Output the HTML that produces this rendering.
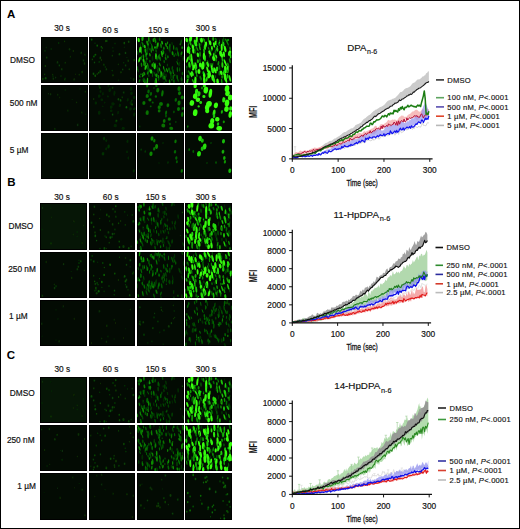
<!DOCTYPE html>
<html><head><meta charset="utf-8"><style>
html,body{margin:0;padding:0;background:#fff;}
body{width:520px;height:529px;overflow:hidden;}
svg{display:block;font-family:"Liberation Sans", sans-serif;}
</style></head><body>
<svg width="520" height="529" viewBox="0 0 520 529">
<defs><filter id="bl" x="-20%" y="-20%" width="140%" height="140%"><feGaussianBlur stdDeviation="0.45"/></filter></defs>
<rect x="0" y="0" width="520" height="529" fill="#fff"/>
<rect x="41" y="37" width="47" height="46" fill="#000"/>
<rect x="42" y="38" width="45" height="44" fill="#030b03"/>
<svg x="41" y="37" width="47" height="46" overflow="hidden"><g filter="url(#bl)">
<ellipse cx="42.5" cy="23.5" rx="0.9" ry="1.2" fill="rgb(10,45,8)" fill-opacity="0.9"/>
<ellipse cx="12.0" cy="39.3" rx="0.5" ry="0.7" fill="rgb(10,62,8)" fill-opacity="0.9"/>
<ellipse cx="5.7" cy="20.7" rx="0.8" ry="1.1" fill="rgb(10,60,8)" fill-opacity="0.9"/>
<ellipse cx="4.3" cy="28.9" rx="0.7" ry="1.0" fill="rgb(10,74,8)" fill-opacity="0.9"/>
<ellipse cx="20.8" cy="32.2" rx="0.9" ry="1.2" fill="rgb(10,48,8)" fill-opacity="0.9"/>
<ellipse cx="38.2" cy="37.8" rx="0.7" ry="1.0" fill="rgb(10,49,8)" fill-opacity="0.9"/>
<ellipse cx="18.3" cy="28.4" rx="0.8" ry="1.1" fill="rgb(10,59,8)" fill-opacity="0.9"/>
<ellipse cx="33.1" cy="42.6" rx="0.7" ry="0.9" fill="rgb(10,41,8)" fill-opacity="0.9"/>
<ellipse cx="3.7" cy="37.3" rx="0.7" ry="0.9" fill="rgb(10,62,8)" fill-opacity="0.9"/>
<ellipse cx="16.5" cy="25.4" rx="0.9" ry="1.3" fill="rgb(10,50,8)" fill-opacity="0.9"/>
<ellipse cx="33.2" cy="42.4" rx="1.0" ry="1.3" fill="rgb(10,40,8)" fill-opacity="0.9"/>
<ellipse cx="14.6" cy="40.6" rx="0.8" ry="1.1" fill="rgb(10,46,8)" fill-opacity="0.9"/>
<ellipse cx="23.8" cy="42.4" rx="0.8" ry="1.2" fill="rgb(10,55,8)" fill-opacity="0.9"/>
<ellipse cx="41.1" cy="35.1" rx="1.0" ry="1.4" fill="rgb(10,47,8)" fill-opacity="0.9"/>
<ellipse cx="43.9" cy="17.7" rx="0.9" ry="1.2" fill="rgb(10,40,8)" fill-opacity="0.9"/>
<ellipse cx="43.5" cy="26.5" rx="1.0" ry="1.4" fill="rgb(10,44,8)" fill-opacity="0.9"/>
<ellipse cx="24.2" cy="25.8" rx="0.7" ry="1.0" fill="rgb(10,53,8)" fill-opacity="0.9"/>
<ellipse cx="17.7" cy="6.0" rx="0.6" ry="0.9" fill="rgb(10,62,8)" fill-opacity="0.9"/>
<ellipse cx="23.6" cy="4.4" rx="0.6" ry="0.8" fill="rgb(10,57,8)" fill-opacity="0.9"/>
<ellipse cx="10.2" cy="11.9" rx="0.7" ry="1.0" fill="rgb(10,49,8)" fill-opacity="0.9"/>
<ellipse cx="24.2" cy="41.4" rx="0.6" ry="0.8" fill="rgb(10,57,8)" fill-opacity="0.9"/>
<ellipse cx="11.7" cy="37.7" rx="0.7" ry="1.0" fill="rgb(10,50,8)" fill-opacity="0.9"/>
<ellipse cx="4.0" cy="13.9" rx="0.5" ry="0.8" fill="rgb(10,75,8)" fill-opacity="0.9"/>
<ellipse cx="28.5" cy="12.2" rx="0.9" ry="1.3" fill="rgb(10,47,8)" fill-opacity="0.9"/>
<ellipse cx="34.5" cy="37.3" rx="0.6" ry="0.8" fill="rgb(10,42,8)" fill-opacity="0.9"/>
<ellipse cx="12.3" cy="41.6" rx="0.9" ry="1.3" fill="rgb(10,47,8)" fill-opacity="0.9"/>
<ellipse cx="5.2" cy="10.6" rx="0.5" ry="0.8" fill="rgb(10,58,8)" fill-opacity="0.9"/>
<ellipse cx="40.2" cy="15.9" rx="1.0" ry="1.4" fill="rgb(10,43,8)" fill-opacity="0.9"/>
<ellipse cx="4.7" cy="41.3" rx="1.0" ry="1.3" fill="rgb(10,75,8)" fill-opacity="0.9"/>
<ellipse cx="44.8" cy="43.8" rx="0.6" ry="0.9" fill="rgb(10,39,8)" fill-opacity="0.9"/>
<ellipse cx="1.8" cy="42.0" rx="1.0" ry="1.3" fill="rgb(10,56,8)" fill-opacity="0.9"/>
<ellipse cx="20.0" cy="39.1" rx="0.7" ry="1.0" fill="rgb(10,49,8)" fill-opacity="0.9"/>
<ellipse cx="32.3" cy="14.0" rx="0.8" ry="1.1" fill="rgb(10,50,8)" fill-opacity="0.9"/>
<ellipse cx="29.4" cy="19.7" rx="0.7" ry="1.0" fill="rgb(10,46,8)" fill-opacity="0.9"/>
</g></svg>
<rect x="89" y="37" width="47" height="46" fill="#000"/>
<rect x="90" y="38" width="45" height="44" fill="#030b03"/>
<svg x="89" y="37" width="47" height="46" overflow="hidden"><g filter="url(#bl)">
<ellipse cx="8.2" cy="8.7" rx="0.8" ry="1.1" fill="rgb(10,98,8)" fill-opacity="0.9"/>
<ellipse cx="35.3" cy="6.1" rx="0.9" ry="1.3" fill="rgb(10,78,8)" fill-opacity="0.9"/>
<ellipse cx="12.3" cy="9.9" rx="0.7" ry="0.9" fill="rgb(10,96,8)" fill-opacity="0.9"/>
<ellipse cx="4.9" cy="19.4" rx="0.7" ry="1.0" fill="rgb(10,112,8)" fill-opacity="0.9"/>
<ellipse cx="14.9" cy="27.7" rx="0.9" ry="1.2" fill="rgb(10,53,8)" fill-opacity="0.9"/>
<ellipse cx="39.2" cy="23.8" rx="0.9" ry="1.3" fill="rgb(10,58,8)" fill-opacity="0.9"/>
<ellipse cx="41.9" cy="41.1" rx="0.6" ry="0.9" fill="rgb(10,46,8)" fill-opacity="0.9"/>
<ellipse cx="11.3" cy="20.9" rx="0.9" ry="1.3" fill="rgb(10,64,8)" fill-opacity="0.9"/>
<ellipse cx="35.2" cy="10.2" rx="0.5" ry="0.8" fill="rgb(10,53,8)" fill-opacity="0.9"/>
<ellipse cx="6.6" cy="17.7" rx="0.7" ry="1.0" fill="rgb(10,102,8)" fill-opacity="0.9"/>
<ellipse cx="9.8" cy="35.7" rx="0.7" ry="1.0" fill="rgb(10,87,8)" fill-opacity="0.9"/>
<ellipse cx="5.5" cy="25.5" rx="0.8" ry="1.1" fill="rgb(10,70,8)" fill-opacity="0.9"/>
<ellipse cx="11.2" cy="34.4" rx="0.9" ry="1.3" fill="rgb(10,67,8)" fill-opacity="0.9"/>
<ellipse cx="37.9" cy="20.4" rx="0.5" ry="0.7" fill="rgb(10,53,8)" fill-opacity="0.9"/>
<ellipse cx="31.9" cy="35.3" rx="0.9" ry="1.3" fill="rgb(10,48,8)" fill-opacity="0.9"/>
<ellipse cx="26.0" cy="6.5" rx="0.7" ry="0.9" fill="rgb(10,53,8)" fill-opacity="0.9"/>
<ellipse cx="17.4" cy="32.3" rx="0.8" ry="1.2" fill="rgb(10,54,8)" fill-opacity="0.9"/>
<ellipse cx="34.7" cy="25.8" rx="0.6" ry="0.8" fill="rgb(10,62,8)" fill-opacity="0.9"/>
<ellipse cx="2.7" cy="2.6" rx="0.8" ry="1.2" fill="rgb(10,97,8)" fill-opacity="0.9"/>
<ellipse cx="36.6" cy="28.4" rx="0.8" ry="1.2" fill="rgb(10,60,8)" fill-opacity="0.9"/>
<ellipse cx="12.4" cy="22.9" rx="0.7" ry="1.0" fill="rgb(10,58,8)" fill-opacity="0.9"/>
<ellipse cx="13.2" cy="11.1" rx="0.8" ry="1.1" fill="rgb(10,60,8)" fill-opacity="0.9"/>
<ellipse cx="23.3" cy="18.8" rx="0.7" ry="1.0" fill="rgb(10,56,8)" fill-opacity="0.9"/>
<ellipse cx="5.8" cy="18.0" rx="0.7" ry="1.0" fill="rgb(10,61,8)" fill-opacity="0.9"/>
<ellipse cx="17.8" cy="3.9" rx="0.9" ry="1.2" fill="rgb(10,66,8)" fill-opacity="0.9"/>
<ellipse cx="39.7" cy="4.8" rx="0.9" ry="1.2" fill="rgb(10,69,8)" fill-opacity="0.9"/>
<ellipse cx="4.5" cy="36.8" rx="0.9" ry="1.3" fill="rgb(10,84,8)" fill-opacity="0.9"/>
<ellipse cx="36.5" cy="15.9" rx="0.8" ry="1.2" fill="rgb(10,66,8)" fill-opacity="0.9"/>
<ellipse cx="33.7" cy="32.5" rx="0.8" ry="1.1" fill="rgb(10,63,8)" fill-opacity="0.9"/>
<ellipse cx="40.3" cy="32.3" rx="0.7" ry="1.0" fill="rgb(10,69,8)" fill-opacity="0.9"/>
<ellipse cx="23.9" cy="38.3" rx="0.9" ry="1.2" fill="rgb(10,48,8)" fill-opacity="0.9"/>
<ellipse cx="40.3" cy="32.3" rx="0.5" ry="0.7" fill="rgb(10,55,8)" fill-opacity="0.9"/>
<ellipse cx="23.2" cy="33.6" rx="0.6" ry="0.8" fill="rgb(10,71,8)" fill-opacity="0.9"/>
<ellipse cx="10.2" cy="24.9" rx="0.7" ry="0.9" fill="rgb(10,66,8)" fill-opacity="0.9"/>
<ellipse cx="45.2" cy="23.1" rx="0.9" ry="1.3" fill="rgb(10,57,8)" fill-opacity="0.9"/>
<ellipse cx="16.3" cy="30.1" rx="0.6" ry="0.8" fill="rgb(10,66,8)" fill-opacity="0.9"/>
<ellipse cx="16.8" cy="4.1" rx="0.8" ry="1.2" fill="rgb(10,75,8)" fill-opacity="0.9"/>
<ellipse cx="29.3" cy="27.4" rx="0.6" ry="0.9" fill="rgb(10,54,8)" fill-opacity="0.9"/>
<ellipse cx="44.7" cy="42.5" rx="1.0" ry="1.4" fill="rgb(10,48,8)" fill-opacity="0.9"/>
<ellipse cx="30.4" cy="17.2" rx="0.9" ry="1.2" fill="rgb(10,68,8)" fill-opacity="0.9"/>
<ellipse cx="6.2" cy="38.7" rx="0.9" ry="1.3" fill="rgb(10,88,8)" fill-opacity="0.9"/>
<ellipse cx="8.2" cy="37.0" rx="0.8" ry="1.1" fill="rgb(10,58,8)" fill-opacity="0.9"/>
<ellipse cx="23.8" cy="10.7" rx="0.6" ry="0.8" fill="rgb(10,54,8)" fill-opacity="0.9"/>
<ellipse cx="3.3" cy="22.4" rx="0.6" ry="0.9" fill="rgb(10,76,8)" fill-opacity="0.9"/>
<ellipse cx="6.0" cy="6.3" rx="0.5" ry="0.7" fill="rgb(10,67,8)" fill-opacity="0.9"/>
<ellipse cx="29.3" cy="43.2" rx="0.5" ry="0.8" fill="rgb(10,59,8)" fill-opacity="0.9"/>
<ellipse cx="24.1" cy="14.1" rx="0.6" ry="0.8" fill="rgb(10,55,8)" fill-opacity="0.9"/>
<ellipse cx="12.5" cy="13.4" rx="0.7" ry="1.0" fill="rgb(10,61,8)" fill-opacity="0.9"/>
</g></svg>
<rect x="137" y="37" width="47" height="46" fill="#000"/>
<rect x="138" y="38" width="45" height="44" fill="#030b03"/>
<svg x="137" y="37" width="47" height="46" overflow="hidden"><g filter="url(#bl)">
<ellipse cx="5.5" cy="38.8" rx="0.6" ry="1.5" transform="rotate(14 5.5 38.8)" fill="rgb(16,158,6)"/>
<ellipse cx="38.9" cy="12.0" rx="0.8" ry="1.5" transform="rotate(-12 38.9 12.0)" fill="rgb(1,55,1)"/>
<ellipse cx="45.4" cy="36.5" rx="0.8" ry="1.7" transform="rotate(2 45.4 36.5)" fill="rgb(4,97,3)"/>
<ellipse cx="15.3" cy="10.4" rx="0.6" ry="1.4" transform="rotate(11 15.3 10.4)" fill="rgb(16,156,6)"/>
<ellipse cx="23.2" cy="21.8" rx="0.8" ry="2.2" transform="rotate(-5 23.2 21.8)" fill="rgb(5,103,3)"/>
<ellipse cx="1.0" cy="33.1" rx="0.6" ry="2.5" transform="rotate(-9 1.0 33.1)" fill="rgb(2,77,2)"/>
<ellipse cx="41.1" cy="16.8" rx="0.9" ry="2.8" transform="rotate(-12 41.1 16.8)" fill="rgb(6,110,4)"/>
<ellipse cx="12.2" cy="32.9" rx="0.8" ry="1.9" transform="rotate(-11 12.2 32.9)" fill="rgb(7,117,4)"/>
<ellipse cx="22.2" cy="18.6" rx="0.8" ry="1.9" transform="rotate(8 22.2 18.6)" fill="rgb(3,85,3)"/>
<ellipse cx="24.0" cy="8.7" rx="0.8" ry="2.5" transform="rotate(-6 24.0 8.7)" fill="rgb(10,131,5)"/>
<ellipse cx="10.7" cy="36.2" rx="0.9" ry="1.5" transform="rotate(7 10.7 36.2)" fill="rgb(9,128,5)"/>
<ellipse cx="22.7" cy="2.2" rx="0.8" ry="1.9" transform="rotate(1 22.7 2.2)" fill="rgb(3,86,3)"/>
<ellipse cx="26.4" cy="15.6" rx="0.9" ry="1.9" transform="rotate(5 26.4 15.6)" fill="rgb(13,147,6)"/>
<ellipse cx="8.8" cy="25.8" rx="0.7" ry="1.8" transform="rotate(3 8.8 25.8)" fill="rgb(8,122,4)"/>
<ellipse cx="0.2" cy="31.5" rx="0.7" ry="1.8" transform="rotate(-11 0.2 31.5)" fill="rgb(10,132,5)"/>
<ellipse cx="35.9" cy="33.5" rx="0.6" ry="1.5" transform="rotate(-4 35.9 33.5)" fill="rgb(5,105,3)"/>
<ellipse cx="24.9" cy="17.9" rx="0.9" ry="2.4" transform="rotate(-14 24.9 17.9)" fill="rgb(10,133,5)"/>
<ellipse cx="36.3" cy="40.0" rx="0.8" ry="2.5" transform="rotate(3 36.3 40.0)" fill="rgb(4,95,3)"/>
<ellipse cx="14.2" cy="13.4" rx="0.7" ry="2.5" transform="rotate(-6 14.2 13.4)" fill="rgb(10,131,5)"/>
<ellipse cx="40.7" cy="23.3" rx="0.6" ry="1.5" transform="rotate(1 40.7 23.3)" fill="rgb(0,48,1)"/>
<ellipse cx="21.4" cy="39.8" rx="0.9" ry="1.8" transform="rotate(6 21.4 39.8)" fill="rgb(11,134,5)"/>
<ellipse cx="29.0" cy="38.5" rx="0.9" ry="1.9" transform="rotate(-3 29.0 38.5)" fill="rgb(1,53,1)"/>
<ellipse cx="30.4" cy="27.9" rx="0.6" ry="1.5" transform="rotate(0 30.4 27.9)" fill="rgb(2,68,2)"/>
<ellipse cx="0.2" cy="31.1" rx="0.9" ry="1.8" transform="rotate(12 0.2 31.1)" fill="rgb(3,87,3)"/>
<ellipse cx="17.8" cy="37.0" rx="0.7" ry="2.1" transform="rotate(-7 17.8 37.0)" fill="rgb(2,74,2)"/>
<ellipse cx="18.9" cy="6.0" rx="0.9" ry="2.3" transform="rotate(2 18.9 6.0)" fill="rgb(0,46,1)"/>
<ellipse cx="11.0" cy="8.6" rx="0.7" ry="2.2" transform="rotate(-3 11.0 8.6)" fill="rgb(3,84,3)"/>
<ellipse cx="33.9" cy="36.7" rx="0.9" ry="2.4" transform="rotate(0 33.9 36.7)" fill="rgb(4,90,3)"/>
<ellipse cx="27.3" cy="45.7" rx="0.9" ry="1.5" transform="rotate(12 27.3 45.7)" fill="rgb(0,46,1)"/>
<ellipse cx="10.6" cy="12.6" rx="0.8" ry="2.1" transform="rotate(12 10.6 12.6)" fill="rgb(2,70,2)"/>
<ellipse cx="6.0" cy="8.3" rx="0.8" ry="2.3" transform="rotate(-8 6.0 8.3)" fill="rgb(5,104,3)"/>
<ellipse cx="46.3" cy="21.3" rx="0.7" ry="2.6" transform="rotate(4 46.3 21.3)" fill="rgb(1,59,1)"/>
<ellipse cx="15.0" cy="10.2" rx="0.6" ry="2.2" transform="rotate(5 15.0 10.2)" fill="rgb(5,101,3)"/>
<ellipse cx="7.7" cy="44.0" rx="0.7" ry="2.5" transform="rotate(-4 7.7 44.0)" fill="rgb(13,146,6)"/>
<ellipse cx="30.5" cy="19.9" rx="0.6" ry="1.5" transform="rotate(-5 30.5 19.9)" fill="rgb(5,99,3)"/>
<ellipse cx="8.3" cy="18.5" rx="0.6" ry="2.0" transform="rotate(9 8.3 18.5)" fill="rgb(3,84,3)"/>
<ellipse cx="26.7" cy="37.5" rx="0.8" ry="2.5" transform="rotate(4 26.7 37.5)" fill="rgb(2,70,2)"/>
<ellipse cx="6.6" cy="43.5" rx="0.8" ry="2.0" transform="rotate(-13 6.6 43.5)" fill="rgb(11,135,5)"/>
<ellipse cx="35.3" cy="31.0" rx="0.8" ry="1.9" transform="rotate(6 35.3 31.0)" fill="rgb(3,79,2)"/>
<ellipse cx="30.4" cy="10.6" rx="0.7" ry="1.6" transform="rotate(-4 30.4 10.6)" fill="rgb(11,136,5)"/>
<ellipse cx="15.8" cy="35.5" rx="0.7" ry="1.4" transform="rotate(-2 15.8 35.5)" fill="rgb(4,89,3)"/>
<ellipse cx="15.5" cy="38.1" rx="0.6" ry="2.1" transform="rotate(3 15.5 38.1)" fill="rgb(3,83,2)"/>
<ellipse cx="44.9" cy="45.9" rx="0.6" ry="1.8" transform="rotate(-10 44.9 45.9)" fill="rgb(1,55,1)"/>
<ellipse cx="7.7" cy="27.3" rx="0.9" ry="1.6" transform="rotate(-0 7.7 27.3)" fill="rgb(25,188,8)"/>
<ellipse cx="9.3" cy="18.4" rx="0.6" ry="1.6" transform="rotate(-2 9.3 18.4)" fill="rgb(24,184,8)"/>
<ellipse cx="32.9" cy="13.2" rx="0.8" ry="2.5" transform="rotate(-1 32.9 13.2)" fill="rgb(2,69,2)"/>
<ellipse cx="34.1" cy="39.5" rx="0.9" ry="2.7" transform="rotate(9 34.1 39.5)" fill="rgb(0,50,1)"/>
<ellipse cx="9.3" cy="19.3" rx="0.6" ry="2.7" transform="rotate(-10 9.3 19.3)" fill="rgb(4,91,3)"/>
<ellipse cx="0.6" cy="15.7" rx="0.8" ry="2.2" transform="rotate(-7 0.6 15.7)" fill="rgb(2,68,2)"/>
<ellipse cx="33.3" cy="35.5" rx="0.8" ry="1.5" transform="rotate(-13 33.3 35.5)" fill="rgb(7,112,4)"/>
<ellipse cx="15.9" cy="12.6" rx="0.6" ry="1.6" transform="rotate(-10 15.9 12.6)" fill="rgb(22,177,7)"/>
<ellipse cx="37.0" cy="44.5" rx="0.7" ry="2.3" transform="rotate(-3 37.0 44.5)" fill="rgb(1,61,2)"/>
<ellipse cx="32.7" cy="44.4" rx="0.6" ry="2.2" transform="rotate(-9 32.7 44.4)" fill="rgb(0,38,1)"/>
<ellipse cx="27.2" cy="24.6" rx="0.8" ry="1.5" transform="rotate(-7 27.2 24.6)" fill="rgb(4,95,3)"/>
<ellipse cx="18.2" cy="45.1" rx="0.9" ry="2.4" transform="rotate(-1 18.2 45.1)" fill="rgb(5,104,3)"/>
<ellipse cx="9.3" cy="22.7" rx="0.6" ry="2.6" transform="rotate(-5 9.3 22.7)" fill="rgb(1,59,1)"/>
<ellipse cx="44.1" cy="4.8" rx="0.7" ry="2.3" transform="rotate(9 44.1 4.8)" fill="rgb(4,95,3)"/>
<ellipse cx="26.3" cy="40.7" rx="0.9" ry="2.1" transform="rotate(-5 26.3 40.7)" fill="rgb(5,103,3)"/>
<ellipse cx="22.0" cy="20.3" rx="0.8" ry="2.3" transform="rotate(-7 22.0 20.3)" fill="rgb(10,130,5)"/>
<ellipse cx="21.0" cy="34.1" rx="0.8" ry="2.6" transform="rotate(-8 21.0 34.1)" fill="rgb(3,79,2)"/>
<ellipse cx="43.9" cy="17.8" rx="0.8" ry="2.3" transform="rotate(-7 43.9 17.8)" fill="rgb(0,50,1)"/>
<ellipse cx="19.9" cy="37.7" rx="0.7" ry="1.5" transform="rotate(-5 19.9 37.7)" fill="rgb(13,147,6)"/>
<ellipse cx="44.5" cy="42.4" rx="0.9" ry="1.7" transform="rotate(-11 44.5 42.4)" fill="rgb(4,92,3)"/>
<ellipse cx="17.0" cy="27.1" rx="0.7" ry="2.3" transform="rotate(-20 17.0 27.1)" fill="rgb(10,132,5)"/>
<ellipse cx="10.1" cy="16.3" rx="0.9" ry="1.5" transform="rotate(-3 10.1 16.3)" fill="rgb(5,104,3)"/>
<ellipse cx="19.2" cy="44.1" rx="0.7" ry="2.6" transform="rotate(-14 19.2 44.1)" fill="rgb(8,120,4)"/>
<ellipse cx="32.7" cy="9.3" rx="0.9" ry="2.8" transform="rotate(6 32.7 9.3)" fill="rgb(5,103,3)"/>
<ellipse cx="7.1" cy="43.3" rx="0.6" ry="1.7" transform="rotate(-17 7.1 43.3)" fill="rgb(3,80,2)"/>
<ellipse cx="32.0" cy="32.2" rx="0.6" ry="1.8" transform="rotate(-2 32.0 32.2)" fill="rgb(8,120,4)"/>
<ellipse cx="18.4" cy="4.0" rx="0.9" ry="2.0" transform="rotate(-4 18.4 4.0)" fill="rgb(12,139,5)"/>
<ellipse cx="7.3" cy="26.8" rx="0.9" ry="2.5" transform="rotate(1 7.3 26.8)" fill="rgb(19,169,7)"/>
<ellipse cx="20.1" cy="30.1" rx="0.6" ry="2.1" transform="rotate(7 20.1 30.1)" fill="rgb(2,78,2)"/>
<ellipse cx="10.2" cy="13.4" rx="0.9" ry="2.8" transform="rotate(-5 10.2 13.4)" fill="rgb(1,62,2)"/>
<ellipse cx="15.5" cy="21.6" rx="0.8" ry="2.5" transform="rotate(-4 15.5 21.6)" fill="rgb(0,43,1)"/>
<ellipse cx="35.1" cy="6.6" rx="0.9" ry="1.8" transform="rotate(-16 35.1 6.6)" fill="rgb(0,38,1)"/>
<ellipse cx="4.8" cy="1.3" rx="0.7" ry="2.6" transform="rotate(-20 4.8 1.3)" fill="rgb(3,80,2)"/>
<ellipse cx="13.1" cy="5.1" rx="0.8" ry="2.3" transform="rotate(-10 13.1 5.1)" fill="rgb(2,74,2)"/>
<ellipse cx="36.8" cy="44.0" rx="0.9" ry="1.6" transform="rotate(10 36.8 44.0)" fill="rgb(3,84,3)"/>
<ellipse cx="6.9" cy="41.9" rx="0.7" ry="1.5" transform="rotate(-2 6.9 41.9)" fill="rgb(2,74,2)"/>
<ellipse cx="42.2" cy="27.2" rx="0.9" ry="2.5" transform="rotate(8 42.2 27.2)" fill="rgb(0,48,1)"/>
<ellipse cx="32.6" cy="34.2" rx="0.9" ry="2.0" transform="rotate(-1 32.6 34.2)" fill="rgb(2,73,2)"/>
<ellipse cx="1.7" cy="3.0" rx="1.2" ry="2.2" transform="rotate(-9 1.7 3.0)" fill="rgb(49,243,11)"/>
<ellipse cx="5.6" cy="1.7" rx="1.1" ry="2.5" transform="rotate(8 5.6 1.7)" fill="rgb(19,168,7)"/>
<ellipse cx="11.8" cy="2.2" rx="0.7" ry="2.7" transform="rotate(1 11.8 2.2)" fill="rgb(17,162,6)"/>
<ellipse cx="16.5" cy="3.2" rx="1.0" ry="1.9" transform="rotate(-2 16.5 3.2)" fill="rgb(15,151,6)"/>
<ellipse cx="3.4" cy="8.4" rx="0.4" ry="2.1" transform="rotate(4 3.4 8.4)" fill="rgb(4,89,3)"/>
<ellipse cx="5.4" cy="6.3" rx="0.8" ry="2.0" transform="rotate(-20 5.4 6.3)" fill="rgb(7,113,4)"/>
<ellipse cx="10.5" cy="6.1" rx="1.0" ry="2.8" transform="rotate(-17 10.5 6.1)" fill="rgb(14,149,6)"/>
<ellipse cx="14.6" cy="7.9" rx="0.5" ry="1.5" transform="rotate(-4 14.6 7.9)" fill="rgb(6,110,4)"/>
<ellipse cx="20.7" cy="7.9" rx="1.0" ry="2.7" transform="rotate(8 20.7 7.9)" fill="rgb(23,181,7)"/>
<ellipse cx="25.1" cy="5.7" rx="0.9" ry="1.9" transform="rotate(-13 25.1 5.7)" fill="rgb(19,169,7)"/>
<ellipse cx="29.0" cy="7.9" rx="0.7" ry="2.2" transform="rotate(-10 29.0 7.9)" fill="rgb(22,176,7)"/>
<ellipse cx="30.4" cy="6.1" rx="0.7" ry="1.6" transform="rotate(13 30.4 6.1)" fill="rgb(10,132,5)"/>
<ellipse cx="3.3" cy="12.7" rx="1.3" ry="3.1" transform="rotate(6 3.3 12.7)" fill="rgb(38,220,9)"/>
<ellipse cx="7.8" cy="9.7" rx="1.0" ry="1.9" transform="rotate(-10 7.8 9.7)" fill="rgb(29,198,8)"/>
<ellipse cx="12.3" cy="11.9" rx="0.5" ry="2.1" transform="rotate(-23 12.3 11.9)" fill="rgb(4,91,3)"/>
<ellipse cx="14.9" cy="11.0" rx="0.6" ry="2.1" transform="rotate(-13 14.9 11.0)" fill="rgb(6,108,4)"/>
<ellipse cx="19.9" cy="10.5" rx="0.8" ry="1.8" transform="rotate(-3 19.9 10.5)" fill="rgb(9,127,5)"/>
<ellipse cx="26.9" cy="11.2" rx="0.6" ry="1.8" transform="rotate(-0 26.9 11.2)" fill="rgb(15,155,6)"/>
<ellipse cx="32.2" cy="12.4" rx="0.7" ry="1.6" transform="rotate(-7 32.2 12.4)" fill="rgb(3,86,3)"/>
<ellipse cx="36.7" cy="10.6" rx="0.6" ry="2.5" transform="rotate(-1 36.7 10.6)" fill="rgb(9,127,5)"/>
<ellipse cx="40.1" cy="12.0" rx="0.6" ry="2.0" transform="rotate(-11 40.1 12.0)" fill="rgb(5,101,3)"/>
<ellipse cx="4.4" cy="14.5" rx="0.6" ry="2.4" transform="rotate(-2 4.4 14.5)" fill="rgb(15,152,6)"/>
<ellipse cx="8.4" cy="13.7" rx="0.9" ry="2.2" transform="rotate(-4 8.4 13.7)" fill="rgb(17,159,6)"/>
<ellipse cx="19.1" cy="13.9" rx="0.7" ry="1.9" transform="rotate(-7 19.1 13.9)" fill="rgb(5,102,3)"/>
<ellipse cx="24.9" cy="16.0" rx="0.9" ry="2.3" transform="rotate(-19 24.9 16.0)" fill="rgb(23,179,7)"/>
<ellipse cx="35.6" cy="16.3" rx="1.0" ry="2.0" transform="rotate(-8 35.6 16.3)" fill="rgb(12,140,5)"/>
<ellipse cx="44.6" cy="16.1" rx="0.9" ry="2.0" transform="rotate(12 44.6 16.1)" fill="rgb(9,125,4)"/>
<ellipse cx="4.4" cy="20.7" rx="0.7" ry="2.1" transform="rotate(5 4.4 20.7)" fill="rgb(5,104,3)"/>
<ellipse cx="6.4" cy="19.8" rx="0.7" ry="2.5" transform="rotate(-6 6.4 19.8)" fill="rgb(14,150,6)"/>
<ellipse cx="12.9" cy="17.8" rx="0.8" ry="1.8" transform="rotate(-10 12.9 17.8)" fill="rgb(14,149,6)"/>
<ellipse cx="19.0" cy="19.3" rx="1.0" ry="3.2" transform="rotate(-1 19.0 19.3)" fill="rgb(29,199,8)"/>
<ellipse cx="28.7" cy="18.1" rx="0.5" ry="1.9" transform="rotate(6 28.7 18.1)" fill="rgb(5,102,3)"/>
<ellipse cx="31.2" cy="19.6" rx="0.5" ry="1.4" transform="rotate(-16 31.2 19.6)" fill="rgb(6,105,3)"/>
<ellipse cx="37.1" cy="18.7" rx="0.8" ry="1.4" transform="rotate(-4 37.1 18.7)" fill="rgb(5,104,3)"/>
<ellipse cx="38.9" cy="17.4" rx="0.5" ry="1.7" transform="rotate(-12 38.9 17.4)" fill="rgb(5,100,3)"/>
<ellipse cx="2.4" cy="22.6" rx="0.9" ry="3.0" transform="rotate(18 2.4 22.6)" fill="rgb(46,237,11)"/>
<ellipse cx="6.6" cy="23.6" rx="1.0" ry="2.2" transform="rotate(-8 6.6 23.6)" fill="rgb(28,196,8)"/>
<ellipse cx="12.9" cy="24.2" rx="0.8" ry="1.5" transform="rotate(-3 12.9 24.2)" fill="rgb(5,98,3)"/>
<ellipse cx="20.1" cy="21.4" rx="0.6" ry="2.3" transform="rotate(3 20.1 21.4)" fill="rgb(8,120,4)"/>
<ellipse cx="28.7" cy="21.6" rx="0.9" ry="1.7" transform="rotate(-16 28.7 21.6)" fill="rgb(8,118,4)"/>
<ellipse cx="4.5" cy="27.7" rx="0.8" ry="2.3" transform="rotate(-7 4.5 27.7)" fill="rgb(10,129,5)"/>
<ellipse cx="7.4" cy="26.9" rx="0.8" ry="2.7" transform="rotate(-10 7.4 26.9)" fill="rgb(11,134,5)"/>
<ellipse cx="10.8" cy="28.5" rx="0.7" ry="2.6" transform="rotate(-13 10.8 28.5)" fill="rgb(12,141,5)"/>
<ellipse cx="15.4" cy="28.1" rx="1.0" ry="1.9" transform="rotate(1 15.4 28.1)" fill="rgb(18,164,6)"/>
<ellipse cx="18.1" cy="28.2" rx="0.8" ry="2.8" transform="rotate(-1 18.1 28.2)" fill="rgb(12,141,5)"/>
<ellipse cx="22.8" cy="27.5" rx="0.8" ry="2.1" transform="rotate(-19 22.8 27.5)" fill="rgb(9,125,4)"/>
<ellipse cx="40.4" cy="26.0" rx="0.5" ry="2.2" transform="rotate(-21 40.4 26.0)" fill="rgb(8,119,4)"/>
<ellipse cx="8.7" cy="30.5" rx="1.1" ry="2.5" transform="rotate(16 8.7 30.5)" fill="rgb(28,197,8)"/>
<ellipse cx="10.8" cy="31.1" rx="0.5" ry="1.7" transform="rotate(9 10.8 31.1)" fill="rgb(7,116,4)"/>
<ellipse cx="17.6" cy="29.4" rx="1.2" ry="2.9" transform="rotate(3 17.6 29.4)" fill="rgb(31,204,9)"/>
<ellipse cx="22.5" cy="32.5" rx="0.7" ry="2.4" transform="rotate(-15 22.5 32.5)" fill="rgb(17,162,6)"/>
<ellipse cx="26.7" cy="30.9" rx="0.6" ry="2.0" transform="rotate(-11 26.7 30.9)" fill="rgb(17,159,6)"/>
<ellipse cx="32.0" cy="32.0" rx="0.8" ry="1.6" transform="rotate(4 32.0 32.0)" fill="rgb(4,92,3)"/>
<ellipse cx="40.4" cy="32.5" rx="0.7" ry="2.5" transform="rotate(-4 40.4 32.5)" fill="rgb(6,108,4)"/>
<ellipse cx="42.6" cy="32.4" rx="0.6" ry="2.2" transform="rotate(1 42.6 32.4)" fill="rgb(3,88,3)"/>
<ellipse cx="7.3" cy="36.6" rx="0.9" ry="1.9" transform="rotate(-20 7.3 36.6)" fill="rgb(12,139,5)"/>
<ellipse cx="11.2" cy="34.9" rx="0.7" ry="1.7" transform="rotate(-6 11.2 34.9)" fill="rgb(6,111,4)"/>
<ellipse cx="13.9" cy="34.5" rx="1.3" ry="2.2" transform="rotate(-3 13.9 34.5)" fill="rgb(32,205,9)"/>
<ellipse cx="24.4" cy="36.8" rx="1.1" ry="2.8" transform="rotate(-8 24.4 36.8)" fill="rgb(21,174,7)"/>
<ellipse cx="27.8" cy="33.7" rx="0.8" ry="1.8" transform="rotate(-11 27.8 33.7)" fill="rgb(6,108,4)"/>
<ellipse cx="30.0" cy="33.3" rx="0.7" ry="2.3" transform="rotate(-20 30.0 33.3)" fill="rgb(14,147,6)"/>
<ellipse cx="36.3" cy="35.8" rx="0.7" ry="1.5" transform="rotate(-14 36.3 35.8)" fill="rgb(7,114,4)"/>
<ellipse cx="2.8" cy="39.4" rx="0.8" ry="1.5" transform="rotate(-13 2.8 39.4)" fill="rgb(5,98,3)"/>
<ellipse cx="6.1" cy="37.8" rx="0.6" ry="1.8" transform="rotate(-22 6.1 37.8)" fill="rgb(13,145,5)"/>
<ellipse cx="11.8" cy="38.5" rx="0.5" ry="1.4" transform="rotate(-5 11.8 38.5)" fill="rgb(4,90,3)"/>
<ellipse cx="19.2" cy="38.5" rx="0.9" ry="1.7" transform="rotate(-5 19.2 38.5)" fill="rgb(16,156,6)"/>
<ellipse cx="23.8" cy="39.1" rx="0.9" ry="1.6" transform="rotate(6 23.8 39.1)" fill="rgb(9,125,4)"/>
<ellipse cx="27.8" cy="40.7" rx="0.9" ry="2.2" transform="rotate(-5 27.8 40.7)" fill="rgb(9,126,4)"/>
<ellipse cx="40.2" cy="40.2" rx="0.8" ry="2.4" transform="rotate(-7 40.2 40.2)" fill="rgb(6,105,3)"/>
<ellipse cx="2.5" cy="43.8" rx="0.7" ry="1.9" transform="rotate(16 2.5 43.8)" fill="rgb(7,112,4)"/>
<ellipse cx="8.4" cy="44.7" rx="0.6" ry="2.3" transform="rotate(-27 8.4 44.7)" fill="rgb(5,97,3)"/>
<ellipse cx="10.4" cy="43.7" rx="0.8" ry="3.1" transform="rotate(4 10.4 43.7)" fill="rgb(21,175,7)"/>
<ellipse cx="19.2" cy="43.5" rx="0.8" ry="2.9" transform="rotate(-4 19.2 43.5)" fill="rgb(21,173,7)"/>
<ellipse cx="21.8" cy="42.1" rx="0.5" ry="1.9" transform="rotate(9 21.8 42.1)" fill="rgb(6,107,4)"/>
<ellipse cx="28.9" cy="43.3" rx="0.7" ry="1.8" transform="rotate(-14 28.9 43.3)" fill="rgb(5,100,3)"/>
<ellipse cx="32.6" cy="44.5" rx="0.8" ry="2.0" transform="rotate(-5 32.6 44.5)" fill="rgb(10,131,5)"/>
<ellipse cx="41.0" cy="43.1" rx="0.6" ry="1.8" transform="rotate(-16 41.0 43.1)" fill="rgb(5,104,3)"/>
<ellipse cx="44.8" cy="41.3" rx="0.5" ry="2.1" transform="rotate(-13 44.8 41.3)" fill="rgb(3,87,3)"/>
<ellipse cx="9.9" cy="21.7" rx="0.9" ry="1.3" fill="rgb(10,130,8)" fill-opacity="0.9"/>
<ellipse cx="34.9" cy="42.7" rx="0.7" ry="1.0" fill="rgb(10,114,8)" fill-opacity="0.9"/>
<ellipse cx="45.2" cy="10.7" rx="1.0" ry="1.4" fill="rgb(10,130,8)" fill-opacity="0.9"/>
<ellipse cx="37.7" cy="38.1" rx="0.8" ry="1.2" fill="rgb(10,85,8)" fill-opacity="0.9"/>
<ellipse cx="4.0" cy="37.2" rx="0.5" ry="0.7" fill="rgb(10,230,8)" fill-opacity="0.9"/>
<ellipse cx="18.0" cy="10.5" rx="1.0" ry="1.3" fill="rgb(10,184,8)" fill-opacity="0.9"/>
<ellipse cx="26.0" cy="13.6" rx="0.8" ry="1.1" fill="rgb(10,131,8)" fill-opacity="0.9"/>
<ellipse cx="43.3" cy="7.3" rx="0.8" ry="1.1" fill="rgb(10,117,8)" fill-opacity="0.9"/>
<ellipse cx="17.8" cy="1.6" rx="0.7" ry="1.0" fill="rgb(10,161,8)" fill-opacity="0.9"/>
<ellipse cx="9.3" cy="16.9" rx="1.0" ry="1.4" fill="rgb(10,159,8)" fill-opacity="0.9"/>
</g></svg>
<rect x="185" y="37" width="47" height="46" fill="#000"/>
<rect x="186" y="38" width="45" height="44" fill="#030b03"/>
<svg x="185" y="37" width="47" height="46" overflow="hidden"><g filter="url(#bl)">
<ellipse cx="3.3" cy="6.9" rx="0.8" ry="2.0" transform="rotate(16 3.3 6.9)" fill="rgb(1,56,1)"/>
<ellipse cx="23.3" cy="7.8" rx="0.8" ry="2.1" transform="rotate(-8 23.3 7.8)" fill="rgb(0,44,1)"/>
<ellipse cx="13.5" cy="6.8" rx="0.8" ry="2.6" transform="rotate(-2 13.5 6.8)" fill="rgb(2,69,2)"/>
<ellipse cx="9.8" cy="41.8" rx="0.6" ry="2.8" transform="rotate(-4 9.8 41.8)" fill="rgb(8,122,4)"/>
<ellipse cx="9.7" cy="4.2" rx="0.8" ry="2.1" transform="rotate(-11 9.7 4.2)" fill="rgb(4,89,3)"/>
<ellipse cx="34.0" cy="7.4" rx="0.8" ry="1.9" transform="rotate(-30 34.0 7.4)" fill="rgb(7,113,4)"/>
<ellipse cx="45.8" cy="15.4" rx="0.7" ry="1.6" transform="rotate(-6 45.8 15.4)" fill="rgb(1,55,1)"/>
<ellipse cx="37.2" cy="25.6" rx="0.6" ry="1.8" transform="rotate(-17 37.2 25.6)" fill="rgb(4,89,3)"/>
<ellipse cx="1.7" cy="40.4" rx="0.8" ry="1.9" transform="rotate(1 1.7 40.4)" fill="rgb(0,51,1)"/>
<ellipse cx="19.9" cy="27.4" rx="0.7" ry="2.3" transform="rotate(0 19.9 27.4)" fill="rgb(4,94,3)"/>
<ellipse cx="6.5" cy="3.3" rx="0.7" ry="2.1" transform="rotate(2 6.5 3.3)" fill="rgb(1,53,1)"/>
<ellipse cx="19.5" cy="3.8" rx="0.7" ry="2.0" transform="rotate(-4 19.5 3.8)" fill="rgb(10,133,5)"/>
<ellipse cx="26.5" cy="30.1" rx="0.6" ry="2.0" transform="rotate(9 26.5 30.1)" fill="rgb(1,56,1)"/>
<ellipse cx="28.6" cy="18.6" rx="0.8" ry="1.9" transform="rotate(2 28.6 18.6)" fill="rgb(3,85,3)"/>
<ellipse cx="10.9" cy="31.8" rx="0.7" ry="2.1" transform="rotate(-29 10.9 31.8)" fill="rgb(3,81,2)"/>
<ellipse cx="10.7" cy="12.2" rx="0.9" ry="2.0" transform="rotate(-8 10.7 12.2)" fill="rgb(1,57,1)"/>
<ellipse cx="34.3" cy="29.2" rx="0.9" ry="1.7" transform="rotate(-9 34.3 29.2)" fill="rgb(3,86,3)"/>
<ellipse cx="25.6" cy="8.4" rx="0.7" ry="2.5" transform="rotate(-6 25.6 8.4)" fill="rgb(1,51,1)"/>
<ellipse cx="28.3" cy="26.9" rx="0.7" ry="1.8" transform="rotate(9 28.3 26.9)" fill="rgb(0,47,1)"/>
<ellipse cx="29.9" cy="16.5" rx="0.6" ry="2.8" transform="rotate(-2 29.9 16.5)" fill="rgb(1,66,2)"/>
<ellipse cx="37.5" cy="45.4" rx="0.7" ry="2.0" transform="rotate(-7 37.5 45.4)" fill="rgb(0,37,1)"/>
<ellipse cx="27.1" cy="33.8" rx="0.9" ry="2.1" transform="rotate(-23 27.1 33.8)" fill="rgb(8,120,4)"/>
<ellipse cx="35.0" cy="36.5" rx="0.9" ry="2.1" transform="rotate(3 35.0 36.5)" fill="rgb(7,114,4)"/>
<ellipse cx="29.1" cy="18.9" rx="0.8" ry="2.0" transform="rotate(-2 29.1 18.9)" fill="rgb(6,105,3)"/>
<ellipse cx="30.2" cy="11.0" rx="0.8" ry="2.7" transform="rotate(0 30.2 11.0)" fill="rgb(0,43,1)"/>
<ellipse cx="37.6" cy="5.8" rx="0.8" ry="2.3" transform="rotate(1 37.6 5.8)" fill="rgb(8,118,4)"/>
<ellipse cx="37.8" cy="3.6" rx="0.7" ry="1.8" transform="rotate(5 37.8 3.6)" fill="rgb(9,127,5)"/>
<ellipse cx="38.7" cy="2.7" rx="0.8" ry="2.7" transform="rotate(-3 38.7 2.7)" fill="rgb(3,80,2)"/>
<ellipse cx="1.8" cy="33.8" rx="0.6" ry="2.8" transform="rotate(-12 1.8 33.8)" fill="rgb(1,57,1)"/>
<ellipse cx="5.3" cy="30.1" rx="0.9" ry="1.9" transform="rotate(4 5.3 30.1)" fill="rgb(1,66,2)"/>
<ellipse cx="31.5" cy="11.4" rx="0.9" ry="1.9" transform="rotate(2 31.5 11.4)" fill="rgb(1,61,2)"/>
<ellipse cx="18.6" cy="36.8" rx="0.7" ry="2.4" transform="rotate(9 18.6 36.8)" fill="rgb(1,56,1)"/>
<ellipse cx="3.9" cy="28.4" rx="0.9" ry="2.2" transform="rotate(-2 3.9 28.4)" fill="rgb(10,131,5)"/>
<ellipse cx="14.8" cy="17.5" rx="0.9" ry="2.3" transform="rotate(-7 14.8 17.5)" fill="rgb(8,120,4)"/>
<ellipse cx="31.2" cy="7.6" rx="0.8" ry="1.5" transform="rotate(-5 31.2 7.6)" fill="rgb(7,113,4)"/>
<ellipse cx="34.3" cy="35.9" rx="0.8" ry="2.5" transform="rotate(3 34.3 35.9)" fill="rgb(8,120,4)"/>
<ellipse cx="19.6" cy="21.2" rx="0.9" ry="2.4" transform="rotate(3 19.6 21.2)" fill="rgb(3,82,2)"/>
<ellipse cx="16.1" cy="7.1" rx="0.7" ry="1.8" transform="rotate(11 16.1 7.1)" fill="rgb(2,70,2)"/>
<ellipse cx="20.5" cy="43.2" rx="0.6" ry="2.5" transform="rotate(12 20.5 43.2)" fill="rgb(9,128,5)"/>
<ellipse cx="4.1" cy="39.7" rx="0.9" ry="2.5" transform="rotate(9 4.1 39.7)" fill="rgb(3,81,2)"/>
<ellipse cx="14.5" cy="20.2" rx="0.9" ry="1.8" transform="rotate(-1 14.5 20.2)" fill="rgb(1,59,1)"/>
<ellipse cx="43.1" cy="8.7" rx="0.7" ry="2.2" transform="rotate(9 43.1 8.7)" fill="rgb(0,44,1)"/>
<ellipse cx="36.0" cy="18.2" rx="0.8" ry="2.2" transform="rotate(-7 36.0 18.2)" fill="rgb(9,125,4)"/>
<ellipse cx="40.2" cy="10.0" rx="0.6" ry="1.4" transform="rotate(-11 40.2 10.0)" fill="rgb(0,49,1)"/>
<ellipse cx="9.5" cy="8.4" rx="0.8" ry="2.6" transform="rotate(-14 9.5 8.4)" fill="rgb(3,81,2)"/>
<ellipse cx="46.8" cy="44.5" rx="0.6" ry="2.1" transform="rotate(-3 46.8 44.5)" fill="rgb(0,49,1)"/>
<ellipse cx="2.9" cy="3.7" rx="0.8" ry="2.2" transform="rotate(3 2.9 3.7)" fill="rgb(5,99,3)"/>
<ellipse cx="25.3" cy="27.7" rx="0.8" ry="1.6" transform="rotate(-9 25.3 27.7)" fill="rgb(7,116,4)"/>
<ellipse cx="11.7" cy="26.6" rx="0.6" ry="1.8" transform="rotate(-3 11.7 26.6)" fill="rgb(1,53,1)"/>
<ellipse cx="1.7" cy="3.0" rx="1.3" ry="2.3" transform="rotate(-9 1.7 3.0)" fill="rgb(55,255,12)"/>
<ellipse cx="5.6" cy="1.7" rx="1.5" ry="3.3" transform="rotate(8 5.6 1.7)" fill="rgb(53,252,11)"/>
<ellipse cx="11.8" cy="2.2" rx="1.0" ry="3.6" transform="rotate(1 11.8 2.2)" fill="rgb(54,253,11)"/>
<ellipse cx="16.5" cy="3.2" rx="1.5" ry="2.5" transform="rotate(-2 16.5 3.2)" fill="rgb(49,245,11)"/>
<ellipse cx="18.9" cy="3.3" rx="0.7" ry="2.6" transform="rotate(-19 18.9 3.3)" fill="rgb(13,144,5)"/>
<ellipse cx="23.4" cy="2.2" rx="0.6" ry="2.7" transform="rotate(0 23.4 2.2)" fill="rgb(14,149,6)"/>
<ellipse cx="28.2" cy="1.9" rx="1.1" ry="2.0" transform="rotate(-3 28.2 1.9)" fill="rgb(18,165,6)"/>
<ellipse cx="31.1" cy="2.9" rx="0.8" ry="2.2" transform="rotate(-22 31.1 2.9)" fill="rgb(6,108,4)"/>
<ellipse cx="34.5" cy="4.8" rx="0.7" ry="2.2" transform="rotate(-0 34.5 4.8)" fill="rgb(6,111,4)"/>
<ellipse cx="41.1" cy="3.3" rx="0.7" ry="2.0" transform="rotate(-22 41.1 3.3)" fill="rgb(14,150,6)"/>
<ellipse cx="42.2" cy="4.2" rx="0.7" ry="1.6" transform="rotate(-3 42.2 4.2)" fill="rgb(7,117,4)"/>
<ellipse cx="3.4" cy="8.4" rx="0.6" ry="2.5" transform="rotate(4 3.4 8.4)" fill="rgb(10,133,5)"/>
<ellipse cx="5.4" cy="6.3" rx="1.0" ry="2.4" transform="rotate(-20 5.4 6.3)" fill="rgb(20,171,7)"/>
<ellipse cx="10.5" cy="6.1" rx="1.4" ry="3.6" transform="rotate(-17 10.5 6.1)" fill="rgb(43,232,10)"/>
<ellipse cx="14.6" cy="7.9" rx="0.7" ry="1.9" transform="rotate(-4 14.6 7.9)" fill="rgb(22,179,7)"/>
<ellipse cx="20.7" cy="7.9" rx="1.3" ry="3.4" transform="rotate(8 20.7 7.9)" fill="rgb(55,255,12)"/>
<ellipse cx="25.1" cy="5.7" rx="1.3" ry="2.5" transform="rotate(-13 25.1 5.7)" fill="rgb(55,255,12)"/>
<ellipse cx="29.0" cy="7.9" rx="0.9" ry="2.8" transform="rotate(-10 29.0 7.9)" fill="rgb(55,255,12)"/>
<ellipse cx="30.4" cy="6.1" rx="1.1" ry="2.3" transform="rotate(13 30.4 6.1)" fill="rgb(55,255,12)"/>
<ellipse cx="34.5" cy="7.0" rx="0.5" ry="2.1" transform="rotate(-13 34.5 7.0)" fill="rgb(7,112,4)"/>
<ellipse cx="38.4" cy="7.2" rx="1.1" ry="2.4" transform="rotate(-4 38.4 7.2)" fill="rgb(30,201,8)"/>
<ellipse cx="42.6" cy="6.3" rx="0.7" ry="2.5" transform="rotate(-25 42.6 6.3)" fill="rgb(9,125,4)"/>
<ellipse cx="3.3" cy="12.7" rx="1.5" ry="3.5" transform="rotate(6 3.3 12.7)" fill="rgb(55,255,12)"/>
<ellipse cx="7.8" cy="9.7" rx="1.2" ry="2.3" transform="rotate(-10 7.8 9.7)" fill="rgb(55,255,12)"/>
<ellipse cx="12.3" cy="11.9" rx="0.7" ry="2.6" transform="rotate(-23 12.3 11.9)" fill="rgb(13,147,6)"/>
<ellipse cx="14.9" cy="11.0" rx="0.8" ry="2.6" transform="rotate(-13 14.9 11.0)" fill="rgb(22,177,7)"/>
<ellipse cx="19.9" cy="10.5" rx="1.2" ry="2.5" transform="rotate(-3 19.9 10.5)" fill="rgb(39,223,10)"/>
<ellipse cx="23.7" cy="11.6" rx="0.7" ry="1.8" transform="rotate(-20 23.7 11.6)" fill="rgb(10,130,5)"/>
<ellipse cx="26.9" cy="11.2" rx="0.9" ry="2.5" transform="rotate(-0 26.9 11.2)" fill="rgb(55,255,12)"/>
<ellipse cx="32.2" cy="12.4" rx="1.1" ry="2.3" transform="rotate(-7 32.2 12.4)" fill="rgb(27,194,8)"/>
<ellipse cx="36.7" cy="10.6" rx="1.0" ry="3.8" transform="rotate(-1 36.7 10.6)" fill="rgb(55,255,12)"/>
<ellipse cx="40.1" cy="12.0" rx="1.2" ry="3.2" transform="rotate(-11 40.1 12.0)" fill="rgb(54,254,11)"/>
<ellipse cx="45.1" cy="11.7" rx="0.9" ry="2.1" transform="rotate(-6 45.1 11.7)" fill="rgb(11,135,5)"/>
<ellipse cx="4.4" cy="14.5" rx="0.9" ry="3.1" transform="rotate(-2 4.4 14.5)" fill="rgb(42,230,10)"/>
<ellipse cx="8.4" cy="13.7" rx="1.3" ry="2.9" transform="rotate(-4 8.4 13.7)" fill="rgb(52,249,11)"/>
<ellipse cx="9.9" cy="15.0" rx="0.9" ry="1.7" transform="rotate(-7 9.9 15.0)" fill="rgb(9,125,4)"/>
<ellipse cx="15.2" cy="16.7" rx="0.6" ry="2.8" transform="rotate(-3 15.2 16.7)" fill="rgb(12,142,5)"/>
<ellipse cx="19.1" cy="13.9" rx="1.0" ry="2.5" transform="rotate(-7 19.1 13.9)" fill="rgb(22,179,7)"/>
<ellipse cx="24.9" cy="16.0" rx="1.2" ry="2.9" transform="rotate(-19 24.9 16.0)" fill="rgb(55,255,12)"/>
<ellipse cx="26.0" cy="13.8" rx="0.6" ry="2.0" transform="rotate(4 26.0 13.8)" fill="rgb(7,115,4)"/>
<ellipse cx="30.6" cy="14.6" rx="0.8" ry="2.1" transform="rotate(-3 30.6 14.6)" fill="rgb(6,109,4)"/>
<ellipse cx="35.6" cy="16.3" rx="1.5" ry="2.9" transform="rotate(-8 35.6 16.3)" fill="rgb(55,255,12)"/>
<ellipse cx="39.5" cy="15.9" rx="0.7" ry="1.7" transform="rotate(0 39.5 15.9)" fill="rgb(9,126,5)"/>
<ellipse cx="44.6" cy="16.1" rx="1.5" ry="3.0" transform="rotate(12 44.6 16.1)" fill="rgb(55,255,12)"/>
<ellipse cx="4.4" cy="20.7" rx="0.9" ry="2.6" transform="rotate(5 4.4 20.7)" fill="rgb(17,161,6)"/>
<ellipse cx="6.4" cy="19.8" rx="1.0" ry="3.3" transform="rotate(-6 6.4 19.8)" fill="rgb(45,236,10)"/>
<ellipse cx="12.9" cy="17.8" rx="1.2" ry="2.4" transform="rotate(-10 12.9 17.8)" fill="rgb(50,246,11)"/>
<ellipse cx="14.7" cy="17.8" rx="0.7" ry="1.9" transform="rotate(-6 14.7 17.8)" fill="rgb(7,114,4)"/>
<ellipse cx="19.0" cy="19.3" rx="1.2" ry="3.8" transform="rotate(-1 19.0 19.3)" fill="rgb(55,255,12)"/>
<ellipse cx="24.6" cy="18.9" rx="0.7" ry="1.8" transform="rotate(-3 24.6 18.9)" fill="rgb(7,111,4)"/>
<ellipse cx="28.7" cy="18.1" rx="0.8" ry="2.7" transform="rotate(6 28.7 18.1)" fill="rgb(36,216,9)"/>
<ellipse cx="31.2" cy="19.6" rx="0.9" ry="2.1" transform="rotate(-16 31.2 19.6)" fill="rgb(45,237,10)"/>
<ellipse cx="37.1" cy="18.7" rx="1.4" ry="2.2" transform="rotate(-4 37.1 18.7)" fill="rgb(55,255,12)"/>
<ellipse cx="38.9" cy="17.4" rx="1.0" ry="2.9" transform="rotate(-12 38.9 17.4)" fill="rgb(54,253,11)"/>
<ellipse cx="45.4" cy="18.5" rx="0.9" ry="2.9" transform="rotate(-6 45.4 18.5)" fill="rgb(34,211,9)"/>
<ellipse cx="2.4" cy="22.6" rx="0.9" ry="3.2" transform="rotate(18 2.4 22.6)" fill="rgb(55,255,12)"/>
<ellipse cx="6.6" cy="23.6" rx="1.2" ry="2.6" transform="rotate(-8 6.6 23.6)" fill="rgb(55,255,12)"/>
<ellipse cx="12.9" cy="24.2" rx="1.1" ry="1.9" transform="rotate(-3 12.9 24.2)" fill="rgb(18,165,6)"/>
<ellipse cx="15.0" cy="23.7" rx="0.7" ry="2.1" transform="rotate(-7 15.0 23.7)" fill="rgb(9,126,5)"/>
<ellipse cx="20.1" cy="21.4" rx="0.9" ry="3.2" transform="rotate(3 20.1 21.4)" fill="rgb(37,219,9)"/>
<ellipse cx="22.7" cy="24.2" rx="0.6" ry="1.4" transform="rotate(-28 22.7 24.2)" fill="rgb(6,106,4)"/>
<ellipse cx="28.7" cy="21.6" rx="1.5" ry="2.6" transform="rotate(-16 28.7 21.6)" fill="rgb(54,253,11)"/>
<ellipse cx="31.0" cy="22.6" rx="0.7" ry="2.2" transform="rotate(-4 31.0 22.6)" fill="rgb(16,159,6)"/>
<ellipse cx="37.3" cy="22.2" rx="0.8" ry="2.7" transform="rotate(-7 37.3 22.2)" fill="rgb(22,178,7)"/>
<ellipse cx="39.4" cy="23.8" rx="0.9" ry="2.4" transform="rotate(-11 39.4 23.8)" fill="rgb(13,146,6)"/>
<ellipse cx="44.9" cy="23.7" rx="0.9" ry="2.5" transform="rotate(-13 44.9 23.7)" fill="rgb(10,133,5)"/>
<ellipse cx="4.5" cy="27.7" rx="1.1" ry="3.0" transform="rotate(-7 4.5 27.7)" fill="rgb(32,207,9)"/>
<ellipse cx="7.4" cy="26.9" rx="1.2" ry="3.5" transform="rotate(-10 7.4 26.9)" fill="rgb(37,219,9)"/>
<ellipse cx="10.8" cy="28.5" rx="1.1" ry="3.4" transform="rotate(-13 10.8 28.5)" fill="rgb(45,236,10)"/>
<ellipse cx="15.4" cy="28.1" rx="1.5" ry="2.5" transform="rotate(1 15.4 28.1)" fill="rgb(55,255,12)"/>
<ellipse cx="18.1" cy="28.2" rx="1.3" ry="3.9" transform="rotate(-1 18.1 28.2)" fill="rgb(54,253,11)"/>
<ellipse cx="22.8" cy="27.5" rx="1.2" ry="3.0" transform="rotate(-19 22.8 27.5)" fill="rgb(48,241,11)"/>
<ellipse cx="27.1" cy="28.4" rx="0.9" ry="2.4" transform="rotate(-5 27.1 28.4)" fill="rgb(20,170,7)"/>
<ellipse cx="33.4" cy="26.3" rx="0.9" ry="2.3" transform="rotate(10 33.4 26.3)" fill="rgb(12,141,5)"/>
<ellipse cx="37.4" cy="28.0" rx="1.1" ry="3.1" transform="rotate(-2 37.4 28.0)" fill="rgb(34,211,9)"/>
<ellipse cx="40.4" cy="26.0" rx="0.9" ry="3.4" transform="rotate(-21 40.4 26.0)" fill="rgb(55,255,12)"/>
<ellipse cx="43.1" cy="28.1" rx="1.0" ry="2.6" transform="rotate(-13 43.1 28.1)" fill="rgb(11,134,5)"/>
<ellipse cx="1.8" cy="30.0" rx="0.6" ry="1.5" transform="rotate(-4 1.8 30.0)" fill="rgb(6,109,4)"/>
<ellipse cx="8.7" cy="30.5" rx="1.3" ry="3.0" transform="rotate(16 8.7 30.5)" fill="rgb(55,255,12)"/>
<ellipse cx="10.8" cy="31.1" rx="0.8" ry="2.3" transform="rotate(9 10.8 31.1)" fill="rgb(28,197,8)"/>
<ellipse cx="14.7" cy="31.3" rx="0.6" ry="1.7" transform="rotate(6 14.7 31.3)" fill="rgb(6,107,4)"/>
<ellipse cx="17.6" cy="29.4" rx="1.5" ry="3.3" transform="rotate(3 17.6 29.4)" fill="rgb(55,255,12)"/>
<ellipse cx="22.5" cy="32.5" rx="1.0" ry="3.1" transform="rotate(-15 22.5 32.5)" fill="rgb(55,255,12)"/>
<ellipse cx="26.7" cy="30.9" rx="0.9" ry="2.7" transform="rotate(-11 26.7 30.9)" fill="rgb(55,255,12)"/>
<ellipse cx="32.0" cy="32.0" rx="1.3" ry="2.5" transform="rotate(4 32.0 32.0)" fill="rgb(36,215,9)"/>
<ellipse cx="34.5" cy="31.1" rx="0.7" ry="2.1" transform="rotate(-13 34.5 31.1)" fill="rgb(6,105,3)"/>
<ellipse cx="40.4" cy="32.5" rx="1.3" ry="3.9" transform="rotate(-4 40.4 32.5)" fill="rgb(55,255,12)"/>
<ellipse cx="42.6" cy="32.4" rx="1.1" ry="3.7" transform="rotate(1 42.6 32.4)" fill="rgb(49,244,11)"/>
<ellipse cx="4.3" cy="35.8" rx="0.8" ry="2.7" transform="rotate(-21 4.3 35.8)" fill="rgb(11,136,5)"/>
<ellipse cx="7.3" cy="36.6" rx="1.3" ry="2.6" transform="rotate(-20 7.3 36.6)" fill="rgb(45,236,10)"/>
<ellipse cx="11.2" cy="34.9" rx="1.0" ry="2.2" transform="rotate(-6 11.2 34.9)" fill="rgb(26,191,8)"/>
<ellipse cx="13.9" cy="34.5" rx="1.5" ry="2.5" transform="rotate(-3 13.9 34.5)" fill="rgb(55,255,12)"/>
<ellipse cx="18.8" cy="36.2" rx="0.6" ry="2.8" transform="rotate(-18 18.8 36.2)" fill="rgb(16,157,6)"/>
<ellipse cx="24.4" cy="36.8" rx="1.5" ry="3.5" transform="rotate(-8 24.4 36.8)" fill="rgb(55,255,12)"/>
<ellipse cx="27.8" cy="33.7" rx="1.4" ry="2.7" transform="rotate(-11 27.8 33.7)" fill="rgb(44,234,10)"/>
<ellipse cx="30.0" cy="33.3" rx="1.1" ry="3.3" transform="rotate(-20 30.0 33.3)" fill="rgb(55,255,12)"/>
<ellipse cx="36.3" cy="35.8" rx="1.3" ry="2.4" transform="rotate(-14 36.3 35.8)" fill="rgb(55,255,12)"/>
<ellipse cx="38.8" cy="36.0" rx="1.0" ry="1.9" transform="rotate(5 38.8 36.0)" fill="rgb(33,209,9)"/>
<ellipse cx="42.4" cy="34.1" rx="0.7" ry="1.9" transform="rotate(-16 42.4 34.1)" fill="rgb(11,136,5)"/>
<ellipse cx="2.8" cy="39.4" rx="1.1" ry="1.8" transform="rotate(-13 2.8 39.4)" fill="rgb(18,163,6)"/>
<ellipse cx="6.1" cy="37.8" rx="0.9" ry="2.5" transform="rotate(-22 6.1 37.8)" fill="rgb(49,244,11)"/>
<ellipse cx="11.8" cy="38.5" rx="0.7" ry="1.8" transform="rotate(-5 11.8 38.5)" fill="rgb(16,157,6)"/>
<ellipse cx="15.2" cy="40.3" rx="0.8" ry="1.7" transform="rotate(-3 15.2 40.3)" fill="rgb(9,125,4)"/>
<ellipse cx="19.2" cy="38.5" rx="1.3" ry="2.4" transform="rotate(-5 19.2 38.5)" fill="rgb(55,255,12)"/>
<ellipse cx="23.8" cy="39.1" rx="1.5" ry="2.4" transform="rotate(6 23.8 39.1)" fill="rgb(55,255,12)"/>
<ellipse cx="27.8" cy="40.7" rx="1.5" ry="3.3" transform="rotate(-5 27.8 40.7)" fill="rgb(55,255,12)"/>
<ellipse cx="30.3" cy="39.4" rx="0.6" ry="1.7" transform="rotate(-7 30.3 39.4)" fill="rgb(5,98,3)"/>
<ellipse cx="37.1" cy="39.8" rx="0.9" ry="1.9" transform="rotate(-1 37.1 39.8)" fill="rgb(13,144,5)"/>
<ellipse cx="40.2" cy="40.2" rx="1.4" ry="3.9" transform="rotate(-7 40.2 40.2)" fill="rgb(55,255,12)"/>
<ellipse cx="42.6" cy="39.1" rx="0.7" ry="2.6" transform="rotate(-3 42.6 39.1)" fill="rgb(25,186,8)"/>
<ellipse cx="2.5" cy="43.8" rx="1.0" ry="2.4" transform="rotate(16 2.5 43.8)" fill="rgb(26,189,8)"/>
<ellipse cx="8.4" cy="44.7" rx="0.8" ry="2.9" transform="rotate(-27 8.4 44.7)" fill="rgb(20,171,7)"/>
<ellipse cx="10.4" cy="43.7" rx="1.1" ry="3.9" transform="rotate(4 10.4 43.7)" fill="rgb(55,255,12)"/>
<ellipse cx="16.1" cy="42.0" rx="0.8" ry="1.8" transform="rotate(2 16.1 42.0)" fill="rgb(8,120,4)"/>
<ellipse cx="19.2" cy="43.5" rx="1.1" ry="3.7" transform="rotate(-4 19.2 43.5)" fill="rgb(55,255,12)"/>
<ellipse cx="21.8" cy="42.1" rx="0.9" ry="2.7" transform="rotate(9 21.8 42.1)" fill="rgb(35,214,9)"/>
<ellipse cx="28.9" cy="43.3" rx="1.2" ry="2.7" transform="rotate(-14 28.9 43.3)" fill="rgb(43,233,10)"/>
<ellipse cx="32.6" cy="44.5" rx="1.3" ry="3.0" transform="rotate(-5 32.6 44.5)" fill="rgb(55,255,12)"/>
<ellipse cx="36.7" cy="44.1" rx="0.7" ry="2.3" transform="rotate(-5 36.7 44.1)" fill="rgb(18,164,6)"/>
<ellipse cx="41.0" cy="43.1" rx="1.0" ry="2.9" transform="rotate(-16 41.0 43.1)" fill="rgb(55,255,12)"/>
<ellipse cx="44.8" cy="41.3" rx="1.0" ry="3.4" transform="rotate(-13 44.8 41.3)" fill="rgb(44,233,10)"/>
<ellipse cx="39.4" cy="34.0" rx="1.0" ry="1.4" fill="rgb(10,224,8)" fill-opacity="0.9"/>
<ellipse cx="43.1" cy="3.0" rx="0.8" ry="1.1" fill="rgb(10,230,8)" fill-opacity="0.9"/>
<ellipse cx="39.4" cy="12.9" rx="0.5" ry="0.7" fill="rgb(10,230,8)" fill-opacity="0.9"/>
<ellipse cx="4.0" cy="11.3" rx="0.7" ry="1.0" fill="rgb(10,230,8)" fill-opacity="0.9"/>
<ellipse cx="34.4" cy="5.7" rx="0.6" ry="0.9" fill="rgb(10,230,8)" fill-opacity="0.9"/>
<ellipse cx="5.6" cy="11.7" rx="0.5" ry="0.7" fill="rgb(10,230,8)" fill-opacity="0.9"/>
<ellipse cx="18.5" cy="35.9" rx="1.0" ry="1.4" fill="rgb(10,230,8)" fill-opacity="0.9"/>
<ellipse cx="32.5" cy="9.4" rx="0.6" ry="0.9" fill="rgb(10,230,8)" fill-opacity="0.9"/>
<ellipse cx="22.4" cy="37.0" rx="0.8" ry="1.1" fill="rgb(10,230,8)" fill-opacity="0.9"/>
<ellipse cx="15.1" cy="2.1" rx="0.6" ry="0.9" fill="rgb(10,230,8)" fill-opacity="0.9"/>
</g></svg>
<rect x="41" y="85" width="47" height="46" fill="#000"/>
<rect x="42" y="86" width="45" height="44" fill="#030b03"/>
<svg x="41" y="85" width="47" height="46" overflow="hidden"><g filter="url(#bl)">
</g></svg>
<svg x="41" y="85" width="47" height="46" overflow="hidden"><g filter="url(#bl)">
<ellipse cx="39.1" cy="3.8" rx="0.6" ry="0.9" fill="rgb(10,47,8)" fill-opacity="0.9"/>
<ellipse cx="26.9" cy="25.7" rx="0.8" ry="1.1" fill="rgb(10,43,8)" fill-opacity="0.9"/>
<ellipse cx="44.7" cy="29.3" rx="0.5" ry="0.7" fill="rgb(10,44,8)" fill-opacity="0.9"/>
<ellipse cx="16.7" cy="9.8" rx="0.8" ry="1.1" fill="rgb(10,43,8)" fill-opacity="0.9"/>
<ellipse cx="24.3" cy="5.0" rx="0.6" ry="0.8" fill="rgb(10,50,8)" fill-opacity="0.9"/>
<ellipse cx="7.5" cy="8.7" rx="0.7" ry="1.0" fill="rgb(10,41,8)" fill-opacity="0.9"/>
<ellipse cx="40.9" cy="27.6" rx="0.8" ry="1.1" fill="rgb(10,43,8)" fill-opacity="0.9"/>
<ellipse cx="35.6" cy="17.4" rx="0.6" ry="0.8" fill="rgb(10,50,8)" fill-opacity="0.9"/>
<ellipse cx="31.2" cy="14.4" rx="0.5" ry="0.7" fill="rgb(10,39,8)" fill-opacity="0.9"/>
<ellipse cx="18.7" cy="12.3" rx="0.6" ry="0.9" fill="rgb(10,41,8)" fill-opacity="0.9"/>
<ellipse cx="9.6" cy="9.3" rx="0.8" ry="1.2" fill="rgb(10,45,8)" fill-opacity="0.9"/>
<ellipse cx="36.7" cy="39.9" rx="0.9" ry="1.3" fill="rgb(10,47,8)" fill-opacity="0.9"/>
<ellipse cx="44.3" cy="6.8" rx="0.8" ry="1.1" fill="rgb(10,44,8)" fill-opacity="0.9"/>
<ellipse cx="13.9" cy="43.9" rx="0.8" ry="1.1" fill="rgb(10,49,8)" fill-opacity="0.9"/>
</g></svg>
<rect x="89" y="85" width="47" height="46" fill="#000"/>
<rect x="90" y="86" width="45" height="44" fill="#030b03"/>
<svg x="89" y="85" width="47" height="46" overflow="hidden"><g filter="url(#bl)">
<ellipse cx="10.2" cy="0.9" rx="1.0" ry="1.3" transform="rotate(8 10.2 0.9)" fill="rgb(0,40,1)"/>
<ellipse cx="11.5" cy="6.5" rx="1.0" ry="1.6" transform="rotate(8 11.5 6.5)" fill="rgb(0,37,1)"/>
<ellipse cx="10.2" cy="11.1" rx="1.3" ry="1.6" transform="rotate(8 10.2 11.1)" fill="rgb(0,40,1)"/>
<ellipse cx="13.9" cy="8.8" rx="1.0" ry="1.6" transform="rotate(8 13.9 8.8)" fill="rgb(0,35,1)"/>
<ellipse cx="12.9" cy="14.8" rx="1.3" ry="1.3" transform="rotate(8 12.9 14.8)" fill="rgb(0,40,1)"/>
<ellipse cx="6.9" cy="18.0" rx="1.3" ry="1.6" transform="rotate(8 6.9 18.0)" fill="rgb(0,40,1)"/>
<ellipse cx="15.7" cy="17.5" rx="0.8" ry="1.0" transform="rotate(8 15.7 17.5)" fill="rgb(0,33,0)"/>
<ellipse cx="13.7" cy="21.4" rx="0.8" ry="0.8" transform="rotate(8 13.7 21.4)" fill="rgb(0,33,0)"/>
<ellipse cx="10.2" cy="27.7" rx="1.3" ry="2.0" transform="rotate(8 10.2 27.7)" fill="rgb(0,40,1)"/>
<ellipse cx="19.4" cy="0.9" rx="1.0" ry="1.0" transform="rotate(8 19.4 0.9)" fill="rgb(0,37,1)"/>
<ellipse cx="20.8" cy="5.1" rx="1.3" ry="2.0" transform="rotate(8 20.8 5.1)" fill="rgb(0,40,1)"/>
<ellipse cx="18.9" cy="11.5" rx="1.0" ry="1.0" transform="rotate(8 18.9 11.5)" fill="rgb(0,37,1)"/>
<ellipse cx="25.4" cy="8.3" rx="1.0" ry="2.6" transform="rotate(8 25.4 8.3)" fill="rgb(0,40,1)"/>
<ellipse cx="24.0" cy="18.9" rx="1.6" ry="1.6" transform="rotate(8 24.0 18.9)" fill="rgb(0,40,1)"/>
<ellipse cx="22.2" cy="22.2" rx="1.3" ry="1.6" transform="rotate(8 22.2 22.2)" fill="rgb(0,40,1)"/>
<ellipse cx="22.2" cy="25.9" rx="1.2" ry="1.3" transform="rotate(8 22.2 25.9)" fill="rgb(0,40,1)"/>
<ellipse cx="30.9" cy="20.3" rx="1.2" ry="1.6" transform="rotate(8 30.9 20.3)" fill="rgb(0,40,1)"/>
<ellipse cx="29.1" cy="27.7" rx="0.8" ry="1.9" transform="rotate(8 29.1 27.7)" fill="rgb(0,37,1)"/>
<ellipse cx="32.3" cy="34.2" rx="1.3" ry="1.3" transform="rotate(8 32.3 34.2)" fill="rgb(0,40,1)"/>
<ellipse cx="27.2" cy="36.0" rx="1.2" ry="1.6" transform="rotate(8 27.2 36.0)" fill="rgb(0,40,1)"/>
<ellipse cx="26.3" cy="40.6" rx="1.6" ry="1.6" transform="rotate(8 26.3 40.6)" fill="rgb(0,40,1)"/>
<ellipse cx="34.2" cy="43.4" rx="1.6" ry="1.3" transform="rotate(8 34.2 43.4)" fill="rgb(0,40,1)"/>
<ellipse cx="42.0" cy="3.7" rx="1.3" ry="2.0" transform="rotate(8 42.0 3.7)" fill="rgb(0,40,1)"/>
<ellipse cx="42.5" cy="8.3" rx="1.3" ry="1.6" transform="rotate(8 42.5 8.3)" fill="rgb(0,40,1)"/>
<ellipse cx="45.2" cy="12.5" rx="1.3" ry="1.6" transform="rotate(8 45.2 12.5)" fill="rgb(0,40,1)"/>
<ellipse cx="38.8" cy="14.8" rx="1.0" ry="1.6" transform="rotate(8 38.8 14.8)" fill="rgb(0,37,1)"/>
<ellipse cx="42.0" cy="18.0" rx="1.3" ry="2.0" transform="rotate(8 42.0 18.0)" fill="rgb(0,40,1)"/>
<ellipse cx="41.5" cy="24.0" rx="1.3" ry="1.6" transform="rotate(8 41.5 24.0)" fill="rgb(0,40,1)"/>
<ellipse cx="45.2" cy="29.5" rx="1.0" ry="2.0" transform="rotate(8 45.2 29.5)" fill="rgb(0,40,1)"/>
<ellipse cx="45.7" cy="23.5" rx="1.0" ry="1.3" transform="rotate(8 45.7 23.5)" fill="rgb(0,37,1)"/>
</g></svg>
<svg x="89" y="85" width="47" height="46" overflow="hidden"><g filter="url(#bl)">
<ellipse cx="29.4" cy="14.3" rx="0.9" ry="1.3" fill="rgb(10,75,8)" fill-opacity="0.9"/>
<ellipse cx="27.6" cy="35.7" rx="0.7" ry="1.0" fill="rgb(10,70,8)" fill-opacity="0.9"/>
<ellipse cx="10.9" cy="2.7" rx="0.9" ry="1.2" fill="rgb(10,62,8)" fill-opacity="0.9"/>
<ellipse cx="43.1" cy="19.5" rx="0.9" ry="1.3" fill="rgb(10,74,8)" fill-opacity="0.9"/>
<ellipse cx="33.2" cy="12.3" rx="0.8" ry="1.1" fill="rgb(10,53,8)" fill-opacity="0.9"/>
<ellipse cx="31.6" cy="15.4" rx="0.9" ry="1.3" fill="rgb(10,77,8)" fill-opacity="0.9"/>
<ellipse cx="23.6" cy="29.6" rx="0.8" ry="1.2" fill="rgb(10,77,8)" fill-opacity="0.9"/>
<ellipse cx="4.7" cy="14.0" rx="0.8" ry="1.1" fill="rgb(10,51,8)" fill-opacity="0.9"/>
<ellipse cx="23.6" cy="2.8" rx="0.9" ry="1.3" fill="rgb(10,54,8)" fill-opacity="0.9"/>
<ellipse cx="42.9" cy="15.5" rx="0.6" ry="0.9" fill="rgb(10,69,8)" fill-opacity="0.9"/>
<ellipse cx="37.4" cy="22.3" rx="0.9" ry="1.3" fill="rgb(10,96,8)" fill-opacity="0.9"/>
<ellipse cx="34.7" cy="7.5" rx="0.9" ry="1.2" fill="rgb(10,53,8)" fill-opacity="0.9"/>
<ellipse cx="44.9" cy="24.2" rx="0.7" ry="0.9" fill="rgb(10,62,8)" fill-opacity="0.9"/>
<ellipse cx="15.1" cy="34.8" rx="0.5" ry="0.8" fill="rgb(10,49,8)" fill-opacity="0.9"/>
</g></svg>
<rect x="137" y="85" width="47" height="46" fill="#000"/>
<rect x="138" y="86" width="45" height="44" fill="#030b03"/>
<svg x="137" y="85" width="47" height="46" overflow="hidden"><g filter="url(#bl)">
<ellipse cx="10.2" cy="0.9" rx="1.2" ry="1.6" transform="rotate(8 10.2 0.9)" fill="rgb(7,112,4)"/>
<ellipse cx="11.5" cy="6.5" rx="1.2" ry="1.9" transform="rotate(8 11.5 6.5)" fill="rgb(5,103,3)"/>
<ellipse cx="10.2" cy="11.1" rx="1.6" ry="2.0" transform="rotate(8 10.2 11.1)" fill="rgb(7,112,4)"/>
<ellipse cx="13.9" cy="8.8" rx="1.2" ry="1.9" transform="rotate(8 13.9 8.8)" fill="rgb(5,98,3)"/>
<ellipse cx="12.9" cy="14.8" rx="1.6" ry="1.6" transform="rotate(8 12.9 14.8)" fill="rgb(7,112,4)"/>
<ellipse cx="6.9" cy="18.0" rx="1.6" ry="2.0" transform="rotate(8 6.9 18.0)" fill="rgb(7,112,4)"/>
<ellipse cx="15.7" cy="17.5" rx="1.0" ry="1.1" transform="rotate(8 15.7 17.5)" fill="rgb(4,94,3)"/>
<ellipse cx="13.7" cy="21.4" rx="0.9" ry="0.9" transform="rotate(8 13.7 21.4)" fill="rgb(4,94,3)"/>
<ellipse cx="10.2" cy="27.7" rx="1.6" ry="2.4" transform="rotate(8 10.2 27.7)" fill="rgb(7,112,4)"/>
<ellipse cx="19.4" cy="0.9" rx="1.2" ry="1.2" transform="rotate(8 19.4 0.9)" fill="rgb(5,103,3)"/>
<ellipse cx="20.8" cy="5.1" rx="1.6" ry="2.4" transform="rotate(8 20.8 5.1)" fill="rgb(7,112,4)"/>
<ellipse cx="18.9" cy="11.5" rx="1.2" ry="1.2" transform="rotate(8 18.9 11.5)" fill="rgb(5,103,3)"/>
<ellipse cx="25.4" cy="8.3" rx="1.2" ry="3.2" transform="rotate(8 25.4 8.3)" fill="rgb(7,112,4)"/>
<ellipse cx="24.0" cy="18.9" rx="2.0" ry="2.0" transform="rotate(8 24.0 18.9)" fill="rgb(7,112,4)"/>
<ellipse cx="22.2" cy="22.2" rx="1.6" ry="2.0" transform="rotate(8 22.2 22.2)" fill="rgb(7,112,4)"/>
<ellipse cx="22.2" cy="25.9" rx="1.4" ry="1.6" transform="rotate(8 22.2 25.9)" fill="rgb(7,112,4)"/>
<ellipse cx="30.9" cy="20.3" rx="1.4" ry="2.0" transform="rotate(8 30.9 20.3)" fill="rgb(7,112,4)"/>
<ellipse cx="29.1" cy="27.7" rx="1.0" ry="2.3" transform="rotate(8 29.1 27.7)" fill="rgb(5,103,3)"/>
<ellipse cx="32.3" cy="34.2" rx="1.6" ry="1.6" transform="rotate(8 32.3 34.2)" fill="rgb(7,112,4)"/>
<ellipse cx="27.2" cy="36.0" rx="1.4" ry="2.0" transform="rotate(8 27.2 36.0)" fill="rgb(7,112,4)"/>
<ellipse cx="26.3" cy="40.6" rx="2.0" ry="2.0" transform="rotate(8 26.3 40.6)" fill="rgb(7,112,4)"/>
<ellipse cx="34.2" cy="43.4" rx="2.0" ry="1.6" transform="rotate(8 34.2 43.4)" fill="rgb(7,112,4)"/>
<ellipse cx="42.0" cy="3.7" rx="1.6" ry="2.4" transform="rotate(8 42.0 3.7)" fill="rgb(7,112,4)"/>
<ellipse cx="42.5" cy="8.3" rx="1.6" ry="2.0" transform="rotate(8 42.5 8.3)" fill="rgb(7,112,4)"/>
<ellipse cx="45.2" cy="12.5" rx="1.6" ry="2.0" transform="rotate(8 45.2 12.5)" fill="rgb(7,112,4)"/>
<ellipse cx="38.8" cy="14.8" rx="1.2" ry="1.9" transform="rotate(8 38.8 14.8)" fill="rgb(5,103,3)"/>
<ellipse cx="42.0" cy="18.0" rx="1.6" ry="2.4" transform="rotate(8 42.0 18.0)" fill="rgb(7,112,4)"/>
<ellipse cx="41.5" cy="24.0" rx="1.6" ry="2.0" transform="rotate(8 41.5 24.0)" fill="rgb(7,112,4)"/>
<ellipse cx="45.2" cy="29.5" rx="1.2" ry="2.4" transform="rotate(8 45.2 29.5)" fill="rgb(7,112,4)"/>
<ellipse cx="36.9" cy="26.8" rx="0.9" ry="1.4" transform="rotate(8 36.9 26.8)" fill="rgb(2,74,2)"/>
<ellipse cx="38.8" cy="36.9" rx="0.8" ry="1.0" transform="rotate(8 38.8 36.9)" fill="rgb(1,64,2)"/>
<ellipse cx="45.7" cy="23.5" rx="1.2" ry="1.6" transform="rotate(8 45.7 23.5)" fill="rgb(5,103,3)"/>
<ellipse cx="2.8" cy="41.5" rx="0.7" ry="1.0" transform="rotate(8 2.8 41.5)" fill="rgb(1,54,1)"/>
<ellipse cx="29.0" cy="31.0" rx="0.9" ry="1.6" transform="rotate(8 29.0 31.0)" fill="rgb(3,84,3)"/>
<ellipse cx="33.0" cy="39.0" rx="0.9" ry="1.3" transform="rotate(8 33.0 39.0)" fill="rgb(3,84,3)"/>
<ellipse cx="17.0" cy="3.0" rx="0.7" ry="1.1" transform="rotate(8 17.0 3.0)" fill="rgb(1,64,2)"/>
</g></svg>
<rect x="185" y="85" width="47" height="46" fill="#000"/>
<rect x="186" y="86" width="45" height="44" fill="#030b03"/>
<svg x="185" y="85" width="47" height="46" overflow="hidden"><g filter="url(#bl)">
<ellipse cx="10.2" cy="0.9" rx="1.7" ry="2.3" transform="rotate(8 10.2 0.9)" fill="rgb(55,255,12)"/>
<ellipse cx="11.5" cy="6.5" rx="1.6" ry="2.7" transform="rotate(8 11.5 6.5)" fill="rgb(44,234,10)"/>
<ellipse cx="10.2" cy="11.1" rx="2.3" ry="2.9" transform="rotate(8 10.2 11.1)" fill="rgb(55,255,12)"/>
<ellipse cx="13.9" cy="8.8" rx="1.6" ry="2.7" transform="rotate(8 13.9 8.8)" fill="rgb(39,223,10)"/>
<ellipse cx="12.9" cy="14.8" rx="2.3" ry="2.3" transform="rotate(8 12.9 14.8)" fill="rgb(55,255,12)"/>
<ellipse cx="6.9" cy="18.0" rx="2.3" ry="2.9" transform="rotate(8 6.9 18.0)" fill="rgb(55,255,12)"/>
<ellipse cx="15.7" cy="17.5" rx="1.4" ry="1.6" transform="rotate(8 15.7 17.5)" fill="rgb(35,213,9)"/>
<ellipse cx="13.7" cy="21.4" rx="1.2" ry="1.2" transform="rotate(8 13.7 21.4)" fill="rgb(35,213,9)"/>
<ellipse cx="10.2" cy="27.7" rx="2.3" ry="3.4" transform="rotate(8 10.2 27.7)" fill="rgb(55,255,12)"/>
<ellipse cx="19.4" cy="0.9" rx="1.6" ry="1.6" transform="rotate(8 19.4 0.9)" fill="rgb(44,234,10)"/>
<ellipse cx="20.8" cy="5.1" rx="2.3" ry="3.4" transform="rotate(8 20.8 5.1)" fill="rgb(55,255,12)"/>
<ellipse cx="18.9" cy="11.5" rx="1.6" ry="1.6" transform="rotate(8 18.9 11.5)" fill="rgb(44,234,10)"/>
<ellipse cx="25.4" cy="8.3" rx="1.7" ry="4.6" transform="rotate(8 25.4 8.3)" fill="rgb(55,255,12)"/>
<ellipse cx="24.0" cy="18.9" rx="2.9" ry="2.9" transform="rotate(8 24.0 18.9)" fill="rgb(55,255,12)"/>
<ellipse cx="22.2" cy="22.2" rx="2.3" ry="2.9" transform="rotate(8 22.2 22.2)" fill="rgb(55,255,12)"/>
<ellipse cx="22.2" cy="25.9" rx="2.1" ry="2.3" transform="rotate(8 22.2 25.9)" fill="rgb(55,255,12)"/>
<ellipse cx="30.9" cy="20.3" rx="2.1" ry="2.9" transform="rotate(8 30.9 20.3)" fill="rgb(55,255,12)"/>
<ellipse cx="29.1" cy="27.7" rx="1.4" ry="3.3" transform="rotate(8 29.1 27.7)" fill="rgb(44,234,10)"/>
<ellipse cx="32.3" cy="34.2" rx="2.3" ry="2.3" transform="rotate(8 32.3 34.2)" fill="rgb(55,255,12)"/>
<ellipse cx="27.2" cy="36.0" rx="2.1" ry="2.9" transform="rotate(8 27.2 36.0)" fill="rgb(55,255,12)"/>
<ellipse cx="26.3" cy="40.6" rx="2.9" ry="2.9" transform="rotate(8 26.3 40.6)" fill="rgb(55,255,12)"/>
<ellipse cx="34.2" cy="43.4" rx="2.9" ry="2.3" transform="rotate(8 34.2 43.4)" fill="rgb(55,255,12)"/>
<ellipse cx="42.0" cy="3.7" rx="2.3" ry="3.4" transform="rotate(8 42.0 3.7)" fill="rgb(55,255,12)"/>
<ellipse cx="42.5" cy="8.3" rx="2.3" ry="2.9" transform="rotate(8 42.5 8.3)" fill="rgb(55,255,12)"/>
<ellipse cx="45.2" cy="12.5" rx="2.3" ry="2.9" transform="rotate(8 45.2 12.5)" fill="rgb(55,255,12)"/>
<ellipse cx="38.8" cy="14.8" rx="1.6" ry="2.7" transform="rotate(8 38.8 14.8)" fill="rgb(44,234,10)"/>
<ellipse cx="42.0" cy="18.0" rx="2.3" ry="3.4" transform="rotate(8 42.0 18.0)" fill="rgb(55,255,12)"/>
<ellipse cx="41.5" cy="24.0" rx="2.3" ry="2.9" transform="rotate(8 41.5 24.0)" fill="rgb(55,255,12)"/>
<ellipse cx="45.2" cy="29.5" rx="1.7" ry="3.4" transform="rotate(8 45.2 29.5)" fill="rgb(55,255,12)"/>
<ellipse cx="36.9" cy="26.8" rx="1.1" ry="1.9" transform="rotate(8 36.9 26.8)" fill="rgb(19,169,7)"/>
<ellipse cx="38.8" cy="36.9" rx="1.1" ry="1.3" transform="rotate(8 38.8 36.9)" fill="rgb(13,146,6)"/>
<ellipse cx="45.7" cy="23.5" rx="1.6" ry="2.2" transform="rotate(8 45.7 23.5)" fill="rgb(44,234,10)"/>
<ellipse cx="2.8" cy="41.5" rx="0.8" ry="1.2" transform="rotate(8 2.8 41.5)" fill="rgb(8,122,4)"/>
<ellipse cx="29.0" cy="31.0" rx="1.2" ry="2.2" transform="rotate(8 29.0 31.0)" fill="rgb(26,191,8)"/>
<ellipse cx="33.0" cy="39.0" rx="1.2" ry="1.8" transform="rotate(8 33.0 39.0)" fill="rgb(26,191,8)"/>
<ellipse cx="17.0" cy="3.0" rx="0.9" ry="1.4" transform="rotate(8 17.0 3.0)" fill="rgb(13,146,6)"/>
</g></svg>
<rect x="41" y="133" width="47" height="46" fill="#000"/>
<rect x="42" y="134" width="45" height="44" fill="#030b03"/>
<svg x="41" y="133" width="47" height="46" overflow="hidden"><g filter="url(#bl)">
</g></svg>
<rect x="89" y="133" width="47" height="46" fill="#000"/>
<rect x="90" y="134" width="45" height="44" fill="#030b03"/>
<svg x="89" y="133" width="47" height="46" overflow="hidden"><g filter="url(#bl)">
<ellipse cx="15.0" cy="5.5" rx="1.2" ry="1.7" transform="rotate(8 15.0 5.5)" fill="rgb(0,49,1)"/>
<ellipse cx="17.3" cy="7.6" rx="1.0" ry="1.4" transform="rotate(8 17.3 7.6)" fill="rgb(0,41,1)"/>
<ellipse cx="19.6" cy="13.5" rx="1.2" ry="1.9" transform="rotate(8 19.6 13.5)" fill="rgb(0,49,1)"/>
<ellipse cx="17.2" cy="15.8" rx="1.0" ry="1.5" transform="rotate(8 17.2 15.8)" fill="rgb(0,41,1)"/>
<ellipse cx="14.0" cy="20.8" rx="1.3" ry="1.7" transform="rotate(8 14.0 20.8)" fill="rgb(0,49,1)"/>
<ellipse cx="38.5" cy="8.3" rx="1.0" ry="1.6" transform="rotate(8 38.5 8.3)" fill="rgb(0,41,1)"/>
<ellipse cx="38.0" cy="18.8" rx="1.0" ry="1.4" transform="rotate(8 38.0 18.8)" fill="rgb(0,37,1)"/>
<ellipse cx="39.3" cy="25.0" rx="0.9" ry="1.4" transform="rotate(8 39.3 25.0)" fill="rgb(0,37,1)"/>
<ellipse cx="44.8" cy="37.8" rx="1.0" ry="1.6" transform="rotate(8 44.8 37.8)" fill="rgb(0,41,1)"/>
</g></svg>
<rect x="137" y="133" width="47" height="46" fill="#000"/>
<rect x="138" y="134" width="45" height="44" fill="#030b03"/>
<svg x="137" y="133" width="47" height="46" overflow="hidden"><g filter="url(#bl)">
<ellipse cx="15.0" cy="5.5" rx="1.5" ry="2.2" transform="rotate(8 15.0 5.5)" fill="rgb(11,134,5)"/>
<ellipse cx="17.3" cy="7.6" rx="1.2" ry="1.8" transform="rotate(8 17.3 7.6)" fill="rgb(7,112,4)"/>
<ellipse cx="19.6" cy="13.5" rx="1.5" ry="2.4" transform="rotate(8 19.6 13.5)" fill="rgb(11,134,5)"/>
<ellipse cx="17.2" cy="15.8" rx="1.2" ry="1.8" transform="rotate(8 17.2 15.8)" fill="rgb(7,112,4)"/>
<ellipse cx="14.0" cy="20.8" rx="1.6" ry="2.2" transform="rotate(8 14.0 20.8)" fill="rgb(11,134,5)"/>
<ellipse cx="38.5" cy="8.3" rx="1.2" ry="1.9" transform="rotate(8 38.5 8.3)" fill="rgb(7,112,4)"/>
<ellipse cx="38.0" cy="18.8" rx="1.2" ry="1.7" transform="rotate(8 38.0 18.8)" fill="rgb(5,101,3)"/>
<ellipse cx="39.3" cy="25.0" rx="1.1" ry="1.7" transform="rotate(8 39.3 25.0)" fill="rgb(5,101,3)"/>
<ellipse cx="39.9" cy="28.8" rx="1.0" ry="1.5" transform="rotate(8 39.9 28.8)" fill="rgb(4,89,3)"/>
<ellipse cx="44.8" cy="37.8" rx="1.2" ry="1.9" transform="rotate(8 44.8 37.8)" fill="rgb(7,112,4)"/>
<ellipse cx="4.2" cy="16.6" rx="0.8" ry="1.2" transform="rotate(8 4.2 16.6)" fill="rgb(1,58,1)"/>
<ellipse cx="8.3" cy="18.5" rx="0.8" ry="1.2" transform="rotate(8 8.3 18.5)" fill="rgb(1,58,1)"/>
<ellipse cx="31.0" cy="29.5" rx="0.8" ry="1.2" transform="rotate(8 31.0 29.5)" fill="rgb(1,51,1)"/>
<ellipse cx="26.0" cy="10.0" rx="0.7" ry="1.1" transform="rotate(8 26.0 10.0)" fill="rgb(0,44,1)"/>
<ellipse cx="22.0" cy="30.0" rx="0.6" ry="1.0" transform="rotate(8 22.0 30.0)" fill="rgb(0,37,1)"/>
</g></svg>
<rect x="185" y="133" width="47" height="46" fill="#000"/>
<rect x="186" y="134" width="45" height="44" fill="#030b03"/>
<svg x="185" y="133" width="47" height="46" overflow="hidden"><g filter="url(#bl)">
<ellipse cx="15.0" cy="5.5" rx="1.9" ry="2.8" transform="rotate(8 15.0 5.5)" fill="rgb(39,223,10)"/>
<ellipse cx="17.3" cy="7.6" rx="1.5" ry="2.1" transform="rotate(8 17.3 7.6)" fill="rgb(25,187,8)"/>
<ellipse cx="19.6" cy="13.5" rx="1.9" ry="3.0" transform="rotate(8 19.6 13.5)" fill="rgb(39,223,10)"/>
<ellipse cx="17.2" cy="15.8" rx="1.5" ry="2.2" transform="rotate(8 17.2 15.8)" fill="rgb(25,187,8)"/>
<ellipse cx="14.0" cy="20.8" rx="2.0" ry="2.8" transform="rotate(8 14.0 20.8)" fill="rgb(39,223,10)"/>
<ellipse cx="38.5" cy="8.3" rx="1.5" ry="2.3" transform="rotate(8 38.5 8.3)" fill="rgb(25,187,8)"/>
<ellipse cx="38.0" cy="18.8" rx="1.4" ry="2.0" transform="rotate(8 38.0 18.8)" fill="rgb(19,168,7)"/>
<ellipse cx="39.3" cy="25.0" rx="1.3" ry="2.0" transform="rotate(8 39.3 25.0)" fill="rgb(19,168,7)"/>
<ellipse cx="39.9" cy="28.8" rx="1.1" ry="1.8" transform="rotate(8 39.9 28.8)" fill="rgb(14,148,6)"/>
<ellipse cx="44.8" cy="37.8" rx="1.5" ry="2.3" transform="rotate(8 44.8 37.8)" fill="rgb(25,187,8)"/>
<ellipse cx="4.2" cy="16.6" rx="0.9" ry="1.4" transform="rotate(8 4.2 16.6)" fill="rgb(4,96,3)"/>
<ellipse cx="8.3" cy="18.5" rx="0.9" ry="1.4" transform="rotate(8 8.3 18.5)" fill="rgb(4,96,3)"/>
<ellipse cx="31.0" cy="29.5" rx="0.9" ry="1.3" transform="rotate(8 31.0 29.5)" fill="rgb(3,85,3)"/>
<ellipse cx="26.0" cy="10.0" rx="0.7" ry="1.1" transform="rotate(8 26.0 10.0)" fill="rgb(2,73,2)"/>
<ellipse cx="22.0" cy="30.0" rx="0.7" ry="1.1" transform="rotate(8 22.0 30.0)" fill="rgb(1,61,2)"/>
</g></svg>
<rect x="40" y="203" width="47" height="47" fill="#000"/>
<rect x="41" y="204" width="45" height="45" fill="#061606"/>
<svg x="40" y="203" width="47" height="47" overflow="hidden"><g filter="url(#bl)">
<ellipse cx="33.3" cy="31.6" rx="0.7" ry="1.0" fill="rgb(10,43,8)" fill-opacity="0.9"/>
<ellipse cx="2.1" cy="26.4" rx="0.7" ry="1.0" fill="rgb(10,41,8)" fill-opacity="0.9"/>
<ellipse cx="37.2" cy="29.0" rx="0.7" ry="0.9" fill="rgb(10,46,8)" fill-opacity="0.9"/>
<ellipse cx="42.1" cy="39.9" rx="0.9" ry="1.2" fill="rgb(10,36,8)" fill-opacity="0.9"/>
<ellipse cx="33.9" cy="18.4" rx="1.0" ry="1.4" fill="rgb(10,37,8)" fill-opacity="0.9"/>
<ellipse cx="43.6" cy="22.6" rx="0.6" ry="0.8" fill="rgb(10,45,8)" fill-opacity="0.9"/>
<ellipse cx="11.0" cy="40.4" rx="0.9" ry="1.3" fill="rgb(10,47,8)" fill-opacity="0.9"/>
<ellipse cx="41.1" cy="4.3" rx="0.6" ry="0.8" fill="rgb(10,39,8)" fill-opacity="0.9"/>
<ellipse cx="11.5" cy="14.4" rx="0.6" ry="0.8" fill="rgb(10,41,8)" fill-opacity="0.9"/>
<ellipse cx="37.2" cy="33.2" rx="0.6" ry="0.8" fill="rgb(10,47,8)" fill-opacity="0.9"/>
<ellipse cx="2.5" cy="4.9" rx="0.8" ry="1.2" fill="rgb(10,45,8)" fill-opacity="0.9"/>
<ellipse cx="10.7" cy="4.9" rx="0.6" ry="0.9" fill="rgb(10,38,8)" fill-opacity="0.9"/>
</g></svg>
<rect x="89" y="203" width="46" height="47" fill="#000"/>
<rect x="90" y="204" width="44" height="45" fill="#030b03"/>
<svg x="89" y="203" width="46" height="47" overflow="hidden"><g filter="url(#bl)">
<ellipse cx="20.7" cy="18.1" rx="0.6" ry="0.8" fill="rgb(10,71,8)" fill-opacity="0.9"/>
<ellipse cx="15.4" cy="45.4" rx="1.0" ry="1.4" fill="rgb(10,76,8)" fill-opacity="0.9"/>
<ellipse cx="6.0" cy="29.4" rx="0.8" ry="1.2" fill="rgb(10,58,8)" fill-opacity="0.9"/>
<ellipse cx="24.1" cy="31.0" rx="0.7" ry="1.0" fill="rgb(10,56,8)" fill-opacity="0.9"/>
<ellipse cx="34.5" cy="43.7" rx="1.0" ry="1.4" fill="rgb(10,76,8)" fill-opacity="0.9"/>
<ellipse cx="4.8" cy="11.5" rx="0.8" ry="1.1" fill="rgb(10,63,8)" fill-opacity="0.9"/>
<ellipse cx="26.1" cy="8.8" rx="0.9" ry="1.2" fill="rgb(10,56,8)" fill-opacity="0.9"/>
<ellipse cx="42.1" cy="43.4" rx="0.6" ry="0.8" fill="rgb(10,68,8)" fill-opacity="0.9"/>
<ellipse cx="39.8" cy="45.2" rx="0.9" ry="1.2" fill="rgb(10,74,8)" fill-opacity="0.9"/>
<ellipse cx="19.4" cy="29.4" rx="1.0" ry="1.4" fill="rgb(10,58,8)" fill-opacity="0.9"/>
<ellipse cx="11.3" cy="26.9" rx="0.7" ry="1.0" fill="rgb(10,83,8)" fill-opacity="0.9"/>
<ellipse cx="20.2" cy="39.8" rx="0.7" ry="1.0" fill="rgb(10,63,8)" fill-opacity="0.9"/>
<ellipse cx="2.5" cy="19.8" rx="1.0" ry="1.3" fill="rgb(10,76,8)" fill-opacity="0.9"/>
<ellipse cx="17.5" cy="45.5" rx="0.6" ry="0.8" fill="rgb(10,54,8)" fill-opacity="0.9"/>
<ellipse cx="31.6" cy="18.1" rx="0.7" ry="1.0" fill="rgb(10,52,8)" fill-opacity="0.9"/>
<ellipse cx="23.5" cy="31.1" rx="0.9" ry="1.3" fill="rgb(10,67,8)" fill-opacity="0.9"/>
<ellipse cx="23.0" cy="34.0" rx="0.7" ry="1.0" fill="rgb(10,69,8)" fill-opacity="0.9"/>
<ellipse cx="17.8" cy="11.9" rx="0.9" ry="1.3" fill="rgb(10,72,8)" fill-opacity="0.9"/>
<ellipse cx="29.6" cy="20.3" rx="0.7" ry="1.0" fill="rgb(10,72,8)" fill-opacity="0.9"/>
<ellipse cx="34.4" cy="43.3" rx="0.9" ry="1.3" fill="rgb(10,52,8)" fill-opacity="0.9"/>
<ellipse cx="24.0" cy="6.2" rx="0.8" ry="1.1" fill="rgb(10,64,8)" fill-opacity="0.9"/>
<ellipse cx="11.0" cy="45.5" rx="0.6" ry="0.8" fill="rgb(10,83,8)" fill-opacity="0.9"/>
<ellipse cx="4.7" cy="23.9" rx="0.8" ry="1.1" fill="rgb(10,69,8)" fill-opacity="0.9"/>
<ellipse cx="11.4" cy="6.7" rx="0.5" ry="0.7" fill="rgb(10,53,8)" fill-opacity="0.9"/>
<ellipse cx="44.3" cy="18.4" rx="1.0" ry="1.3" fill="rgb(10,68,8)" fill-opacity="0.9"/>
<ellipse cx="25.4" cy="30.8" rx="0.7" ry="1.0" fill="rgb(10,53,8)" fill-opacity="0.9"/>
<ellipse cx="20.0" cy="13.4" rx="0.8" ry="1.2" fill="rgb(10,65,8)" fill-opacity="0.9"/>
<ellipse cx="38.5" cy="12.1" rx="0.5" ry="0.7" fill="rgb(10,61,8)" fill-opacity="0.9"/>
<ellipse cx="26.9" cy="13.8" rx="0.9" ry="1.2" fill="rgb(10,53,8)" fill-opacity="0.9"/>
<ellipse cx="25.9" cy="26.5" rx="0.7" ry="1.0" fill="rgb(10,65,8)" fill-opacity="0.9"/>
<ellipse cx="21.4" cy="34.6" rx="1.0" ry="1.4" fill="rgb(10,83,8)" fill-opacity="0.9"/>
<ellipse cx="16.0" cy="33.1" rx="0.6" ry="0.8" fill="rgb(10,71,8)" fill-opacity="0.9"/>
<ellipse cx="36.3" cy="21.9" rx="0.7" ry="0.9" fill="rgb(10,60,8)" fill-opacity="0.9"/>
<ellipse cx="30.2" cy="38.6" rx="0.8" ry="1.1" fill="rgb(10,75,8)" fill-opacity="0.9"/>
<ellipse cx="10.7" cy="15.5" rx="0.6" ry="0.8" fill="rgb(10,65,8)" fill-opacity="0.9"/>
<ellipse cx="5.4" cy="3.7" rx="0.9" ry="1.2" fill="rgb(10,62,8)" fill-opacity="0.9"/>
<ellipse cx="30.5" cy="44.1" rx="0.8" ry="1.2" fill="rgb(10,76,8)" fill-opacity="0.9"/>
<ellipse cx="7.6" cy="37.6" rx="0.7" ry="0.9" fill="rgb(10,76,8)" fill-opacity="0.9"/>
<ellipse cx="26.8" cy="3.2" rx="0.8" ry="1.1" fill="rgb(10,91,8)" fill-opacity="0.9"/>
<ellipse cx="17.2" cy="34.3" rx="0.7" ry="1.0" fill="rgb(10,82,8)" fill-opacity="0.9"/>
<ellipse cx="43.2" cy="11.9" rx="0.6" ry="0.9" fill="rgb(10,67,8)" fill-opacity="0.9"/>
<ellipse cx="23.6" cy="21.4" rx="0.9" ry="1.3" fill="rgb(10,63,8)" fill-opacity="0.9"/>
<ellipse cx="6.3" cy="32.9" rx="0.9" ry="1.3" fill="rgb(10,84,8)" fill-opacity="0.9"/>
<ellipse cx="35.8" cy="8.9" rx="0.6" ry="0.8" fill="rgb(10,70,8)" fill-opacity="0.9"/>
</g></svg>
<rect x="137" y="203" width="47" height="47" fill="#000"/>
<rect x="138" y="204" width="45" height="45" fill="#030b03"/>
<svg x="137" y="203" width="47" height="47" overflow="hidden"><g filter="url(#bl)">
<ellipse cx="26.9" cy="13.9" rx="0.9" ry="1.6" transform="rotate(-6 26.9 13.9)" fill="rgb(1,54,1)"/>
<ellipse cx="35.1" cy="38.5" rx="0.8" ry="2.2" transform="rotate(4 35.1 38.5)" fill="rgb(1,65,2)"/>
<ellipse cx="37.8" cy="24.1" rx="0.7" ry="2.8" transform="rotate(-15 37.8 24.1)" fill="rgb(1,55,1)"/>
<ellipse cx="14.5" cy="20.4" rx="0.6" ry="1.6" transform="rotate(-14 14.5 20.4)" fill="rgb(0,43,1)"/>
<ellipse cx="6.4" cy="15.2" rx="0.6" ry="2.0" transform="rotate(-15 6.4 15.2)" fill="rgb(5,101,3)"/>
<ellipse cx="26.2" cy="9.5" rx="0.7" ry="1.4" transform="rotate(3 26.2 9.5)" fill="rgb(0,49,1)"/>
<ellipse cx="3.9" cy="16.3" rx="0.8" ry="2.4" transform="rotate(-5 3.9 16.3)" fill="rgb(1,65,2)"/>
<ellipse cx="20.3" cy="40.3" rx="0.8" ry="2.4" transform="rotate(-5 20.3 40.3)" fill="rgb(3,87,3)"/>
<ellipse cx="18.2" cy="3.8" rx="0.8" ry="1.9" transform="rotate(5 18.2 3.8)" fill="rgb(3,82,2)"/>
<ellipse cx="3.0" cy="3.6" rx="0.9" ry="2.4" transform="rotate(-9 3.0 3.6)" fill="rgb(6,108,4)"/>
<ellipse cx="27.8" cy="21.3" rx="0.7" ry="1.5" transform="rotate(-0 27.8 21.3)" fill="rgb(2,74,2)"/>
<ellipse cx="28.3" cy="27.7" rx="0.8" ry="1.7" transform="rotate(9 28.3 27.7)" fill="rgb(0,48,1)"/>
<ellipse cx="3.7" cy="35.0" rx="0.7" ry="2.6" transform="rotate(-4 3.7 35.0)" fill="rgb(0,46,1)"/>
<ellipse cx="26.8" cy="38.9" rx="0.7" ry="2.0" transform="rotate(-21 26.8 38.9)" fill="rgb(0,43,1)"/>
<ellipse cx="35.1" cy="1.0" rx="0.8" ry="2.6" transform="rotate(11 35.1 1.0)" fill="rgb(2,75,2)"/>
<ellipse cx="16.8" cy="38.3" rx="0.7" ry="1.7" transform="rotate(-2 16.8 38.3)" fill="rgb(1,65,2)"/>
<ellipse cx="16.8" cy="27.8" rx="0.8" ry="2.2" transform="rotate(-10 16.8 27.8)" fill="rgb(0,42,1)"/>
<ellipse cx="7.4" cy="18.2" rx="0.9" ry="2.2" transform="rotate(-13 7.4 18.2)" fill="rgb(1,52,1)"/>
<ellipse cx="29.7" cy="45.7" rx="0.9" ry="2.5" transform="rotate(-8 29.7 45.7)" fill="rgb(1,51,1)"/>
<ellipse cx="35.3" cy="19.6" rx="0.6" ry="1.8" transform="rotate(-8 35.3 19.6)" fill="rgb(1,61,2)"/>
<ellipse cx="13.2" cy="28.1" rx="0.7" ry="2.3" transform="rotate(-7 13.2 28.1)" fill="rgb(5,102,3)"/>
<ellipse cx="19.2" cy="19.2" rx="0.7" ry="2.6" transform="rotate(-3 19.2 19.2)" fill="rgb(1,57,1)"/>
<ellipse cx="29.4" cy="11.3" rx="0.7" ry="1.5" transform="rotate(-1 29.4 11.3)" fill="rgb(1,62,2)"/>
<ellipse cx="32.8" cy="25.8" rx="0.8" ry="1.6" transform="rotate(-4 32.8 25.8)" fill="rgb(1,66,2)"/>
<ellipse cx="1.3" cy="4.2" rx="0.8" ry="1.5" transform="rotate(-16 1.3 4.2)" fill="rgb(3,85,3)"/>
<ellipse cx="25.5" cy="38.9" rx="0.8" ry="1.7" transform="rotate(-1 25.5 38.9)" fill="rgb(1,58,1)"/>
<ellipse cx="25.9" cy="36.4" rx="0.7" ry="1.8" transform="rotate(2 25.9 36.4)" fill="rgb(1,60,1)"/>
<ellipse cx="22.1" cy="8.1" rx="0.7" ry="1.9" transform="rotate(1 22.1 8.1)" fill="rgb(1,66,2)"/>
<ellipse cx="9.2" cy="32.9" rx="0.8" ry="2.1" transform="rotate(-6 9.2 32.9)" fill="rgb(2,73,2)"/>
<ellipse cx="15.5" cy="4.3" rx="0.9" ry="1.9" transform="rotate(-21 15.5 4.3)" fill="rgb(7,115,4)"/>
<ellipse cx="27.8" cy="9.8" rx="0.9" ry="2.4" transform="rotate(2 27.8 9.8)" fill="rgb(1,62,2)"/>
<ellipse cx="15.1" cy="38.6" rx="0.6" ry="1.9" transform="rotate(-1 15.1 38.6)" fill="rgb(4,89,3)"/>
<ellipse cx="10.5" cy="24.0" rx="0.9" ry="2.7" transform="rotate(-2 10.5 24.0)" fill="rgb(7,114,4)"/>
<ellipse cx="23.8" cy="29.0" rx="0.9" ry="1.9" transform="rotate(-6 23.8 29.0)" fill="rgb(0,45,1)"/>
<ellipse cx="12.2" cy="10.8" rx="0.9" ry="1.8" transform="rotate(-6 12.2 10.8)" fill="rgb(7,114,4)"/>
<ellipse cx="2.1" cy="7.1" rx="0.9" ry="1.6" transform="rotate(-9 2.1 7.1)" fill="rgb(6,110,4)"/>
<ellipse cx="29.8" cy="34.7" rx="0.8" ry="1.6" transform="rotate(6 29.8 34.7)" fill="rgb(2,71,2)"/>
<ellipse cx="21.7" cy="31.5" rx="0.8" ry="1.7" transform="rotate(-10 21.7 31.5)" fill="rgb(2,70,2)"/>
<ellipse cx="13.2" cy="11.2" rx="0.8" ry="2.4" transform="rotate(2 13.2 11.2)" fill="rgb(5,100,3)"/>
<ellipse cx="16.8" cy="16.5" rx="0.8" ry="2.7" transform="rotate(-7 16.8 16.5)" fill="rgb(7,113,4)"/>
<ellipse cx="4.7" cy="30.9" rx="0.9" ry="2.1" transform="rotate(-10 4.7 30.9)" fill="rgb(3,84,3)"/>
<ellipse cx="26.5" cy="28.7" rx="0.6" ry="2.1" transform="rotate(-20 26.5 28.7)" fill="rgb(3,82,2)"/>
<ellipse cx="33.0" cy="42.6" rx="0.9" ry="1.4" transform="rotate(8 33.0 42.6)" fill="rgb(1,58,1)"/>
<ellipse cx="41.2" cy="13.6" rx="0.9" ry="2.3" transform="rotate(-6 41.2 13.6)" fill="rgb(0,41,1)"/>
<ellipse cx="21.2" cy="22.2" rx="0.6" ry="2.6" transform="rotate(-4 21.2 22.2)" fill="rgb(2,78,2)"/>
<ellipse cx="38.3" cy="19.2" rx="0.7" ry="1.6" transform="rotate(-1 38.3 19.2)" fill="rgb(1,60,1)"/>
<ellipse cx="30.5" cy="16.9" rx="0.7" ry="1.7" transform="rotate(-5 30.5 16.9)" fill="rgb(1,51,1)"/>
<ellipse cx="15.3" cy="39.1" rx="0.7" ry="2.7" transform="rotate(-4 15.3 39.1)" fill="rgb(1,58,1)"/>
<ellipse cx="0.3" cy="39.2" rx="0.8" ry="1.9" transform="rotate(-8 0.3 39.2)" fill="rgb(8,120,4)"/>
<ellipse cx="6.2" cy="25.3" rx="0.9" ry="2.3" transform="rotate(-12 6.2 25.3)" fill="rgb(0,40,1)"/>
<ellipse cx="5.6" cy="41.5" rx="0.7" ry="2.3" transform="rotate(-10 5.6 41.5)" fill="rgb(2,75,2)"/>
<ellipse cx="25.5" cy="0.8" rx="0.8" ry="2.3" transform="rotate(-11 25.5 0.8)" fill="rgb(2,77,2)"/>
<ellipse cx="2.7" cy="27.7" rx="0.9" ry="2.0" transform="rotate(-9 2.7 27.7)" fill="rgb(0,41,1)"/>
<ellipse cx="35.4" cy="25.4" rx="0.6" ry="1.9" transform="rotate(-12 35.4 25.4)" fill="rgb(0,39,1)"/>
<ellipse cx="4.1" cy="46.5" rx="0.7" ry="2.0" transform="rotate(-8 4.1 46.5)" fill="rgb(3,81,2)"/>
<ellipse cx="31.7" cy="39.6" rx="0.9" ry="2.5" transform="rotate(-24 31.7 39.6)" fill="rgb(1,63,2)"/>
<ellipse cx="31.4" cy="29.7" rx="0.7" ry="1.7" transform="rotate(-11 31.4 29.7)" fill="rgb(2,67,2)"/>
<ellipse cx="18.1" cy="44.6" rx="0.7" ry="2.0" transform="rotate(-10 18.1 44.6)" fill="rgb(4,93,3)"/>
<ellipse cx="17.8" cy="40.7" rx="0.6" ry="1.5" transform="rotate(-11 17.8 40.7)" fill="rgb(0,48,1)"/>
<ellipse cx="26.7" cy="23.7" rx="0.7" ry="2.2" transform="rotate(1 26.7 23.7)" fill="rgb(0,38,1)"/>
<ellipse cx="46.3" cy="41.5" rx="0.9" ry="2.7" transform="rotate(-22 46.3 41.5)" fill="rgb(0,45,1)"/>
<ellipse cx="6.7" cy="15.3" rx="0.9" ry="2.6" transform="rotate(9 6.7 15.3)" fill="rgb(5,105,3)"/>
<ellipse cx="37.0" cy="1.2" rx="0.6" ry="2.0" transform="rotate(-10 37.0 1.2)" fill="rgb(1,51,1)"/>
<ellipse cx="32.2" cy="45.4" rx="0.8" ry="1.6" transform="rotate(2 32.2 45.4)" fill="rgb(1,67,2)"/>
<ellipse cx="3.9" cy="45.3" rx="0.8" ry="2.6" transform="rotate(-9 3.9 45.3)" fill="rgb(7,113,4)"/>
<ellipse cx="10.0" cy="6.8" rx="0.6" ry="2.2" transform="rotate(4 10.0 6.8)" fill="rgb(0,37,1)"/>
<ellipse cx="7.1" cy="30.8" rx="0.7" ry="2.4" transform="rotate(2 7.1 30.8)" fill="rgb(7,114,4)"/>
<ellipse cx="16.0" cy="2.2" rx="0.6" ry="2.6" transform="rotate(2 16.0 2.2)" fill="rgb(7,112,4)"/>
<ellipse cx="8.5" cy="37.0" rx="0.9" ry="1.7" transform="rotate(4 8.5 37.0)" fill="rgb(4,89,3)"/>
<ellipse cx="29.0" cy="5.7" rx="0.6" ry="2.1" transform="rotate(-9 29.0 5.7)" fill="rgb(1,60,1)"/>
<ellipse cx="4.1" cy="3.4" rx="0.9" ry="1.7" transform="rotate(-6 4.1 3.4)" fill="rgb(15,153,6)"/>
<ellipse cx="6.9" cy="1.6" rx="0.9" ry="2.2" transform="rotate(-1 6.9 1.6)" fill="rgb(8,119,4)"/>
<ellipse cx="12.3" cy="5.4" rx="0.6" ry="2.3" transform="rotate(5 12.3 5.4)" fill="rgb(10,130,5)"/>
<ellipse cx="21.2" cy="6.9" rx="0.6" ry="2.4" transform="rotate(2 21.2 6.9)" fill="rgb(6,110,4)"/>
<ellipse cx="7.4" cy="9.5" rx="0.9" ry="2.1" transform="rotate(-10 7.4 9.5)" fill="rgb(10,129,5)"/>
<ellipse cx="21.1" cy="12.4" rx="0.5" ry="2.4" transform="rotate(-1 21.1 12.4)" fill="rgb(5,101,3)"/>
<ellipse cx="3.3" cy="16.4" rx="0.6" ry="1.7" transform="rotate(-12 3.3 16.4)" fill="rgb(7,113,4)"/>
<ellipse cx="11.1" cy="16.3" rx="0.5" ry="1.9" transform="rotate(-30 11.1 16.3)" fill="rgb(4,97,3)"/>
<ellipse cx="14.5" cy="16.6" rx="0.8" ry="2.1" transform="rotate(-1 14.5 16.6)" fill="rgb(4,94,3)"/>
<ellipse cx="24.8" cy="16.4" rx="0.5" ry="1.6" transform="rotate(7 24.8 16.4)" fill="rgb(4,95,3)"/>
<ellipse cx="2.5" cy="20.3" rx="0.8" ry="1.5" transform="rotate(-13 2.5 20.3)" fill="rgb(10,129,5)"/>
<ellipse cx="20.5" cy="21.2" rx="0.6" ry="2.3" transform="rotate(6 20.5 21.2)" fill="rgb(6,106,4)"/>
<ellipse cx="23.8" cy="19.4" rx="0.7" ry="2.3" transform="rotate(-1 23.8 19.4)" fill="rgb(6,107,4)"/>
<ellipse cx="9.9" cy="23.6" rx="0.6" ry="2.3" transform="rotate(7 9.9 23.6)" fill="rgb(4,95,3)"/>
<ellipse cx="18.7" cy="24.5" rx="0.6" ry="1.8" transform="rotate(10 18.7 24.5)" fill="rgb(7,113,4)"/>
<ellipse cx="28.6" cy="22.5" rx="0.7" ry="1.6" transform="rotate(-2 28.6 22.5)" fill="rgb(3,87,3)"/>
<ellipse cx="30.2" cy="23.1" rx="0.7" ry="1.6" transform="rotate(-16 30.2 23.1)" fill="rgb(3,88,3)"/>
<ellipse cx="2.4" cy="28.1" rx="0.6" ry="1.7" transform="rotate(-17 2.4 28.1)" fill="rgb(8,119,4)"/>
<ellipse cx="11.6" cy="27.1" rx="0.7" ry="2.5" transform="rotate(-1 11.6 27.1)" fill="rgb(11,137,5)"/>
<ellipse cx="19.6" cy="28.8" rx="0.6" ry="1.9" transform="rotate(-4 19.6 28.8)" fill="rgb(4,94,3)"/>
<ellipse cx="30.3" cy="25.9" rx="0.7" ry="1.4" transform="rotate(-26 30.3 25.9)" fill="rgb(3,87,3)"/>
<ellipse cx="7.3" cy="31.1" rx="0.6" ry="1.6" transform="rotate(-1 7.3 31.1)" fill="rgb(4,95,3)"/>
<ellipse cx="11.2" cy="31.6" rx="0.6" ry="1.9" transform="rotate(-3 11.2 31.6)" fill="rgb(6,106,4)"/>
<ellipse cx="14.0" cy="32.3" rx="0.5" ry="2.1" transform="rotate(6 14.0 32.3)" fill="rgb(5,103,3)"/>
<ellipse cx="3.4" cy="37.4" rx="0.7" ry="2.3" transform="rotate(-11 3.4 37.4)" fill="rgb(10,133,5)"/>
<ellipse cx="6.1" cy="34.1" rx="0.9" ry="2.6" transform="rotate(-15 6.1 34.1)" fill="rgb(11,137,5)"/>
<ellipse cx="11.1" cy="34.2" rx="0.7" ry="1.8" transform="rotate(-9 11.1 34.2)" fill="rgb(12,139,5)"/>
<ellipse cx="14.9" cy="36.5" rx="0.6" ry="1.6" transform="rotate(-22 14.9 36.5)" fill="rgb(8,122,4)"/>
<ellipse cx="4.6" cy="39.2" rx="0.5" ry="1.8" transform="rotate(11 4.6 39.2)" fill="rgb(4,91,3)"/>
<ellipse cx="10.2" cy="38.4" rx="0.7" ry="1.8" transform="rotate(5 10.2 38.4)" fill="rgb(11,137,5)"/>
<ellipse cx="13.9" cy="40.4" rx="0.8" ry="2.3" transform="rotate(-12 13.9 40.4)" fill="rgb(4,97,3)"/>
<ellipse cx="20.1" cy="38.1" rx="0.5" ry="2.1" transform="rotate(-8 20.1 38.1)" fill="rgb(4,93,3)"/>
<ellipse cx="22.1" cy="38.7" rx="0.7" ry="1.7" transform="rotate(-15 22.1 38.7)" fill="rgb(4,95,3)"/>
<ellipse cx="3.3" cy="45.0" rx="0.5" ry="1.3" transform="rotate(-11 3.3 45.0)" fill="rgb(4,89,3)"/>
<ellipse cx="23.6" cy="43.8" rx="0.7" ry="1.5" transform="rotate(2 23.6 43.8)" fill="rgb(6,105,3)"/>
<ellipse cx="26.5" cy="42.4" rx="0.6" ry="1.8" transform="rotate(-5 26.5 42.4)" fill="rgb(4,96,3)"/>
<ellipse cx="29.1" cy="35.6" rx="0.5" ry="0.7" fill="rgb(10,104,8)" fill-opacity="0.9"/>
<ellipse cx="1.6" cy="21.4" rx="0.8" ry="1.2" fill="rgb(10,139,8)" fill-opacity="0.9"/>
<ellipse cx="23.8" cy="38.0" rx="0.9" ry="1.3" fill="rgb(10,87,8)" fill-opacity="0.9"/>
<ellipse cx="13.2" cy="10.7" rx="1.0" ry="1.4" fill="rgb(10,136,8)" fill-opacity="0.9"/>
<ellipse cx="6.3" cy="24.4" rx="0.5" ry="0.7" fill="rgb(10,96,8)" fill-opacity="0.9"/>
<ellipse cx="37.9" cy="20.8" rx="0.9" ry="1.3" fill="rgb(10,58,8)" fill-opacity="0.9"/>
<ellipse cx="43.4" cy="32.6" rx="0.5" ry="0.7" fill="rgb(10,72,8)" fill-opacity="0.9"/>
<ellipse cx="12.7" cy="6.2" rx="0.9" ry="1.3" fill="rgb(10,150,8)" fill-opacity="0.9"/>
<ellipse cx="45.4" cy="9.4" rx="0.6" ry="0.9" fill="rgb(10,80,8)" fill-opacity="0.9"/>
<ellipse cx="2.5" cy="19.7" rx="0.7" ry="0.9" fill="rgb(10,115,8)" fill-opacity="0.9"/>
</g></svg>
<rect x="185" y="203" width="47" height="47" fill="#000"/>
<rect x="186" y="204" width="45" height="45" fill="#030b03"/>
<svg x="185" y="203" width="47" height="47" overflow="hidden"><g filter="url(#bl)">
<ellipse cx="30.6" cy="33.2" rx="0.7" ry="2.0" transform="rotate(-18 30.6 33.2)" fill="rgb(0,49,1)"/>
<ellipse cx="39.8" cy="4.0" rx="0.6" ry="2.8" transform="rotate(-12 39.8 4.0)" fill="rgb(0,40,1)"/>
<ellipse cx="14.6" cy="17.8" rx="0.9" ry="1.9" transform="rotate(-1 14.6 17.8)" fill="rgb(1,60,2)"/>
<ellipse cx="41.5" cy="43.1" rx="0.9" ry="1.7" transform="rotate(-1 41.5 43.1)" fill="rgb(0,45,1)"/>
<ellipse cx="44.9" cy="10.5" rx="0.8" ry="2.0" transform="rotate(11 44.9 10.5)" fill="rgb(1,59,1)"/>
<ellipse cx="14.4" cy="45.9" rx="0.8" ry="2.2" transform="rotate(-0 14.4 45.9)" fill="rgb(2,76,2)"/>
<ellipse cx="16.2" cy="32.1" rx="0.6" ry="1.5" transform="rotate(-2 16.2 32.1)" fill="rgb(5,98,3)"/>
<ellipse cx="21.1" cy="1.5" rx="0.8" ry="1.7" transform="rotate(-20 21.1 1.5)" fill="rgb(4,93,3)"/>
<ellipse cx="31.5" cy="12.4" rx="0.9" ry="2.1" transform="rotate(-6 31.5 12.4)" fill="rgb(2,76,2)"/>
<ellipse cx="31.7" cy="31.3" rx="0.7" ry="2.1" transform="rotate(11 31.7 31.3)" fill="rgb(1,54,1)"/>
<ellipse cx="40.1" cy="17.1" rx="0.8" ry="2.0" transform="rotate(-7 40.1 17.1)" fill="rgb(1,66,2)"/>
<ellipse cx="22.1" cy="10.6" rx="0.6" ry="2.0" transform="rotate(10 22.1 10.6)" fill="rgb(2,69,2)"/>
<ellipse cx="26.4" cy="34.5" rx="0.6" ry="1.9" transform="rotate(-7 26.4 34.5)" fill="rgb(3,82,2)"/>
<ellipse cx="43.1" cy="16.5" rx="0.6" ry="1.5" transform="rotate(-7 43.1 16.5)" fill="rgb(1,65,2)"/>
<ellipse cx="31.8" cy="35.0" rx="0.6" ry="2.6" transform="rotate(-2 31.8 35.0)" fill="rgb(1,53,1)"/>
<ellipse cx="23.8" cy="4.4" rx="0.8" ry="2.7" transform="rotate(-1 23.8 4.4)" fill="rgb(2,77,2)"/>
<ellipse cx="33.1" cy="42.4" rx="0.9" ry="2.1" transform="rotate(-13 33.1 42.4)" fill="rgb(0,47,1)"/>
<ellipse cx="41.5" cy="29.1" rx="0.7" ry="1.6" transform="rotate(-0 41.5 29.1)" fill="rgb(1,55,1)"/>
<ellipse cx="43.3" cy="29.4" rx="0.8" ry="1.5" transform="rotate(-17 43.3 29.4)" fill="rgb(1,56,1)"/>
<ellipse cx="32.1" cy="39.1" rx="0.6" ry="2.3" transform="rotate(-7 32.1 39.1)" fill="rgb(0,49,1)"/>
<ellipse cx="13.7" cy="14.1" rx="0.8" ry="2.4" transform="rotate(4 13.7 14.1)" fill="rgb(1,65,2)"/>
<ellipse cx="7.2" cy="22.7" rx="0.7" ry="2.6" transform="rotate(4 7.2 22.7)" fill="rgb(8,118,4)"/>
<ellipse cx="8.9" cy="35.3" rx="0.9" ry="1.7" transform="rotate(-6 8.9 35.3)" fill="rgb(4,93,3)"/>
<ellipse cx="21.4" cy="34.0" rx="0.9" ry="2.1" transform="rotate(-3 21.4 34.0)" fill="rgb(1,54,1)"/>
<ellipse cx="22.9" cy="14.9" rx="0.7" ry="1.9" transform="rotate(6 22.9 14.9)" fill="rgb(2,78,2)"/>
<ellipse cx="46.7" cy="9.7" rx="0.9" ry="2.2" transform="rotate(-16 46.7 9.7)" fill="rgb(1,53,1)"/>
<ellipse cx="45.2" cy="4.7" rx="0.8" ry="2.0" transform="rotate(-4 45.2 4.7)" fill="rgb(0,45,1)"/>
<ellipse cx="9.9" cy="12.4" rx="0.6" ry="2.5" transform="rotate(-2 9.9 12.4)" fill="rgb(5,99,3)"/>
<ellipse cx="30.0" cy="30.0" rx="0.8" ry="2.6" transform="rotate(-4 30.0 30.0)" fill="rgb(1,65,2)"/>
<ellipse cx="16.4" cy="37.9" rx="0.9" ry="2.7" transform="rotate(-10 16.4 37.9)" fill="rgb(2,72,2)"/>
<ellipse cx="18.7" cy="30.4" rx="0.6" ry="2.4" transform="rotate(-3 18.7 30.4)" fill="rgb(4,93,3)"/>
<ellipse cx="11.8" cy="13.7" rx="0.7" ry="2.0" transform="rotate(-12 11.8 13.7)" fill="rgb(2,72,2)"/>
<ellipse cx="33.6" cy="20.6" rx="0.6" ry="2.4" transform="rotate(8 33.6 20.6)" fill="rgb(0,49,1)"/>
<ellipse cx="24.5" cy="23.6" rx="0.9" ry="2.8" transform="rotate(4 24.5 23.6)" fill="rgb(0,44,1)"/>
<ellipse cx="21.0" cy="21.8" rx="0.6" ry="2.1" transform="rotate(-20 21.0 21.8)" fill="rgb(1,54,1)"/>
<ellipse cx="14.1" cy="43.5" rx="0.9" ry="2.1" transform="rotate(-6 14.1 43.5)" fill="rgb(0,43,1)"/>
<ellipse cx="36.9" cy="36.6" rx="0.9" ry="1.8" transform="rotate(-1 36.9 36.6)" fill="rgb(0,46,1)"/>
<ellipse cx="20.6" cy="34.8" rx="0.8" ry="2.3" transform="rotate(-6 20.6 34.8)" fill="rgb(2,69,2)"/>
<ellipse cx="33.1" cy="29.8" rx="0.9" ry="2.6" transform="rotate(-6 33.1 29.8)" fill="rgb(2,77,2)"/>
<ellipse cx="20.9" cy="9.1" rx="0.7" ry="2.1" transform="rotate(-2 20.9 9.1)" fill="rgb(1,52,1)"/>
<ellipse cx="4.7" cy="33.4" rx="0.9" ry="1.7" transform="rotate(-27 4.7 33.4)" fill="rgb(3,88,3)"/>
<ellipse cx="23.2" cy="26.6" rx="0.7" ry="2.1" transform="rotate(-9 23.2 26.6)" fill="rgb(4,90,3)"/>
<ellipse cx="44.8" cy="30.7" rx="0.8" ry="2.1" transform="rotate(-1 44.8 30.7)" fill="rgb(1,57,1)"/>
<ellipse cx="4.1" cy="3.4" rx="1.4" ry="2.4" transform="rotate(-6 4.1 3.4)" fill="rgb(55,255,12)"/>
<ellipse cx="6.9" cy="1.6" rx="1.5" ry="3.4" transform="rotate(-1 6.9 1.6)" fill="rgb(55,255,12)"/>
<ellipse cx="13.0" cy="2.0" rx="1.0" ry="2.5" transform="rotate(14 13.0 2.0)" fill="rgb(13,145,5)"/>
<ellipse cx="17.0" cy="2.5" rx="0.6" ry="2.0" transform="rotate(-13 17.0 2.5)" fill="rgb(4,91,3)"/>
<ellipse cx="18.5" cy="2.9" rx="0.9" ry="2.3" transform="rotate(-13 18.5 2.9)" fill="rgb(12,140,5)"/>
<ellipse cx="24.5" cy="1.9" rx="1.0" ry="2.4" transform="rotate(-1 24.5 1.9)" fill="rgb(19,169,7)"/>
<ellipse cx="26.5" cy="1.8" rx="0.8" ry="1.8" transform="rotate(-4 26.5 1.8)" fill="rgb(8,122,4)"/>
<ellipse cx="33.2" cy="3.8" rx="0.7" ry="1.9" transform="rotate(-18 33.2 3.8)" fill="rgb(8,119,4)"/>
<ellipse cx="2.6" cy="7.6" rx="0.9" ry="2.3" transform="rotate(-11 2.6 7.6)" fill="rgb(13,146,5)"/>
<ellipse cx="6.8" cy="6.2" rx="0.8" ry="2.6" transform="rotate(-1 6.8 6.2)" fill="rgb(9,128,5)"/>
<ellipse cx="12.3" cy="5.4" rx="1.0" ry="3.5" transform="rotate(5 12.3 5.4)" fill="rgb(55,255,12)"/>
<ellipse cx="16.0" cy="7.7" rx="0.7" ry="2.3" transform="rotate(-2 16.0 7.7)" fill="rgb(5,99,3)"/>
<ellipse cx="21.2" cy="6.9" rx="1.1" ry="3.8" transform="rotate(2 21.2 6.9)" fill="rgb(55,255,12)"/>
<ellipse cx="24.3" cy="5.3" rx="0.7" ry="2.6" transform="rotate(-23 24.3 5.3)" fill="rgb(13,145,5)"/>
<ellipse cx="28.6" cy="5.7" rx="0.8" ry="1.8" transform="rotate(-18 28.6 5.7)" fill="rgb(6,111,4)"/>
<ellipse cx="31.9" cy="7.0" rx="0.9" ry="2.0" transform="rotate(2 31.9 7.0)" fill="rgb(12,140,5)"/>
<ellipse cx="36.8" cy="5.3" rx="1.0" ry="2.7" transform="rotate(-15 36.8 5.3)" fill="rgb(27,193,8)"/>
<ellipse cx="40.4" cy="8.8" rx="0.8" ry="2.5" transform="rotate(6 40.4 8.8)" fill="rgb(31,202,9)"/>
<ellipse cx="44.6" cy="6.6" rx="0.9" ry="2.2" transform="rotate(-12 44.6 6.6)" fill="rgb(15,155,6)"/>
<ellipse cx="4.6" cy="9.4" rx="0.9" ry="2.9" transform="rotate(-24 4.6 9.4)" fill="rgb(17,160,6)"/>
<ellipse cx="7.4" cy="9.5" rx="1.4" ry="3.1" transform="rotate(-10 7.4 9.5)" fill="rgb(55,255,12)"/>
<ellipse cx="9.5" cy="10.1" rx="0.8" ry="2.5" transform="rotate(-15 9.5 10.1)" fill="rgb(19,168,7)"/>
<ellipse cx="13.6" cy="11.0" rx="1.0" ry="1.6" transform="rotate(4 13.6 11.0)" fill="rgb(13,146,6)"/>
<ellipse cx="21.1" cy="12.4" rx="1.0" ry="3.7" transform="rotate(-1 21.1 12.4)" fill="rgb(45,236,10)"/>
<ellipse cx="22.6" cy="10.5" rx="0.5" ry="1.6" transform="rotate(-12 22.6 10.5)" fill="rgb(3,87,3)"/>
<ellipse cx="25.8" cy="9.4" rx="1.1" ry="2.3" transform="rotate(-2 25.8 9.4)" fill="rgb(22,178,7)"/>
<ellipse cx="31.9" cy="10.8" rx="0.9" ry="2.0" transform="rotate(-10 31.9 10.8)" fill="rgb(12,139,5)"/>
<ellipse cx="34.4" cy="10.9" rx="0.7" ry="2.4" transform="rotate(-7 34.4 10.9)" fill="rgb(24,185,8)"/>
<ellipse cx="41.7" cy="10.0" rx="0.7" ry="2.2" transform="rotate(-10 41.7 10.0)" fill="rgb(4,95,3)"/>
<ellipse cx="43.7" cy="12.8" rx="0.9" ry="2.6" transform="rotate(-0 43.7 12.8)" fill="rgb(19,166,7)"/>
<ellipse cx="3.3" cy="16.4" rx="1.1" ry="2.6" transform="rotate(-12 3.3 16.4)" fill="rgb(52,249,11)"/>
<ellipse cx="5.6" cy="14.7" rx="0.9" ry="2.0" transform="rotate(-5 5.6 14.7)" fill="rgb(16,158,6)"/>
<ellipse cx="11.1" cy="16.3" rx="0.9" ry="2.8" transform="rotate(-30 11.1 16.3)" fill="rgb(37,218,9)"/>
<ellipse cx="14.5" cy="16.6" rx="1.3" ry="3.1" transform="rotate(-1 14.5 16.6)" fill="rgb(35,214,9)"/>
<ellipse cx="18.8" cy="16.9" rx="0.5" ry="2.5" transform="rotate(-7 18.8 16.9)" fill="rgb(8,121,4)"/>
<ellipse cx="24.8" cy="16.4" rx="0.8" ry="2.5" transform="rotate(7 24.8 16.4)" fill="rgb(40,225,10)"/>
<ellipse cx="32.5" cy="14.2" rx="0.8" ry="2.0" transform="rotate(-4 32.5 14.2)" fill="rgb(17,162,6)"/>
<ellipse cx="35.2" cy="14.4" rx="0.9" ry="2.6" transform="rotate(-14 35.2 14.4)" fill="rgb(10,130,5)"/>
<ellipse cx="39.9" cy="15.5" rx="1.2" ry="2.5" transform="rotate(-16 39.9 15.5)" fill="rgb(28,196,8)"/>
<ellipse cx="44.5" cy="14.0" rx="0.6" ry="2.2" transform="rotate(-10 44.5 14.0)" fill="rgb(4,92,3)"/>
<ellipse cx="2.5" cy="20.3" rx="1.3" ry="2.2" transform="rotate(-13 2.5 20.3)" fill="rgb(55,255,12)"/>
<ellipse cx="5.5" cy="19.0" rx="0.7" ry="1.7" transform="rotate(3 5.5 19.0)" fill="rgb(7,112,4)"/>
<ellipse cx="12.8" cy="20.4" rx="1.1" ry="2.4" transform="rotate(-15 12.8 20.4)" fill="rgb(19,169,7)"/>
<ellipse cx="13.8" cy="19.5" rx="0.6" ry="2.3" transform="rotate(-12 13.8 19.5)" fill="rgb(5,100,3)"/>
<ellipse cx="20.5" cy="21.2" rx="1.2" ry="3.7" transform="rotate(6 20.5 21.2)" fill="rgb(52,250,11)"/>
<ellipse cx="23.8" cy="19.4" rx="1.3" ry="3.6" transform="rotate(-1 23.8 19.4)" fill="rgb(54,253,11)"/>
<ellipse cx="37.4" cy="18.9" rx="0.8" ry="2.3" transform="rotate(-15 37.4 18.9)" fill="rgb(26,191,8)"/>
<ellipse cx="40.5" cy="18.1" rx="0.9" ry="2.5" transform="rotate(-9 40.5 18.1)" fill="rgb(26,191,8)"/>
<ellipse cx="44.7" cy="20.2" rx="0.5" ry="1.9" transform="rotate(9 44.7 20.2)" fill="rgb(5,99,3)"/>
<ellipse cx="4.1" cy="22.6" rx="0.9" ry="1.8" transform="rotate(0 4.1 22.6)" fill="rgb(12,139,5)"/>
<ellipse cx="8.5" cy="21.9" rx="0.6" ry="2.3" transform="rotate(-1 8.5 21.9)" fill="rgb(11,136,5)"/>
<ellipse cx="9.9" cy="23.6" rx="0.9" ry="3.4" transform="rotate(7 9.9 23.6)" fill="rgb(35,215,9)"/>
<ellipse cx="15.9" cy="22.5" rx="0.7" ry="2.4" transform="rotate(-10 15.9 22.5)" fill="rgb(9,126,4)"/>
<ellipse cx="18.7" cy="24.5" rx="1.1" ry="2.8" transform="rotate(10 18.7 24.5)" fill="rgb(55,255,12)"/>
<ellipse cx="22.1" cy="24.1" rx="0.5" ry="1.7" transform="rotate(-2 22.1 24.1)" fill="rgb(6,105,3)"/>
<ellipse cx="28.6" cy="22.5" rx="1.2" ry="2.5" transform="rotate(-2 28.6 22.5)" fill="rgb(35,213,9)"/>
<ellipse cx="30.2" cy="23.1" rx="1.3" ry="2.4" transform="rotate(-16 30.2 23.1)" fill="rgb(37,219,9)"/>
<ellipse cx="36.5" cy="25.0" rx="1.0" ry="2.9" transform="rotate(1 36.5 25.0)" fill="rgb(30,202,8)"/>
<ellipse cx="39.6" cy="23.6" rx="0.8" ry="2.0" transform="rotate(-9 39.6 23.6)" fill="rgb(16,155,6)"/>
<ellipse cx="44.1" cy="22.2" rx="0.8" ry="2.3" transform="rotate(1 44.1 22.2)" fill="rgb(10,133,5)"/>
<ellipse cx="2.4" cy="28.1" rx="1.0" ry="2.6" transform="rotate(-17 2.4 28.1)" fill="rgb(55,255,12)"/>
<ellipse cx="8.9" cy="25.9" rx="1.2" ry="2.4" transform="rotate(-3 8.9 25.9)" fill="rgb(27,193,8)"/>
<ellipse cx="11.6" cy="27.1" rx="1.1" ry="3.7" transform="rotate(-1 11.6 27.1)" fill="rgb(55,255,12)"/>
<ellipse cx="14.4" cy="26.1" rx="0.8" ry="2.5" transform="rotate(10 14.4 26.1)" fill="rgb(14,150,6)"/>
<ellipse cx="19.6" cy="28.8" rx="1.1" ry="3.0" transform="rotate(-4 19.6 28.8)" fill="rgb(39,223,10)"/>
<ellipse cx="24.5" cy="26.0" rx="1.1" ry="2.3" transform="rotate(-17 24.5 26.0)" fill="rgb(21,174,7)"/>
<ellipse cx="28.4" cy="27.5" rx="0.9" ry="2.1" transform="rotate(-7 28.4 27.5)" fill="rgb(17,162,6)"/>
<ellipse cx="30.3" cy="25.9" rx="1.2" ry="2.2" transform="rotate(-26 30.3 25.9)" fill="rgb(37,218,9)"/>
<ellipse cx="37.0" cy="26.1" rx="0.7" ry="2.1" transform="rotate(-15 37.0 26.1)" fill="rgb(8,118,4)"/>
<ellipse cx="41.5" cy="26.3" rx="0.8" ry="2.3" transform="rotate(7 41.5 26.3)" fill="rgb(6,110,4)"/>
<ellipse cx="44.0" cy="29.1" rx="0.5" ry="2.3" transform="rotate(2 44.0 29.1)" fill="rgb(4,96,3)"/>
<ellipse cx="1.2" cy="33.4" rx="0.8" ry="1.9" transform="rotate(-2 1.2 33.4)" fill="rgb(6,110,4)"/>
<ellipse cx="7.3" cy="31.1" rx="1.1" ry="2.4" transform="rotate(-1 7.3 31.1)" fill="rgb(35,214,9)"/>
<ellipse cx="11.2" cy="31.6" rx="1.1" ry="3.0" transform="rotate(-3 11.2 31.6)" fill="rgb(48,242,11)"/>
<ellipse cx="14.0" cy="32.3" rx="1.0" ry="3.2" transform="rotate(6 14.0 32.3)" fill="rgb(46,239,11)"/>
<ellipse cx="20.5" cy="31.3" rx="1.0" ry="2.7" transform="rotate(-8 20.5 31.3)" fill="rgb(14,147,6)"/>
<ellipse cx="25.1" cy="32.0" rx="0.7" ry="2.3" transform="rotate(3 25.1 32.0)" fill="rgb(19,169,7)"/>
<ellipse cx="26.7" cy="30.4" rx="1.1" ry="2.3" transform="rotate(-1 26.7 30.4)" fill="rgb(29,197,8)"/>
<ellipse cx="36.0" cy="30.6" rx="0.7" ry="1.8" transform="rotate(-3 36.0 30.6)" fill="rgb(15,154,6)"/>
<ellipse cx="39.0" cy="32.3" rx="1.0" ry="2.4" transform="rotate(-1 39.0 32.3)" fill="rgb(27,193,8)"/>
<ellipse cx="42.9" cy="31.6" rx="1.0" ry="2.3" transform="rotate(-28 42.9 31.6)" fill="rgb(24,185,8)"/>
<ellipse cx="3.4" cy="37.4" rx="1.1" ry="3.4" transform="rotate(-11 3.4 37.4)" fill="rgb(55,255,12)"/>
<ellipse cx="6.1" cy="34.1" rx="1.4" ry="3.8" transform="rotate(-15 6.1 34.1)" fill="rgb(55,255,12)"/>
<ellipse cx="11.1" cy="34.2" rx="1.1" ry="2.5" transform="rotate(-9 11.1 34.2)" fill="rgb(55,255,12)"/>
<ellipse cx="14.9" cy="36.5" rx="1.1" ry="2.4" transform="rotate(-22 14.9 36.5)" fill="rgb(55,255,12)"/>
<ellipse cx="17.9" cy="34.9" rx="0.6" ry="2.1" transform="rotate(-0 17.9 34.9)" fill="rgb(4,95,3)"/>
<ellipse cx="22.7" cy="36.0" rx="1.2" ry="1.9" transform="rotate(-15 22.7 36.0)" fill="rgb(30,201,8)"/>
<ellipse cx="27.0" cy="35.6" rx="0.6" ry="2.1" transform="rotate(-11 27.0 35.6)" fill="rgb(10,131,5)"/>
<ellipse cx="31.9" cy="36.4" rx="0.5" ry="1.8" transform="rotate(-8 31.9 36.4)" fill="rgb(5,104,3)"/>
<ellipse cx="41.2" cy="37.1" rx="0.5" ry="2.2" transform="rotate(-10 41.2 37.1)" fill="rgb(3,88,3)"/>
<ellipse cx="4.6" cy="39.2" rx="0.9" ry="2.7" transform="rotate(11 4.6 39.2)" fill="rgb(31,203,9)"/>
<ellipse cx="7.2" cy="40.9" rx="1.0" ry="2.4" transform="rotate(-4 7.2 40.9)" fill="rgb(15,154,6)"/>
<ellipse cx="10.2" cy="38.4" rx="1.1" ry="2.6" transform="rotate(5 10.2 38.4)" fill="rgb(55,255,12)"/>
<ellipse cx="13.9" cy="40.4" rx="1.4" ry="3.6" transform="rotate(-12 13.9 40.4)" fill="rgb(41,228,10)"/>
<ellipse cx="20.1" cy="38.1" rx="0.8" ry="3.2" transform="rotate(-8 20.1 38.1)" fill="rgb(40,226,10)"/>
<ellipse cx="22.1" cy="38.7" rx="1.3" ry="2.7" transform="rotate(-15 22.1 38.7)" fill="rgb(44,234,10)"/>
<ellipse cx="26.1" cy="38.5" rx="0.9" ry="2.6" transform="rotate(-13 26.1 38.5)" fill="rgb(20,172,7)"/>
<ellipse cx="32.6" cy="41.2" rx="0.7" ry="2.5" transform="rotate(13 32.6 41.2)" fill="rgb(13,146,5)"/>
<ellipse cx="39.5" cy="40.9" rx="0.8" ry="3.0" transform="rotate(-16 39.5 40.9)" fill="rgb(29,198,8)"/>
<ellipse cx="44.0" cy="39.9" rx="0.8" ry="2.2" transform="rotate(-14 44.0 39.9)" fill="rgb(11,138,5)"/>
<ellipse cx="3.3" cy="45.0" rx="0.9" ry="1.9" transform="rotate(-11 3.3 45.0)" fill="rgb(29,197,8)"/>
<ellipse cx="7.1" cy="43.9" rx="0.9" ry="1.9" transform="rotate(-7 7.1 43.9)" fill="rgb(15,155,6)"/>
<ellipse cx="12.0" cy="43.7" rx="1.0" ry="2.7" transform="rotate(-14 12.0 43.7)" fill="rgb(12,142,5)"/>
<ellipse cx="14.2" cy="44.9" rx="0.7" ry="1.6" transform="rotate(-2 14.2 44.9)" fill="rgb(4,90,3)"/>
<ellipse cx="21.2" cy="42.5" rx="0.7" ry="1.8" transform="rotate(-13 21.2 42.5)" fill="rgb(4,96,3)"/>
<ellipse cx="23.6" cy="43.8" rx="1.4" ry="2.5" transform="rotate(2 23.6 43.8)" fill="rgb(55,255,12)"/>
<ellipse cx="26.5" cy="42.4" rx="1.2" ry="3.0" transform="rotate(-5 26.5 42.4)" fill="rgb(53,251,11)"/>
<ellipse cx="32.5" cy="44.8" rx="0.7" ry="1.9" transform="rotate(-15 32.5 44.8)" fill="rgb(4,90,3)"/>
<ellipse cx="34.9" cy="44.3" rx="0.8" ry="2.2" transform="rotate(1 34.9 44.3)" fill="rgb(27,194,8)"/>
<ellipse cx="45.0" cy="45.5" rx="0.8" ry="1.5" transform="rotate(-4 45.0 45.5)" fill="rgb(6,111,4)"/>
<ellipse cx="27.3" cy="30.5" rx="0.6" ry="0.9" fill="rgb(10,166,8)" fill-opacity="0.9"/>
<ellipse cx="13.8" cy="16.4" rx="0.6" ry="0.8" fill="rgb(10,230,8)" fill-opacity="0.9"/>
<ellipse cx="24.5" cy="35.9" rx="0.8" ry="1.2" fill="rgb(10,223,8)" fill-opacity="0.9"/>
<ellipse cx="8.5" cy="13.5" rx="0.9" ry="1.3" fill="rgb(10,169,8)" fill-opacity="0.9"/>
<ellipse cx="10.2" cy="9.0" rx="0.6" ry="0.8" fill="rgb(10,230,8)" fill-opacity="0.9"/>
<ellipse cx="15.7" cy="15.1" rx="0.8" ry="1.1" fill="rgb(10,230,8)" fill-opacity="0.9"/>
<ellipse cx="18.3" cy="16.6" rx="0.5" ry="0.8" fill="rgb(10,230,8)" fill-opacity="0.9"/>
<ellipse cx="43.1" cy="21.1" rx="0.8" ry="1.1" fill="rgb(10,168,8)" fill-opacity="0.9"/>
<ellipse cx="24.4" cy="6.9" rx="1.0" ry="1.4" fill="rgb(10,230,8)" fill-opacity="0.9"/>
<ellipse cx="30.9" cy="1.7" rx="0.8" ry="1.1" fill="rgb(10,230,8)" fill-opacity="0.9"/>
</g></svg>
<rect x="40" y="252" width="47" height="46" fill="#000"/>
<rect x="41" y="253" width="45" height="44" fill="#030b03"/>
<svg x="40" y="252" width="47" height="46" overflow="hidden"><g filter="url(#bl)">
<ellipse cx="40.8" cy="9.2" rx="0.9" ry="1.3" fill="rgb(10,55,8)" fill-opacity="0.9"/>
<ellipse cx="16.0" cy="34.2" rx="0.8" ry="1.1" fill="rgb(10,56,8)" fill-opacity="0.9"/>
<ellipse cx="38.9" cy="8.3" rx="0.7" ry="0.9" fill="rgb(10,44,8)" fill-opacity="0.9"/>
<ellipse cx="38.3" cy="14.8" rx="0.9" ry="1.2" fill="rgb(10,54,8)" fill-opacity="0.9"/>
<ellipse cx="39.0" cy="11.2" rx="0.8" ry="1.1" fill="rgb(10,53,8)" fill-opacity="0.9"/>
<ellipse cx="23.6" cy="12.2" rx="0.8" ry="1.1" fill="rgb(10,51,8)" fill-opacity="0.9"/>
<ellipse cx="14.3" cy="32.5" rx="0.7" ry="1.0" fill="rgb(10,46,8)" fill-opacity="0.9"/>
<ellipse cx="31.2" cy="19.4" rx="0.5" ry="0.7" fill="rgb(10,44,8)" fill-opacity="0.9"/>
<ellipse cx="31.7" cy="25.2" rx="0.5" ry="0.8" fill="rgb(10,43,8)" fill-opacity="0.9"/>
<ellipse cx="31.7" cy="26.0" rx="0.8" ry="1.1" fill="rgb(10,44,8)" fill-opacity="0.9"/>
<ellipse cx="6.1" cy="10.0" rx="0.9" ry="1.3" fill="rgb(10,41,8)" fill-opacity="0.9"/>
<ellipse cx="2.4" cy="43.7" rx="0.9" ry="1.2" fill="rgb(10,50,8)" fill-opacity="0.9"/>
<ellipse cx="14.6" cy="36.1" rx="0.9" ry="1.3" fill="rgb(10,56,8)" fill-opacity="0.9"/>
<ellipse cx="44.3" cy="18.4" rx="0.6" ry="0.8" fill="rgb(10,50,8)" fill-opacity="0.9"/>
<ellipse cx="37.3" cy="17.3" rx="0.9" ry="1.3" fill="rgb(10,51,8)" fill-opacity="0.9"/>
</g></svg>
<rect x="89" y="252" width="46" height="46" fill="#000"/>
<rect x="90" y="253" width="44" height="44" fill="#030b03"/>
<svg x="89" y="252" width="46" height="46" overflow="hidden"><g filter="url(#bl)">
<ellipse cx="21.1" cy="12.7" rx="1.0" ry="1.3" fill="rgb(10,87,8)" fill-opacity="0.9"/>
<ellipse cx="15.1" cy="39.3" rx="0.6" ry="0.9" fill="rgb(10,66,8)" fill-opacity="0.9"/>
<ellipse cx="5.7" cy="29.4" rx="0.6" ry="0.9" fill="rgb(10,99,8)" fill-opacity="0.9"/>
<ellipse cx="13.8" cy="10.9" rx="0.7" ry="1.0" fill="rgb(10,82,8)" fill-opacity="0.9"/>
<ellipse cx="3.2" cy="3.9" rx="0.7" ry="0.9" fill="rgb(10,73,8)" fill-opacity="0.9"/>
<ellipse cx="39.0" cy="37.8" rx="0.7" ry="0.9" fill="rgb(10,58,8)" fill-opacity="0.9"/>
<ellipse cx="44.4" cy="20.2" rx="0.7" ry="0.9" fill="rgb(10,51,8)" fill-opacity="0.9"/>
<ellipse cx="12.9" cy="30.0" rx="0.9" ry="1.3" fill="rgb(10,93,8)" fill-opacity="0.9"/>
<ellipse cx="35.1" cy="25.4" rx="0.5" ry="0.7" fill="rgb(10,62,8)" fill-opacity="0.9"/>
<ellipse cx="12.9" cy="35.4" rx="0.5" ry="0.7" fill="rgb(10,83,8)" fill-opacity="0.9"/>
<ellipse cx="41.3" cy="8.3" rx="0.9" ry="1.2" fill="rgb(10,65,8)" fill-opacity="0.9"/>
<ellipse cx="41.2" cy="14.8" rx="0.6" ry="0.9" fill="rgb(10,50,8)" fill-opacity="0.9"/>
<ellipse cx="4.8" cy="9.4" rx="0.9" ry="1.2" fill="rgb(10,72,8)" fill-opacity="0.9"/>
<ellipse cx="15.1" cy="22.9" rx="0.9" ry="1.2" fill="rgb(10,104,8)" fill-opacity="0.9"/>
<ellipse cx="8.7" cy="10.3" rx="0.5" ry="0.7" fill="rgb(10,53,8)" fill-opacity="0.9"/>
<ellipse cx="36.5" cy="32.7" rx="0.5" ry="0.7" fill="rgb(10,80,8)" fill-opacity="0.9"/>
<ellipse cx="25.5" cy="38.7" rx="0.8" ry="1.1" fill="rgb(10,72,8)" fill-opacity="0.9"/>
<ellipse cx="10.6" cy="26.6" rx="0.5" ry="0.7" fill="rgb(10,94,8)" fill-opacity="0.9"/>
<ellipse cx="12.5" cy="29.8" rx="0.5" ry="0.7" fill="rgb(10,94,8)" fill-opacity="0.9"/>
<ellipse cx="25.2" cy="42.7" rx="0.6" ry="0.8" fill="rgb(10,84,8)" fill-opacity="0.9"/>
<ellipse cx="35.7" cy="24.2" rx="0.9" ry="1.3" fill="rgb(10,84,8)" fill-opacity="0.9"/>
<ellipse cx="6.9" cy="35.9" rx="0.8" ry="1.2" fill="rgb(10,85,8)" fill-opacity="0.9"/>
<ellipse cx="9.0" cy="32.6" rx="0.6" ry="0.9" fill="rgb(10,87,8)" fill-opacity="0.9"/>
<ellipse cx="7.9" cy="41.1" rx="0.8" ry="1.1" fill="rgb(10,62,8)" fill-opacity="0.9"/>
<ellipse cx="36.5" cy="6.0" rx="0.8" ry="1.1" fill="rgb(10,50,8)" fill-opacity="0.9"/>
<ellipse cx="37.4" cy="27.8" rx="0.9" ry="1.2" fill="rgb(10,67,8)" fill-opacity="0.9"/>
<ellipse cx="7.0" cy="37.9" rx="0.6" ry="0.8" fill="rgb(10,82,8)" fill-opacity="0.9"/>
<ellipse cx="37.6" cy="34.9" rx="0.9" ry="1.3" fill="rgb(10,68,8)" fill-opacity="0.9"/>
<ellipse cx="40.7" cy="43.3" rx="0.9" ry="1.3" fill="rgb(10,61,8)" fill-opacity="0.9"/>
<ellipse cx="37.5" cy="12.8" rx="0.8" ry="1.1" fill="rgb(10,70,8)" fill-opacity="0.9"/>
<ellipse cx="25.8" cy="21.6" rx="0.8" ry="1.1" fill="rgb(10,89,8)" fill-opacity="0.9"/>
<ellipse cx="15.3" cy="15.5" rx="0.6" ry="0.8" fill="rgb(10,87,8)" fill-opacity="0.9"/>
<ellipse cx="20.0" cy="34.1" rx="0.6" ry="0.8" fill="rgb(10,86,8)" fill-opacity="0.9"/>
<ellipse cx="5.9" cy="38.7" rx="0.7" ry="1.0" fill="rgb(10,56,8)" fill-opacity="0.9"/>
<ellipse cx="36.5" cy="29.2" rx="0.9" ry="1.2" fill="rgb(10,82,8)" fill-opacity="0.9"/>
<ellipse cx="30.4" cy="5.2" rx="0.5" ry="0.7" fill="rgb(10,84,8)" fill-opacity="0.9"/>
<ellipse cx="9.7" cy="39.3" rx="1.0" ry="1.3" fill="rgb(10,95,8)" fill-opacity="0.9"/>
<ellipse cx="29.4" cy="28.0" rx="0.6" ry="0.9" fill="rgb(10,57,8)" fill-opacity="0.9"/>
<ellipse cx="8.1" cy="30.9" rx="0.7" ry="1.0" fill="rgb(10,82,8)" fill-opacity="0.9"/>
<ellipse cx="43.9" cy="21.6" rx="0.8" ry="1.2" fill="rgb(10,62,8)" fill-opacity="0.9"/>
<ellipse cx="7.6" cy="41.3" rx="1.0" ry="1.4" fill="rgb(10,58,8)" fill-opacity="0.9"/>
<ellipse cx="2.0" cy="7.8" rx="0.7" ry="0.9" fill="rgb(10,73,8)" fill-opacity="0.9"/>
<ellipse cx="4.7" cy="23.8" rx="0.7" ry="1.0" fill="rgb(10,69,8)" fill-opacity="0.9"/>
<ellipse cx="6.3" cy="32.0" rx="0.9" ry="1.3" fill="rgb(10,59,8)" fill-opacity="0.9"/>
</g></svg>
<rect x="137" y="252" width="47" height="46" fill="#000"/>
<rect x="138" y="253" width="45" height="44" fill="#030b03"/>
<svg x="137" y="252" width="47" height="46" overflow="hidden"><g filter="url(#bl)">
<ellipse cx="17.7" cy="32.4" rx="0.9" ry="2.7" transform="rotate(-7 17.7 32.4)" fill="rgb(3,88,3)"/>
<ellipse cx="26.1" cy="24.5" rx="0.7" ry="1.9" transform="rotate(-12 26.1 24.5)" fill="rgb(1,63,2)"/>
<ellipse cx="17.3" cy="4.3" rx="0.8" ry="2.4" transform="rotate(6 17.3 4.3)" fill="rgb(2,71,2)"/>
<ellipse cx="32.4" cy="30.0" rx="0.7" ry="2.4" transform="rotate(-7 32.4 30.0)" fill="rgb(1,65,2)"/>
<ellipse cx="11.7" cy="34.7" rx="0.6" ry="2.2" transform="rotate(-13 11.7 34.7)" fill="rgb(7,115,4)"/>
<ellipse cx="16.0" cy="21.0" rx="0.9" ry="2.7" transform="rotate(-10 16.0 21.0)" fill="rgb(2,74,2)"/>
<ellipse cx="1.9" cy="26.8" rx="0.6" ry="1.5" transform="rotate(-16 1.9 26.8)" fill="rgb(5,100,3)"/>
<ellipse cx="24.7" cy="33.8" rx="0.8" ry="2.7" transform="rotate(-9 24.7 33.8)" fill="rgb(4,89,3)"/>
<ellipse cx="2.7" cy="12.7" rx="0.9" ry="1.9" transform="rotate(1 2.7 12.7)" fill="rgb(7,113,4)"/>
<ellipse cx="0.0" cy="27.1" rx="0.6" ry="2.6" transform="rotate(-5 0.0 27.1)" fill="rgb(4,96,3)"/>
<ellipse cx="36.9" cy="45.8" rx="0.9" ry="1.5" transform="rotate(4 36.9 45.8)" fill="rgb(0,44,1)"/>
<ellipse cx="29.5" cy="28.1" rx="0.6" ry="2.3" transform="rotate(8 29.5 28.1)" fill="rgb(1,67,2)"/>
<ellipse cx="0.3" cy="33.8" rx="0.6" ry="2.6" transform="rotate(0 0.3 33.8)" fill="rgb(1,59,1)"/>
<ellipse cx="12.1" cy="32.7" rx="0.6" ry="2.0" transform="rotate(-12 12.1 32.7)" fill="rgb(4,94,3)"/>
<ellipse cx="35.6" cy="30.0" rx="0.8" ry="2.5" transform="rotate(1 35.6 30.0)" fill="rgb(2,68,2)"/>
<ellipse cx="6.7" cy="26.0" rx="0.7" ry="2.3" transform="rotate(-11 6.7 26.0)" fill="rgb(2,71,2)"/>
<ellipse cx="13.7" cy="35.3" rx="0.9" ry="2.3" transform="rotate(4 13.7 35.3)" fill="rgb(3,85,3)"/>
<ellipse cx="3.9" cy="23.8" rx="0.8" ry="2.3" transform="rotate(0 3.9 23.8)" fill="rgb(8,121,4)"/>
<ellipse cx="28.9" cy="22.5" rx="0.6" ry="2.4" transform="rotate(-8 28.9 22.5)" fill="rgb(3,86,3)"/>
<ellipse cx="43.9" cy="20.7" rx="0.7" ry="1.7" transform="rotate(-11 43.9 20.7)" fill="rgb(0,43,1)"/>
<ellipse cx="18.4" cy="30.7" rx="0.6" ry="2.5" transform="rotate(0 18.4 30.7)" fill="rgb(1,60,1)"/>
<ellipse cx="21.6" cy="0.3" rx="0.6" ry="2.5" transform="rotate(4 21.6 0.3)" fill="rgb(3,86,3)"/>
<ellipse cx="26.7" cy="14.5" rx="0.8" ry="2.5" transform="rotate(-5 26.7 14.5)" fill="rgb(3,88,3)"/>
<ellipse cx="45.0" cy="25.4" rx="0.6" ry="2.2" transform="rotate(-19 45.0 25.4)" fill="rgb(0,49,1)"/>
<ellipse cx="37.5" cy="8.9" rx="0.9" ry="1.7" transform="rotate(-2 37.5 8.9)" fill="rgb(2,78,2)"/>
<ellipse cx="33.0" cy="29.9" rx="0.7" ry="2.5" transform="rotate(-6 33.0 29.9)" fill="rgb(0,39,1)"/>
<ellipse cx="21.7" cy="7.5" rx="0.9" ry="2.4" transform="rotate(-14 21.7 7.5)" fill="rgb(0,48,1)"/>
<ellipse cx="19.6" cy="10.0" rx="0.7" ry="2.8" transform="rotate(-12 19.6 10.0)" fill="rgb(7,113,4)"/>
<ellipse cx="36.7" cy="40.0" rx="0.6" ry="2.1" transform="rotate(3 36.7 40.0)" fill="rgb(1,59,1)"/>
<ellipse cx="21.3" cy="34.7" rx="0.7" ry="2.7" transform="rotate(7 21.3 34.7)" fill="rgb(4,95,3)"/>
<ellipse cx="45.2" cy="0.8" rx="0.8" ry="2.3" transform="rotate(-20 45.2 0.8)" fill="rgb(1,63,2)"/>
<ellipse cx="15.2" cy="15.2" rx="0.9" ry="1.4" transform="rotate(-7 15.2 15.2)" fill="rgb(2,71,2)"/>
<ellipse cx="16.5" cy="33.7" rx="0.9" ry="2.4" transform="rotate(-17 16.5 33.7)" fill="rgb(3,82,2)"/>
<ellipse cx="37.6" cy="4.3" rx="0.6" ry="2.5" transform="rotate(-1 37.6 4.3)" fill="rgb(1,52,1)"/>
<ellipse cx="9.6" cy="40.7" rx="0.6" ry="2.6" transform="rotate(-18 9.6 40.7)" fill="rgb(4,90,3)"/>
<ellipse cx="10.4" cy="17.0" rx="0.9" ry="1.9" transform="rotate(2 10.4 17.0)" fill="rgb(8,123,4)"/>
<ellipse cx="21.9" cy="22.2" rx="0.9" ry="1.8" transform="rotate(-7 21.9 22.2)" fill="rgb(0,43,1)"/>
<ellipse cx="24.0" cy="45.1" rx="0.6" ry="2.6" transform="rotate(-12 24.0 45.1)" fill="rgb(0,51,1)"/>
<ellipse cx="25.5" cy="4.2" rx="0.6" ry="1.6" transform="rotate(-12 25.5 4.2)" fill="rgb(2,77,2)"/>
<ellipse cx="34.6" cy="15.3" rx="0.6" ry="2.4" transform="rotate(-3 34.6 15.3)" fill="rgb(3,79,2)"/>
<ellipse cx="19.4" cy="20.8" rx="0.6" ry="1.6" transform="rotate(-3 19.4 20.8)" fill="rgb(0,44,1)"/>
<ellipse cx="21.0" cy="2.4" rx="0.8" ry="1.8" transform="rotate(3 21.0 2.4)" fill="rgb(6,108,4)"/>
<ellipse cx="32.7" cy="18.4" rx="0.9" ry="2.8" transform="rotate(4 32.7 18.4)" fill="rgb(1,65,2)"/>
<ellipse cx="26.9" cy="5.5" rx="0.8" ry="1.6" transform="rotate(-9 26.9 5.5)" fill="rgb(0,50,1)"/>
<ellipse cx="36.3" cy="6.9" rx="0.7" ry="2.8" transform="rotate(11 36.3 6.9)" fill="rgb(0,49,1)"/>
<ellipse cx="12.2" cy="30.0" rx="0.9" ry="1.8" transform="rotate(7 12.2 30.0)" fill="rgb(4,96,3)"/>
<ellipse cx="11.9" cy="10.0" rx="0.9" ry="2.4" transform="rotate(3 11.9 10.0)" fill="rgb(2,73,2)"/>
<ellipse cx="5.9" cy="15.5" rx="0.6" ry="2.5" transform="rotate(-3 5.9 15.5)" fill="rgb(5,104,3)"/>
<ellipse cx="12.1" cy="38.7" rx="0.6" ry="2.1" transform="rotate(-10 12.1 38.7)" fill="rgb(3,79,2)"/>
<ellipse cx="18.3" cy="2.0" rx="0.7" ry="2.2" transform="rotate(-2 18.3 2.0)" fill="rgb(1,63,2)"/>
<ellipse cx="30.0" cy="18.4" rx="0.7" ry="2.3" transform="rotate(-6 30.0 18.4)" fill="rgb(2,73,2)"/>
<ellipse cx="6.0" cy="28.7" rx="0.8" ry="1.6" transform="rotate(6 6.0 28.7)" fill="rgb(0,37,1)"/>
<ellipse cx="19.3" cy="29.8" rx="0.8" ry="2.7" transform="rotate(2 19.3 29.8)" fill="rgb(0,49,1)"/>
<ellipse cx="32.4" cy="29.8" rx="0.9" ry="1.9" transform="rotate(-2 32.4 29.8)" fill="rgb(2,71,2)"/>
<ellipse cx="44.9" cy="44.4" rx="0.9" ry="2.4" transform="rotate(-4 44.9 44.4)" fill="rgb(0,48,1)"/>
<ellipse cx="9.6" cy="36.3" rx="0.8" ry="2.3" transform="rotate(0 9.6 36.3)" fill="rgb(1,63,2)"/>
<ellipse cx="46.8" cy="11.2" rx="0.8" ry="2.7" transform="rotate(3 46.8 11.2)" fill="rgb(0,46,1)"/>
<ellipse cx="27.4" cy="2.1" rx="0.8" ry="1.7" transform="rotate(-9 27.4 2.1)" fill="rgb(3,82,2)"/>
<ellipse cx="14.7" cy="32.6" rx="0.9" ry="2.3" transform="rotate(-10 14.7 32.6)" fill="rgb(5,101,3)"/>
<ellipse cx="42.4" cy="18.3" rx="0.8" ry="2.6" transform="rotate(-15 42.4 18.3)" fill="rgb(1,62,2)"/>
<ellipse cx="27.4" cy="27.2" rx="0.6" ry="2.4" transform="rotate(-10 27.4 27.2)" fill="rgb(4,90,3)"/>
<ellipse cx="13.6" cy="3.6" rx="0.9" ry="1.7" transform="rotate(0 13.6 3.6)" fill="rgb(4,97,3)"/>
<ellipse cx="14.1" cy="16.8" rx="0.6" ry="2.1" transform="rotate(6 14.1 16.8)" fill="rgb(7,115,4)"/>
<ellipse cx="6.6" cy="8.2" rx="0.9" ry="2.2" transform="rotate(-4 6.6 8.2)" fill="rgb(1,52,1)"/>
<ellipse cx="22.4" cy="3.8" rx="0.9" ry="2.3" transform="rotate(-2 22.4 3.8)" fill="rgb(4,94,3)"/>
<ellipse cx="35.8" cy="26.0" rx="0.7" ry="2.7" transform="rotate(-11 35.8 26.0)" fill="rgb(0,43,1)"/>
<ellipse cx="5.5" cy="31.8" rx="0.7" ry="1.7" transform="rotate(-11 5.5 31.8)" fill="rgb(5,101,3)"/>
<ellipse cx="26.2" cy="29.8" rx="0.9" ry="1.8" transform="rotate(-15 26.2 29.8)" fill="rgb(2,69,2)"/>
<ellipse cx="2.6" cy="1.9" rx="0.7" ry="2.5" transform="rotate(7 2.6 1.9)" fill="rgb(17,162,6)"/>
<ellipse cx="14.8" cy="4.5" rx="0.6" ry="1.5" transform="rotate(1 14.8 4.5)" fill="rgb(5,101,3)"/>
<ellipse cx="20.0" cy="2.7" rx="0.8" ry="1.9" transform="rotate(-14 20.0 2.7)" fill="rgb(5,100,3)"/>
<ellipse cx="23.8" cy="2.7" rx="0.5" ry="2.2" transform="rotate(-27 23.8 2.7)" fill="rgb(6,109,4)"/>
<ellipse cx="4.2" cy="6.2" rx="0.8" ry="2.2" transform="rotate(-3 4.2 6.2)" fill="rgb(16,158,6)"/>
<ellipse cx="6.5" cy="7.7" rx="0.9" ry="2.6" transform="rotate(-2 6.5 7.7)" fill="rgb(15,151,6)"/>
<ellipse cx="10.6" cy="7.6" rx="0.7" ry="1.8" transform="rotate(-11 10.6 7.6)" fill="rgb(9,128,5)"/>
<ellipse cx="16.2" cy="5.6" rx="1.0" ry="2.3" transform="rotate(-26 16.2 5.6)" fill="rgb(12,140,5)"/>
<ellipse cx="27.6" cy="6.6" rx="0.6" ry="2.4" transform="rotate(-12 27.6 6.6)" fill="rgb(4,95,3)"/>
<ellipse cx="31.5" cy="5.9" rx="0.5" ry="2.3" transform="rotate(0 31.5 5.9)" fill="rgb(7,114,4)"/>
<ellipse cx="34.9" cy="6.6" rx="0.6" ry="1.9" transform="rotate(-12 34.9 6.6)" fill="rgb(4,95,3)"/>
<ellipse cx="12.5" cy="12.8" rx="0.5" ry="1.9" transform="rotate(-9 12.5 12.8)" fill="rgb(3,87,3)"/>
<ellipse cx="35.8" cy="9.4" rx="0.5" ry="1.7" transform="rotate(-20 35.8 9.4)" fill="rgb(4,94,3)"/>
<ellipse cx="38.7" cy="11.0" rx="0.7" ry="1.8" transform="rotate(-1 38.7 11.0)" fill="rgb(4,90,3)"/>
<ellipse cx="1.3" cy="16.6" rx="0.5" ry="1.7" transform="rotate(-9 1.3 16.6)" fill="rgb(4,91,3)"/>
<ellipse cx="7.4" cy="15.0" rx="0.6" ry="2.0" transform="rotate(-9 7.4 15.0)" fill="rgb(7,117,4)"/>
<ellipse cx="9.9" cy="15.2" rx="0.5" ry="2.1" transform="rotate(-10 9.9 15.2)" fill="rgb(6,105,3)"/>
<ellipse cx="14.3" cy="13.4" rx="0.7" ry="1.8" transform="rotate(-13 14.3 13.4)" fill="rgb(9,125,4)"/>
<ellipse cx="30.4" cy="13.4" rx="0.6" ry="2.0" transform="rotate(-4 30.4 13.4)" fill="rgb(4,96,3)"/>
<ellipse cx="35.2" cy="14.2" rx="0.7" ry="1.4" transform="rotate(-12 35.2 14.2)" fill="rgb(4,96,3)"/>
<ellipse cx="4.3" cy="18.8" rx="0.7" ry="2.4" transform="rotate(-14 4.3 18.8)" fill="rgb(5,102,3)"/>
<ellipse cx="12.6" cy="19.9" rx="0.5" ry="1.9" transform="rotate(-2 12.6 19.9)" fill="rgb(7,117,4)"/>
<ellipse cx="20.2" cy="18.3" rx="0.8" ry="2.5" transform="rotate(4 20.2 18.3)" fill="rgb(8,121,4)"/>
<ellipse cx="24.0" cy="19.2" rx="0.7" ry="1.4" transform="rotate(-17 24.0 19.2)" fill="rgb(4,92,3)"/>
<ellipse cx="29.1" cy="17.5" rx="0.7" ry="2.3" transform="rotate(-10 29.1 17.5)" fill="rgb(4,95,3)"/>
<ellipse cx="3.5" cy="23.5" rx="0.5" ry="2.0" transform="rotate(7 3.5 23.5)" fill="rgb(5,104,3)"/>
<ellipse cx="15.7" cy="22.6" rx="0.7" ry="2.2" transform="rotate(10 15.7 22.6)" fill="rgb(8,118,4)"/>
<ellipse cx="18.6" cy="21.4" rx="0.6" ry="1.5" transform="rotate(7 18.6 21.4)" fill="rgb(6,111,4)"/>
<ellipse cx="22.1" cy="23.4" rx="0.8" ry="1.4" transform="rotate(2 22.1 23.4)" fill="rgb(7,112,4)"/>
<ellipse cx="27.1" cy="23.0" rx="0.6" ry="2.2" transform="rotate(-6 27.1 23.0)" fill="rgb(5,104,3)"/>
<ellipse cx="25.1" cy="26.1" rx="0.7" ry="1.9" transform="rotate(3 25.1 26.1)" fill="rgb(6,107,4)"/>
<ellipse cx="5.3" cy="31.2" rx="0.7" ry="1.4" transform="rotate(3 5.3 31.2)" fill="rgb(6,105,4)"/>
<ellipse cx="15.1" cy="30.7" rx="0.6" ry="2.0" transform="rotate(-9 15.1 30.7)" fill="rgb(3,87,3)"/>
<ellipse cx="22.0" cy="32.5" rx="0.7" ry="2.3" transform="rotate(2 22.0 32.5)" fill="rgb(8,122,4)"/>
<ellipse cx="7.3" cy="34.5" rx="0.8" ry="2.3" transform="rotate(-12 7.3 34.5)" fill="rgb(6,106,4)"/>
<ellipse cx="16.0" cy="35.0" rx="0.8" ry="1.6" transform="rotate(-8 16.0 35.0)" fill="rgb(11,136,5)"/>
<ellipse cx="11.3" cy="37.6" rx="0.6" ry="2.2" transform="rotate(-5 11.3 37.6)" fill="rgb(3,87,3)"/>
<ellipse cx="19.5" cy="39.7" rx="0.9" ry="2.3" transform="rotate(-17 19.5 39.7)" fill="rgb(8,120,4)"/>
<ellipse cx="1.3" cy="43.6" rx="0.6" ry="1.7" transform="rotate(-10 1.3 43.6)" fill="rgb(9,125,4)"/>
<ellipse cx="5.8" cy="41.6" rx="0.8" ry="2.6" transform="rotate(-12 5.8 41.6)" fill="rgb(7,115,4)"/>
<ellipse cx="17.0" cy="43.7" rx="0.7" ry="2.3" transform="rotate(-13 17.0 43.7)" fill="rgb(4,95,3)"/>
<ellipse cx="24.0" cy="41.4" rx="0.6" ry="1.9" transform="rotate(12 24.0 41.4)" fill="rgb(7,113,4)"/>
<ellipse cx="16.0" cy="18.8" rx="0.6" ry="0.8" fill="rgb(10,88,8)" fill-opacity="0.9"/>
<ellipse cx="27.1" cy="2.6" rx="0.7" ry="0.9" fill="rgb(10,106,8)" fill-opacity="0.9"/>
<ellipse cx="5.1" cy="9.2" rx="0.8" ry="1.2" fill="rgb(10,134,8)" fill-opacity="0.9"/>
<ellipse cx="29.3" cy="32.2" rx="0.5" ry="0.7" fill="rgb(10,110,8)" fill-opacity="0.9"/>
<ellipse cx="26.3" cy="25.4" rx="0.6" ry="0.8" fill="rgb(10,77,8)" fill-opacity="0.9"/>
<ellipse cx="2.4" cy="28.3" rx="0.8" ry="1.2" fill="rgb(10,168,8)" fill-opacity="0.9"/>
<ellipse cx="30.4" cy="19.2" rx="0.8" ry="1.2" fill="rgb(10,95,8)" fill-opacity="0.9"/>
<ellipse cx="10.6" cy="33.0" rx="1.0" ry="1.4" fill="rgb(10,105,8)" fill-opacity="0.9"/>
<ellipse cx="14.3" cy="2.5" rx="0.6" ry="0.8" fill="rgb(10,153,8)" fill-opacity="0.9"/>
<ellipse cx="40.9" cy="43.7" rx="0.9" ry="1.2" fill="rgb(10,69,8)" fill-opacity="0.9"/>
</g></svg>
<rect x="185" y="252" width="47" height="46" fill="#000"/>
<rect x="186" y="253" width="45" height="44" fill="#030b03"/>
<svg x="185" y="252" width="47" height="46" overflow="hidden"><g filter="url(#bl)">
<ellipse cx="41.7" cy="18.9" rx="0.7" ry="2.4" transform="rotate(0 41.7 18.9)" fill="rgb(2,69,2)"/>
<ellipse cx="18.7" cy="29.8" rx="0.9" ry="1.4" transform="rotate(-12 18.7 29.8)" fill="rgb(1,60,1)"/>
<ellipse cx="45.5" cy="24.2" rx="0.6" ry="2.6" transform="rotate(-12 45.5 24.2)" fill="rgb(1,52,1)"/>
<ellipse cx="20.8" cy="3.0" rx="0.6" ry="1.7" transform="rotate(-1 20.8 3.0)" fill="rgb(4,90,3)"/>
<ellipse cx="11.1" cy="42.9" rx="0.9" ry="2.4" transform="rotate(10 11.1 42.9)" fill="rgb(2,71,2)"/>
<ellipse cx="5.7" cy="19.8" rx="0.9" ry="1.5" transform="rotate(-17 5.7 19.8)" fill="rgb(1,54,1)"/>
<ellipse cx="36.6" cy="4.7" rx="0.7" ry="1.5" transform="rotate(-6 36.6 4.7)" fill="rgb(5,101,3)"/>
<ellipse cx="4.8" cy="35.5" rx="0.9" ry="2.0" transform="rotate(3 4.8 35.5)" fill="rgb(3,83,2)"/>
<ellipse cx="3.0" cy="12.0" rx="0.7" ry="2.6" transform="rotate(0 3.0 12.0)" fill="rgb(1,53,1)"/>
<ellipse cx="42.8" cy="26.0" rx="0.7" ry="1.7" transform="rotate(-11 42.8 26.0)" fill="rgb(1,51,1)"/>
<ellipse cx="17.0" cy="32.3" rx="0.8" ry="2.0" transform="rotate(-11 17.0 32.3)" fill="rgb(1,58,1)"/>
<ellipse cx="29.6" cy="31.2" rx="0.9" ry="2.0" transform="rotate(-24 29.6 31.2)" fill="rgb(0,48,1)"/>
<ellipse cx="4.4" cy="45.9" rx="0.9" ry="2.0" transform="rotate(-11 4.4 45.9)" fill="rgb(7,114,4)"/>
<ellipse cx="33.5" cy="11.6" rx="0.7" ry="2.8" transform="rotate(-7 33.5 11.6)" fill="rgb(1,53,1)"/>
<ellipse cx="26.9" cy="41.3" rx="0.9" ry="2.3" transform="rotate(-8 26.9 41.3)" fill="rgb(3,88,3)"/>
<ellipse cx="22.2" cy="33.3" rx="0.9" ry="1.4" transform="rotate(-11 22.2 33.3)" fill="rgb(1,60,1)"/>
<ellipse cx="18.8" cy="0.3" rx="0.6" ry="2.1" transform="rotate(-18 18.8 0.3)" fill="rgb(2,73,2)"/>
<ellipse cx="1.1" cy="17.6" rx="0.7" ry="2.6" transform="rotate(-18 1.1 17.6)" fill="rgb(3,81,2)"/>
<ellipse cx="42.8" cy="1.3" rx="0.9" ry="2.3" transform="rotate(-12 42.8 1.3)" fill="rgb(0,38,1)"/>
<ellipse cx="10.9" cy="10.3" rx="0.8" ry="1.9" transform="rotate(-10 10.9 10.3)" fill="rgb(1,63,2)"/>
<ellipse cx="4.6" cy="27.8" rx="0.9" ry="1.8" transform="rotate(-2 4.6 27.8)" fill="rgb(2,73,2)"/>
<ellipse cx="36.6" cy="0.9" rx="0.6" ry="2.3" transform="rotate(-18 36.6 0.9)" fill="rgb(0,39,1)"/>
<ellipse cx="1.7" cy="11.0" rx="0.8" ry="1.5" transform="rotate(-14 1.7 11.0)" fill="rgb(1,62,2)"/>
<ellipse cx="18.3" cy="9.2" rx="0.6" ry="2.0" transform="rotate(-12 18.3 9.2)" fill="rgb(2,75,2)"/>
<ellipse cx="21.7" cy="5.7" rx="0.8" ry="1.4" transform="rotate(-12 21.7 5.7)" fill="rgb(5,98,3)"/>
<ellipse cx="31.6" cy="42.4" rx="0.9" ry="1.6" transform="rotate(0 31.6 42.4)" fill="rgb(2,70,2)"/>
<ellipse cx="35.9" cy="13.4" rx="0.8" ry="1.8" transform="rotate(-11 35.9 13.4)" fill="rgb(0,45,1)"/>
<ellipse cx="0.3" cy="38.9" rx="0.7" ry="2.4" transform="rotate(7 0.3 38.9)" fill="rgb(6,109,4)"/>
<ellipse cx="40.4" cy="20.4" rx="0.8" ry="2.0" transform="rotate(7 40.4 20.4)" fill="rgb(2,69,2)"/>
<ellipse cx="30.6" cy="38.2" rx="0.8" ry="1.9" transform="rotate(-1 30.6 38.2)" fill="rgb(1,65,2)"/>
<ellipse cx="39.4" cy="17.1" rx="0.8" ry="2.0" transform="rotate(-16 39.4 17.1)" fill="rgb(3,83,2)"/>
<ellipse cx="23.0" cy="34.8" rx="0.8" ry="2.4" transform="rotate(1 23.0 34.8)" fill="rgb(2,71,2)"/>
<ellipse cx="40.5" cy="12.9" rx="0.9" ry="2.0" transform="rotate(-7 40.5 12.9)" fill="rgb(0,43,1)"/>
<ellipse cx="31.9" cy="42.8" rx="0.9" ry="2.4" transform="rotate(-5 31.9 42.8)" fill="rgb(2,70,2)"/>
<ellipse cx="17.3" cy="38.9" rx="0.8" ry="2.3" transform="rotate(-10 17.3 38.9)" fill="rgb(2,74,2)"/>
<ellipse cx="26.7" cy="19.1" rx="0.9" ry="1.5" transform="rotate(-15 26.7 19.1)" fill="rgb(4,95,3)"/>
<ellipse cx="0.7" cy="0.2" rx="0.6" ry="1.7" transform="rotate(5 0.7 0.2)" fill="rgb(0,38,1)"/>
<ellipse cx="9.4" cy="10.0" rx="0.8" ry="2.4" transform="rotate(1 9.4 10.0)" fill="rgb(0,48,1)"/>
<ellipse cx="44.5" cy="38.1" rx="0.6" ry="2.5" transform="rotate(-10 44.5 38.1)" fill="rgb(2,70,2)"/>
<ellipse cx="2.6" cy="37.1" rx="0.6" ry="2.5" transform="rotate(-1 2.6 37.1)" fill="rgb(6,107,4)"/>
<ellipse cx="20.5" cy="5.6" rx="0.6" ry="2.0" transform="rotate(-8 20.5 5.6)" fill="rgb(6,106,4)"/>
<ellipse cx="18.0" cy="9.2" rx="0.8" ry="1.9" transform="rotate(7 18.0 9.2)" fill="rgb(2,70,2)"/>
<ellipse cx="44.4" cy="20.4" rx="0.7" ry="2.0" transform="rotate(-6 44.4 20.4)" fill="rgb(3,80,2)"/>
<ellipse cx="0.6" cy="42.2" rx="0.6" ry="2.7" transform="rotate(-7 0.6 42.2)" fill="rgb(4,94,3)"/>
<ellipse cx="3.1" cy="23.0" rx="0.9" ry="2.7" transform="rotate(3 3.1 23.0)" fill="rgb(5,100,3)"/>
<ellipse cx="2.6" cy="1.9" rx="0.9" ry="3.4" transform="rotate(7 2.6 1.9)" fill="rgb(55,255,12)"/>
<ellipse cx="8.4" cy="4.2" rx="0.5" ry="2.0" transform="rotate(-2 8.4 4.2)" fill="rgb(6,108,4)"/>
<ellipse cx="11.1" cy="2.4" rx="0.6" ry="2.4" transform="rotate(-14 11.1 2.4)" fill="rgb(8,122,4)"/>
<ellipse cx="14.8" cy="4.5" rx="1.0" ry="2.3" transform="rotate(1 14.8 4.5)" fill="rgb(40,225,10)"/>
<ellipse cx="20.0" cy="2.7" rx="1.3" ry="2.9" transform="rotate(-14 20.0 2.7)" fill="rgb(42,230,10)"/>
<ellipse cx="23.8" cy="2.7" rx="1.0" ry="3.5" transform="rotate(-27 23.8 2.7)" fill="rgb(55,255,12)"/>
<ellipse cx="27.3" cy="1.5" rx="0.5" ry="1.9" transform="rotate(-3 27.3 1.5)" fill="rgb(4,92,3)"/>
<ellipse cx="33.3" cy="3.8" rx="1.1" ry="3.3" transform="rotate(3 33.3 3.8)" fill="rgb(27,194,8)"/>
<ellipse cx="34.8" cy="3.7" rx="1.1" ry="3.2" transform="rotate(-1 34.8 3.7)" fill="rgb(27,192,8)"/>
<ellipse cx="41.2" cy="4.6" rx="0.9" ry="2.6" transform="rotate(-19 41.2 4.6)" fill="rgb(22,179,7)"/>
<ellipse cx="43.8" cy="2.0" rx="0.9" ry="2.5" transform="rotate(-14 43.8 2.0)" fill="rgb(35,215,9)"/>
<ellipse cx="4.2" cy="6.2" rx="1.2" ry="3.0" transform="rotate(-3 4.2 6.2)" fill="rgb(55,255,12)"/>
<ellipse cx="6.5" cy="7.7" rx="1.4" ry="3.6" transform="rotate(-2 6.5 7.7)" fill="rgb(55,255,12)"/>
<ellipse cx="10.6" cy="7.6" rx="1.1" ry="2.7" transform="rotate(-11 10.6 7.6)" fill="rgb(55,255,12)"/>
<ellipse cx="16.2" cy="5.6" rx="1.5" ry="3.3" transform="rotate(-26 16.2 5.6)" fill="rgb(55,255,12)"/>
<ellipse cx="18.0" cy="6.3" rx="0.6" ry="1.9" transform="rotate(-4 18.0 6.3)" fill="rgb(10,132,5)"/>
<ellipse cx="24.5" cy="7.4" rx="0.7" ry="2.7" transform="rotate(0 24.5 7.4)" fill="rgb(14,148,6)"/>
<ellipse cx="27.6" cy="6.6" rx="1.1" ry="3.8" transform="rotate(-12 27.6 6.6)" fill="rgb(45,237,10)"/>
<ellipse cx="31.5" cy="5.9" rx="1.0" ry="3.6" transform="rotate(0 31.5 5.9)" fill="rgb(55,255,12)"/>
<ellipse cx="34.9" cy="6.6" rx="1.1" ry="3.2" transform="rotate(-12 34.9 6.6)" fill="rgb(52,249,11)"/>
<ellipse cx="40.7" cy="5.5" rx="0.8" ry="1.8" transform="rotate(-10 40.7 5.5)" fill="rgb(8,121,4)"/>
<ellipse cx="44.6" cy="7.3" rx="0.5" ry="1.5" transform="rotate(-19 44.6 7.3)" fill="rgb(5,101,3)"/>
<ellipse cx="2.9" cy="11.6" rx="0.6" ry="2.1" transform="rotate(-13 2.9 11.6)" fill="rgb(11,135,5)"/>
<ellipse cx="8.2" cy="9.5" rx="1.0" ry="2.1" transform="rotate(5 8.2 9.5)" fill="rgb(16,156,6)"/>
<ellipse cx="12.5" cy="12.8" rx="0.8" ry="2.8" transform="rotate(-9 12.5 12.8)" fill="rgb(29,198,8)"/>
<ellipse cx="14.3" cy="11.5" rx="0.7" ry="2.5" transform="rotate(-15 14.3 11.5)" fill="rgb(17,160,6)"/>
<ellipse cx="18.0" cy="12.3" rx="0.6" ry="2.4" transform="rotate(-7 18.0 12.3)" fill="rgb(9,127,5)"/>
<ellipse cx="23.6" cy="12.7" rx="0.5" ry="2.3" transform="rotate(-15 23.6 12.7)" fill="rgb(6,105,3)"/>
<ellipse cx="26.4" cy="12.5" rx="0.6" ry="2.0" transform="rotate(-4 26.4 12.5)" fill="rgb(14,148,6)"/>
<ellipse cx="30.6" cy="12.0" rx="0.6" ry="1.6" transform="rotate(0 30.6 12.0)" fill="rgb(10,129,5)"/>
<ellipse cx="35.8" cy="9.4" rx="1.0" ry="2.8" transform="rotate(-20 35.8 9.4)" fill="rgb(52,249,11)"/>
<ellipse cx="38.7" cy="11.0" rx="1.4" ry="3.1" transform="rotate(-1 38.7 11.0)" fill="rgb(49,243,11)"/>
<ellipse cx="43.3" cy="11.4" rx="1.2" ry="2.4" transform="rotate(-20 43.3 11.4)" fill="rgb(44,233,10)"/>
<ellipse cx="1.3" cy="16.6" rx="0.8" ry="2.5" transform="rotate(-9 1.3 16.6)" fill="rgb(29,199,8)"/>
<ellipse cx="7.4" cy="15.0" rx="1.1" ry="3.1" transform="rotate(-9 7.4 15.0)" fill="rgb(55,255,12)"/>
<ellipse cx="9.9" cy="15.2" rx="0.9" ry="3.2" transform="rotate(-10 9.9 15.2)" fill="rgb(46,238,11)"/>
<ellipse cx="14.3" cy="13.4" rx="1.2" ry="2.8" transform="rotate(-13 14.3 13.4)" fill="rgb(55,255,12)"/>
<ellipse cx="18.4" cy="15.6" rx="0.7" ry="2.4" transform="rotate(-8 18.4 15.6)" fill="rgb(9,125,4)"/>
<ellipse cx="22.9" cy="15.6" rx="0.7" ry="2.5" transform="rotate(-14 22.9 15.6)" fill="rgb(11,135,5)"/>
<ellipse cx="27.9" cy="15.3" rx="1.1" ry="2.0" transform="rotate(-1 27.9 15.3)" fill="rgb(37,218,9)"/>
<ellipse cx="30.4" cy="13.4" rx="1.2" ry="3.3" transform="rotate(-4 30.4 13.4)" fill="rgb(53,252,11)"/>
<ellipse cx="35.2" cy="14.2" rx="1.3" ry="2.4" transform="rotate(-12 35.2 14.2)" fill="rgb(55,255,12)"/>
<ellipse cx="38.1" cy="14.4" rx="0.8" ry="2.1" transform="rotate(-10 38.1 14.4)" fill="rgb(34,211,9)"/>
<ellipse cx="42.9" cy="13.2" rx="1.1" ry="2.7" transform="rotate(-1 42.9 13.2)" fill="rgb(35,213,9)"/>
<ellipse cx="4.3" cy="18.8" rx="1.2" ry="3.6" transform="rotate(-14 4.3 18.8)" fill="rgb(41,226,10)"/>
<ellipse cx="6.6" cy="19.6" rx="0.8" ry="2.4" transform="rotate(-10 6.6 19.6)" fill="rgb(9,128,5)"/>
<ellipse cx="12.6" cy="19.9" rx="1.0" ry="2.9" transform="rotate(-2 12.6 19.9)" fill="rgb(55,255,12)"/>
<ellipse cx="17.2" cy="18.7" rx="0.7" ry="2.1" transform="rotate(-27 17.2 18.7)" fill="rgb(12,139,5)"/>
<ellipse cx="20.2" cy="18.3" rx="1.4" ry="3.8" transform="rotate(4 20.2 18.3)" fill="rgb(55,255,12)"/>
<ellipse cx="24.0" cy="19.2" rx="1.2" ry="2.3" transform="rotate(-17 24.0 19.2)" fill="rgb(42,229,10)"/>
<ellipse cx="29.1" cy="17.5" rx="1.3" ry="3.8" transform="rotate(-10 29.1 17.5)" fill="rgb(52,250,11)"/>
<ellipse cx="33.0" cy="19.0" rx="1.1" ry="3.4" transform="rotate(-3 33.0 19.0)" fill="rgb(38,220,9)"/>
<ellipse cx="38.1" cy="17.7" rx="1.1" ry="2.1" transform="rotate(-3 38.1 17.7)" fill="rgb(28,196,8)"/>
<ellipse cx="42.9" cy="18.0" rx="0.8" ry="2.2" transform="rotate(1 42.9 18.0)" fill="rgb(10,133,5)"/>
<ellipse cx="3.5" cy="23.5" rx="0.8" ry="3.0" transform="rotate(7 3.5 23.5)" fill="rgb(42,229,10)"/>
<ellipse cx="6.9" cy="24.8" rx="0.7" ry="1.6" transform="rotate(-13 6.9 24.8)" fill="rgb(5,104,3)"/>
<ellipse cx="10.5" cy="24.0" rx="1.0" ry="2.0" transform="rotate(8 10.5 24.0)" fill="rgb(20,172,7)"/>
<ellipse cx="15.7" cy="22.6" rx="1.2" ry="3.3" transform="rotate(10 15.7 22.6)" fill="rgb(55,255,12)"/>
<ellipse cx="18.6" cy="21.4" rx="1.0" ry="2.4" transform="rotate(7 18.6 21.4)" fill="rgb(55,255,12)"/>
<ellipse cx="22.1" cy="23.4" rx="1.5" ry="2.3" transform="rotate(2 22.1 23.4)" fill="rgb(55,255,12)"/>
<ellipse cx="27.1" cy="23.0" rx="1.1" ry="3.5" transform="rotate(-6 27.1 23.0)" fill="rgb(55,255,12)"/>
<ellipse cx="30.6" cy="23.7" rx="0.8" ry="1.8" transform="rotate(-24 30.6 23.7)" fill="rgb(7,114,4)"/>
<ellipse cx="34.6" cy="24.5" rx="1.0" ry="2.0" transform="rotate(-8 34.6 24.5)" fill="rgb(19,168,7)"/>
<ellipse cx="38.2" cy="24.7" rx="0.7" ry="1.8" transform="rotate(0 38.2 24.7)" fill="rgb(22,176,7)"/>
<ellipse cx="45.8" cy="21.3" rx="1.0" ry="3.1" transform="rotate(5 45.8 21.3)" fill="rgb(36,216,9)"/>
<ellipse cx="1.6" cy="27.9" rx="0.9" ry="1.9" transform="rotate(-18 1.6 27.9)" fill="rgb(19,168,7)"/>
<ellipse cx="8.3" cy="26.4" rx="1.0" ry="2.9" transform="rotate(-15 8.3 26.4)" fill="rgb(22,179,7)"/>
<ellipse cx="10.8" cy="28.5" rx="0.7" ry="2.0" transform="rotate(-7 10.8 28.5)" fill="rgb(17,159,6)"/>
<ellipse cx="14.9" cy="25.4" rx="0.8" ry="1.7" transform="rotate(-3 14.9 25.4)" fill="rgb(6,109,4)"/>
<ellipse cx="17.7" cy="25.8" rx="0.7" ry="1.9" transform="rotate(0 17.7 25.8)" fill="rgb(14,149,6)"/>
<ellipse cx="25.1" cy="26.1" rx="1.3" ry="3.1" transform="rotate(3 25.1 26.1)" fill="rgb(55,255,12)"/>
<ellipse cx="28.6" cy="26.3" rx="0.7" ry="1.9" transform="rotate(-5 28.6 26.3)" fill="rgb(10,132,5)"/>
<ellipse cx="31.6" cy="27.9" rx="0.7" ry="2.4" transform="rotate(3 31.6 27.9)" fill="rgb(10,133,5)"/>
<ellipse cx="35.3" cy="27.3" rx="0.6" ry="2.1" transform="rotate(2 35.3 27.3)" fill="rgb(5,98,3)"/>
<ellipse cx="38.6" cy="25.5" rx="0.7" ry="1.5" transform="rotate(-6 38.6 25.5)" fill="rgb(10,131,5)"/>
<ellipse cx="42.5" cy="28.2" rx="0.7" ry="2.7" transform="rotate(-17 42.5 28.2)" fill="rgb(21,176,7)"/>
<ellipse cx="4.4" cy="30.2" rx="0.8" ry="2.0" transform="rotate(-16 4.4 30.2)" fill="rgb(9,126,5)"/>
<ellipse cx="5.3" cy="31.2" rx="1.2" ry="2.2" transform="rotate(3 5.3 31.2)" fill="rgb(44,233,10)"/>
<ellipse cx="9.8" cy="31.4" rx="0.8" ry="3.2" transform="rotate(-2 9.8 31.4)" fill="rgb(25,188,8)"/>
<ellipse cx="15.1" cy="30.7" rx="1.0" ry="2.9" transform="rotate(-9 15.1 30.7)" fill="rgb(28,197,8)"/>
<ellipse cx="20.7" cy="32.2" rx="0.8" ry="2.0" transform="rotate(-12 20.7 32.2)" fill="rgb(6,105,4)"/>
<ellipse cx="22.0" cy="32.5" rx="1.2" ry="3.6" transform="rotate(2 22.0 32.5)" fill="rgb(55,255,12)"/>
<ellipse cx="27.0" cy="31.7" rx="0.8" ry="1.4" transform="rotate(-9 27.0 31.7)" fill="rgb(6,111,4)"/>
<ellipse cx="31.2" cy="29.8" rx="0.8" ry="2.4" transform="rotate(-7 31.2 29.8)" fill="rgb(37,219,9)"/>
<ellipse cx="35.8" cy="32.2" rx="0.6" ry="1.6" transform="rotate(-5 35.8 32.2)" fill="rgb(9,124,4)"/>
<ellipse cx="38.7" cy="29.7" rx="0.8" ry="3.0" transform="rotate(-3 38.7 29.7)" fill="rgb(30,201,8)"/>
<ellipse cx="44.1" cy="29.3" rx="1.0" ry="2.3" transform="rotate(-2 44.1 29.3)" fill="rgb(29,198,8)"/>
<ellipse cx="3.4" cy="36.6" rx="1.0" ry="2.9" transform="rotate(-18 3.4 36.6)" fill="rgb(25,187,8)"/>
<ellipse cx="7.3" cy="34.5" rx="1.4" ry="3.5" transform="rotate(-12 7.3 34.5)" fill="rgb(45,236,10)"/>
<ellipse cx="10.4" cy="34.6" rx="0.7" ry="2.4" transform="rotate(-24 10.4 34.6)" fill="rgb(12,142,5)"/>
<ellipse cx="16.0" cy="35.0" rx="1.3" ry="2.3" transform="rotate(-8 16.0 35.0)" fill="rgb(55,255,12)"/>
<ellipse cx="19.3" cy="36.0" rx="0.7" ry="2.6" transform="rotate(6 19.3 36.0)" fill="rgb(12,139,5)"/>
<ellipse cx="21.8" cy="33.4" rx="0.8" ry="3.0" transform="rotate(-15 21.8 33.4)" fill="rgb(21,175,7)"/>
<ellipse cx="29.0" cy="36.6" rx="0.8" ry="1.8" transform="rotate(-5 29.0 36.6)" fill="rgb(7,115,4)"/>
<ellipse cx="32.1" cy="35.2" rx="0.9" ry="2.0" transform="rotate(-10 32.1 35.2)" fill="rgb(12,139,5)"/>
<ellipse cx="37.2" cy="36.5" rx="0.8" ry="3.0" transform="rotate(-18 37.2 36.5)" fill="rgb(23,182,7)"/>
<ellipse cx="39.9" cy="36.6" rx="0.6" ry="1.5" transform="rotate(1 39.9 36.6)" fill="rgb(7,112,4)"/>
<ellipse cx="43.1" cy="34.6" rx="0.9" ry="2.9" transform="rotate(-14 43.1 34.6)" fill="rgb(29,197,8)"/>
<ellipse cx="4.1" cy="40.5" rx="0.7" ry="1.5" transform="rotate(-1 4.1 40.5)" fill="rgb(6,105,3)"/>
<ellipse cx="6.3" cy="38.6" rx="0.6" ry="1.5" transform="rotate(-4 6.3 38.6)" fill="rgb(9,125,4)"/>
<ellipse cx="11.3" cy="37.6" rx="1.0" ry="3.2" transform="rotate(-5 11.3 37.6)" fill="rgb(29,197,8)"/>
<ellipse cx="16.3" cy="37.6" rx="0.7" ry="2.1" transform="rotate(-3 16.3 37.6)" fill="rgb(3,87,3)"/>
<ellipse cx="19.5" cy="39.7" rx="1.5" ry="3.6" transform="rotate(-17 19.5 39.7)" fill="rgb(55,255,12)"/>
<ellipse cx="24.7" cy="38.8" rx="0.8" ry="1.9" transform="rotate(-6 24.7 38.8)" fill="rgb(11,135,5)"/>
<ellipse cx="32.6" cy="39.9" rx="0.7" ry="1.7" transform="rotate(-3 32.6 39.9)" fill="rgb(6,107,4)"/>
<ellipse cx="35.1" cy="39.9" rx="0.9" ry="2.7" transform="rotate(-21 35.1 39.9)" fill="rgb(33,210,9)"/>
<ellipse cx="39.3" cy="39.1" rx="0.8" ry="2.2" transform="rotate(-19 39.3 39.1)" fill="rgb(15,153,6)"/>
<ellipse cx="1.3" cy="43.6" rx="1.0" ry="2.5" transform="rotate(-10 1.3 43.6)" fill="rgb(55,255,12)"/>
<ellipse cx="5.8" cy="41.6" rx="1.4" ry="4.0" transform="rotate(-12 5.8 41.6)" fill="rgb(55,255,12)"/>
<ellipse cx="12.1" cy="44.6" rx="0.7" ry="2.3" transform="rotate(-13 12.1 44.6)" fill="rgb(8,120,4)"/>
<ellipse cx="17.0" cy="43.7" rx="1.3" ry="3.5" transform="rotate(-13 17.0 43.7)" fill="rgb(37,219,9)"/>
<ellipse cx="19.5" cy="41.4" rx="1.1" ry="2.9" transform="rotate(2 19.5 41.4)" fill="rgb(19,167,7)"/>
<ellipse cx="24.0" cy="41.4" rx="1.1" ry="3.0" transform="rotate(12 24.0 41.4)" fill="rgb(55,255,12)"/>
<ellipse cx="28.6" cy="43.3" rx="0.9" ry="2.9" transform="rotate(-6 28.6 43.3)" fill="rgb(24,185,8)"/>
<ellipse cx="31.2" cy="41.3" rx="0.9" ry="1.7" transform="rotate(-12 31.2 41.3)" fill="rgb(13,143,5)"/>
<ellipse cx="35.7" cy="42.6" rx="0.6" ry="2.4" transform="rotate(-4 35.7 42.6)" fill="rgb(10,129,5)"/>
<ellipse cx="40.3" cy="44.3" rx="1.1" ry="2.2" transform="rotate(-11 40.3 44.3)" fill="rgb(26,190,8)"/>
<ellipse cx="5.3" cy="35.5" rx="1.0" ry="1.4" fill="rgb(10,230,8)" fill-opacity="0.9"/>
<ellipse cx="31.6" cy="20.9" rx="0.9" ry="1.3" fill="rgb(10,169,8)" fill-opacity="0.9"/>
<ellipse cx="36.3" cy="6.7" rx="0.9" ry="1.3" fill="rgb(10,155,8)" fill-opacity="0.9"/>
<ellipse cx="5.8" cy="39.5" rx="0.9" ry="1.2" fill="rgb(10,169,8)" fill-opacity="0.9"/>
<ellipse cx="16.7" cy="9.2" rx="0.6" ry="0.8" fill="rgb(10,230,8)" fill-opacity="0.9"/>
<ellipse cx="14.6" cy="25.9" rx="0.8" ry="1.1" fill="rgb(10,230,8)" fill-opacity="0.9"/>
<ellipse cx="13.5" cy="44.5" rx="0.5" ry="0.7" fill="rgb(10,230,8)" fill-opacity="0.9"/>
<ellipse cx="39.5" cy="31.3" rx="0.6" ry="0.9" fill="rgb(10,202,8)" fill-opacity="0.9"/>
<ellipse cx="8.6" cy="39.2" rx="0.8" ry="1.2" fill="rgb(10,230,8)" fill-opacity="0.9"/>
<ellipse cx="37.2" cy="31.9" rx="0.9" ry="1.2" fill="rgb(10,128,8)" fill-opacity="0.9"/>
</g></svg>
<rect x="40" y="300" width="47" height="46" fill="#000"/>
<rect x="41" y="301" width="45" height="44" fill="#030b03"/>
<svg x="40" y="300" width="47" height="46" overflow="hidden"><g filter="url(#bl)">
<ellipse cx="1.8" cy="23.7" rx="1.0" ry="1.3" fill="rgb(10,38,8)" fill-opacity="0.9"/>
<ellipse cx="19.1" cy="41.4" rx="1.0" ry="1.4" fill="rgb(10,38,8)" fill-opacity="0.9"/>
<ellipse cx="16.0" cy="40.3" rx="0.7" ry="0.9" fill="rgb(10,33,8)" fill-opacity="0.9"/>
<ellipse cx="34.3" cy="18.7" rx="0.8" ry="1.2" fill="rgb(10,37,8)" fill-opacity="0.9"/>
<ellipse cx="16.0" cy="9.8" rx="0.6" ry="0.9" fill="rgb(10,38,8)" fill-opacity="0.9"/>
<ellipse cx="23.2" cy="6.4" rx="0.9" ry="1.3" fill="rgb(10,33,8)" fill-opacity="0.9"/>
<ellipse cx="17.9" cy="19.0" rx="0.6" ry="0.9" fill="rgb(10,38,8)" fill-opacity="0.9"/>
<ellipse cx="2.2" cy="36.3" rx="0.6" ry="0.8" fill="rgb(10,34,8)" fill-opacity="0.9"/>
</g></svg>
<rect x="89" y="300" width="46" height="46" fill="#000"/>
<rect x="90" y="301" width="44" height="44" fill="#030b03"/>
<svg x="89" y="300" width="46" height="46" overflow="hidden"><g filter="url(#bl)">
<ellipse cx="25.1" cy="39.0" rx="0.6" ry="0.8" fill="rgb(10,40,8)" fill-opacity="0.9"/>
<ellipse cx="25.2" cy="19.8" rx="0.8" ry="1.1" fill="rgb(10,37,8)" fill-opacity="0.9"/>
<ellipse cx="41.3" cy="9.5" rx="0.7" ry="1.0" fill="rgb(10,45,8)" fill-opacity="0.9"/>
<ellipse cx="10.4" cy="11.4" rx="1.0" ry="1.3" fill="rgb(10,42,8)" fill-opacity="0.9"/>
<ellipse cx="12.7" cy="38.5" rx="0.7" ry="1.0" fill="rgb(10,46,8)" fill-opacity="0.9"/>
<ellipse cx="36.5" cy="28.8" rx="0.5" ry="0.8" fill="rgb(10,37,8)" fill-opacity="0.9"/>
<ellipse cx="17.8" cy="25.8" rx="0.9" ry="1.3" fill="rgb(10,46,8)" fill-opacity="0.9"/>
<ellipse cx="26.5" cy="23.0" rx="0.7" ry="1.0" fill="rgb(10,41,8)" fill-opacity="0.9"/>
<ellipse cx="34.5" cy="38.1" rx="0.7" ry="1.0" fill="rgb(10,40,8)" fill-opacity="0.9"/>
<ellipse cx="2.5" cy="43.0" rx="0.7" ry="1.0" fill="rgb(10,45,8)" fill-opacity="0.9"/>
<ellipse cx="17.4" cy="41.7" rx="0.9" ry="1.3" fill="rgb(10,44,8)" fill-opacity="0.9"/>
<ellipse cx="18.9" cy="36.4" rx="0.7" ry="1.0" fill="rgb(10,41,8)" fill-opacity="0.9"/>
</g></svg>
<rect x="137" y="300" width="47" height="46" fill="#000"/>
<rect x="138" y="301" width="45" height="44" fill="#030b03"/>
<svg x="137" y="300" width="47" height="46" overflow="hidden"><g filter="url(#bl)">
<ellipse cx="27.0" cy="30.3" rx="0.8" ry="1.1" fill="rgb(10,53,8)" fill-opacity="0.9"/>
<ellipse cx="17.6" cy="13.4" rx="0.7" ry="0.9" fill="rgb(10,56,8)" fill-opacity="0.9"/>
<ellipse cx="24.4" cy="10.0" rx="0.6" ry="0.9" fill="rgb(10,68,8)" fill-opacity="0.9"/>
<ellipse cx="15.9" cy="28.1" rx="0.8" ry="1.2" fill="rgb(10,70,8)" fill-opacity="0.9"/>
<ellipse cx="7.0" cy="34.7" rx="0.8" ry="1.2" fill="rgb(10,67,8)" fill-opacity="0.9"/>
<ellipse cx="20.9" cy="21.5" rx="0.7" ry="0.9" fill="rgb(10,71,8)" fill-opacity="0.9"/>
<ellipse cx="36.5" cy="18.7" rx="0.6" ry="0.8" fill="rgb(10,60,8)" fill-opacity="0.9"/>
<ellipse cx="14.9" cy="41.4" rx="0.6" ry="0.9" fill="rgb(10,55,8)" fill-opacity="0.9"/>
<ellipse cx="17.0" cy="17.4" rx="0.8" ry="1.1" fill="rgb(10,56,8)" fill-opacity="0.9"/>
<ellipse cx="37.7" cy="17.6" rx="0.6" ry="0.9" fill="rgb(10,59,8)" fill-opacity="0.9"/>
<ellipse cx="31.8" cy="26.4" rx="1.0" ry="1.4" fill="rgb(10,59,8)" fill-opacity="0.9"/>
<ellipse cx="24.1" cy="7.3" rx="0.7" ry="0.9" fill="rgb(10,59,8)" fill-opacity="0.9"/>
<ellipse cx="25.7" cy="11.3" rx="0.6" ry="0.8" fill="rgb(10,52,8)" fill-opacity="0.9"/>
<ellipse cx="26.2" cy="44.2" rx="0.6" ry="0.8" fill="rgb(10,54,8)" fill-opacity="0.9"/>
<ellipse cx="2.9" cy="7.3" rx="0.7" ry="1.0" fill="rgb(10,71,8)" fill-opacity="0.9"/>
<ellipse cx="36.3" cy="5.3" rx="0.6" ry="0.9" fill="rgb(10,55,8)" fill-opacity="0.9"/>
<ellipse cx="10.8" cy="42.9" rx="0.6" ry="0.8" fill="rgb(10,49,8)" fill-opacity="0.9"/>
<ellipse cx="3.4" cy="24.5" rx="0.8" ry="1.2" fill="rgb(10,56,8)" fill-opacity="0.9"/>
<ellipse cx="2.9" cy="21.8" rx="0.9" ry="1.2" fill="rgb(10,58,8)" fill-opacity="0.9"/>
<ellipse cx="37.2" cy="11.0" rx="0.6" ry="0.8" fill="rgb(10,70,8)" fill-opacity="0.9"/>
<ellipse cx="6.2" cy="22.3" rx="0.9" ry="1.2" fill="rgb(10,58,8)" fill-opacity="0.9"/>
<ellipse cx="22.8" cy="32.4" rx="0.6" ry="0.9" fill="rgb(10,50,8)" fill-opacity="0.9"/>
<ellipse cx="2.5" cy="24.0" rx="0.8" ry="1.1" fill="rgb(10,68,8)" fill-opacity="0.9"/>
<ellipse cx="34.4" cy="23.2" rx="0.8" ry="1.1" fill="rgb(10,66,8)" fill-opacity="0.9"/>
</g></svg>
<rect x="185" y="300" width="47" height="46" fill="#000"/>
<rect x="186" y="301" width="45" height="44" fill="#030b03"/>
<svg x="185" y="300" width="47" height="46" overflow="hidden"><g filter="url(#bl)">
<ellipse cx="20.7" cy="6.8" rx="0.6" ry="1.9" transform="rotate(-20 20.7 6.8)" fill="rgb(3,82,2)"/>
<ellipse cx="23.2" cy="40.5" rx="0.9" ry="2.1" transform="rotate(0 23.2 40.5)" fill="rgb(3,85,3)"/>
<ellipse cx="38.2" cy="16.5" rx="0.7" ry="1.4" transform="rotate(6 38.2 16.5)" fill="rgb(4,94,3)"/>
<ellipse cx="29.8" cy="5.2" rx="0.7" ry="2.7" transform="rotate(9 29.8 5.2)" fill="rgb(3,79,2)"/>
<ellipse cx="45.7" cy="30.3" rx="0.7" ry="2.1" transform="rotate(-7 45.7 30.3)" fill="rgb(2,75,2)"/>
<ellipse cx="39.1" cy="7.9" rx="0.6" ry="2.6" transform="rotate(-6 39.1 7.9)" fill="rgb(4,95,3)"/>
<ellipse cx="33.9" cy="10.9" rx="0.6" ry="2.4" transform="rotate(-14 33.9 10.9)" fill="rgb(2,67,2)"/>
<ellipse cx="33.7" cy="40.5" rx="0.7" ry="2.3" transform="rotate(4 33.7 40.5)" fill="rgb(2,76,2)"/>
<ellipse cx="31.0" cy="9.9" rx="0.7" ry="2.2" transform="rotate(12 31.0 9.9)" fill="rgb(4,95,3)"/>
<ellipse cx="25.3" cy="33.6" rx="0.7" ry="2.5" transform="rotate(9 25.3 33.6)" fill="rgb(1,65,2)"/>
<ellipse cx="15.4" cy="37.4" rx="0.9" ry="1.6" transform="rotate(-10 15.4 37.4)" fill="rgb(1,56,1)"/>
<ellipse cx="43.8" cy="25.3" rx="0.8" ry="2.2" transform="rotate(-19 43.8 25.3)" fill="rgb(2,67,2)"/>
<ellipse cx="24.7" cy="41.5" rx="0.6" ry="1.6" transform="rotate(-4 24.7 41.5)" fill="rgb(4,92,3)"/>
<ellipse cx="25.0" cy="15.6" rx="0.7" ry="1.7" transform="rotate(4 25.0 15.6)" fill="rgb(3,84,2)"/>
<ellipse cx="4.1" cy="26.6" rx="0.9" ry="1.8" transform="rotate(1 4.1 26.6)" fill="rgb(1,58,1)"/>
<ellipse cx="2.4" cy="33.7" rx="0.8" ry="1.6" transform="rotate(-2 2.4 33.7)" fill="rgb(0,44,1)"/>
<ellipse cx="2.8" cy="6.1" rx="0.8" ry="1.9" transform="rotate(13 2.8 6.1)" fill="rgb(6,106,4)"/>
<ellipse cx="40.1" cy="45.4" rx="0.9" ry="2.6" transform="rotate(-22 40.1 45.4)" fill="rgb(0,45,1)"/>
<ellipse cx="14.4" cy="41.1" rx="0.9" ry="1.6" transform="rotate(1 14.4 41.1)" fill="rgb(1,54,1)"/>
<ellipse cx="23.7" cy="18.7" rx="0.8" ry="1.7" transform="rotate(-25 23.7 18.7)" fill="rgb(0,48,1)"/>
<ellipse cx="24.3" cy="35.4" rx="0.9" ry="2.6" transform="rotate(-12 24.3 35.4)" fill="rgb(0,46,1)"/>
<ellipse cx="46.5" cy="22.1" rx="0.9" ry="1.5" transform="rotate(3 46.5 22.1)" fill="rgb(1,52,1)"/>
<ellipse cx="42.3" cy="12.3" rx="0.7" ry="1.7" transform="rotate(1 42.3 12.3)" fill="rgb(2,76,2)"/>
<ellipse cx="29.3" cy="11.8" rx="0.8" ry="2.6" transform="rotate(3 29.3 11.8)" fill="rgb(0,47,1)"/>
<ellipse cx="8.3" cy="30.8" rx="0.6" ry="1.9" transform="rotate(-8 8.3 30.8)" fill="rgb(0,45,1)"/>
<ellipse cx="28.6" cy="8.6" rx="0.8" ry="2.4" transform="rotate(-11 28.6 8.6)" fill="rgb(2,76,2)"/>
<ellipse cx="37.3" cy="21.4" rx="0.8" ry="1.5" transform="rotate(-13 37.3 21.4)" fill="rgb(1,60,1)"/>
<ellipse cx="29.1" cy="35.2" rx="0.6" ry="1.8" transform="rotate(-2 29.1 35.2)" fill="rgb(0,46,1)"/>
<ellipse cx="13.5" cy="40.4" rx="0.6" ry="2.2" transform="rotate(-14 13.5 40.4)" fill="rgb(1,60,2)"/>
<ellipse cx="46.8" cy="8.0" rx="0.9" ry="2.5" transform="rotate(-6 46.8 8.0)" fill="rgb(1,56,1)"/>
<ellipse cx="11.4" cy="0.4" rx="0.9" ry="2.7" transform="rotate(-4 11.4 0.4)" fill="rgb(2,79,2)"/>
<ellipse cx="9.5" cy="24.5" rx="0.7" ry="2.6" transform="rotate(-17 9.5 24.5)" fill="rgb(3,81,2)"/>
<ellipse cx="27.4" cy="20.9" rx="0.8" ry="2.1" transform="rotate(-10 27.4 20.9)" fill="rgb(1,67,2)"/>
<ellipse cx="27.3" cy="22.6" rx="0.8" ry="1.7" transform="rotate(11 27.3 22.6)" fill="rgb(0,39,1)"/>
<ellipse cx="41.5" cy="17.3" rx="0.6" ry="1.6" transform="rotate(7 41.5 17.3)" fill="rgb(3,82,2)"/>
<ellipse cx="14.1" cy="39.3" rx="0.6" ry="2.4" transform="rotate(-10 14.1 39.3)" fill="rgb(3,88,3)"/>
<ellipse cx="22.3" cy="3.6" rx="0.7" ry="2.6" transform="rotate(-9 22.3 3.6)" fill="rgb(1,66,2)"/>
<ellipse cx="40.2" cy="34.6" rx="0.9" ry="1.7" transform="rotate(-7 40.2 34.6)" fill="rgb(4,96,3)"/>
<ellipse cx="0.1" cy="33.1" rx="0.8" ry="2.3" transform="rotate(-6 0.1 33.1)" fill="rgb(2,75,2)"/>
<ellipse cx="0.0" cy="34.2" rx="0.6" ry="2.8" transform="rotate(-5 0.0 34.2)" fill="rgb(2,76,2)"/>
<ellipse cx="36.7" cy="40.5" rx="0.9" ry="2.2" transform="rotate(-2 36.7 40.5)" fill="rgb(1,54,1)"/>
<ellipse cx="17.5" cy="22.1" rx="0.9" ry="1.8" transform="rotate(-14 17.5 22.1)" fill="rgb(0,50,1)"/>
<ellipse cx="34.1" cy="14.6" rx="0.7" ry="2.6" transform="rotate(-8 34.1 14.6)" fill="rgb(2,74,2)"/>
<ellipse cx="13.1" cy="38.0" rx="0.8" ry="1.5" transform="rotate(-14 13.1 38.0)" fill="rgb(1,65,2)"/>
<ellipse cx="43.0" cy="30.8" rx="0.9" ry="2.5" transform="rotate(0 43.0 30.8)" fill="rgb(1,55,1)"/>
<ellipse cx="11.0" cy="29.6" rx="0.7" ry="2.1" transform="rotate(-2 11.0 29.6)" fill="rgb(1,65,2)"/>
<ellipse cx="40.8" cy="11.8" rx="0.8" ry="2.3" transform="rotate(-19 40.8 11.8)" fill="rgb(3,87,3)"/>
<ellipse cx="1.0" cy="44.3" rx="0.7" ry="2.0" transform="rotate(3 1.0 44.3)" fill="rgb(5,99,3)"/>
<ellipse cx="30.8" cy="18.3" rx="0.6" ry="1.5" transform="rotate(-2 30.8 18.3)" fill="rgb(3,85,3)"/>
<ellipse cx="35.7" cy="23.6" rx="0.9" ry="1.7" transform="rotate(-4 35.7 23.6)" fill="rgb(3,81,2)"/>
<ellipse cx="5.5" cy="39.9" rx="0.6" ry="2.8" transform="rotate(-3 5.5 39.9)" fill="rgb(2,71,2)"/>
<ellipse cx="34.4" cy="24.4" rx="0.8" ry="2.7" transform="rotate(11 34.4 24.4)" fill="rgb(4,92,3)"/>
<ellipse cx="31.1" cy="36.7" rx="0.7" ry="2.6" transform="rotate(-17 31.1 36.7)" fill="rgb(3,81,2)"/>
<ellipse cx="44.7" cy="26.6" rx="0.9" ry="1.4" transform="rotate(9 44.7 26.6)" fill="rgb(0,38,1)"/>
<ellipse cx="10.2" cy="12.1" rx="0.6" ry="1.7" transform="rotate(-7 10.2 12.1)" fill="rgb(0,49,1)"/>
<ellipse cx="23.7" cy="42.9" rx="0.6" ry="1.5" transform="rotate(2 23.7 42.9)" fill="rgb(1,63,2)"/>
<ellipse cx="21.6" cy="19.0" rx="0.9" ry="2.5" transform="rotate(2 21.6 19.0)" fill="rgb(3,86,3)"/>
<ellipse cx="42.4" cy="0.4" rx="0.9" ry="2.3" transform="rotate(3 42.4 0.4)" fill="rgb(1,59,1)"/>
<ellipse cx="39.5" cy="3.4" rx="0.7" ry="2.8" transform="rotate(2 39.5 3.4)" fill="rgb(4,97,3)"/>
<ellipse cx="41.8" cy="20.9" rx="0.6" ry="1.4" transform="rotate(16 41.8 20.9)" fill="rgb(0,37,1)"/>
<ellipse cx="28.8" cy="26.1" rx="0.9" ry="2.6" transform="rotate(5 28.8 26.1)" fill="rgb(2,77,2)"/>
<ellipse cx="1.3" cy="31.8" rx="0.6" ry="2.2" transform="rotate(-3 1.3 31.8)" fill="rgb(2,75,2)"/>
<ellipse cx="34.5" cy="7.1" rx="0.8" ry="1.7" transform="rotate(-7 34.5 7.1)" fill="rgb(1,57,1)"/>
<ellipse cx="7.7" cy="30.2" rx="0.9" ry="2.7" transform="rotate(10 7.7 30.2)" fill="rgb(1,66,2)"/>
<ellipse cx="21.6" cy="20.4" rx="0.6" ry="1.5" transform="rotate(-9 21.6 20.4)" fill="rgb(2,69,2)"/>
<ellipse cx="35.4" cy="8.3" rx="0.8" ry="2.5" transform="rotate(-15 35.4 8.3)" fill="rgb(0,44,1)"/>
<ellipse cx="3.8" cy="3.5" rx="0.6" ry="1.6" transform="rotate(-2 3.8 3.5)" fill="rgb(8,118,4)"/>
<ellipse cx="9.6" cy="2.8" rx="0.6" ry="1.8" transform="rotate(-13 9.6 2.8)" fill="rgb(5,100,3)"/>
<ellipse cx="15.8" cy="3.9" rx="0.5" ry="2.1" transform="rotate(-9 15.8 3.9)" fill="rgb(7,112,4)"/>
<ellipse cx="21.0" cy="1.2" rx="0.8" ry="1.7" transform="rotate(6 21.0 1.2)" fill="rgb(8,119,4)"/>
<ellipse cx="40.2" cy="2.4" rx="0.5" ry="1.7" transform="rotate(-11 40.2 2.4)" fill="rgb(3,89,3)"/>
<ellipse cx="44.0" cy="4.1" rx="0.6" ry="1.5" transform="rotate(-7 44.0 4.1)" fill="rgb(5,101,3)"/>
<ellipse cx="12.0" cy="8.8" rx="0.6" ry="2.1" transform="rotate(-10 12.0 8.8)" fill="rgb(5,98,3)"/>
<ellipse cx="20.8" cy="7.9" rx="0.5" ry="1.8" transform="rotate(9 20.8 7.9)" fill="rgb(8,118,4)"/>
<ellipse cx="9.7" cy="11.9" rx="0.5" ry="2.2" transform="rotate(-18 9.7 11.9)" fill="rgb(8,121,4)"/>
<ellipse cx="17.6" cy="11.1" rx="0.5" ry="2.0" transform="rotate(-23 17.6 11.1)" fill="rgb(8,120,4)"/>
<ellipse cx="27.1" cy="11.2" rx="0.8" ry="1.7" transform="rotate(-20 27.1 11.2)" fill="rgb(6,106,4)"/>
<ellipse cx="36.9" cy="12.3" rx="0.7" ry="2.3" transform="rotate(-11 36.9 12.3)" fill="rgb(3,87,3)"/>
<ellipse cx="12.4" cy="14.0" rx="0.6" ry="1.8" transform="rotate(-0 12.4 14.0)" fill="rgb(8,118,4)"/>
<ellipse cx="19.4" cy="15.9" rx="0.8" ry="1.9" transform="rotate(-6 19.4 15.9)" fill="rgb(5,102,3)"/>
<ellipse cx="26.8" cy="14.3" rx="0.8" ry="2.2" transform="rotate(0 26.8 14.3)" fill="rgb(3,89,3)"/>
<ellipse cx="33.3" cy="16.1" rx="0.5" ry="2.3" transform="rotate(-10 33.3 16.1)" fill="rgb(7,115,4)"/>
<ellipse cx="44.9" cy="16.3" rx="0.7" ry="2.2" transform="rotate(-8 44.9 16.3)" fill="rgb(4,89,3)"/>
<ellipse cx="4.0" cy="17.7" rx="0.8" ry="2.6" transform="rotate(-24 4.0 17.7)" fill="rgb(9,126,5)"/>
<ellipse cx="6.4" cy="17.7" rx="0.5" ry="1.4" transform="rotate(-24 6.4 17.7)" fill="rgb(5,103,3)"/>
<ellipse cx="15.2" cy="19.6" rx="0.6" ry="1.5" transform="rotate(-11 15.2 19.6)" fill="rgb(3,87,3)"/>
<ellipse cx="19.7" cy="18.6" rx="0.8" ry="1.4" transform="rotate(-7 19.7 18.6)" fill="rgb(5,100,3)"/>
<ellipse cx="22.8" cy="19.9" rx="0.7" ry="1.8" transform="rotate(-18 22.8 19.9)" fill="rgb(5,98,3)"/>
<ellipse cx="37.5" cy="19.9" rx="0.6" ry="1.8" transform="rotate(3 37.5 19.9)" fill="rgb(8,120,4)"/>
<ellipse cx="44.3" cy="19.0" rx="0.5" ry="1.9" transform="rotate(-10 44.3 19.0)" fill="rgb(4,96,3)"/>
<ellipse cx="1.7" cy="23.7" rx="0.6" ry="2.6" transform="rotate(-4 1.7 23.7)" fill="rgb(8,118,4)"/>
<ellipse cx="8.1" cy="24.7" rx="0.6" ry="1.9" transform="rotate(-10 8.1 24.7)" fill="rgb(5,98,3)"/>
<ellipse cx="13.5" cy="21.3" rx="0.6" ry="2.0" transform="rotate(-3 13.5 21.3)" fill="rgb(4,93,3)"/>
<ellipse cx="20.6" cy="23.1" rx="0.8" ry="1.8" transform="rotate(-16 20.6 23.1)" fill="rgb(4,94,3)"/>
<ellipse cx="24.0" cy="23.0" rx="0.8" ry="2.1" transform="rotate(-12 24.0 23.0)" fill="rgb(6,109,4)"/>
<ellipse cx="28.2" cy="22.5" rx="0.8" ry="2.1" transform="rotate(-4 28.2 22.5)" fill="rgb(6,107,4)"/>
<ellipse cx="34.3" cy="23.0" rx="0.6" ry="1.4" transform="rotate(-18 34.3 23.0)" fill="rgb(4,94,3)"/>
<ellipse cx="41.4" cy="23.4" rx="0.8" ry="1.9" transform="rotate(-9 41.4 23.4)" fill="rgb(4,90,3)"/>
<ellipse cx="10.1" cy="30.1" rx="0.7" ry="1.7" transform="rotate(-3 10.1 30.1)" fill="rgb(7,116,4)"/>
<ellipse cx="15.0" cy="32.3" rx="0.6" ry="1.6" transform="rotate(-21 15.0 32.3)" fill="rgb(7,111,4)"/>
<ellipse cx="19.8" cy="30.5" rx="0.6" ry="2.1" transform="rotate(-4 19.8 30.5)" fill="rgb(6,107,4)"/>
<ellipse cx="22.3" cy="32.5" rx="0.7" ry="2.1" transform="rotate(-9 22.3 32.5)" fill="rgb(4,95,3)"/>
<ellipse cx="26.5" cy="31.1" rx="0.7" ry="1.8" transform="rotate(-2 26.5 31.1)" fill="rgb(7,111,4)"/>
<ellipse cx="11.5" cy="36.4" rx="0.5" ry="2.3" transform="rotate(3 11.5 36.4)" fill="rgb(5,99,3)"/>
<ellipse cx="30.1" cy="36.6" rx="0.8" ry="1.8" transform="rotate(-12 30.1 36.6)" fill="rgb(4,90,3)"/>
<ellipse cx="4.3" cy="39.2" rx="0.8" ry="2.1" transform="rotate(3 4.3 39.2)" fill="rgb(5,99,3)"/>
<ellipse cx="16.6" cy="40.5" rx="0.6" ry="1.7" transform="rotate(-6 16.6 40.5)" fill="rgb(4,92,3)"/>
<ellipse cx="32.6" cy="39.4" rx="0.6" ry="2.2" transform="rotate(-15 32.6 39.4)" fill="rgb(4,90,3)"/>
<ellipse cx="38.7" cy="39.1" rx="0.7" ry="2.4" transform="rotate(-2 38.7 39.1)" fill="rgb(6,108,4)"/>
<ellipse cx="45.7" cy="40.6" rx="0.5" ry="1.9" transform="rotate(1 45.7 40.6)" fill="rgb(4,92,3)"/>
<ellipse cx="10.5" cy="43.7" rx="0.5" ry="2.4" transform="rotate(-7 10.5 43.7)" fill="rgb(5,101,3)"/>
<ellipse cx="17.1" cy="42.3" rx="0.6" ry="2.0" transform="rotate(0 17.1 42.3)" fill="rgb(7,112,4)"/>
<ellipse cx="24.5" cy="20.2" rx="0.6" ry="0.9" fill="rgb(10,104,8)" fill-opacity="0.9"/>
<ellipse cx="1.6" cy="20.2" rx="0.8" ry="1.1" fill="rgb(10,121,8)" fill-opacity="0.9"/>
<ellipse cx="11.6" cy="39.7" rx="0.6" ry="0.9" fill="rgb(10,93,8)" fill-opacity="0.9"/>
<ellipse cx="26.0" cy="36.5" rx="0.7" ry="1.0" fill="rgb(10,84,8)" fill-opacity="0.9"/>
<ellipse cx="1.7" cy="14.4" rx="1.0" ry="1.4" fill="rgb(10,87,8)" fill-opacity="0.9"/>
<ellipse cx="42.8" cy="35.9" rx="0.8" ry="1.1" fill="rgb(10,128,8)" fill-opacity="0.9"/>
<ellipse cx="21.2" cy="30.5" rx="0.7" ry="0.9" fill="rgb(10,93,8)" fill-opacity="0.9"/>
<ellipse cx="33.4" cy="24.4" rx="0.7" ry="1.0" fill="rgb(10,124,8)" fill-opacity="0.9"/>
<ellipse cx="42.0" cy="3.1" rx="1.0" ry="1.3" fill="rgb(10,71,8)" fill-opacity="0.9"/>
<ellipse cx="13.6" cy="37.6" rx="0.6" ry="0.8" fill="rgb(10,135,8)" fill-opacity="0.9"/>
</g></svg>
<rect x="40" y="377" width="47" height="46" fill="#000"/>
<rect x="41" y="378" width="45" height="44" fill="#061606"/>
<svg x="40" y="377" width="47" height="46" overflow="hidden"><g filter="url(#bl)">
<ellipse cx="33.3" cy="30.9" rx="0.7" ry="1.0" fill="rgb(10,43,8)" fill-opacity="0.9"/>
<ellipse cx="2.1" cy="25.9" rx="0.7" ry="1.0" fill="rgb(10,41,8)" fill-opacity="0.9"/>
<ellipse cx="37.2" cy="28.4" rx="0.7" ry="0.9" fill="rgb(10,46,8)" fill-opacity="0.9"/>
<ellipse cx="42.1" cy="39.0" rx="0.9" ry="1.2" fill="rgb(10,36,8)" fill-opacity="0.9"/>
<ellipse cx="33.9" cy="18.0" rx="1.0" ry="1.4" fill="rgb(10,37,8)" fill-opacity="0.9"/>
<ellipse cx="43.6" cy="22.1" rx="0.6" ry="0.8" fill="rgb(10,45,8)" fill-opacity="0.9"/>
<ellipse cx="11.0" cy="39.5" rx="0.9" ry="1.3" fill="rgb(10,47,8)" fill-opacity="0.9"/>
<ellipse cx="41.1" cy="4.2" rx="0.6" ry="0.8" fill="rgb(10,39,8)" fill-opacity="0.9"/>
<ellipse cx="11.5" cy="14.1" rx="0.6" ry="0.8" fill="rgb(10,41,8)" fill-opacity="0.9"/>
<ellipse cx="37.2" cy="32.5" rx="0.6" ry="0.8" fill="rgb(10,47,8)" fill-opacity="0.9"/>
<ellipse cx="2.5" cy="4.8" rx="0.8" ry="1.2" fill="rgb(10,45,8)" fill-opacity="0.9"/>
<ellipse cx="10.7" cy="4.8" rx="0.6" ry="0.9" fill="rgb(10,38,8)" fill-opacity="0.9"/>
</g></svg>
<rect x="89" y="377" width="46" height="46" fill="#000"/>
<rect x="90" y="378" width="44" height="44" fill="#030b03"/>
<svg x="89" y="377" width="46" height="46" overflow="hidden"><g filter="url(#bl)">
<ellipse cx="20.7" cy="17.7" rx="0.6" ry="0.8" fill="rgb(10,71,8)" fill-opacity="0.9"/>
<ellipse cx="15.4" cy="44.4" rx="1.0" ry="1.4" fill="rgb(10,76,8)" fill-opacity="0.9"/>
<ellipse cx="6.0" cy="28.8" rx="0.8" ry="1.2" fill="rgb(10,58,8)" fill-opacity="0.9"/>
<ellipse cx="24.1" cy="30.3" rx="0.7" ry="1.0" fill="rgb(10,56,8)" fill-opacity="0.9"/>
<ellipse cx="34.5" cy="42.7" rx="1.0" ry="1.4" fill="rgb(10,76,8)" fill-opacity="0.9"/>
<ellipse cx="4.8" cy="11.3" rx="0.8" ry="1.1" fill="rgb(10,63,8)" fill-opacity="0.9"/>
<ellipse cx="26.1" cy="8.6" rx="0.9" ry="1.2" fill="rgb(10,56,8)" fill-opacity="0.9"/>
<ellipse cx="42.1" cy="42.5" rx="0.6" ry="0.8" fill="rgb(10,68,8)" fill-opacity="0.9"/>
<ellipse cx="39.8" cy="44.2" rx="0.9" ry="1.2" fill="rgb(10,74,8)" fill-opacity="0.9"/>
<ellipse cx="19.4" cy="28.7" rx="1.0" ry="1.4" fill="rgb(10,58,8)" fill-opacity="0.9"/>
<ellipse cx="11.3" cy="26.3" rx="0.7" ry="1.0" fill="rgb(10,83,8)" fill-opacity="0.9"/>
<ellipse cx="20.2" cy="39.0" rx="0.7" ry="1.0" fill="rgb(10,63,8)" fill-opacity="0.9"/>
<ellipse cx="2.5" cy="19.4" rx="1.0" ry="1.3" fill="rgb(10,76,8)" fill-opacity="0.9"/>
<ellipse cx="17.5" cy="44.5" rx="0.6" ry="0.8" fill="rgb(10,54,8)" fill-opacity="0.9"/>
<ellipse cx="31.6" cy="17.7" rx="0.7" ry="1.0" fill="rgb(10,52,8)" fill-opacity="0.9"/>
<ellipse cx="23.5" cy="30.4" rx="0.9" ry="1.3" fill="rgb(10,67,8)" fill-opacity="0.9"/>
<ellipse cx="23.0" cy="33.2" rx="0.7" ry="1.0" fill="rgb(10,69,8)" fill-opacity="0.9"/>
<ellipse cx="17.8" cy="11.7" rx="0.9" ry="1.3" fill="rgb(10,72,8)" fill-opacity="0.9"/>
<ellipse cx="29.6" cy="19.9" rx="0.7" ry="1.0" fill="rgb(10,72,8)" fill-opacity="0.9"/>
<ellipse cx="34.4" cy="42.4" rx="0.9" ry="1.3" fill="rgb(10,52,8)" fill-opacity="0.9"/>
<ellipse cx="24.0" cy="6.0" rx="0.8" ry="1.1" fill="rgb(10,64,8)" fill-opacity="0.9"/>
<ellipse cx="11.0" cy="44.6" rx="0.6" ry="0.8" fill="rgb(10,83,8)" fill-opacity="0.9"/>
<ellipse cx="4.7" cy="23.4" rx="0.8" ry="1.1" fill="rgb(10,69,8)" fill-opacity="0.9"/>
<ellipse cx="11.4" cy="6.5" rx="0.5" ry="0.7" fill="rgb(10,53,8)" fill-opacity="0.9"/>
<ellipse cx="44.3" cy="18.0" rx="1.0" ry="1.3" fill="rgb(10,68,8)" fill-opacity="0.9"/>
<ellipse cx="25.4" cy="30.2" rx="0.7" ry="1.0" fill="rgb(10,53,8)" fill-opacity="0.9"/>
<ellipse cx="20.0" cy="13.1" rx="0.8" ry="1.2" fill="rgb(10,65,8)" fill-opacity="0.9"/>
<ellipse cx="38.5" cy="11.9" rx="0.5" ry="0.7" fill="rgb(10,61,8)" fill-opacity="0.9"/>
<ellipse cx="26.9" cy="13.5" rx="0.9" ry="1.2" fill="rgb(10,53,8)" fill-opacity="0.9"/>
<ellipse cx="25.9" cy="25.9" rx="0.7" ry="1.0" fill="rgb(10,65,8)" fill-opacity="0.9"/>
<ellipse cx="21.4" cy="33.9" rx="1.0" ry="1.4" fill="rgb(10,83,8)" fill-opacity="0.9"/>
<ellipse cx="16.0" cy="32.4" rx="0.6" ry="0.8" fill="rgb(10,71,8)" fill-opacity="0.9"/>
<ellipse cx="36.3" cy="21.5" rx="0.7" ry="0.9" fill="rgb(10,60,8)" fill-opacity="0.9"/>
<ellipse cx="30.2" cy="37.8" rx="0.8" ry="1.1" fill="rgb(10,75,8)" fill-opacity="0.9"/>
<ellipse cx="10.7" cy="15.2" rx="0.6" ry="0.8" fill="rgb(10,65,8)" fill-opacity="0.9"/>
<ellipse cx="5.4" cy="3.6" rx="0.9" ry="1.2" fill="rgb(10,62,8)" fill-opacity="0.9"/>
<ellipse cx="30.5" cy="43.2" rx="0.8" ry="1.2" fill="rgb(10,76,8)" fill-opacity="0.9"/>
<ellipse cx="7.6" cy="36.8" rx="0.7" ry="0.9" fill="rgb(10,76,8)" fill-opacity="0.9"/>
<ellipse cx="26.8" cy="3.1" rx="0.8" ry="1.1" fill="rgb(10,91,8)" fill-opacity="0.9"/>
<ellipse cx="17.2" cy="33.6" rx="0.7" ry="1.0" fill="rgb(10,82,8)" fill-opacity="0.9"/>
<ellipse cx="43.2" cy="11.6" rx="0.6" ry="0.9" fill="rgb(10,67,8)" fill-opacity="0.9"/>
<ellipse cx="23.6" cy="21.0" rx="0.9" ry="1.3" fill="rgb(10,63,8)" fill-opacity="0.9"/>
<ellipse cx="6.3" cy="32.2" rx="0.9" ry="1.3" fill="rgb(10,84,8)" fill-opacity="0.9"/>
<ellipse cx="35.8" cy="8.7" rx="0.6" ry="0.8" fill="rgb(10,70,8)" fill-opacity="0.9"/>
</g></svg>
<rect x="137" y="377" width="47" height="46" fill="#000"/>
<rect x="138" y="378" width="45" height="44" fill="#030b03"/>
<svg x="137" y="377" width="47" height="46" overflow="hidden"><g filter="url(#bl)">
<ellipse cx="26.9" cy="13.6" rx="0.9" ry="1.6" transform="rotate(-6 26.9 13.6)" fill="rgb(1,54,1)"/>
<ellipse cx="35.1" cy="37.6" rx="0.8" ry="2.2" transform="rotate(4 35.1 37.6)" fill="rgb(1,65,2)"/>
<ellipse cx="37.8" cy="23.6" rx="0.7" ry="2.8" transform="rotate(-15 37.8 23.6)" fill="rgb(1,55,1)"/>
<ellipse cx="14.5" cy="19.9" rx="0.6" ry="1.6" transform="rotate(-14 14.5 19.9)" fill="rgb(0,43,1)"/>
<ellipse cx="6.4" cy="14.9" rx="0.6" ry="2.0" transform="rotate(-15 6.4 14.9)" fill="rgb(5,101,3)"/>
<ellipse cx="26.2" cy="9.3" rx="0.7" ry="1.4" transform="rotate(3 26.2 9.3)" fill="rgb(0,49,1)"/>
<ellipse cx="3.9" cy="15.9" rx="0.8" ry="2.4" transform="rotate(-5 3.9 15.9)" fill="rgb(1,65,2)"/>
<ellipse cx="20.3" cy="39.5" rx="0.8" ry="2.4" transform="rotate(-5 20.3 39.5)" fill="rgb(3,87,3)"/>
<ellipse cx="18.2" cy="3.7" rx="0.8" ry="1.9" transform="rotate(5 18.2 3.7)" fill="rgb(3,82,2)"/>
<ellipse cx="3.0" cy="3.5" rx="0.9" ry="2.4" transform="rotate(-9 3.0 3.5)" fill="rgb(6,108,4)"/>
<ellipse cx="27.8" cy="20.8" rx="0.7" ry="1.5" transform="rotate(-0 27.8 20.8)" fill="rgb(2,74,2)"/>
<ellipse cx="28.3" cy="27.1" rx="0.8" ry="1.7" transform="rotate(9 28.3 27.1)" fill="rgb(0,48,1)"/>
<ellipse cx="3.7" cy="34.2" rx="0.7" ry="2.6" transform="rotate(-4 3.7 34.2)" fill="rgb(0,46,1)"/>
<ellipse cx="26.8" cy="38.1" rx="0.7" ry="2.0" transform="rotate(-21 26.8 38.1)" fill="rgb(0,43,1)"/>
<ellipse cx="35.1" cy="1.0" rx="0.8" ry="2.6" transform="rotate(11 35.1 1.0)" fill="rgb(2,75,2)"/>
<ellipse cx="16.8" cy="37.5" rx="0.7" ry="1.7" transform="rotate(-2 16.8 37.5)" fill="rgb(1,65,2)"/>
<ellipse cx="16.8" cy="27.3" rx="0.8" ry="2.2" transform="rotate(-10 16.8 27.3)" fill="rgb(0,42,1)"/>
<ellipse cx="7.4" cy="17.8" rx="0.9" ry="2.2" transform="rotate(-13 7.4 17.8)" fill="rgb(1,52,1)"/>
<ellipse cx="29.7" cy="44.7" rx="0.9" ry="2.5" transform="rotate(-8 29.7 44.7)" fill="rgb(1,51,1)"/>
<ellipse cx="35.3" cy="19.2" rx="0.6" ry="1.8" transform="rotate(-8 35.3 19.2)" fill="rgb(1,61,2)"/>
<ellipse cx="13.2" cy="27.5" rx="0.7" ry="2.3" transform="rotate(-7 13.2 27.5)" fill="rgb(5,102,3)"/>
<ellipse cx="19.2" cy="18.8" rx="0.7" ry="2.6" transform="rotate(-3 19.2 18.8)" fill="rgb(1,57,1)"/>
<ellipse cx="29.4" cy="11.1" rx="0.7" ry="1.5" transform="rotate(-1 29.4 11.1)" fill="rgb(1,62,2)"/>
<ellipse cx="32.8" cy="25.3" rx="0.8" ry="1.6" transform="rotate(-4 32.8 25.3)" fill="rgb(1,66,2)"/>
<ellipse cx="1.3" cy="4.1" rx="0.8" ry="1.5" transform="rotate(-16 1.3 4.1)" fill="rgb(3,85,3)"/>
<ellipse cx="25.5" cy="38.0" rx="0.8" ry="1.7" transform="rotate(-1 25.5 38.0)" fill="rgb(1,58,1)"/>
<ellipse cx="25.9" cy="35.6" rx="0.7" ry="1.8" transform="rotate(2 25.9 35.6)" fill="rgb(1,60,1)"/>
<ellipse cx="22.1" cy="7.9" rx="0.7" ry="1.9" transform="rotate(1 22.1 7.9)" fill="rgb(1,66,2)"/>
<ellipse cx="9.2" cy="32.2" rx="0.8" ry="2.1" transform="rotate(-6 9.2 32.2)" fill="rgb(2,73,2)"/>
<ellipse cx="15.5" cy="4.2" rx="0.9" ry="1.9" transform="rotate(-21 15.5 4.2)" fill="rgb(7,115,4)"/>
<ellipse cx="27.8" cy="9.6" rx="0.9" ry="2.4" transform="rotate(2 27.8 9.6)" fill="rgb(1,62,2)"/>
<ellipse cx="15.1" cy="37.8" rx="0.6" ry="1.9" transform="rotate(-1 15.1 37.8)" fill="rgb(4,89,3)"/>
<ellipse cx="10.5" cy="23.5" rx="0.9" ry="2.7" transform="rotate(-2 10.5 23.5)" fill="rgb(7,114,4)"/>
<ellipse cx="23.8" cy="28.3" rx="0.9" ry="1.9" transform="rotate(-6 23.8 28.3)" fill="rgb(0,45,1)"/>
<ellipse cx="12.2" cy="10.6" rx="0.9" ry="1.8" transform="rotate(-6 12.2 10.6)" fill="rgb(7,114,4)"/>
<ellipse cx="2.1" cy="7.0" rx="0.9" ry="1.6" transform="rotate(-9 2.1 7.0)" fill="rgb(6,110,4)"/>
<ellipse cx="29.8" cy="34.0" rx="0.8" ry="1.6" transform="rotate(6 29.8 34.0)" fill="rgb(2,71,2)"/>
<ellipse cx="21.7" cy="30.8" rx="0.8" ry="1.7" transform="rotate(-10 21.7 30.8)" fill="rgb(2,70,2)"/>
<ellipse cx="13.2" cy="10.9" rx="0.8" ry="2.4" transform="rotate(2 13.2 10.9)" fill="rgb(5,100,3)"/>
<ellipse cx="16.8" cy="16.2" rx="0.8" ry="2.7" transform="rotate(-7 16.8 16.2)" fill="rgb(7,113,4)"/>
<ellipse cx="4.7" cy="30.2" rx="0.9" ry="2.1" transform="rotate(-10 4.7 30.2)" fill="rgb(3,84,3)"/>
<ellipse cx="26.5" cy="28.1" rx="0.6" ry="2.1" transform="rotate(-20 26.5 28.1)" fill="rgb(3,82,2)"/>
<ellipse cx="33.0" cy="41.7" rx="0.9" ry="1.4" transform="rotate(8 33.0 41.7)" fill="rgb(1,58,1)"/>
<ellipse cx="41.2" cy="13.3" rx="0.9" ry="2.3" transform="rotate(-6 41.2 13.3)" fill="rgb(0,41,1)"/>
<ellipse cx="21.2" cy="21.7" rx="0.6" ry="2.6" transform="rotate(-4 21.2 21.7)" fill="rgb(2,78,2)"/>
<ellipse cx="38.3" cy="18.8" rx="0.7" ry="1.6" transform="rotate(-1 38.3 18.8)" fill="rgb(1,60,1)"/>
<ellipse cx="30.5" cy="16.5" rx="0.7" ry="1.7" transform="rotate(-5 30.5 16.5)" fill="rgb(1,51,1)"/>
<ellipse cx="15.3" cy="38.2" rx="0.7" ry="2.7" transform="rotate(-4 15.3 38.2)" fill="rgb(1,58,1)"/>
<ellipse cx="0.3" cy="38.3" rx="0.8" ry="1.9" transform="rotate(-8 0.3 38.3)" fill="rgb(8,120,4)"/>
<ellipse cx="6.2" cy="24.8" rx="0.9" ry="2.3" transform="rotate(-12 6.2 24.8)" fill="rgb(0,40,1)"/>
<ellipse cx="5.6" cy="40.6" rx="0.7" ry="2.3" transform="rotate(-10 5.6 40.6)" fill="rgb(2,75,2)"/>
<ellipse cx="25.5" cy="0.8" rx="0.8" ry="2.3" transform="rotate(-11 25.5 0.8)" fill="rgb(2,77,2)"/>
<ellipse cx="2.7" cy="27.1" rx="0.9" ry="2.0" transform="rotate(-9 2.7 27.1)" fill="rgb(0,41,1)"/>
<ellipse cx="35.4" cy="24.8" rx="0.6" ry="1.9" transform="rotate(-12 35.4 24.8)" fill="rgb(0,39,1)"/>
<ellipse cx="4.1" cy="45.5" rx="0.7" ry="2.0" transform="rotate(-8 4.1 45.5)" fill="rgb(3,81,2)"/>
<ellipse cx="31.7" cy="38.8" rx="0.9" ry="2.5" transform="rotate(-24 31.7 38.8)" fill="rgb(1,63,2)"/>
<ellipse cx="31.4" cy="29.0" rx="0.7" ry="1.7" transform="rotate(-11 31.4 29.0)" fill="rgb(2,67,2)"/>
<ellipse cx="18.1" cy="43.7" rx="0.7" ry="2.0" transform="rotate(-10 18.1 43.7)" fill="rgb(4,93,3)"/>
<ellipse cx="17.8" cy="39.8" rx="0.6" ry="1.5" transform="rotate(-11 17.8 39.8)" fill="rgb(0,48,1)"/>
<ellipse cx="26.7" cy="23.2" rx="0.7" ry="2.2" transform="rotate(1 26.7 23.2)" fill="rgb(0,38,1)"/>
<ellipse cx="46.3" cy="40.6" rx="0.9" ry="2.7" transform="rotate(-22 46.3 40.6)" fill="rgb(0,45,1)"/>
<ellipse cx="6.7" cy="15.0" rx="0.9" ry="2.6" transform="rotate(9 6.7 15.0)" fill="rgb(5,105,3)"/>
<ellipse cx="37.0" cy="1.2" rx="0.6" ry="2.0" transform="rotate(-10 37.0 1.2)" fill="rgb(1,51,1)"/>
<ellipse cx="32.2" cy="44.4" rx="0.8" ry="1.6" transform="rotate(2 32.2 44.4)" fill="rgb(1,67,2)"/>
<ellipse cx="3.9" cy="44.4" rx="0.8" ry="2.6" transform="rotate(-9 3.9 44.4)" fill="rgb(7,113,4)"/>
<ellipse cx="10.0" cy="6.6" rx="0.6" ry="2.2" transform="rotate(4 10.0 6.6)" fill="rgb(0,37,1)"/>
<ellipse cx="7.1" cy="30.1" rx="0.7" ry="2.4" transform="rotate(2 7.1 30.1)" fill="rgb(7,114,4)"/>
<ellipse cx="16.0" cy="2.1" rx="0.6" ry="2.6" transform="rotate(2 16.0 2.1)" fill="rgb(7,112,4)"/>
<ellipse cx="8.5" cy="36.2" rx="0.9" ry="1.7" transform="rotate(4 8.5 36.2)" fill="rgb(4,89,3)"/>
<ellipse cx="29.0" cy="5.6" rx="0.6" ry="2.1" transform="rotate(-9 29.0 5.6)" fill="rgb(1,60,1)"/>
<ellipse cx="4.1" cy="3.4" rx="0.9" ry="1.7" transform="rotate(-6 4.1 3.4)" fill="rgb(15,153,6)"/>
<ellipse cx="6.9" cy="1.6" rx="0.9" ry="2.2" transform="rotate(-1 6.9 1.6)" fill="rgb(8,119,4)"/>
<ellipse cx="12.3" cy="5.3" rx="0.6" ry="2.3" transform="rotate(5 12.3 5.3)" fill="rgb(10,130,5)"/>
<ellipse cx="21.2" cy="6.8" rx="0.6" ry="2.4" transform="rotate(2 21.2 6.8)" fill="rgb(6,110,4)"/>
<ellipse cx="7.4" cy="9.3" rx="0.9" ry="2.1" transform="rotate(-10 7.4 9.3)" fill="rgb(10,129,5)"/>
<ellipse cx="21.1" cy="12.1" rx="0.5" ry="2.4" transform="rotate(-1 21.1 12.1)" fill="rgb(5,101,3)"/>
<ellipse cx="3.3" cy="16.0" rx="0.6" ry="1.7" transform="rotate(-12 3.3 16.0)" fill="rgb(7,113,4)"/>
<ellipse cx="11.1" cy="15.9" rx="0.5" ry="1.9" transform="rotate(-30 11.1 15.9)" fill="rgb(4,97,3)"/>
<ellipse cx="14.5" cy="16.2" rx="0.8" ry="2.1" transform="rotate(-1 14.5 16.2)" fill="rgb(4,94,3)"/>
<ellipse cx="24.8" cy="16.1" rx="0.5" ry="1.6" transform="rotate(7 24.8 16.1)" fill="rgb(4,95,3)"/>
<ellipse cx="2.5" cy="19.8" rx="0.8" ry="1.5" transform="rotate(-13 2.5 19.8)" fill="rgb(10,129,5)"/>
<ellipse cx="20.5" cy="20.7" rx="0.6" ry="2.3" transform="rotate(6 20.5 20.7)" fill="rgb(6,106,4)"/>
<ellipse cx="23.8" cy="19.0" rx="0.7" ry="2.3" transform="rotate(-1 23.8 19.0)" fill="rgb(6,107,4)"/>
<ellipse cx="9.9" cy="23.1" rx="0.6" ry="2.3" transform="rotate(7 9.9 23.1)" fill="rgb(4,95,3)"/>
<ellipse cx="18.7" cy="24.0" rx="0.6" ry="1.8" transform="rotate(10 18.7 24.0)" fill="rgb(7,113,4)"/>
<ellipse cx="28.6" cy="22.0" rx="0.7" ry="1.6" transform="rotate(-2 28.6 22.0)" fill="rgb(3,87,3)"/>
<ellipse cx="30.2" cy="22.6" rx="0.7" ry="1.6" transform="rotate(-16 30.2 22.6)" fill="rgb(3,88,3)"/>
<ellipse cx="2.4" cy="27.5" rx="0.6" ry="1.7" transform="rotate(-17 2.4 27.5)" fill="rgb(8,119,4)"/>
<ellipse cx="11.6" cy="26.5" rx="0.7" ry="2.5" transform="rotate(-1 11.6 26.5)" fill="rgb(11,137,5)"/>
<ellipse cx="19.6" cy="28.2" rx="0.6" ry="1.9" transform="rotate(-4 19.6 28.2)" fill="rgb(4,94,3)"/>
<ellipse cx="30.3" cy="25.4" rx="0.7" ry="1.4" transform="rotate(-26 30.3 25.4)" fill="rgb(3,87,3)"/>
<ellipse cx="7.3" cy="30.5" rx="0.6" ry="1.6" transform="rotate(-1 7.3 30.5)" fill="rgb(4,95,3)"/>
<ellipse cx="11.2" cy="31.0" rx="0.6" ry="1.9" transform="rotate(-3 11.2 31.0)" fill="rgb(6,106,4)"/>
<ellipse cx="14.0" cy="31.6" rx="0.5" ry="2.1" transform="rotate(6 14.0 31.6)" fill="rgb(5,103,3)"/>
<ellipse cx="3.4" cy="36.6" rx="0.7" ry="2.3" transform="rotate(-11 3.4 36.6)" fill="rgb(10,133,5)"/>
<ellipse cx="6.1" cy="33.3" rx="0.9" ry="2.6" transform="rotate(-15 6.1 33.3)" fill="rgb(11,137,5)"/>
<ellipse cx="11.1" cy="33.5" rx="0.7" ry="1.8" transform="rotate(-9 11.1 33.5)" fill="rgb(12,139,5)"/>
<ellipse cx="14.9" cy="35.7" rx="0.6" ry="1.6" transform="rotate(-22 14.9 35.7)" fill="rgb(8,122,4)"/>
<ellipse cx="4.6" cy="38.4" rx="0.5" ry="1.8" transform="rotate(11 4.6 38.4)" fill="rgb(4,91,3)"/>
<ellipse cx="10.2" cy="37.6" rx="0.7" ry="1.8" transform="rotate(5 10.2 37.6)" fill="rgb(11,137,5)"/>
<ellipse cx="13.9" cy="39.6" rx="0.8" ry="2.3" transform="rotate(-12 13.9 39.6)" fill="rgb(4,97,3)"/>
<ellipse cx="20.1" cy="37.3" rx="0.5" ry="2.1" transform="rotate(-8 20.1 37.3)" fill="rgb(4,93,3)"/>
<ellipse cx="22.1" cy="37.9" rx="0.7" ry="1.7" transform="rotate(-15 22.1 37.9)" fill="rgb(4,95,3)"/>
<ellipse cx="3.3" cy="44.0" rx="0.5" ry="1.3" transform="rotate(-11 3.3 44.0)" fill="rgb(4,89,3)"/>
<ellipse cx="23.6" cy="42.9" rx="0.7" ry="1.5" transform="rotate(2 23.6 42.9)" fill="rgb(6,105,3)"/>
<ellipse cx="26.5" cy="41.5" rx="0.6" ry="1.8" transform="rotate(-5 26.5 41.5)" fill="rgb(4,96,3)"/>
<ellipse cx="29.1" cy="34.8" rx="0.5" ry="0.7" fill="rgb(10,104,8)" fill-opacity="0.9"/>
<ellipse cx="1.6" cy="21.0" rx="0.8" ry="1.2" fill="rgb(10,139,8)" fill-opacity="0.9"/>
<ellipse cx="23.8" cy="37.2" rx="0.9" ry="1.3" fill="rgb(10,87,8)" fill-opacity="0.9"/>
<ellipse cx="13.2" cy="10.5" rx="1.0" ry="1.4" fill="rgb(10,136,8)" fill-opacity="0.9"/>
<ellipse cx="6.3" cy="23.9" rx="0.5" ry="0.7" fill="rgb(10,96,8)" fill-opacity="0.9"/>
<ellipse cx="37.9" cy="20.3" rx="0.9" ry="1.3" fill="rgb(10,58,8)" fill-opacity="0.9"/>
<ellipse cx="43.4" cy="31.9" rx="0.5" ry="0.7" fill="rgb(10,72,8)" fill-opacity="0.9"/>
<ellipse cx="12.7" cy="6.0" rx="0.9" ry="1.3" fill="rgb(10,150,8)" fill-opacity="0.9"/>
<ellipse cx="45.4" cy="9.2" rx="0.6" ry="0.9" fill="rgb(10,80,8)" fill-opacity="0.9"/>
<ellipse cx="2.5" cy="19.3" rx="0.7" ry="0.9" fill="rgb(10,115,8)" fill-opacity="0.9"/>
</g></svg>
<rect x="185" y="377" width="47" height="46" fill="#000"/>
<rect x="186" y="378" width="45" height="44" fill="#030b03"/>
<svg x="185" y="377" width="47" height="46" overflow="hidden"><g filter="url(#bl)">
<ellipse cx="30.6" cy="32.5" rx="0.7" ry="2.0" transform="rotate(-18 30.6 32.5)" fill="rgb(0,49,1)"/>
<ellipse cx="39.8" cy="4.0" rx="0.6" ry="2.8" transform="rotate(-12 39.8 4.0)" fill="rgb(0,40,1)"/>
<ellipse cx="14.6" cy="17.4" rx="0.9" ry="1.9" transform="rotate(-1 14.6 17.4)" fill="rgb(1,60,2)"/>
<ellipse cx="41.5" cy="42.2" rx="0.9" ry="1.7" transform="rotate(-1 41.5 42.2)" fill="rgb(0,45,1)"/>
<ellipse cx="44.9" cy="10.3" rx="0.8" ry="2.0" transform="rotate(11 44.9 10.3)" fill="rgb(1,59,1)"/>
<ellipse cx="14.4" cy="45.0" rx="0.8" ry="2.2" transform="rotate(-0 14.4 45.0)" fill="rgb(2,76,2)"/>
<ellipse cx="16.2" cy="31.5" rx="0.6" ry="1.5" transform="rotate(-2 16.2 31.5)" fill="rgb(5,98,3)"/>
<ellipse cx="21.1" cy="1.5" rx="0.8" ry="1.7" transform="rotate(-20 21.1 1.5)" fill="rgb(4,93,3)"/>
<ellipse cx="31.5" cy="12.1" rx="0.9" ry="2.1" transform="rotate(-6 31.5 12.1)" fill="rgb(2,76,2)"/>
<ellipse cx="31.7" cy="30.7" rx="0.7" ry="2.1" transform="rotate(11 31.7 30.7)" fill="rgb(1,54,1)"/>
<ellipse cx="40.1" cy="16.8" rx="0.8" ry="2.0" transform="rotate(-7 40.1 16.8)" fill="rgb(1,66,2)"/>
<ellipse cx="22.1" cy="10.4" rx="0.6" ry="2.0" transform="rotate(10 22.1 10.4)" fill="rgb(2,69,2)"/>
<ellipse cx="26.4" cy="33.8" rx="0.6" ry="1.9" transform="rotate(-7 26.4 33.8)" fill="rgb(3,82,2)"/>
<ellipse cx="43.1" cy="16.1" rx="0.6" ry="1.5" transform="rotate(-7 43.1 16.1)" fill="rgb(1,65,2)"/>
<ellipse cx="31.8" cy="34.2" rx="0.6" ry="2.6" transform="rotate(-2 31.8 34.2)" fill="rgb(1,53,1)"/>
<ellipse cx="23.8" cy="4.3" rx="0.8" ry="2.7" transform="rotate(-1 23.8 4.3)" fill="rgb(2,77,2)"/>
<ellipse cx="33.1" cy="41.5" rx="0.9" ry="2.1" transform="rotate(-13 33.1 41.5)" fill="rgb(0,47,1)"/>
<ellipse cx="41.5" cy="28.5" rx="0.7" ry="1.6" transform="rotate(-0 41.5 28.5)" fill="rgb(1,55,1)"/>
<ellipse cx="43.3" cy="28.7" rx="0.8" ry="1.5" transform="rotate(-17 43.3 28.7)" fill="rgb(1,56,1)"/>
<ellipse cx="32.1" cy="38.3" rx="0.6" ry="2.3" transform="rotate(-7 32.1 38.3)" fill="rgb(0,49,1)"/>
<ellipse cx="13.7" cy="13.8" rx="0.8" ry="2.4" transform="rotate(4 13.7 13.8)" fill="rgb(1,65,2)"/>
<ellipse cx="7.2" cy="22.2" rx="0.7" ry="2.6" transform="rotate(4 7.2 22.2)" fill="rgb(8,118,4)"/>
<ellipse cx="8.9" cy="34.5" rx="0.9" ry="1.7" transform="rotate(-6 8.9 34.5)" fill="rgb(4,93,3)"/>
<ellipse cx="21.4" cy="33.3" rx="0.9" ry="2.1" transform="rotate(-3 21.4 33.3)" fill="rgb(1,54,1)"/>
<ellipse cx="22.9" cy="14.6" rx="0.7" ry="1.9" transform="rotate(6 22.9 14.6)" fill="rgb(2,78,2)"/>
<ellipse cx="46.7" cy="9.5" rx="0.9" ry="2.2" transform="rotate(-16 46.7 9.5)" fill="rgb(1,53,1)"/>
<ellipse cx="45.2" cy="4.6" rx="0.8" ry="2.0" transform="rotate(-4 45.2 4.6)" fill="rgb(0,45,1)"/>
<ellipse cx="9.9" cy="12.1" rx="0.6" ry="2.5" transform="rotate(-2 9.9 12.1)" fill="rgb(5,99,3)"/>
<ellipse cx="30.0" cy="29.4" rx="0.8" ry="2.6" transform="rotate(-4 30.0 29.4)" fill="rgb(1,65,2)"/>
<ellipse cx="16.4" cy="37.1" rx="0.9" ry="2.7" transform="rotate(-10 16.4 37.1)" fill="rgb(2,72,2)"/>
<ellipse cx="18.7" cy="29.7" rx="0.6" ry="2.4" transform="rotate(-3 18.7 29.7)" fill="rgb(4,93,3)"/>
<ellipse cx="11.8" cy="13.4" rx="0.7" ry="2.0" transform="rotate(-12 11.8 13.4)" fill="rgb(2,72,2)"/>
<ellipse cx="33.6" cy="20.2" rx="0.6" ry="2.4" transform="rotate(8 33.6 20.2)" fill="rgb(0,49,1)"/>
<ellipse cx="24.5" cy="23.1" rx="0.9" ry="2.8" transform="rotate(4 24.5 23.1)" fill="rgb(0,44,1)"/>
<ellipse cx="21.0" cy="21.4" rx="0.6" ry="2.1" transform="rotate(-20 21.0 21.4)" fill="rgb(1,54,1)"/>
<ellipse cx="14.1" cy="42.6" rx="0.9" ry="2.1" transform="rotate(-6 14.1 42.6)" fill="rgb(0,43,1)"/>
<ellipse cx="36.9" cy="35.8" rx="0.9" ry="1.8" transform="rotate(-1 36.9 35.8)" fill="rgb(0,46,1)"/>
<ellipse cx="20.6" cy="34.1" rx="0.8" ry="2.3" transform="rotate(-6 20.6 34.1)" fill="rgb(2,69,2)"/>
<ellipse cx="33.1" cy="29.1" rx="0.9" ry="2.6" transform="rotate(-6 33.1 29.1)" fill="rgb(2,77,2)"/>
<ellipse cx="20.9" cy="8.9" rx="0.7" ry="2.1" transform="rotate(-2 20.9 8.9)" fill="rgb(1,52,1)"/>
<ellipse cx="4.7" cy="32.7" rx="0.9" ry="1.7" transform="rotate(-27 4.7 32.7)" fill="rgb(3,88,3)"/>
<ellipse cx="23.2" cy="26.0" rx="0.7" ry="2.1" transform="rotate(-9 23.2 26.0)" fill="rgb(4,90,3)"/>
<ellipse cx="44.8" cy="30.1" rx="0.8" ry="2.1" transform="rotate(-1 44.8 30.1)" fill="rgb(1,57,1)"/>
<ellipse cx="4.1" cy="3.4" rx="1.4" ry="2.4" transform="rotate(-6 4.1 3.4)" fill="rgb(55,255,12)"/>
<ellipse cx="6.9" cy="1.6" rx="1.5" ry="3.4" transform="rotate(-1 6.9 1.6)" fill="rgb(55,255,12)"/>
<ellipse cx="13.0" cy="2.0" rx="1.0" ry="2.5" transform="rotate(14 13.0 2.0)" fill="rgb(13,145,5)"/>
<ellipse cx="17.0" cy="2.4" rx="0.6" ry="2.0" transform="rotate(-13 17.0 2.4)" fill="rgb(4,91,3)"/>
<ellipse cx="18.5" cy="2.9" rx="0.9" ry="2.3" transform="rotate(-13 18.5 2.9)" fill="rgb(12,140,5)"/>
<ellipse cx="24.5" cy="1.9" rx="1.0" ry="2.4" transform="rotate(-1 24.5 1.9)" fill="rgb(19,169,7)"/>
<ellipse cx="26.5" cy="1.8" rx="0.8" ry="1.8" transform="rotate(-4 26.5 1.8)" fill="rgb(8,122,4)"/>
<ellipse cx="33.2" cy="3.8" rx="0.7" ry="1.9" transform="rotate(-18 33.2 3.8)" fill="rgb(8,119,4)"/>
<ellipse cx="2.6" cy="7.5" rx="0.9" ry="2.3" transform="rotate(-11 2.6 7.5)" fill="rgb(13,146,5)"/>
<ellipse cx="6.8" cy="6.1" rx="0.8" ry="2.6" transform="rotate(-1 6.8 6.1)" fill="rgb(9,128,5)"/>
<ellipse cx="12.3" cy="5.3" rx="1.0" ry="3.5" transform="rotate(5 12.3 5.3)" fill="rgb(55,255,12)"/>
<ellipse cx="16.0" cy="7.5" rx="0.7" ry="2.3" transform="rotate(-2 16.0 7.5)" fill="rgb(5,99,3)"/>
<ellipse cx="21.2" cy="6.8" rx="1.1" ry="3.8" transform="rotate(2 21.2 6.8)" fill="rgb(55,255,12)"/>
<ellipse cx="24.3" cy="5.2" rx="0.7" ry="2.6" transform="rotate(-23 24.3 5.2)" fill="rgb(13,145,5)"/>
<ellipse cx="28.6" cy="5.6" rx="0.8" ry="1.8" transform="rotate(-18 28.6 5.6)" fill="rgb(6,111,4)"/>
<ellipse cx="31.9" cy="6.9" rx="0.9" ry="2.0" transform="rotate(2 31.9 6.9)" fill="rgb(12,140,5)"/>
<ellipse cx="36.8" cy="5.2" rx="1.0" ry="2.7" transform="rotate(-15 36.8 5.2)" fill="rgb(27,193,8)"/>
<ellipse cx="40.4" cy="8.6" rx="0.8" ry="2.5" transform="rotate(6 40.4 8.6)" fill="rgb(31,202,9)"/>
<ellipse cx="44.6" cy="6.5" rx="0.9" ry="2.2" transform="rotate(-12 44.6 6.5)" fill="rgb(15,155,6)"/>
<ellipse cx="4.6" cy="9.2" rx="0.9" ry="2.9" transform="rotate(-24 4.6 9.2)" fill="rgb(17,160,6)"/>
<ellipse cx="7.4" cy="9.3" rx="1.4" ry="3.1" transform="rotate(-10 7.4 9.3)" fill="rgb(55,255,12)"/>
<ellipse cx="9.5" cy="9.9" rx="0.8" ry="2.5" transform="rotate(-15 9.5 9.9)" fill="rgb(19,168,7)"/>
<ellipse cx="13.6" cy="10.7" rx="1.0" ry="1.6" transform="rotate(4 13.6 10.7)" fill="rgb(13,146,6)"/>
<ellipse cx="21.1" cy="12.1" rx="1.0" ry="3.7" transform="rotate(-1 21.1 12.1)" fill="rgb(45,236,10)"/>
<ellipse cx="22.6" cy="10.3" rx="0.5" ry="1.6" transform="rotate(-12 22.6 10.3)" fill="rgb(3,87,3)"/>
<ellipse cx="25.8" cy="9.2" rx="1.1" ry="2.3" transform="rotate(-2 25.8 9.2)" fill="rgb(22,178,7)"/>
<ellipse cx="31.9" cy="10.5" rx="0.9" ry="2.0" transform="rotate(-10 31.9 10.5)" fill="rgb(12,139,5)"/>
<ellipse cx="34.4" cy="10.7" rx="0.7" ry="2.4" transform="rotate(-7 34.4 10.7)" fill="rgb(24,185,8)"/>
<ellipse cx="41.7" cy="9.8" rx="0.7" ry="2.2" transform="rotate(-10 41.7 9.8)" fill="rgb(4,95,3)"/>
<ellipse cx="43.7" cy="12.6" rx="0.9" ry="2.6" transform="rotate(-0 43.7 12.6)" fill="rgb(19,166,7)"/>
<ellipse cx="3.3" cy="16.0" rx="1.1" ry="2.6" transform="rotate(-12 3.3 16.0)" fill="rgb(52,249,11)"/>
<ellipse cx="5.6" cy="14.4" rx="0.9" ry="2.0" transform="rotate(-5 5.6 14.4)" fill="rgb(16,158,6)"/>
<ellipse cx="11.1" cy="15.9" rx="0.9" ry="2.8" transform="rotate(-30 11.1 15.9)" fill="rgb(37,218,9)"/>
<ellipse cx="14.5" cy="16.2" rx="1.3" ry="3.1" transform="rotate(-1 14.5 16.2)" fill="rgb(35,214,9)"/>
<ellipse cx="18.8" cy="16.5" rx="0.5" ry="2.5" transform="rotate(-7 18.8 16.5)" fill="rgb(8,121,4)"/>
<ellipse cx="24.8" cy="16.1" rx="0.8" ry="2.5" transform="rotate(7 24.8 16.1)" fill="rgb(40,225,10)"/>
<ellipse cx="32.5" cy="13.9" rx="0.8" ry="2.0" transform="rotate(-4 32.5 13.9)" fill="rgb(17,162,6)"/>
<ellipse cx="35.2" cy="14.1" rx="0.9" ry="2.6" transform="rotate(-14 35.2 14.1)" fill="rgb(10,130,5)"/>
<ellipse cx="39.9" cy="15.2" rx="1.2" ry="2.5" transform="rotate(-16 39.9 15.2)" fill="rgb(28,196,8)"/>
<ellipse cx="44.5" cy="13.7" rx="0.6" ry="2.2" transform="rotate(-10 44.5 13.7)" fill="rgb(4,92,3)"/>
<ellipse cx="2.5" cy="19.8" rx="1.3" ry="2.2" transform="rotate(-13 2.5 19.8)" fill="rgb(55,255,12)"/>
<ellipse cx="5.5" cy="18.6" rx="0.7" ry="1.7" transform="rotate(3 5.5 18.6)" fill="rgb(7,112,4)"/>
<ellipse cx="12.8" cy="19.9" rx="1.1" ry="2.4" transform="rotate(-15 12.8 19.9)" fill="rgb(19,169,7)"/>
<ellipse cx="13.8" cy="19.1" rx="0.6" ry="2.3" transform="rotate(-12 13.8 19.1)" fill="rgb(5,100,3)"/>
<ellipse cx="20.5" cy="20.7" rx="1.2" ry="3.7" transform="rotate(6 20.5 20.7)" fill="rgb(52,250,11)"/>
<ellipse cx="23.8" cy="19.0" rx="1.3" ry="3.6" transform="rotate(-1 23.8 19.0)" fill="rgb(54,253,11)"/>
<ellipse cx="37.4" cy="18.5" rx="0.8" ry="2.3" transform="rotate(-15 37.4 18.5)" fill="rgb(26,191,8)"/>
<ellipse cx="40.5" cy="17.7" rx="0.9" ry="2.5" transform="rotate(-9 40.5 17.7)" fill="rgb(26,191,8)"/>
<ellipse cx="44.7" cy="19.7" rx="0.5" ry="1.9" transform="rotate(9 44.7 19.7)" fill="rgb(5,99,3)"/>
<ellipse cx="4.1" cy="22.1" rx="0.9" ry="1.8" transform="rotate(0 4.1 22.1)" fill="rgb(12,139,5)"/>
<ellipse cx="8.5" cy="21.4" rx="0.6" ry="2.3" transform="rotate(-1 8.5 21.4)" fill="rgb(11,136,5)"/>
<ellipse cx="9.9" cy="23.1" rx="0.9" ry="3.4" transform="rotate(7 9.9 23.1)" fill="rgb(35,215,9)"/>
<ellipse cx="15.9" cy="22.0" rx="0.7" ry="2.4" transform="rotate(-10 15.9 22.0)" fill="rgb(9,126,4)"/>
<ellipse cx="18.7" cy="24.0" rx="1.1" ry="2.8" transform="rotate(10 18.7 24.0)" fill="rgb(55,255,12)"/>
<ellipse cx="22.1" cy="23.6" rx="0.5" ry="1.7" transform="rotate(-2 22.1 23.6)" fill="rgb(6,105,3)"/>
<ellipse cx="28.6" cy="22.0" rx="1.2" ry="2.5" transform="rotate(-2 28.6 22.0)" fill="rgb(35,213,9)"/>
<ellipse cx="30.2" cy="22.6" rx="1.3" ry="2.4" transform="rotate(-16 30.2 22.6)" fill="rgb(37,219,9)"/>
<ellipse cx="36.5" cy="24.5" rx="1.0" ry="2.9" transform="rotate(1 36.5 24.5)" fill="rgb(30,202,8)"/>
<ellipse cx="39.6" cy="23.1" rx="0.8" ry="2.0" transform="rotate(-9 39.6 23.1)" fill="rgb(16,155,6)"/>
<ellipse cx="44.1" cy="21.7" rx="0.8" ry="2.3" transform="rotate(1 44.1 21.7)" fill="rgb(10,133,5)"/>
<ellipse cx="2.4" cy="27.5" rx="1.0" ry="2.6" transform="rotate(-17 2.4 27.5)" fill="rgb(55,255,12)"/>
<ellipse cx="8.9" cy="25.3" rx="1.2" ry="2.4" transform="rotate(-3 8.9 25.3)" fill="rgb(27,193,8)"/>
<ellipse cx="11.6" cy="26.5" rx="1.1" ry="3.7" transform="rotate(-1 11.6 26.5)" fill="rgb(55,255,12)"/>
<ellipse cx="14.4" cy="25.6" rx="0.8" ry="2.5" transform="rotate(10 14.4 25.6)" fill="rgb(14,150,6)"/>
<ellipse cx="19.6" cy="28.2" rx="1.1" ry="3.0" transform="rotate(-4 19.6 28.2)" fill="rgb(39,223,10)"/>
<ellipse cx="24.5" cy="25.5" rx="1.1" ry="2.3" transform="rotate(-17 24.5 25.5)" fill="rgb(21,174,7)"/>
<ellipse cx="28.4" cy="26.9" rx="0.9" ry="2.1" transform="rotate(-7 28.4 26.9)" fill="rgb(17,162,6)"/>
<ellipse cx="30.3" cy="25.4" rx="1.2" ry="2.2" transform="rotate(-26 30.3 25.4)" fill="rgb(37,218,9)"/>
<ellipse cx="37.0" cy="25.6" rx="0.7" ry="2.1" transform="rotate(-15 37.0 25.6)" fill="rgb(8,118,4)"/>
<ellipse cx="41.5" cy="25.8" rx="0.8" ry="2.3" transform="rotate(7 41.5 25.8)" fill="rgb(6,110,4)"/>
<ellipse cx="44.0" cy="28.5" rx="0.5" ry="2.3" transform="rotate(2 44.0 28.5)" fill="rgb(4,96,3)"/>
<ellipse cx="1.2" cy="32.7" rx="0.8" ry="1.9" transform="rotate(-2 1.2 32.7)" fill="rgb(6,110,4)"/>
<ellipse cx="7.3" cy="30.5" rx="1.1" ry="2.4" transform="rotate(-1 7.3 30.5)" fill="rgb(35,214,9)"/>
<ellipse cx="11.2" cy="31.0" rx="1.1" ry="3.0" transform="rotate(-3 11.2 31.0)" fill="rgb(48,242,11)"/>
<ellipse cx="14.0" cy="31.6" rx="1.0" ry="3.2" transform="rotate(6 14.0 31.6)" fill="rgb(46,239,11)"/>
<ellipse cx="20.5" cy="30.7" rx="1.0" ry="2.7" transform="rotate(-8 20.5 30.7)" fill="rgb(14,147,6)"/>
<ellipse cx="25.1" cy="31.3" rx="0.7" ry="2.3" transform="rotate(3 25.1 31.3)" fill="rgb(19,169,7)"/>
<ellipse cx="26.7" cy="29.8" rx="1.1" ry="2.3" transform="rotate(-1 26.7 29.8)" fill="rgb(29,197,8)"/>
<ellipse cx="36.0" cy="30.0" rx="0.7" ry="1.8" transform="rotate(-3 36.0 30.0)" fill="rgb(15,154,6)"/>
<ellipse cx="39.0" cy="31.6" rx="1.0" ry="2.4" transform="rotate(-1 39.0 31.6)" fill="rgb(27,193,8)"/>
<ellipse cx="42.9" cy="30.9" rx="1.0" ry="2.3" transform="rotate(-28 42.9 30.9)" fill="rgb(24,185,8)"/>
<ellipse cx="3.4" cy="36.6" rx="1.1" ry="3.4" transform="rotate(-11 3.4 36.6)" fill="rgb(55,255,12)"/>
<ellipse cx="6.1" cy="33.3" rx="1.4" ry="3.8" transform="rotate(-15 6.1 33.3)" fill="rgb(55,255,12)"/>
<ellipse cx="11.1" cy="33.5" rx="1.1" ry="2.5" transform="rotate(-9 11.1 33.5)" fill="rgb(55,255,12)"/>
<ellipse cx="14.9" cy="35.7" rx="1.1" ry="2.4" transform="rotate(-22 14.9 35.7)" fill="rgb(55,255,12)"/>
<ellipse cx="17.9" cy="34.1" rx="0.6" ry="2.1" transform="rotate(-0 17.9 34.1)" fill="rgb(4,95,3)"/>
<ellipse cx="22.7" cy="35.2" rx="1.2" ry="1.9" transform="rotate(-15 22.7 35.2)" fill="rgb(30,201,8)"/>
<ellipse cx="27.0" cy="34.9" rx="0.6" ry="2.1" transform="rotate(-11 27.0 34.9)" fill="rgb(10,131,5)"/>
<ellipse cx="31.9" cy="35.6" rx="0.5" ry="1.8" transform="rotate(-8 31.9 35.6)" fill="rgb(5,104,3)"/>
<ellipse cx="41.2" cy="36.3" rx="0.5" ry="2.2" transform="rotate(-10 41.2 36.3)" fill="rgb(3,88,3)"/>
<ellipse cx="4.6" cy="38.4" rx="0.9" ry="2.7" transform="rotate(11 4.6 38.4)" fill="rgb(31,203,9)"/>
<ellipse cx="7.2" cy="40.0" rx="1.0" ry="2.4" transform="rotate(-4 7.2 40.0)" fill="rgb(15,154,6)"/>
<ellipse cx="10.2" cy="37.6" rx="1.1" ry="2.6" transform="rotate(5 10.2 37.6)" fill="rgb(55,255,12)"/>
<ellipse cx="13.9" cy="39.6" rx="1.4" ry="3.6" transform="rotate(-12 13.9 39.6)" fill="rgb(41,228,10)"/>
<ellipse cx="20.1" cy="37.3" rx="0.8" ry="3.2" transform="rotate(-8 20.1 37.3)" fill="rgb(40,226,10)"/>
<ellipse cx="22.1" cy="37.9" rx="1.3" ry="2.7" transform="rotate(-15 22.1 37.9)" fill="rgb(44,234,10)"/>
<ellipse cx="26.1" cy="37.6" rx="0.9" ry="2.6" transform="rotate(-13 26.1 37.6)" fill="rgb(20,172,7)"/>
<ellipse cx="32.6" cy="40.3" rx="0.7" ry="2.5" transform="rotate(13 32.6 40.3)" fill="rgb(13,146,5)"/>
<ellipse cx="39.5" cy="40.0" rx="0.8" ry="3.0" transform="rotate(-16 39.5 40.0)" fill="rgb(29,198,8)"/>
<ellipse cx="44.0" cy="39.0" rx="0.8" ry="2.2" transform="rotate(-14 44.0 39.0)" fill="rgb(11,138,5)"/>
<ellipse cx="3.3" cy="44.0" rx="0.9" ry="1.9" transform="rotate(-11 3.3 44.0)" fill="rgb(29,197,8)"/>
<ellipse cx="7.1" cy="42.9" rx="0.9" ry="1.9" transform="rotate(-7 7.1 42.9)" fill="rgb(15,155,6)"/>
<ellipse cx="12.0" cy="42.8" rx="1.0" ry="2.7" transform="rotate(-14 12.0 42.8)" fill="rgb(12,142,5)"/>
<ellipse cx="14.2" cy="43.9" rx="0.7" ry="1.6" transform="rotate(-2 14.2 43.9)" fill="rgb(4,90,3)"/>
<ellipse cx="21.2" cy="41.6" rx="0.7" ry="1.8" transform="rotate(-13 21.2 41.6)" fill="rgb(4,96,3)"/>
<ellipse cx="23.6" cy="42.9" rx="1.4" ry="2.5" transform="rotate(2 23.6 42.9)" fill="rgb(55,255,12)"/>
<ellipse cx="26.5" cy="41.5" rx="1.2" ry="3.0" transform="rotate(-5 26.5 41.5)" fill="rgb(53,251,11)"/>
<ellipse cx="32.5" cy="43.8" rx="0.7" ry="1.9" transform="rotate(-15 32.5 43.8)" fill="rgb(4,90,3)"/>
<ellipse cx="34.9" cy="43.4" rx="0.8" ry="2.2" transform="rotate(1 34.9 43.4)" fill="rgb(27,194,8)"/>
<ellipse cx="45.0" cy="44.5" rx="0.8" ry="1.5" transform="rotate(-4 45.0 44.5)" fill="rgb(6,111,4)"/>
<ellipse cx="27.3" cy="29.8" rx="0.6" ry="0.9" fill="rgb(10,166,8)" fill-opacity="0.9"/>
<ellipse cx="13.8" cy="16.0" rx="0.6" ry="0.8" fill="rgb(10,230,8)" fill-opacity="0.9"/>
<ellipse cx="24.5" cy="35.1" rx="0.8" ry="1.2" fill="rgb(10,223,8)" fill-opacity="0.9"/>
<ellipse cx="8.5" cy="13.2" rx="0.9" ry="1.3" fill="rgb(10,169,8)" fill-opacity="0.9"/>
<ellipse cx="10.2" cy="8.8" rx="0.6" ry="0.8" fill="rgb(10,230,8)" fill-opacity="0.9"/>
<ellipse cx="15.7" cy="14.8" rx="0.8" ry="1.1" fill="rgb(10,230,8)" fill-opacity="0.9"/>
<ellipse cx="18.3" cy="16.2" rx="0.5" ry="0.8" fill="rgb(10,230,8)" fill-opacity="0.9"/>
<ellipse cx="43.1" cy="20.7" rx="0.8" ry="1.1" fill="rgb(10,168,8)" fill-opacity="0.9"/>
<ellipse cx="24.4" cy="6.8" rx="1.0" ry="1.4" fill="rgb(10,230,8)" fill-opacity="0.9"/>
<ellipse cx="30.9" cy="1.7" rx="0.8" ry="1.1" fill="rgb(10,230,8)" fill-opacity="0.9"/>
</g></svg>
<rect x="40" y="425" width="47" height="46" fill="#000"/>
<rect x="41" y="426" width="45" height="44" fill="#030b03"/>
<svg x="40" y="425" width="47" height="46" overflow="hidden"><g filter="url(#bl)">
<ellipse cx="37.4" cy="31.6" rx="0.6" ry="0.8" fill="rgb(10,46,8)" fill-opacity="0.9"/>
<ellipse cx="17.0" cy="9.8" rx="0.8" ry="1.1" fill="rgb(10,49,8)" fill-opacity="0.9"/>
<ellipse cx="22.1" cy="34.8" rx="0.7" ry="1.0" fill="rgb(10,51,8)" fill-opacity="0.9"/>
<ellipse cx="38.5" cy="9.5" rx="1.0" ry="1.4" fill="rgb(10,48,8)" fill-opacity="0.9"/>
<ellipse cx="9.4" cy="4.1" rx="0.9" ry="1.2" fill="rgb(10,50,8)" fill-opacity="0.9"/>
<ellipse cx="14.9" cy="14.3" rx="1.0" ry="1.4" fill="rgb(10,48,8)" fill-opacity="0.9"/>
<ellipse cx="1.6" cy="4.6" rx="0.7" ry="1.0" fill="rgb(10,49,8)" fill-opacity="0.9"/>
<ellipse cx="22.4" cy="25.9" rx="0.8" ry="1.2" fill="rgb(10,44,8)" fill-opacity="0.9"/>
<ellipse cx="44.6" cy="14.0" rx="0.8" ry="1.1" fill="rgb(10,51,8)" fill-opacity="0.9"/>
<ellipse cx="9.7" cy="39.4" rx="0.6" ry="0.8" fill="rgb(10,38,8)" fill-opacity="0.9"/>
<ellipse cx="4.6" cy="25.1" rx="0.8" ry="1.1" fill="rgb(10,48,8)" fill-opacity="0.9"/>
<ellipse cx="17.4" cy="9.7" rx="0.7" ry="1.0" fill="rgb(10,50,8)" fill-opacity="0.9"/>
<ellipse cx="20.3" cy="25.6" rx="0.5" ry="0.7" fill="rgb(10,43,8)" fill-opacity="0.9"/>
<ellipse cx="7.1" cy="41.1" rx="0.7" ry="1.0" fill="rgb(10,41,8)" fill-opacity="0.9"/>
</g></svg>
<rect x="89" y="425" width="46" height="46" fill="#000"/>
<rect x="90" y="426" width="44" height="44" fill="#030b03"/>
<svg x="89" y="425" width="46" height="46" overflow="hidden"><g filter="url(#bl)">
<ellipse cx="29.9" cy="40.7" rx="0.7" ry="1.0" fill="rgb(10,73,8)" fill-opacity="0.9"/>
<ellipse cx="25.4" cy="40.3" rx="0.8" ry="1.2" fill="rgb(10,56,8)" fill-opacity="0.9"/>
<ellipse cx="17.3" cy="43.0" rx="1.0" ry="1.4" fill="rgb(10,63,8)" fill-opacity="0.9"/>
<ellipse cx="34.9" cy="19.0" rx="0.9" ry="1.3" fill="rgb(10,72,8)" fill-opacity="0.9"/>
<ellipse cx="8.4" cy="41.3" rx="0.9" ry="1.2" fill="rgb(10,62,8)" fill-opacity="0.9"/>
<ellipse cx="16.1" cy="10.8" rx="0.9" ry="1.3" fill="rgb(10,72,8)" fill-opacity="0.9"/>
<ellipse cx="44.2" cy="12.2" rx="0.7" ry="1.0" fill="rgb(10,64,8)" fill-opacity="0.9"/>
<ellipse cx="4.4" cy="34.6" rx="0.8" ry="1.1" fill="rgb(10,63,8)" fill-opacity="0.9"/>
<ellipse cx="11.2" cy="10.3" rx="0.6" ry="0.8" fill="rgb(10,73,8)" fill-opacity="0.9"/>
<ellipse cx="41.6" cy="8.2" rx="0.7" ry="0.9" fill="rgb(10,54,8)" fill-opacity="0.9"/>
<ellipse cx="7.3" cy="20.7" rx="0.8" ry="1.1" fill="rgb(10,52,8)" fill-opacity="0.9"/>
<ellipse cx="40.6" cy="1.7" rx="0.7" ry="0.9" fill="rgb(10,51,8)" fill-opacity="0.9"/>
<ellipse cx="19.8" cy="2.7" rx="1.0" ry="1.4" fill="rgb(10,62,8)" fill-opacity="0.9"/>
<ellipse cx="21.7" cy="33.7" rx="0.9" ry="1.3" fill="rgb(10,76,8)" fill-opacity="0.9"/>
<ellipse cx="36.9" cy="26.6" rx="0.6" ry="0.8" fill="rgb(10,72,8)" fill-opacity="0.9"/>
<ellipse cx="36.2" cy="23.3" rx="0.6" ry="0.8" fill="rgb(10,72,8)" fill-opacity="0.9"/>
<ellipse cx="8.7" cy="8.2" rx="0.6" ry="0.8" fill="rgb(10,69,8)" fill-opacity="0.9"/>
<ellipse cx="11.4" cy="29.4" rx="0.8" ry="1.1" fill="rgb(10,61,8)" fill-opacity="0.9"/>
<ellipse cx="5.8" cy="30.3" rx="0.8" ry="1.1" fill="rgb(10,77,8)" fill-opacity="0.9"/>
<ellipse cx="1.8" cy="10.6" rx="0.8" ry="1.1" fill="rgb(10,47,8)" fill-opacity="0.9"/>
<ellipse cx="5.1" cy="42.3" rx="0.9" ry="1.2" fill="rgb(10,58,8)" fill-opacity="0.9"/>
<ellipse cx="29.6" cy="5.8" rx="0.6" ry="0.9" fill="rgb(10,69,8)" fill-opacity="0.9"/>
<ellipse cx="17.3" cy="43.5" rx="0.6" ry="0.8" fill="rgb(10,69,8)" fill-opacity="0.9"/>
<ellipse cx="4.4" cy="44.5" rx="0.7" ry="1.0" fill="rgb(10,67,8)" fill-opacity="0.9"/>
<ellipse cx="25.1" cy="30.8" rx="0.8" ry="1.1" fill="rgb(10,57,8)" fill-opacity="0.9"/>
<ellipse cx="24.8" cy="33.4" rx="0.7" ry="1.0" fill="rgb(10,60,8)" fill-opacity="0.9"/>
<ellipse cx="35.6" cy="38.8" rx="0.9" ry="1.3" fill="rgb(10,62,8)" fill-opacity="0.9"/>
<ellipse cx="25.6" cy="42.0" rx="0.7" ry="1.0" fill="rgb(10,69,8)" fill-opacity="0.9"/>
<ellipse cx="27.0" cy="36.2" rx="1.0" ry="1.4" fill="rgb(10,55,8)" fill-opacity="0.9"/>
<ellipse cx="40.4" cy="16.8" rx="0.6" ry="0.9" fill="rgb(10,51,8)" fill-opacity="0.9"/>
<ellipse cx="14.7" cy="3.6" rx="0.8" ry="1.1" fill="rgb(10,68,8)" fill-opacity="0.9"/>
<ellipse cx="1.9" cy="41.2" rx="0.5" ry="0.7" fill="rgb(10,62,8)" fill-opacity="0.9"/>
<ellipse cx="12.7" cy="15.6" rx="0.7" ry="1.0" fill="rgb(10,74,8)" fill-opacity="0.9"/>
<ellipse cx="6.0" cy="37.8" rx="0.8" ry="1.1" fill="rgb(10,53,8)" fill-opacity="0.9"/>
</g></svg>
<rect x="137" y="425" width="47" height="46" fill="#000"/>
<rect x="138" y="426" width="45" height="44" fill="#030b03"/>
<svg x="137" y="425" width="47" height="46" overflow="hidden"><g filter="url(#bl)">
<ellipse cx="14.5" cy="21.9" rx="0.7" ry="2.2" transform="rotate(-17 14.5 21.9)" fill="rgb(0,50,1)"/>
<ellipse cx="10.3" cy="22.4" rx="0.9" ry="2.3" transform="rotate(6 10.3 22.4)" fill="rgb(4,90,3)"/>
<ellipse cx="38.2" cy="30.6" rx="0.6" ry="2.1" transform="rotate(2 38.2 30.6)" fill="rgb(2,70,2)"/>
<ellipse cx="41.1" cy="26.2" rx="0.9" ry="1.6" transform="rotate(-1 41.1 26.2)" fill="rgb(1,52,1)"/>
<ellipse cx="0.3" cy="0.1" rx="0.7" ry="2.5" transform="rotate(-5 0.3 0.1)" fill="rgb(7,114,4)"/>
<ellipse cx="3.6" cy="5.3" rx="0.9" ry="2.8" transform="rotate(6 3.6 5.3)" fill="rgb(1,62,2)"/>
<ellipse cx="25.8" cy="21.2" rx="0.9" ry="2.5" transform="rotate(1 25.8 21.2)" fill="rgb(2,78,2)"/>
<ellipse cx="40.0" cy="38.9" rx="0.8" ry="2.7" transform="rotate(0 40.0 38.9)" fill="rgb(2,69,2)"/>
<ellipse cx="24.6" cy="23.2" rx="0.6" ry="1.8" transform="rotate(-1 24.6 23.2)" fill="rgb(3,87,3)"/>
<ellipse cx="34.6" cy="10.9" rx="0.7" ry="2.7" transform="rotate(6 34.6 10.9)" fill="rgb(7,114,4)"/>
<ellipse cx="16.2" cy="37.2" rx="0.8" ry="2.1" transform="rotate(-3 16.2 37.2)" fill="rgb(3,82,2)"/>
<ellipse cx="23.0" cy="9.9" rx="0.6" ry="1.5" transform="rotate(8 23.0 9.9)" fill="rgb(5,103,3)"/>
<ellipse cx="9.4" cy="38.0" rx="0.6" ry="1.9" transform="rotate(-11 9.4 38.0)" fill="rgb(2,69,2)"/>
<ellipse cx="34.6" cy="41.6" rx="0.9" ry="1.7" transform="rotate(-5 34.6 41.6)" fill="rgb(1,53,1)"/>
<ellipse cx="10.9" cy="10.7" rx="0.9" ry="1.8" transform="rotate(-20 10.9 10.7)" fill="rgb(2,76,2)"/>
<ellipse cx="41.7" cy="5.0" rx="0.9" ry="2.3" transform="rotate(-11 41.7 5.0)" fill="rgb(2,74,2)"/>
<ellipse cx="23.7" cy="20.2" rx="0.7" ry="2.6" transform="rotate(-11 23.7 20.2)" fill="rgb(2,68,2)"/>
<ellipse cx="24.6" cy="39.9" rx="0.8" ry="1.8" transform="rotate(-10 24.6 39.9)" fill="rgb(1,64,2)"/>
<ellipse cx="7.7" cy="20.7" rx="0.7" ry="2.1" transform="rotate(-10 7.7 20.7)" fill="rgb(6,108,4)"/>
<ellipse cx="43.7" cy="14.1" rx="0.9" ry="2.7" transform="rotate(-5 43.7 14.1)" fill="rgb(5,98,3)"/>
<ellipse cx="40.8" cy="30.3" rx="0.9" ry="2.3" transform="rotate(-6 40.8 30.3)" fill="rgb(2,76,2)"/>
<ellipse cx="43.0" cy="29.7" rx="0.9" ry="2.3" transform="rotate(-13 43.0 29.7)" fill="rgb(4,95,3)"/>
<ellipse cx="12.7" cy="29.1" rx="0.9" ry="1.5" transform="rotate(-19 12.7 29.1)" fill="rgb(2,77,2)"/>
<ellipse cx="42.1" cy="37.1" rx="0.8" ry="2.7" transform="rotate(-17 42.1 37.1)" fill="rgb(6,110,4)"/>
<ellipse cx="44.4" cy="42.1" rx="0.8" ry="2.5" transform="rotate(6 44.4 42.1)" fill="rgb(0,45,1)"/>
<ellipse cx="2.9" cy="4.4" rx="0.8" ry="2.0" transform="rotate(-8 2.9 4.4)" fill="rgb(7,114,4)"/>
<ellipse cx="33.4" cy="16.8" rx="0.6" ry="2.0" transform="rotate(9 33.4 16.8)" fill="rgb(2,77,2)"/>
<ellipse cx="35.0" cy="24.9" rx="0.9" ry="2.5" transform="rotate(-3 35.0 24.9)" fill="rgb(1,51,1)"/>
<ellipse cx="45.8" cy="3.2" rx="0.7" ry="2.4" transform="rotate(-13 45.8 3.2)" fill="rgb(5,98,3)"/>
<ellipse cx="12.3" cy="40.8" rx="0.8" ry="1.9" transform="rotate(-11 12.3 40.8)" fill="rgb(3,81,2)"/>
<ellipse cx="17.2" cy="16.2" rx="0.6" ry="2.5" transform="rotate(0 17.2 16.2)" fill="rgb(3,84,3)"/>
<ellipse cx="36.6" cy="33.9" rx="0.9" ry="2.3" transform="rotate(-3 36.6 33.9)" fill="rgb(0,47,1)"/>
<ellipse cx="45.7" cy="28.5" rx="0.6" ry="1.5" transform="rotate(-11 45.7 28.5)" fill="rgb(2,78,2)"/>
<ellipse cx="10.0" cy="43.6" rx="0.9" ry="1.8" transform="rotate(-8 10.0 43.6)" fill="rgb(3,84,3)"/>
<ellipse cx="14.6" cy="6.6" rx="0.7" ry="1.6" transform="rotate(-4 14.6 6.6)" fill="rgb(6,109,4)"/>
<ellipse cx="3.7" cy="6.6" rx="0.7" ry="1.8" transform="rotate(-4 3.7 6.6)" fill="rgb(5,98,3)"/>
<ellipse cx="20.1" cy="44.9" rx="0.7" ry="2.6" transform="rotate(-6 20.1 44.9)" fill="rgb(2,68,2)"/>
<ellipse cx="45.6" cy="21.3" rx="0.6" ry="2.2" transform="rotate(-5 45.6 21.3)" fill="rgb(5,103,3)"/>
<ellipse cx="18.4" cy="32.2" rx="0.6" ry="1.6" transform="rotate(-15 18.4 32.2)" fill="rgb(4,91,3)"/>
<ellipse cx="31.2" cy="8.1" rx="0.9" ry="1.9" transform="rotate(5 31.2 8.1)" fill="rgb(0,39,1)"/>
<ellipse cx="24.9" cy="8.6" rx="0.8" ry="1.9" transform="rotate(-4 24.9 8.6)" fill="rgb(5,99,3)"/>
<ellipse cx="6.4" cy="21.7" rx="0.6" ry="2.6" transform="rotate(-14 6.4 21.7)" fill="rgb(2,78,2)"/>
<ellipse cx="11.3" cy="10.6" rx="0.9" ry="2.8" transform="rotate(3 11.3 10.6)" fill="rgb(4,91,3)"/>
<ellipse cx="23.5" cy="7.7" rx="0.7" ry="2.5" transform="rotate(0 23.5 7.7)" fill="rgb(0,44,1)"/>
<ellipse cx="23.2" cy="16.4" rx="0.8" ry="1.9" transform="rotate(-5 23.2 16.4)" fill="rgb(5,98,3)"/>
<ellipse cx="25.6" cy="2.0" rx="0.6" ry="2.0" transform="rotate(6 25.6 2.0)" fill="rgb(2,78,2)"/>
<ellipse cx="4.4" cy="7.0" rx="0.7" ry="2.5" transform="rotate(2 4.4 7.0)" fill="rgb(7,117,4)"/>
<ellipse cx="43.5" cy="12.1" rx="0.9" ry="1.6" transform="rotate(-10 43.5 12.1)" fill="rgb(5,103,3)"/>
<ellipse cx="5.8" cy="16.4" rx="0.9" ry="2.0" transform="rotate(-6 5.8 16.4)" fill="rgb(2,77,2)"/>
<ellipse cx="5.9" cy="5.5" rx="0.6" ry="1.8" transform="rotate(12 5.9 5.5)" fill="rgb(1,57,1)"/>
<ellipse cx="40.4" cy="2.4" rx="0.9" ry="1.9" transform="rotate(4 40.4 2.4)" fill="rgb(2,70,2)"/>
<ellipse cx="13.0" cy="1.5" rx="0.9" ry="2.3" transform="rotate(-3 13.0 1.5)" fill="rgb(5,98,3)"/>
<ellipse cx="11.9" cy="19.3" rx="0.6" ry="1.6" transform="rotate(2 11.9 19.3)" fill="rgb(6,105,3)"/>
<ellipse cx="1.7" cy="16.0" rx="0.9" ry="2.4" transform="rotate(-4 1.7 16.0)" fill="rgb(2,73,2)"/>
<ellipse cx="1.0" cy="5.5" rx="0.7" ry="2.6" transform="rotate(-6 1.0 5.5)" fill="rgb(5,98,3)"/>
<ellipse cx="37.6" cy="9.7" rx="0.7" ry="1.6" transform="rotate(-4 37.6 9.7)" fill="rgb(5,101,3)"/>
<ellipse cx="43.2" cy="28.4" rx="0.7" ry="1.5" transform="rotate(-7 43.2 28.4)" fill="rgb(6,111,4)"/>
<ellipse cx="18.4" cy="45.5" rx="0.9" ry="2.3" transform="rotate(-11 18.4 45.5)" fill="rgb(2,68,2)"/>
<ellipse cx="10.5" cy="39.6" rx="0.7" ry="2.6" transform="rotate(1 10.5 39.6)" fill="rgb(4,92,3)"/>
<ellipse cx="46.5" cy="3.5" rx="0.6" ry="1.7" transform="rotate(-10 46.5 3.5)" fill="rgb(5,102,3)"/>
<ellipse cx="5.3" cy="32.2" rx="0.9" ry="2.6" transform="rotate(1 5.3 32.2)" fill="rgb(0,47,1)"/>
<ellipse cx="4.5" cy="7.9" rx="0.9" ry="1.4" transform="rotate(-6 4.5 7.9)" fill="rgb(6,107,4)"/>
<ellipse cx="6.5" cy="2.0" rx="0.6" ry="1.4" transform="rotate(-5 6.5 2.0)" fill="rgb(7,115,4)"/>
<ellipse cx="16.9" cy="0.6" rx="0.6" ry="2.1" transform="rotate(2 16.9 0.6)" fill="rgb(0,49,1)"/>
<ellipse cx="1.8" cy="36.9" rx="0.7" ry="2.0" transform="rotate(-3 1.8 36.9)" fill="rgb(1,63,2)"/>
<ellipse cx="25.9" cy="17.4" rx="0.8" ry="2.2" transform="rotate(7 25.9 17.4)" fill="rgb(0,40,1)"/>
<ellipse cx="22.4" cy="11.0" rx="0.9" ry="2.3" transform="rotate(1 22.4 11.0)" fill="rgb(7,114,4)"/>
<ellipse cx="21.9" cy="17.2" rx="0.7" ry="1.5" transform="rotate(-1 21.9 17.2)" fill="rgb(2,78,2)"/>
<ellipse cx="46.0" cy="1.7" rx="0.7" ry="1.7" transform="rotate(-10 46.0 1.7)" fill="rgb(5,103,3)"/>
<ellipse cx="5.8" cy="39.6" rx="0.9" ry="1.7" transform="rotate(1 5.8 39.6)" fill="rgb(3,83,2)"/>
<ellipse cx="21.7" cy="5.4" rx="0.8" ry="1.8" transform="rotate(-7 21.7 5.4)" fill="rgb(1,66,2)"/>
<ellipse cx="46.5" cy="44.5" rx="0.6" ry="1.9" transform="rotate(3 46.5 44.5)" fill="rgb(1,55,1)"/>
<ellipse cx="11.4" cy="8.0" rx="0.9" ry="2.3" transform="rotate(-11 11.4 8.0)" fill="rgb(3,88,3)"/>
<ellipse cx="13.5" cy="31.2" rx="0.8" ry="2.8" transform="rotate(-8 13.5 31.2)" fill="rgb(2,74,2)"/>
<ellipse cx="18.8" cy="19.7" rx="0.6" ry="2.4" transform="rotate(-9 18.8 19.7)" fill="rgb(4,94,3)"/>
<ellipse cx="1.8" cy="3.3" rx="0.7" ry="2.0" transform="rotate(-12 1.8 3.3)" fill="rgb(12,141,5)"/>
<ellipse cx="8.9" cy="3.6" rx="0.8" ry="1.8" transform="rotate(-12 8.9 3.6)" fill="rgb(5,100,3)"/>
<ellipse cx="13.6" cy="2.0" rx="0.6" ry="2.2" transform="rotate(-5 13.6 2.0)" fill="rgb(4,91,3)"/>
<ellipse cx="23.0" cy="3.3" rx="0.5" ry="2.3" transform="rotate(-8 23.0 3.3)" fill="rgb(5,99,3)"/>
<ellipse cx="29.4" cy="2.8" rx="0.6" ry="2.3" transform="rotate(-2 29.4 2.8)" fill="rgb(7,116,4)"/>
<ellipse cx="35.8" cy="4.6" rx="0.6" ry="2.4" transform="rotate(-12 35.8 4.6)" fill="rgb(4,93,3)"/>
<ellipse cx="4.3" cy="8.1" rx="0.8" ry="2.5" transform="rotate(-6 4.3 8.1)" fill="rgb(9,125,4)"/>
<ellipse cx="5.4" cy="5.8" rx="0.6" ry="1.7" transform="rotate(-9 5.4 5.8)" fill="rgb(11,134,5)"/>
<ellipse cx="10.3" cy="7.1" rx="0.7" ry="1.7" transform="rotate(-14 10.3 7.1)" fill="rgb(4,93,3)"/>
<ellipse cx="14.6" cy="8.3" rx="0.8" ry="2.2" transform="rotate(-11 14.6 8.3)" fill="rgb(10,133,5)"/>
<ellipse cx="19.7" cy="7.2" rx="0.9" ry="2.5" transform="rotate(-15 19.7 7.2)" fill="rgb(9,125,4)"/>
<ellipse cx="22.8" cy="6.3" rx="0.8" ry="2.3" transform="rotate(-1 22.8 6.3)" fill="rgb(7,114,4)"/>
<ellipse cx="26.5" cy="5.4" rx="0.5" ry="1.5" transform="rotate(-1 26.5 5.4)" fill="rgb(6,105,3)"/>
<ellipse cx="43.4" cy="6.9" rx="0.6" ry="2.0" transform="rotate(-9 43.4 6.9)" fill="rgb(11,137,5)"/>
<ellipse cx="5.6" cy="11.5" rx="0.6" ry="1.8" transform="rotate(-12 5.6 11.5)" fill="rgb(6,110,4)"/>
<ellipse cx="21.1" cy="9.4" rx="0.5" ry="1.9" transform="rotate(7 21.1 9.4)" fill="rgb(4,97,3)"/>
<ellipse cx="22.0" cy="12.1" rx="0.7" ry="1.8" transform="rotate(23 22.0 12.1)" fill="rgb(4,96,3)"/>
<ellipse cx="29.1" cy="9.5" rx="0.7" ry="2.0" transform="rotate(-3 29.1 9.5)" fill="rgb(6,111,4)"/>
<ellipse cx="32.9" cy="9.7" rx="0.5" ry="1.7" transform="rotate(-4 32.9 9.7)" fill="rgb(4,97,3)"/>
<ellipse cx="42.2" cy="10.6" rx="0.6" ry="2.4" transform="rotate(-12 42.2 10.6)" fill="rgb(10,130,5)"/>
<ellipse cx="1.3" cy="15.7" rx="0.7" ry="1.6" transform="rotate(-3 1.3 15.7)" fill="rgb(4,95,3)"/>
<ellipse cx="22.5" cy="14.2" rx="0.5" ry="2.4" transform="rotate(-19 22.5 14.2)" fill="rgb(6,107,4)"/>
<ellipse cx="32.6" cy="15.8" rx="0.6" ry="2.4" transform="rotate(-5 32.6 15.8)" fill="rgb(10,130,5)"/>
<ellipse cx="42.3" cy="14.4" rx="0.9" ry="1.5" transform="rotate(-22 42.3 14.4)" fill="rgb(10,133,5)"/>
<ellipse cx="4.0" cy="20.6" rx="0.8" ry="1.6" transform="rotate(-16 4.0 20.6)" fill="rgb(13,146,5)"/>
<ellipse cx="7.6" cy="18.9" rx="0.6" ry="1.6" transform="rotate(-20 7.6 18.9)" fill="rgb(8,120,4)"/>
<ellipse cx="14.1" cy="18.6" rx="0.7" ry="2.1" transform="rotate(-11 14.1 18.6)" fill="rgb(12,141,5)"/>
<ellipse cx="18.3" cy="20.8" rx="0.8" ry="2.4" transform="rotate(1 18.3 20.8)" fill="rgb(9,125,4)"/>
<ellipse cx="22.2" cy="18.6" rx="0.5" ry="2.0" transform="rotate(-3 22.2 18.6)" fill="rgb(4,97,3)"/>
<ellipse cx="26.6" cy="17.2" rx="0.8" ry="2.1" transform="rotate(-12 26.6 17.2)" fill="rgb(7,115,4)"/>
<ellipse cx="35.2" cy="19.2" rx="0.8" ry="2.3" transform="rotate(-0 35.2 19.2)" fill="rgb(11,137,5)"/>
<ellipse cx="45.8" cy="19.3" rx="0.8" ry="1.6" transform="rotate(5 45.8 19.3)" fill="rgb(9,125,4)"/>
<ellipse cx="2.5" cy="23.4" rx="0.8" ry="2.4" transform="rotate(-20 2.5 23.4)" fill="rgb(10,130,5)"/>
<ellipse cx="9.0" cy="24.1" rx="0.8" ry="2.2" transform="rotate(9 9.0 24.1)" fill="rgb(13,144,5)"/>
<ellipse cx="10.0" cy="23.8" rx="0.6" ry="2.1" transform="rotate(-7 10.0 23.8)" fill="rgb(5,103,3)"/>
<ellipse cx="15.2" cy="23.2" rx="0.6" ry="2.1" transform="rotate(1 15.2 23.2)" fill="rgb(9,128,5)"/>
<ellipse cx="22.5" cy="24.0" rx="0.6" ry="1.8" transform="rotate(-9 22.5 24.0)" fill="rgb(6,108,4)"/>
<ellipse cx="33.2" cy="23.5" rx="0.6" ry="2.0" transform="rotate(6 33.2 23.5)" fill="rgb(12,140,5)"/>
<ellipse cx="40.1" cy="24.4" rx="0.7" ry="1.5" transform="rotate(-1 40.1 24.4)" fill="rgb(4,90,3)"/>
<ellipse cx="44.8" cy="21.6" rx="0.8" ry="2.7" transform="rotate(-3 44.8 21.6)" fill="rgb(13,143,5)"/>
<ellipse cx="3.0" cy="27.6" rx="0.6" ry="1.7" transform="rotate(-18 3.0 27.6)" fill="rgb(4,91,3)"/>
<ellipse cx="8.1" cy="26.0" rx="0.5" ry="2.1" transform="rotate(-3 8.1 26.0)" fill="rgb(4,92,3)"/>
<ellipse cx="9.6" cy="28.7" rx="0.5" ry="1.6" transform="rotate(1 9.6 28.7)" fill="rgb(5,103,3)"/>
<ellipse cx="14.3" cy="28.0" rx="0.5" ry="1.6" transform="rotate(-21 14.3 28.0)" fill="rgb(5,98,3)"/>
<ellipse cx="19.7" cy="28.3" rx="0.8" ry="2.6" transform="rotate(0 19.7 28.3)" fill="rgb(13,146,6)"/>
<ellipse cx="30.7" cy="25.4" rx="0.7" ry="1.5" transform="rotate(4 30.7 25.4)" fill="rgb(10,131,5)"/>
<ellipse cx="36.4" cy="27.8" rx="0.6" ry="1.5" transform="rotate(-9 36.4 27.8)" fill="rgb(5,99,3)"/>
<ellipse cx="40.9" cy="28.4" rx="0.8" ry="2.3" transform="rotate(-3 40.9 28.4)" fill="rgb(10,131,5)"/>
<ellipse cx="11.1" cy="31.1" rx="0.7" ry="1.5" transform="rotate(-15 11.1 31.1)" fill="rgb(4,90,3)"/>
<ellipse cx="15.7" cy="29.7" rx="0.7" ry="2.1" transform="rotate(-8 15.7 29.7)" fill="rgb(9,124,4)"/>
<ellipse cx="20.0" cy="32.2" rx="0.7" ry="1.9" transform="rotate(1 20.0 32.2)" fill="rgb(6,111,4)"/>
<ellipse cx="22.8" cy="32.3" rx="0.8" ry="2.4" transform="rotate(-12 22.8 32.3)" fill="rgb(8,119,4)"/>
<ellipse cx="34.6" cy="32.0" rx="0.7" ry="1.7" transform="rotate(-16 34.6 32.0)" fill="rgb(6,105,3)"/>
<ellipse cx="40.4" cy="32.5" rx="0.7" ry="2.4" transform="rotate(-2 40.4 32.5)" fill="rgb(7,115,4)"/>
<ellipse cx="45.4" cy="32.4" rx="0.8" ry="2.6" transform="rotate(-8 45.4 32.4)" fill="rgb(10,130,5)"/>
<ellipse cx="12.3" cy="33.6" rx="0.7" ry="1.5" transform="rotate(-2 12.3 33.6)" fill="rgb(9,128,5)"/>
<ellipse cx="15.3" cy="36.4" rx="0.7" ry="2.7" transform="rotate(3 15.3 36.4)" fill="rgb(11,134,5)"/>
<ellipse cx="19.9" cy="34.3" rx="0.9" ry="2.5" transform="rotate(-5 19.9 34.3)" fill="rgb(11,137,5)"/>
<ellipse cx="23.0" cy="35.9" rx="0.7" ry="1.8" transform="rotate(-2 23.0 35.9)" fill="rgb(6,106,4)"/>
<ellipse cx="26.1" cy="36.1" rx="0.6" ry="1.8" transform="rotate(7 26.1 36.1)" fill="rgb(12,139,5)"/>
<ellipse cx="31.6" cy="36.3" rx="0.7" ry="2.1" transform="rotate(3 31.6 36.3)" fill="rgb(12,143,5)"/>
<ellipse cx="39.3" cy="34.2" rx="0.6" ry="1.5" transform="rotate(-1 39.3 34.2)" fill="rgb(7,114,4)"/>
<ellipse cx="44.1" cy="33.5" rx="0.7" ry="2.1" transform="rotate(-6 44.1 33.5)" fill="rgb(11,135,5)"/>
<ellipse cx="5.3" cy="38.4" rx="0.6" ry="2.5" transform="rotate(-3 5.3 38.4)" fill="rgb(8,121,4)"/>
<ellipse cx="11.0" cy="39.5" rx="0.5" ry="2.0" transform="rotate(-2 11.0 39.5)" fill="rgb(4,91,3)"/>
<ellipse cx="15.0" cy="38.1" rx="1.0" ry="2.0" transform="rotate(-4 15.0 38.1)" fill="rgb(13,143,5)"/>
<ellipse cx="23.8" cy="38.3" rx="0.6" ry="2.0" transform="rotate(4 23.8 38.3)" fill="rgb(8,119,4)"/>
<ellipse cx="30.7" cy="38.1" rx="0.5" ry="2.1" transform="rotate(-11 30.7 38.1)" fill="rgb(7,113,4)"/>
<ellipse cx="35.7" cy="38.1" rx="0.7" ry="2.0" transform="rotate(-0 35.7 38.1)" fill="rgb(10,133,5)"/>
<ellipse cx="8.4" cy="43.1" rx="0.5" ry="2.6" transform="rotate(1 8.4 43.1)" fill="rgb(8,121,4)"/>
<ellipse cx="14.8" cy="42.5" rx="0.8" ry="2.1" transform="rotate(10 14.8 42.5)" fill="rgb(9,124,4)"/>
<ellipse cx="18.2" cy="44.4" rx="0.7" ry="1.6" transform="rotate(-0 18.2 44.4)" fill="rgb(10,131,5)"/>
<ellipse cx="22.8" cy="42.3" rx="0.7" ry="1.6" transform="rotate(-11 22.8 42.3)" fill="rgb(6,110,4)"/>
<ellipse cx="25.9" cy="41.6" rx="0.8" ry="1.9" transform="rotate(7 25.9 41.6)" fill="rgb(12,139,5)"/>
<ellipse cx="31.4" cy="42.5" rx="0.8" ry="2.3" transform="rotate(-10 31.4 42.5)" fill="rgb(5,103,3)"/>
<ellipse cx="36.2" cy="42.5" rx="0.8" ry="1.9" transform="rotate(-9 36.2 42.5)" fill="rgb(12,140,5)"/>
<ellipse cx="40.4" cy="43.9" rx="0.9" ry="1.7" transform="rotate(-11 40.4 43.9)" fill="rgb(11,136,5)"/>
<ellipse cx="42.2" cy="44.3" rx="0.6" ry="1.8" transform="rotate(-1 42.2 44.3)" fill="rgb(7,117,4)"/>
<ellipse cx="35.7" cy="16.8" rx="0.7" ry="0.9" fill="rgb(10,102,8)" fill-opacity="0.9"/>
<ellipse cx="28.0" cy="33.6" rx="0.8" ry="1.1" fill="rgb(10,79,8)" fill-opacity="0.9"/>
<ellipse cx="44.3" cy="35.6" rx="0.7" ry="1.0" fill="rgb(10,121,8)" fill-opacity="0.9"/>
<ellipse cx="8.1" cy="20.0" rx="0.8" ry="1.1" fill="rgb(10,133,8)" fill-opacity="0.9"/>
<ellipse cx="25.2" cy="13.2" rx="0.6" ry="0.8" fill="rgb(10,100,8)" fill-opacity="0.9"/>
<ellipse cx="36.9" cy="33.5" rx="0.9" ry="1.3" fill="rgb(10,93,8)" fill-opacity="0.9"/>
<ellipse cx="36.7" cy="1.9" rx="0.9" ry="1.3" fill="rgb(10,128,8)" fill-opacity="0.9"/>
<ellipse cx="27.9" cy="39.0" rx="0.6" ry="0.8" fill="rgb(10,131,8)" fill-opacity="0.9"/>
<ellipse cx="3.1" cy="18.5" rx="0.8" ry="1.1" fill="rgb(10,147,8)" fill-opacity="0.9"/>
<ellipse cx="40.2" cy="30.0" rx="0.9" ry="1.2" fill="rgb(10,102,8)" fill-opacity="0.9"/>
</g></svg>
<rect x="185" y="425" width="47" height="46" fill="#000"/>
<rect x="186" y="426" width="45" height="44" fill="#030b03"/>
<svg x="185" y="425" width="47" height="46" overflow="hidden"><g filter="url(#bl)">
<ellipse cx="13.1" cy="38.4" rx="0.8" ry="1.6" transform="rotate(-13 13.1 38.4)" fill="rgb(6,105,4)"/>
<ellipse cx="28.5" cy="43.9" rx="0.7" ry="1.8" transform="rotate(-15 28.5 43.9)" fill="rgb(0,41,1)"/>
<ellipse cx="21.3" cy="24.5" rx="0.6" ry="1.5" transform="rotate(-1 21.3 24.5)" fill="rgb(0,50,1)"/>
<ellipse cx="23.2" cy="19.1" rx="0.9" ry="1.6" transform="rotate(-19 23.2 19.1)" fill="rgb(6,107,4)"/>
<ellipse cx="23.3" cy="43.7" rx="0.8" ry="2.5" transform="rotate(2 23.3 43.7)" fill="rgb(3,80,2)"/>
<ellipse cx="34.1" cy="4.8" rx="0.9" ry="2.2" transform="rotate(2 34.1 4.8)" fill="rgb(5,99,3)"/>
<ellipse cx="6.3" cy="19.7" rx="0.9" ry="1.4" transform="rotate(-6 6.3 19.7)" fill="rgb(1,55,1)"/>
<ellipse cx="38.2" cy="5.2" rx="0.6" ry="2.5" transform="rotate(-10 38.2 5.2)" fill="rgb(1,54,1)"/>
<ellipse cx="17.6" cy="14.7" rx="0.8" ry="1.7" transform="rotate(10 17.6 14.7)" fill="rgb(6,106,4)"/>
<ellipse cx="14.9" cy="43.6" rx="0.8" ry="2.1" transform="rotate(8 14.9 43.6)" fill="rgb(1,61,2)"/>
<ellipse cx="44.0" cy="11.2" rx="0.7" ry="1.7" transform="rotate(-5 44.0 11.2)" fill="rgb(0,47,1)"/>
<ellipse cx="16.4" cy="2.6" rx="0.8" ry="2.0" transform="rotate(5 16.4 2.6)" fill="rgb(1,51,1)"/>
<ellipse cx="43.5" cy="41.1" rx="0.7" ry="2.1" transform="rotate(13 43.5 41.1)" fill="rgb(3,80,2)"/>
<ellipse cx="15.1" cy="16.0" rx="0.9" ry="2.2" transform="rotate(-3 15.1 16.0)" fill="rgb(2,71,2)"/>
<ellipse cx="7.7" cy="20.3" rx="0.6" ry="2.7" transform="rotate(-20 7.7 20.3)" fill="rgb(5,102,3)"/>
<ellipse cx="11.4" cy="35.9" rx="0.6" ry="2.4" transform="rotate(2 11.4 35.9)" fill="rgb(1,63,2)"/>
<ellipse cx="26.1" cy="2.9" rx="0.6" ry="2.1" transform="rotate(-1 26.1 2.9)" fill="rgb(4,95,3)"/>
<ellipse cx="44.3" cy="17.7" rx="0.9" ry="2.4" transform="rotate(-15 44.3 17.7)" fill="rgb(2,77,2)"/>
<ellipse cx="19.3" cy="28.2" rx="0.7" ry="1.4" transform="rotate(-0 19.3 28.2)" fill="rgb(2,78,2)"/>
<ellipse cx="33.5" cy="11.1" rx="0.7" ry="1.7" transform="rotate(-24 33.5 11.1)" fill="rgb(4,90,3)"/>
<ellipse cx="26.9" cy="40.5" rx="0.9" ry="1.8" transform="rotate(-2 26.9 40.5)" fill="rgb(2,69,2)"/>
<ellipse cx="6.7" cy="33.8" rx="0.8" ry="2.7" transform="rotate(7 6.7 33.8)" fill="rgb(1,65,2)"/>
<ellipse cx="8.0" cy="44.9" rx="0.7" ry="2.0" transform="rotate(-5 8.0 44.9)" fill="rgb(4,89,3)"/>
<ellipse cx="32.4" cy="4.4" rx="0.7" ry="2.4" transform="rotate(-4 32.4 4.4)" fill="rgb(0,43,1)"/>
<ellipse cx="19.2" cy="6.5" rx="0.8" ry="2.4" transform="rotate(-12 19.2 6.5)" fill="rgb(1,57,1)"/>
<ellipse cx="12.1" cy="14.4" rx="0.9" ry="2.6" transform="rotate(-1 12.1 14.4)" fill="rgb(4,92,3)"/>
<ellipse cx="19.8" cy="21.5" rx="0.9" ry="1.8" transform="rotate(-14 19.8 21.5)" fill="rgb(3,85,3)"/>
<ellipse cx="35.5" cy="39.1" rx="0.6" ry="2.3" transform="rotate(-6 35.5 39.1)" fill="rgb(2,73,2)"/>
<ellipse cx="0.3" cy="33.7" rx="0.6" ry="2.1" transform="rotate(-5 0.3 33.7)" fill="rgb(1,58,1)"/>
<ellipse cx="7.7" cy="6.0" rx="0.7" ry="1.5" transform="rotate(-6 7.7 6.0)" fill="rgb(5,100,3)"/>
<ellipse cx="15.5" cy="40.7" rx="0.8" ry="2.4" transform="rotate(-2 15.5 40.7)" fill="rgb(2,70,2)"/>
<ellipse cx="18.3" cy="5.1" rx="0.8" ry="2.6" transform="rotate(-4 18.3 5.1)" fill="rgb(1,53,1)"/>
<ellipse cx="27.5" cy="25.1" rx="0.8" ry="1.5" transform="rotate(2 27.5 25.1)" fill="rgb(5,101,3)"/>
<ellipse cx="4.2" cy="20.2" rx="0.7" ry="1.7" transform="rotate(7 4.2 20.2)" fill="rgb(1,60,1)"/>
<ellipse cx="24.7" cy="25.6" rx="0.9" ry="1.5" transform="rotate(-8 24.7 25.6)" fill="rgb(5,101,3)"/>
<ellipse cx="28.6" cy="31.5" rx="0.7" ry="1.5" transform="rotate(-1 28.6 31.5)" fill="rgb(5,102,3)"/>
<ellipse cx="36.0" cy="20.8" rx="0.7" ry="2.1" transform="rotate(-6 36.0 20.8)" fill="rgb(1,54,1)"/>
<ellipse cx="25.2" cy="33.0" rx="0.7" ry="2.6" transform="rotate(3 25.2 33.0)" fill="rgb(0,48,1)"/>
<ellipse cx="22.8" cy="44.5" rx="0.8" ry="2.0" transform="rotate(-7 22.8 44.5)" fill="rgb(2,74,2)"/>
<ellipse cx="31.7" cy="41.1" rx="0.6" ry="1.7" transform="rotate(-21 31.7 41.1)" fill="rgb(1,67,2)"/>
<ellipse cx="15.6" cy="6.3" rx="0.7" ry="1.8" transform="rotate(-6 15.6 6.3)" fill="rgb(1,54,1)"/>
<ellipse cx="44.4" cy="0.6" rx="0.7" ry="2.6" transform="rotate(-13 44.4 0.6)" fill="rgb(4,93,3)"/>
<ellipse cx="27.5" cy="17.7" rx="0.8" ry="1.4" transform="rotate(-8 27.5 17.7)" fill="rgb(5,102,3)"/>
<ellipse cx="9.6" cy="33.9" rx="0.7" ry="2.3" transform="rotate(-1 9.6 33.9)" fill="rgb(1,65,2)"/>
<ellipse cx="3.0" cy="10.7" rx="0.9" ry="2.2" transform="rotate(6 3.0 10.7)" fill="rgb(0,41,1)"/>
<ellipse cx="23.8" cy="34.1" rx="0.9" ry="2.4" transform="rotate(-2 23.8 34.1)" fill="rgb(3,84,2)"/>
<ellipse cx="44.5" cy="30.9" rx="0.8" ry="2.4" transform="rotate(-19 44.5 30.9)" fill="rgb(1,58,1)"/>
<ellipse cx="1.8" cy="3.3" rx="1.1" ry="2.8" transform="rotate(-12 1.8 3.3)" fill="rgb(55,255,12)"/>
<ellipse cx="8.9" cy="3.6" rx="1.2" ry="2.7" transform="rotate(-12 8.9 3.6)" fill="rgb(34,210,9)"/>
<ellipse cx="11.6" cy="4.5" rx="0.7" ry="2.1" transform="rotate(-8 11.6 4.5)" fill="rgb(8,122,4)"/>
<ellipse cx="13.6" cy="2.0" rx="1.0" ry="3.2" transform="rotate(-5 13.6 2.0)" fill="rgb(27,192,8)"/>
<ellipse cx="20.6" cy="4.7" rx="0.7" ry="1.8" transform="rotate(-1 20.6 4.7)" fill="rgb(18,163,6)"/>
<ellipse cx="23.0" cy="3.3" rx="0.8" ry="3.4" transform="rotate(-8 23.0 3.3)" fill="rgb(33,208,9)"/>
<ellipse cx="29.4" cy="2.8" rx="1.1" ry="3.5" transform="rotate(-2 29.4 2.8)" fill="rgb(50,246,11)"/>
<ellipse cx="33.0" cy="1.6" rx="1.0" ry="1.9" transform="rotate(12 33.0 1.6)" fill="rgb(13,146,5)"/>
<ellipse cx="35.8" cy="4.6" rx="0.9" ry="3.4" transform="rotate(-12 35.8 4.6)" fill="rgb(29,199,8)"/>
<ellipse cx="39.4" cy="4.1" rx="0.8" ry="2.8" transform="rotate(-3 39.4 4.1)" fill="rgb(20,172,7)"/>
<ellipse cx="44.9" cy="2.6" rx="0.8" ry="1.6" transform="rotate(-12 44.9 2.6)" fill="rgb(7,112,4)"/>
<ellipse cx="4.3" cy="8.1" rx="1.4" ry="3.8" transform="rotate(-6 4.3 8.1)" fill="rgb(55,255,12)"/>
<ellipse cx="5.4" cy="5.8" rx="0.9" ry="2.4" transform="rotate(-9 5.4 5.8)" fill="rgb(55,255,12)"/>
<ellipse cx="10.3" cy="7.1" rx="1.1" ry="2.4" transform="rotate(-14 10.3 7.1)" fill="rgb(28,196,8)"/>
<ellipse cx="14.6" cy="8.3" rx="1.3" ry="3.2" transform="rotate(-11 14.6 8.3)" fill="rgb(55,255,12)"/>
<ellipse cx="19.7" cy="7.2" rx="1.5" ry="3.7" transform="rotate(-15 19.7 7.2)" fill="rgb(55,255,12)"/>
<ellipse cx="22.8" cy="6.3" rx="1.4" ry="3.5" transform="rotate(-1 22.8 6.3)" fill="rgb(48,241,11)"/>
<ellipse cx="26.5" cy="5.4" rx="0.9" ry="2.1" transform="rotate(-1 26.5 5.4)" fill="rgb(38,222,10)"/>
<ellipse cx="32.4" cy="6.1" rx="0.7" ry="2.3" transform="rotate(-9 32.4 6.1)" fill="rgb(8,119,4)"/>
<ellipse cx="34.3" cy="5.4" rx="0.5" ry="2.2" transform="rotate(8 34.3 5.4)" fill="rgb(5,100,3)"/>
<ellipse cx="39.3" cy="6.9" rx="0.8" ry="1.6" transform="rotate(-4 39.3 6.9)" fill="rgb(13,145,5)"/>
<ellipse cx="43.4" cy="6.9" rx="1.0" ry="2.9" transform="rotate(-9 43.4 6.9)" fill="rgb(55,255,12)"/>
<ellipse cx="1.8" cy="11.9" rx="0.7" ry="2.4" transform="rotate(-1 1.8 11.9)" fill="rgb(5,100,3)"/>
<ellipse cx="5.6" cy="11.5" rx="1.0" ry="2.6" transform="rotate(-12 5.6 11.5)" fill="rgb(42,230,10)"/>
<ellipse cx="11.0" cy="9.7" rx="0.8" ry="2.2" transform="rotate(-14 11.0 9.7)" fill="rgb(7,115,4)"/>
<ellipse cx="14.5" cy="9.4" rx="0.7" ry="2.7" transform="rotate(-1 14.5 9.4)" fill="rgb(10,133,5)"/>
<ellipse cx="21.1" cy="9.4" rx="0.8" ry="2.7" transform="rotate(7 21.1 9.4)" fill="rgb(32,205,9)"/>
<ellipse cx="22.0" cy="12.1" rx="1.2" ry="2.6" transform="rotate(23 22.0 12.1)" fill="rgb(31,203,9)"/>
<ellipse cx="29.1" cy="9.5" rx="1.1" ry="3.0" transform="rotate(-3 29.1 9.5)" fill="rgb(44,234,10)"/>
<ellipse cx="32.9" cy="9.7" rx="0.8" ry="2.5" transform="rotate(-4 32.9 9.7)" fill="rgb(31,204,9)"/>
<ellipse cx="37.5" cy="10.3" rx="0.6" ry="2.6" transform="rotate(-13 37.5 10.3)" fill="rgb(10,130,5)"/>
<ellipse cx="38.2" cy="9.5" rx="1.1" ry="2.5" transform="rotate(-7 38.2 9.5)" fill="rgb(20,172,7)"/>
<ellipse cx="42.2" cy="10.6" rx="1.0" ry="3.5" transform="rotate(-12 42.2 10.6)" fill="rgb(55,255,12)"/>
<ellipse cx="1.3" cy="15.7" rx="1.1" ry="2.2" transform="rotate(-3 1.3 15.7)" fill="rgb(28,196,8)"/>
<ellipse cx="6.4" cy="15.5" rx="0.6" ry="1.7" transform="rotate(0 6.4 15.5)" fill="rgb(10,132,5)"/>
<ellipse cx="11.9" cy="14.1" rx="0.8" ry="1.7" transform="rotate(6 11.9 14.1)" fill="rgb(7,117,4)"/>
<ellipse cx="15.9" cy="13.4" rx="0.8" ry="2.0" transform="rotate(4 15.9 13.4)" fill="rgb(4,91,3)"/>
<ellipse cx="18.2" cy="14.2" rx="0.7" ry="2.2" transform="rotate(-10 18.2 14.2)" fill="rgb(18,163,6)"/>
<ellipse cx="22.5" cy="14.2" rx="0.9" ry="3.6" transform="rotate(-19 22.5 14.2)" fill="rgb(41,227,10)"/>
<ellipse cx="25.8" cy="14.3" rx="0.8" ry="1.6" transform="rotate(-4 25.8 14.3)" fill="rgb(12,140,5)"/>
<ellipse cx="32.6" cy="15.8" rx="1.1" ry="3.5" transform="rotate(-5 32.6 15.8)" fill="rgb(55,255,12)"/>
<ellipse cx="37.0" cy="15.2" rx="1.0" ry="1.7" transform="rotate(-6 37.0 15.2)" fill="rgb(13,146,6)"/>
<ellipse cx="39.4" cy="14.2" rx="0.6" ry="1.8" transform="rotate(6 39.4 14.2)" fill="rgb(10,131,5)"/>
<ellipse cx="42.3" cy="14.4" rx="1.5" ry="2.3" transform="rotate(-22 42.3 14.4)" fill="rgb(55,255,12)"/>
<ellipse cx="4.0" cy="20.6" rx="1.2" ry="2.2" transform="rotate(-16 4.0 20.6)" fill="rgb(55,255,12)"/>
<ellipse cx="7.6" cy="18.9" rx="1.0" ry="2.4" transform="rotate(-20 7.6 18.9)" fill="rgb(52,249,11)"/>
<ellipse cx="10.9" cy="18.0" rx="1.0" ry="2.8" transform="rotate(7 10.9 18.0)" fill="rgb(16,158,6)"/>
<ellipse cx="14.1" cy="18.6" rx="1.0" ry="3.0" transform="rotate(-11 14.1 18.6)" fill="rgb(55,255,12)"/>
<ellipse cx="18.3" cy="20.8" rx="1.4" ry="3.7" transform="rotate(1 18.3 20.8)" fill="rgb(55,255,12)"/>
<ellipse cx="22.2" cy="18.6" rx="0.9" ry="2.9" transform="rotate(-3 22.2 18.6)" fill="rgb(31,205,9)"/>
<ellipse cx="26.6" cy="17.2" rx="1.3" ry="3.1" transform="rotate(-12 26.6 17.2)" fill="rgb(48,243,11)"/>
<ellipse cx="32.2" cy="19.7" rx="0.8" ry="2.7" transform="rotate(-17 32.2 19.7)" fill="rgb(22,177,7)"/>
<ellipse cx="35.2" cy="19.2" rx="1.3" ry="3.3" transform="rotate(-0 35.2 19.2)" fill="rgb(55,255,12)"/>
<ellipse cx="39.0" cy="19.9" rx="0.7" ry="1.6" transform="rotate(-4 39.0 19.9)" fill="rgb(5,99,3)"/>
<ellipse cx="45.8" cy="19.3" rx="1.3" ry="2.5" transform="rotate(5 45.8 19.3)" fill="rgb(55,255,12)"/>
<ellipse cx="2.5" cy="23.4" rx="1.4" ry="3.5" transform="rotate(-20 2.5 23.4)" fill="rgb(55,255,12)"/>
<ellipse cx="9.0" cy="24.1" rx="1.3" ry="3.1" transform="rotate(9 9.0 24.1)" fill="rgb(55,255,12)"/>
<ellipse cx="10.0" cy="23.8" rx="1.0" ry="3.0" transform="rotate(-7 10.0 23.8)" fill="rgb(35,213,9)"/>
<ellipse cx="15.2" cy="23.2" rx="1.0" ry="3.1" transform="rotate(1 15.2 23.2)" fill="rgb(55,255,12)"/>
<ellipse cx="19.4" cy="23.8" rx="0.6" ry="2.5" transform="rotate(-12 19.4 23.8)" fill="rgb(6,106,4)"/>
<ellipse cx="22.5" cy="24.0" rx="1.0" ry="2.7" transform="rotate(-9 22.5 24.0)" fill="rgb(40,224,10)"/>
<ellipse cx="28.5" cy="24.1" rx="0.6" ry="2.1" transform="rotate(-5 28.5 24.1)" fill="rgb(10,132,5)"/>
<ellipse cx="33.2" cy="23.5" rx="1.0" ry="2.9" transform="rotate(6 33.2 23.5)" fill="rgb(55,255,12)"/>
<ellipse cx="34.7" cy="22.2" rx="0.8" ry="2.5" transform="rotate(5 34.7 22.2)" fill="rgb(22,178,7)"/>
<ellipse cx="40.1" cy="24.4" rx="1.1" ry="2.1" transform="rotate(-1 40.1 24.4)" fill="rgb(25,186,8)"/>
<ellipse cx="44.8" cy="21.6" rx="1.2" ry="3.8" transform="rotate(-3 44.8 21.6)" fill="rgb(55,255,12)"/>
<ellipse cx="3.0" cy="27.6" rx="1.0" ry="2.4" transform="rotate(-18 3.0 27.6)" fill="rgb(25,188,8)"/>
<ellipse cx="8.1" cy="26.0" rx="0.7" ry="2.9" transform="rotate(-3 8.1 26.0)" fill="rgb(26,190,8)"/>
<ellipse cx="9.6" cy="28.7" rx="0.8" ry="2.3" transform="rotate(1 9.6 28.7)" fill="rgb(35,213,9)"/>
<ellipse cx="14.3" cy="28.0" rx="0.8" ry="2.3" transform="rotate(-21 14.3 28.0)" fill="rgb(31,202,9)"/>
<ellipse cx="19.7" cy="28.3" rx="1.3" ry="3.7" transform="rotate(0 19.7 28.3)" fill="rgb(55,255,12)"/>
<ellipse cx="24.7" cy="26.0" rx="1.0" ry="2.8" transform="rotate(2 24.7 26.0)" fill="rgb(15,155,6)"/>
<ellipse cx="27.0" cy="27.3" rx="0.6" ry="1.5" transform="rotate(-8 27.0 27.3)" fill="rgb(4,93,3)"/>
<ellipse cx="30.7" cy="25.4" rx="1.1" ry="2.2" transform="rotate(4 30.7 25.4)" fill="rgb(55,255,12)"/>
<ellipse cx="36.4" cy="27.8" rx="1.0" ry="2.2" transform="rotate(-9 36.4 27.8)" fill="rgb(31,204,9)"/>
<ellipse cx="40.9" cy="28.4" rx="1.3" ry="3.3" transform="rotate(-3 40.9 28.4)" fill="rgb(55,255,12)"/>
<ellipse cx="44.6" cy="26.2" rx="0.7" ry="3.0" transform="rotate(-14 44.6 26.2)" fill="rgb(21,175,7)"/>
<ellipse cx="3.0" cy="30.8" rx="0.7" ry="2.2" transform="rotate(7 3.0 30.8)" fill="rgb(18,165,6)"/>
<ellipse cx="8.9" cy="31.2" rx="0.9" ry="2.8" transform="rotate(2 8.9 31.2)" fill="rgb(14,151,6)"/>
<ellipse cx="11.1" cy="31.1" rx="1.1" ry="2.1" transform="rotate(-15 11.1 31.1)" fill="rgb(25,186,8)"/>
<ellipse cx="15.7" cy="29.7" rx="1.2" ry="3.2" transform="rotate(-8 15.7 29.7)" fill="rgb(55,255,12)"/>
<ellipse cx="20.0" cy="32.2" rx="1.2" ry="2.8" transform="rotate(1 20.0 32.2)" fill="rgb(42,229,10)"/>
<ellipse cx="22.8" cy="32.3" rx="1.4" ry="3.6" transform="rotate(-12 22.8 32.3)" fill="rgb(50,246,11)"/>
<ellipse cx="27.9" cy="29.3" rx="0.9" ry="1.6" transform="rotate(-2 27.9 29.3)" fill="rgb(11,138,5)"/>
<ellipse cx="31.9" cy="31.9" rx="0.7" ry="2.1" transform="rotate(1 31.9 31.9)" fill="rgb(5,100,3)"/>
<ellipse cx="34.6" cy="32.0" rx="1.1" ry="2.4" transform="rotate(-16 34.6 32.0)" fill="rgb(36,216,9)"/>
<ellipse cx="40.4" cy="32.5" rx="1.1" ry="3.6" transform="rotate(-2 40.4 32.5)" fill="rgb(45,235,10)"/>
<ellipse cx="45.4" cy="32.4" rx="1.3" ry="3.9" transform="rotate(-8 45.4 32.4)" fill="rgb(55,255,12)"/>
<ellipse cx="3.1" cy="33.9" rx="0.7" ry="2.4" transform="rotate(-2 3.1 33.9)" fill="rgb(10,131,5)"/>
<ellipse cx="8.5" cy="34.0" rx="0.9" ry="2.6" transform="rotate(-11 8.5 34.0)" fill="rgb(13,144,5)"/>
<ellipse cx="12.3" cy="33.6" rx="1.1" ry="2.3" transform="rotate(-2 12.3 33.6)" fill="rgb(55,255,12)"/>
<ellipse cx="15.3" cy="36.4" rx="1.1" ry="4.0" transform="rotate(3 15.3 36.4)" fill="rgb(55,255,12)"/>
<ellipse cx="19.9" cy="34.3" rx="1.5" ry="3.5" transform="rotate(-5 19.9 34.3)" fill="rgb(55,255,12)"/>
<ellipse cx="23.0" cy="35.9" rx="1.1" ry="2.6" transform="rotate(-2 23.0 35.9)" fill="rgb(38,220,10)"/>
<ellipse cx="26.1" cy="36.1" rx="1.0" ry="2.6" transform="rotate(7 26.1 36.1)" fill="rgb(55,255,12)"/>
<ellipse cx="31.6" cy="36.3" rx="1.0" ry="2.9" transform="rotate(3 31.6 36.3)" fill="rgb(55,255,12)"/>
<ellipse cx="35.4" cy="34.4" rx="0.8" ry="1.7" transform="rotate(-14 35.4 34.4)" fill="rgb(13,145,5)"/>
<ellipse cx="39.3" cy="34.2" rx="1.0" ry="2.2" transform="rotate(-1 39.3 34.2)" fill="rgb(44,234,10)"/>
<ellipse cx="44.1" cy="33.5" rx="1.1" ry="3.0" transform="rotate(-6 44.1 33.5)" fill="rgb(55,255,12)"/>
<ellipse cx="1.8" cy="37.8" rx="0.6" ry="2.2" transform="rotate(-7 1.8 37.8)" fill="rgb(16,158,6)"/>
<ellipse cx="5.3" cy="38.4" rx="1.0" ry="3.8" transform="rotate(-3 5.3 38.4)" fill="rgb(51,248,11)"/>
<ellipse cx="11.0" cy="39.5" rx="0.9" ry="2.7" transform="rotate(-2 11.0 39.5)" fill="rgb(25,187,8)"/>
<ellipse cx="15.0" cy="38.1" rx="1.5" ry="2.9" transform="rotate(-4 15.0 38.1)" fill="rgb(55,255,12)"/>
<ellipse cx="17.7" cy="40.1" rx="0.7" ry="2.1" transform="rotate(6 17.7 40.1)" fill="rgb(14,147,6)"/>
<ellipse cx="23.8" cy="38.3" rx="1.0" ry="3.0" transform="rotate(4 23.8 38.3)" fill="rgb(51,247,11)"/>
<ellipse cx="26.9" cy="38.4" rx="0.8" ry="1.7" transform="rotate(-6 26.9 38.4)" fill="rgb(15,154,6)"/>
<ellipse cx="30.7" cy="38.1" rx="0.8" ry="3.1" transform="rotate(-11 30.7 38.1)" fill="rgb(45,235,10)"/>
<ellipse cx="35.7" cy="38.1" rx="1.2" ry="2.9" transform="rotate(-0 35.7 38.1)" fill="rgb(55,255,12)"/>
<ellipse cx="39.2" cy="38.2" rx="0.8" ry="2.0" transform="rotate(-6 39.2 38.2)" fill="rgb(17,162,6)"/>
<ellipse cx="43.6" cy="39.3" rx="0.5" ry="1.5" transform="rotate(-1 43.6 39.3)" fill="rgb(4,97,3)"/>
<ellipse cx="8.4" cy="43.1" rx="0.9" ry="3.9" transform="rotate(1 8.4 43.1)" fill="rgb(52,250,11)"/>
<ellipse cx="11.9" cy="43.4" rx="0.9" ry="2.3" transform="rotate(-7 11.9 43.4)" fill="rgb(17,159,6)"/>
<ellipse cx="14.8" cy="42.5" rx="1.4" ry="3.1" transform="rotate(10 14.8 42.5)" fill="rgb(55,255,12)"/>
<ellipse cx="18.2" cy="44.4" rx="1.2" ry="2.3" transform="rotate(-0 18.2 44.4)" fill="rgb(55,255,12)"/>
<ellipse cx="22.8" cy="42.3" rx="1.1" ry="2.4" transform="rotate(-11 22.8 42.3)" fill="rgb(42,230,10)"/>
<ellipse cx="25.9" cy="41.6" rx="1.3" ry="2.7" transform="rotate(7 25.9 41.6)" fill="rgb(55,255,12)"/>
<ellipse cx="31.4" cy="42.5" rx="1.3" ry="3.4" transform="rotate(-10 31.4 42.5)" fill="rgb(36,216,9)"/>
<ellipse cx="36.2" cy="42.5" rx="1.3" ry="2.7" transform="rotate(-9 36.2 42.5)" fill="rgb(55,255,12)"/>
<ellipse cx="40.4" cy="43.9" rx="1.4" ry="2.5" transform="rotate(-11 40.4 43.9)" fill="rgb(55,255,12)"/>
<ellipse cx="42.2" cy="44.3" rx="1.0" ry="2.8" transform="rotate(-1 42.2 44.3)" fill="rgb(51,248,11)"/>
<ellipse cx="15.6" cy="32.5" rx="0.8" ry="1.2" fill="rgb(10,230,8)" fill-opacity="0.9"/>
<ellipse cx="35.7" cy="29.6" rx="0.8" ry="1.1" fill="rgb(10,195,8)" fill-opacity="0.9"/>
<ellipse cx="39.3" cy="35.4" rx="1.0" ry="1.4" fill="rgb(10,217,8)" fill-opacity="0.9"/>
<ellipse cx="42.7" cy="33.7" rx="1.0" ry="1.4" fill="rgb(10,230,8)" fill-opacity="0.9"/>
<ellipse cx="11.7" cy="33.6" rx="0.7" ry="1.0" fill="rgb(10,230,8)" fill-opacity="0.9"/>
<ellipse cx="30.0" cy="34.2" rx="1.0" ry="1.4" fill="rgb(10,230,8)" fill-opacity="0.9"/>
<ellipse cx="8.9" cy="42.3" rx="0.7" ry="1.0" fill="rgb(10,230,8)" fill-opacity="0.9"/>
<ellipse cx="29.7" cy="3.7" rx="0.7" ry="1.0" fill="rgb(10,230,8)" fill-opacity="0.9"/>
<ellipse cx="23.9" cy="23.3" rx="0.9" ry="1.2" fill="rgb(10,230,8)" fill-opacity="0.9"/>
<ellipse cx="43.3" cy="23.1" rx="0.9" ry="1.2" fill="rgb(10,230,8)" fill-opacity="0.9"/>
</g></svg>
<rect x="40" y="473" width="47" height="47" fill="#000"/>
<rect x="41" y="474" width="45" height="45" fill="#030b03"/>
<svg x="40" y="473" width="47" height="47" overflow="hidden"><g filter="url(#bl)">
<ellipse cx="44.9" cy="42.2" rx="0.9" ry="1.3" fill="rgb(10,34,8)" fill-opacity="0.9"/>
<ellipse cx="39.2" cy="10.5" rx="0.6" ry="0.8" fill="rgb(10,34,8)" fill-opacity="0.9"/>
<ellipse cx="4.2" cy="19.6" rx="0.5" ry="0.7" fill="rgb(10,33,8)" fill-opacity="0.9"/>
<ellipse cx="20.1" cy="24.9" rx="0.9" ry="1.3" fill="rgb(10,38,8)" fill-opacity="0.9"/>
<ellipse cx="17.5" cy="15.3" rx="0.7" ry="1.0" fill="rgb(10,38,8)" fill-opacity="0.9"/>
<ellipse cx="34.5" cy="14.8" rx="0.7" ry="0.9" fill="rgb(10,35,8)" fill-opacity="0.9"/>
<ellipse cx="42.1" cy="16.7" rx="0.9" ry="1.2" fill="rgb(10,35,8)" fill-opacity="0.9"/>
<ellipse cx="32.8" cy="4.5" rx="0.8" ry="1.2" fill="rgb(10,36,8)" fill-opacity="0.9"/>
</g></svg>
<rect x="89" y="473" width="46" height="47" fill="#000"/>
<rect x="90" y="474" width="44" height="45" fill="#030b03"/>
<svg x="89" y="473" width="46" height="47" overflow="hidden"><g filter="url(#bl)">
<ellipse cx="16.1" cy="16.6" rx="0.6" ry="0.9" fill="rgb(10,37,8)" fill-opacity="0.9"/>
<ellipse cx="37.9" cy="21.2" rx="0.9" ry="1.3" fill="rgb(10,40,8)" fill-opacity="0.9"/>
<ellipse cx="5.8" cy="23.4" rx="0.7" ry="1.0" fill="rgb(10,36,8)" fill-opacity="0.9"/>
<ellipse cx="12.6" cy="11.5" rx="0.9" ry="1.3" fill="rgb(10,39,8)" fill-opacity="0.9"/>
<ellipse cx="7.9" cy="2.7" rx="0.8" ry="1.1" fill="rgb(10,37,8)" fill-opacity="0.9"/>
<ellipse cx="12.7" cy="1.8" rx="0.9" ry="1.2" fill="rgb(10,39,8)" fill-opacity="0.9"/>
<ellipse cx="24.1" cy="20.7" rx="0.9" ry="1.2" fill="rgb(10,36,8)" fill-opacity="0.9"/>
<ellipse cx="43.4" cy="43.9" rx="0.7" ry="1.0" fill="rgb(10,42,8)" fill-opacity="0.9"/>
<ellipse cx="44.2" cy="22.7" rx="1.0" ry="1.3" fill="rgb(10,38,8)" fill-opacity="0.9"/>
</g></svg>
<rect x="137" y="473" width="47" height="47" fill="#000"/>
<rect x="138" y="474" width="45" height="45" fill="#030b03"/>
<svg x="137" y="473" width="47" height="47" overflow="hidden"><g filter="url(#bl)">
<ellipse cx="7.2" cy="35.2" rx="0.6" ry="0.9" fill="rgb(10,57,8)" fill-opacity="0.9"/>
<ellipse cx="13.5" cy="14.9" rx="1.0" ry="1.4" fill="rgb(10,47,8)" fill-opacity="0.9"/>
<ellipse cx="23.0" cy="34.3" rx="0.9" ry="1.3" fill="rgb(10,45,8)" fill-opacity="0.9"/>
<ellipse cx="26.9" cy="25.1" rx="0.9" ry="1.2" fill="rgb(10,61,8)" fill-opacity="0.9"/>
<ellipse cx="4.9" cy="11.3" rx="0.6" ry="0.8" fill="rgb(10,47,8)" fill-opacity="0.9"/>
<ellipse cx="3.9" cy="32.4" rx="0.9" ry="1.3" fill="rgb(10,57,8)" fill-opacity="0.9"/>
<ellipse cx="20.0" cy="33.2" rx="1.0" ry="1.4" fill="rgb(10,53,8)" fill-opacity="0.9"/>
<ellipse cx="21.2" cy="30.5" rx="0.9" ry="1.3" fill="rgb(10,58,8)" fill-opacity="0.9"/>
<ellipse cx="14.7" cy="16.2" rx="0.9" ry="1.2" fill="rgb(10,46,8)" fill-opacity="0.9"/>
<ellipse cx="33.5" cy="22.5" rx="1.0" ry="1.4" fill="rgb(10,62,8)" fill-opacity="0.9"/>
<ellipse cx="21.6" cy="32.8" rx="0.9" ry="1.3" fill="rgb(10,60,8)" fill-opacity="0.9"/>
<ellipse cx="28.4" cy="2.5" rx="0.9" ry="1.2" fill="rgb(10,61,8)" fill-opacity="0.9"/>
<ellipse cx="25.4" cy="15.9" rx="0.5" ry="0.7" fill="rgb(10,45,8)" fill-opacity="0.9"/>
<ellipse cx="10.5" cy="27.5" rx="0.8" ry="1.1" fill="rgb(10,64,8)" fill-opacity="0.9"/>
<ellipse cx="24.7" cy="6.7" rx="0.7" ry="0.9" fill="rgb(10,54,8)" fill-opacity="0.9"/>
<ellipse cx="40.8" cy="26.6" rx="0.9" ry="1.3" fill="rgb(10,57,8)" fill-opacity="0.9"/>
<ellipse cx="3.2" cy="12.2" rx="0.8" ry="1.2" fill="rgb(10,45,8)" fill-opacity="0.9"/>
<ellipse cx="31.4" cy="31.6" rx="0.7" ry="0.9" fill="rgb(10,48,8)" fill-opacity="0.9"/>
<ellipse cx="28.2" cy="29.1" rx="1.0" ry="1.4" fill="rgb(10,59,8)" fill-opacity="0.9"/>
<ellipse cx="35.6" cy="40.6" rx="0.9" ry="1.2" fill="rgb(10,61,8)" fill-opacity="0.9"/>
</g></svg>
<rect x="185" y="473" width="47" height="47" fill="#000"/>
<rect x="186" y="474" width="45" height="45" fill="#030b03"/>
<svg x="185" y="473" width="47" height="47" overflow="hidden"><g filter="url(#bl)">
<ellipse cx="42.0" cy="38.1" rx="0.8" ry="1.1" fill="rgb(10,107,8)" fill-opacity="0.9"/>
<ellipse cx="44.3" cy="28.8" rx="0.9" ry="1.3" fill="rgb(10,94,8)" fill-opacity="0.9"/>
<ellipse cx="37.6" cy="4.5" rx="0.7" ry="0.9" fill="rgb(10,110,8)" fill-opacity="0.9"/>
<ellipse cx="27.4" cy="33.7" rx="0.8" ry="1.1" fill="rgb(10,102,8)" fill-opacity="0.9"/>
<ellipse cx="42.1" cy="31.8" rx="0.6" ry="0.9" fill="rgb(10,76,8)" fill-opacity="0.9"/>
<ellipse cx="30.7" cy="18.9" rx="0.9" ry="1.3" fill="rgb(10,80,8)" fill-opacity="0.9"/>
<ellipse cx="21.7" cy="4.0" rx="0.9" ry="1.2" fill="rgb(10,69,8)" fill-opacity="0.9"/>
<ellipse cx="10.5" cy="6.0" rx="0.9" ry="1.2" fill="rgb(10,79,8)" fill-opacity="0.9"/>
<ellipse cx="1.8" cy="38.7" rx="0.7" ry="0.9" fill="rgb(10,107,8)" fill-opacity="0.9"/>
<ellipse cx="23.0" cy="36.3" rx="0.7" ry="1.0" fill="rgb(10,84,8)" fill-opacity="0.9"/>
<ellipse cx="15.7" cy="22.8" rx="0.8" ry="1.1" fill="rgb(10,116,8)" fill-opacity="0.9"/>
<ellipse cx="16.9" cy="30.8" rx="0.9" ry="1.3" fill="rgb(10,88,8)" fill-opacity="0.9"/>
<ellipse cx="20.2" cy="4.8" rx="1.0" ry="1.3" fill="rgb(10,80,8)" fill-opacity="0.9"/>
<ellipse cx="42.9" cy="39.1" rx="0.9" ry="1.2" fill="rgb(10,73,8)" fill-opacity="0.9"/>
<ellipse cx="22.5" cy="7.7" rx="0.8" ry="1.1" fill="rgb(10,69,8)" fill-opacity="0.9"/>
<ellipse cx="5.1" cy="23.5" rx="0.7" ry="1.0" fill="rgb(10,108,8)" fill-opacity="0.9"/>
<ellipse cx="41.2" cy="21.7" rx="0.6" ry="0.8" fill="rgb(10,107,8)" fill-opacity="0.9"/>
<ellipse cx="24.6" cy="15.9" rx="1.0" ry="1.4" fill="rgb(10,109,8)" fill-opacity="0.9"/>
<ellipse cx="38.1" cy="28.1" rx="0.7" ry="1.0" fill="rgb(10,93,8)" fill-opacity="0.9"/>
<ellipse cx="35.6" cy="45.2" rx="0.6" ry="0.8" fill="rgb(10,80,8)" fill-opacity="0.9"/>
<ellipse cx="8.2" cy="1.9" rx="0.9" ry="1.3" fill="rgb(10,114,8)" fill-opacity="0.9"/>
<ellipse cx="38.2" cy="9.7" rx="0.8" ry="1.1" fill="rgb(10,115,8)" fill-opacity="0.9"/>
<ellipse cx="39.0" cy="14.1" rx="0.9" ry="1.2" fill="rgb(10,103,8)" fill-opacity="0.9"/>
<ellipse cx="30.0" cy="37.0" rx="0.7" ry="1.0" fill="rgb(10,104,8)" fill-opacity="0.9"/>
<ellipse cx="27.3" cy="39.4" rx="0.8" ry="1.1" fill="rgb(10,110,8)" fill-opacity="0.9"/>
<ellipse cx="45.1" cy="33.9" rx="0.6" ry="0.8" fill="rgb(10,111,8)" fill-opacity="0.9"/>
<ellipse cx="21.0" cy="8.9" rx="0.9" ry="1.2" fill="rgb(10,103,8)" fill-opacity="0.9"/>
<ellipse cx="5.1" cy="37.4" rx="0.9" ry="1.2" fill="rgb(10,107,8)" fill-opacity="0.9"/>
<ellipse cx="39.3" cy="45.5" rx="0.9" ry="1.3" fill="rgb(10,107,8)" fill-opacity="0.9"/>
<ellipse cx="39.0" cy="42.2" rx="0.8" ry="1.2" fill="rgb(10,69,8)" fill-opacity="0.9"/>
<ellipse cx="2.7" cy="29.1" rx="0.8" ry="1.2" fill="rgb(10,108,8)" fill-opacity="0.9"/>
<ellipse cx="40.2" cy="13.0" rx="1.0" ry="1.4" fill="rgb(10,110,8)" fill-opacity="0.9"/>
<ellipse cx="28.6" cy="32.2" rx="0.6" ry="0.9" fill="rgb(10,105,8)" fill-opacity="0.9"/>
<ellipse cx="2.8" cy="20.0" rx="0.9" ry="1.2" fill="rgb(10,112,8)" fill-opacity="0.9"/>
<ellipse cx="35.0" cy="8.4" rx="0.8" ry="1.1" fill="rgb(10,65,8)" fill-opacity="0.9"/>
<ellipse cx="38.8" cy="10.4" rx="0.8" ry="1.1" fill="rgb(10,71,8)" fill-opacity="0.9"/>
<ellipse cx="42.4" cy="21.1" rx="0.9" ry="1.2" fill="rgb(10,90,8)" fill-opacity="0.9"/>
<ellipse cx="40.6" cy="14.4" rx="0.7" ry="1.0" fill="rgb(10,62,8)" fill-opacity="0.9"/>
<ellipse cx="23.3" cy="34.5" rx="0.9" ry="1.2" fill="rgb(10,98,8)" fill-opacity="0.9"/>
<ellipse cx="18.5" cy="9.6" rx="0.7" ry="1.0" fill="rgb(10,105,8)" fill-opacity="0.9"/>
<ellipse cx="15.7" cy="27.1" rx="0.5" ry="0.7" fill="rgb(10,75,8)" fill-opacity="0.9"/>
<ellipse cx="8.1" cy="33.5" rx="0.6" ry="0.9" fill="rgb(10,116,8)" fill-opacity="0.9"/>
<ellipse cx="25.5" cy="43.7" rx="0.5" ry="0.7" fill="rgb(10,96,8)" fill-opacity="0.9"/>
<ellipse cx="42.8" cy="5.2" rx="0.9" ry="1.3" fill="rgb(10,108,8)" fill-opacity="0.9"/>
</g></svg>
<text x="7.00" y="17.60" font-size="11.5" text-anchor="start" font-weight="bold" fill="#000" >A</text>
<text x="7.20" y="185.80" font-size="11.5" text-anchor="start" font-weight="bold" fill="#000" >B</text>
<text x="6.80" y="359.00" font-size="11.5" text-anchor="start" font-weight="bold" fill="#000" >C</text>
<text x="62.10" y="31.10" font-size="8.3" text-anchor="middle" font-weight="normal" fill="#111" stroke="#111" stroke-width="0.18" >30 s</text>
<text x="110.20" y="33.00" font-size="8.3" text-anchor="middle" font-weight="normal" fill="#111" stroke="#111" stroke-width="0.18" >60 s</text>
<text x="158.50" y="32.90" font-size="8.3" text-anchor="middle" font-weight="normal" fill="#111" stroke="#111" stroke-width="0.18" >150 s</text>
<text x="206.00" y="31.10" font-size="8.3" text-anchor="middle" font-weight="normal" fill="#111" stroke="#111" stroke-width="0.18" >300 s</text>
<text x="62.10" y="199.60" font-size="8.3" text-anchor="middle" font-weight="normal" fill="#111" stroke="#111" stroke-width="0.18" >30 s</text>
<text x="110.70" y="199.60" font-size="8.3" text-anchor="middle" font-weight="normal" fill="#111" stroke="#111" stroke-width="0.18" >60 s</text>
<text x="155.80" y="199.60" font-size="8.3" text-anchor="middle" font-weight="normal" fill="#111" stroke="#111" stroke-width="0.18" >150 s</text>
<text x="205.80" y="199.60" font-size="8.3" text-anchor="middle" font-weight="normal" fill="#111" stroke="#111" stroke-width="0.18" >300 s</text>
<text x="62.30" y="372.00" font-size="8.3" text-anchor="middle" font-weight="normal" fill="#111" stroke="#111" stroke-width="0.18" >30 s</text>
<text x="110.50" y="372.00" font-size="8.3" text-anchor="middle" font-weight="normal" fill="#111" stroke="#111" stroke-width="0.18" >60 s</text>
<text x="155.80" y="372.00" font-size="8.3" text-anchor="middle" font-weight="normal" fill="#111" stroke="#111" stroke-width="0.18" >150 s</text>
<text x="206.00" y="372.00" font-size="8.3" text-anchor="middle" font-weight="normal" fill="#111" stroke="#111" stroke-width="0.18" >300 s</text>
<text x="10.00" y="62.60" font-size="8.3" text-anchor="start" font-weight="normal" fill="#111" stroke="#111" stroke-width="0.18" >DMSO</text>
<text x="9.80" y="105.60" font-size="8.3" text-anchor="start" font-weight="normal" fill="#111" stroke="#111" stroke-width="0.18" >500 nM</text>
<text x="9.80" y="152.50" font-size="8.3" text-anchor="start" font-weight="normal" fill="#111" stroke="#111" stroke-width="0.18" >5 &#181;M</text>
<text x="8.40" y="228.80" font-size="8.3" text-anchor="start" font-weight="normal" fill="#111" stroke="#111" stroke-width="0.18" >DMSO</text>
<text x="8.20" y="272.20" font-size="8.3" text-anchor="start" font-weight="normal" fill="#111" stroke="#111" stroke-width="0.18" >250 nM</text>
<text x="9.00" y="319.20" font-size="8.3" text-anchor="start" font-weight="normal" fill="#111" stroke="#111" stroke-width="0.18" >1 &#181;M</text>
<text x="9.80" y="396.20" font-size="8.3" text-anchor="start" font-weight="normal" fill="#111" stroke="#111" stroke-width="0.18" >DMSO</text>
<text x="6.90" y="442.50" font-size="8.3" text-anchor="start" font-weight="normal" fill="#111" stroke="#111" stroke-width="0.18" >250 nM</text>
<text x="17.30" y="489.20" font-size="8.3" text-anchor="start" font-weight="normal" fill="#111" stroke="#111" stroke-width="0.18" >1 &#181;M</text>
<polygon points="292.30,156.17 293.22,156.07 294.13,156.29 295.05,155.78 295.97,155.38 296.88,154.90 297.80,154.89 298.72,154.85 299.63,154.71 300.55,154.52 301.47,154.44 302.38,154.24 303.30,154.34 304.22,154.06 305.13,153.86 306.05,153.49 306.97,153.48 307.88,153.28 308.80,153.33 309.72,152.94 310.63,152.77 311.55,152.12 312.47,151.74 313.38,151.47 314.30,150.94 315.22,150.23 316.13,149.87 317.05,149.82 317.96,149.95 318.88,149.09 319.80,148.33 320.71,147.07 321.63,146.25 322.55,145.39 323.46,144.69 324.38,144.00 325.30,143.24 326.21,143.03 327.13,142.62 328.05,142.27 328.96,141.29 329.88,140.89 330.80,140.67 331.71,140.65 332.63,139.88 333.55,139.26 334.46,138.45 335.38,138.48 336.30,137.66 337.21,137.15 338.13,136.50 339.05,136.13 339.96,135.53 340.88,134.64 341.80,133.88 342.71,133.05 343.63,132.41 344.55,132.07 345.46,132.11 346.38,131.44 347.30,130.82 348.21,130.11 349.13,129.67 350.05,128.90 350.96,128.52 351.88,128.26 352.80,128.36 353.71,127.32 354.63,126.41 355.55,125.00 356.46,124.70 357.38,124.31 358.30,123.98 359.21,123.43 360.13,122.98 361.05,122.47 361.96,121.22 362.88,120.03 363.79,118.90 364.71,118.55 365.63,117.98 366.54,117.06 367.46,116.22 368.38,115.43 369.29,114.92 370.21,114.41 371.13,113.47 372.04,112.45 372.96,111.73 373.88,110.71 374.79,110.45 375.71,109.59 376.63,109.56 377.54,108.84 378.46,108.27 379.38,107.56 380.29,107.08 381.21,106.66 382.13,106.16 383.04,105.79 383.96,105.08 384.88,104.15 385.79,102.91 386.71,102.09 387.63,100.96 388.54,100.54 389.46,100.26 390.38,99.85 391.29,99.65 392.21,98.68 393.13,98.90 394.04,97.93 394.96,98.19 395.88,96.88 396.79,96.24 397.71,95.16 398.63,94.15 399.54,93.09 400.46,92.01 401.38,91.93 402.29,91.38 403.21,90.66 404.13,89.59 405.04,88.70 405.96,88.22 406.88,87.98 407.79,87.75 408.71,87.34 409.62,86.72 410.54,85.96 411.46,84.70 412.37,83.47 413.29,83.06 414.21,82.47 415.12,82.37 416.04,80.77 416.96,80.27 417.87,79.28 418.79,79.57 419.71,79.13 420.62,78.55 421.54,77.68 422.46,76.61 423.37,76.51 424.29,75.48 425.21,75.22 426.12,73.36 427.04,72.92 427.96,71.48 428.87,71.31 428.87,81.86 427.96,82.00 427.04,82.54 426.12,83.38 425.21,84.15 424.29,84.70 423.37,85.53 422.46,86.26 421.54,86.71 420.62,87.90 419.71,88.56 418.79,89.00 417.87,89.83 416.96,90.36 416.04,91.11 415.12,91.63 414.21,92.20 413.29,92.88 412.37,93.27 411.46,93.99 410.54,94.57 409.62,95.19 408.71,95.49 407.79,96.38 406.88,96.89 405.96,96.81 405.04,97.71 404.13,98.85 403.21,99.25 402.29,99.27 401.38,100.00 400.46,100.88 399.54,101.18 398.63,101.97 397.71,102.41 396.79,102.98 395.88,103.40 394.96,104.16 394.04,104.66 393.13,105.38 392.21,105.83 391.29,106.06 390.38,107.21 389.46,107.66 388.54,107.99 387.63,108.40 386.71,109.06 385.79,109.77 384.88,110.15 383.96,111.04 383.04,111.47 382.13,112.40 381.21,112.75 380.29,113.39 379.38,114.39 378.46,114.40 377.54,115.25 376.63,115.83 375.71,116.38 374.79,116.88 373.88,117.66 372.96,118.37 372.04,119.16 371.13,119.99 370.21,120.46 369.29,121.13 368.38,122.13 367.46,122.76 366.54,122.97 365.63,123.41 364.71,124.32 363.79,125.08 362.88,126.16 361.96,126.78 361.05,127.38 360.13,128.32 359.21,128.79 358.30,129.64 357.38,130.11 356.46,130.39 355.55,131.13 354.63,132.04 353.71,132.16 352.80,132.82 351.88,133.51 350.96,133.95 350.05,134.75 349.13,135.18 348.21,135.40 347.30,135.89 346.38,136.41 345.46,137.04 344.55,137.26 343.63,137.55 342.71,138.36 341.80,138.46 340.88,139.16 339.96,139.39 339.05,140.22 338.13,140.56 337.21,141.01 336.30,141.61 335.38,142.37 334.46,142.76 333.55,143.19 332.63,143.67 331.71,144.26 330.80,144.54 329.88,145.10 328.96,145.59 328.05,145.75 327.13,146.13 326.21,146.86 325.30,147.05 324.38,147.30 323.46,147.85 322.55,148.13 321.63,149.11 320.71,149.79 319.80,149.74 318.88,150.45 317.96,150.81 317.05,151.29 316.13,151.61 315.22,152.29 314.30,152.80 313.38,152.49 312.47,152.80 311.55,153.45 310.63,153.76 309.72,154.08 308.80,154.45 307.88,154.63 306.97,154.84 306.05,155.01 305.13,155.48 304.22,155.70 303.30,156.08 302.38,156.11 301.47,156.48 300.55,156.52 299.63,156.60 298.72,156.65 297.80,156.95 296.88,156.86 295.97,156.87 295.05,157.36 294.13,157.15 293.22,157.16 292.30,157.33" fill="#cbcbcb" fill-opacity="1.0" stroke="none"/>
<polyline points="292.30,156.22 293.22,157.98 294.13,156.70 295.05,157.02 295.97,156.89 296.88,156.72 297.80,157.37 298.72,156.56 299.63,156.74 300.55,154.93 301.47,156.13 302.38,156.29 303.30,156.18 304.22,156.26 305.13,156.35 306.05,155.99 306.97,155.53 307.88,155.76 308.80,155.17 309.72,155.58 310.63,155.41 311.55,154.66 312.47,155.02 313.38,155.39 314.30,155.17 315.22,154.77 316.13,154.08 317.05,154.97 317.96,154.88 318.88,154.24 319.80,155.01 320.71,154.47 321.63,153.67 322.55,153.54 323.46,153.50 324.38,152.96 325.30,154.37 326.21,152.25 327.13,152.95 328.05,153.05 328.96,151.81 329.88,151.33 330.80,151.65 331.71,151.71 332.63,150.88 333.55,150.65 334.46,149.61 335.38,149.69 336.30,149.72 337.21,148.95 338.13,149.41 339.05,149.55 339.96,148.43 340.88,148.17 341.80,148.36 342.71,148.42 343.63,147.57 344.55,148.91 345.46,146.76 346.38,146.61 347.30,147.63 348.21,146.34 349.13,146.70 350.05,145.37 350.96,146.86 351.88,145.89 352.80,144.59 353.71,144.04 354.63,145.94 355.55,144.61 356.46,143.81 357.38,144.18 358.30,142.46 359.21,144.08 360.13,142.78 361.05,143.49 361.96,141.55 362.88,142.28 363.79,142.28 364.71,142.98 365.63,140.32 366.54,140.72 367.46,140.47 368.38,139.93 369.29,140.25 370.21,140.72 371.13,140.59 372.04,140.35 372.96,138.47 373.88,140.35 374.79,139.45 375.71,138.99 376.63,138.32 377.54,137.79 378.46,138.96 379.38,139.09 380.29,137.49 381.21,136.26 382.13,136.37 383.04,136.55 383.96,136.73 384.88,135.98 385.79,136.17 386.71,135.04 387.63,136.13 388.54,135.10 389.46,135.05 390.38,134.24 391.29,134.25 392.21,131.99 393.13,132.63 394.04,132.36 394.96,135.18 395.88,133.44 396.79,133.42 397.71,132.15 398.63,134.40 399.54,131.04 400.46,130.88 401.38,132.76 402.29,132.21 403.21,131.80 404.13,130.76 405.04,129.95 405.96,128.37 406.88,130.21 407.79,129.04 408.71,129.35 409.62,127.56 410.54,128.27 411.46,127.40 412.37,129.51 413.29,128.39 414.21,128.74 415.12,126.20 416.04,126.77 416.96,127.47 417.87,127.36 418.79,126.16 419.71,127.10 420.62,127.07 421.54,125.30 422.46,122.91 423.37,125.37 424.29,125.36 425.21,125.67 426.12,125.52 427.04,123.21 427.96,122.52 428.87,123.09" fill="none" stroke="#d6d6d6" stroke-width="1.0" stroke-linejoin="round" stroke-opacity="1.0"/>
<polygon points="292.30,154.72 293.22,154.48 294.13,153.74 295.05,152.57 295.97,152.11 296.88,152.12 297.80,152.48 298.72,152.02 299.63,151.00 300.55,150.39 301.47,150.88 302.38,151.62 303.30,150.90 304.22,150.14 305.13,150.20 306.05,150.62 306.97,150.91 307.88,150.26 308.80,150.18 309.72,149.78 310.63,149.08 311.55,148.67 312.47,148.39 313.38,148.21 314.30,147.61 315.22,147.80 316.13,147.81 317.05,148.30 317.96,147.43 318.88,147.60 319.80,146.92 320.71,146.63 321.63,145.98 322.55,146.21 323.46,146.13 324.38,146.25 325.30,146.15 326.21,145.64 327.13,145.41 328.05,144.04 328.96,143.57 329.88,143.73 330.80,143.89 331.71,144.49 332.63,143.31 333.55,143.18 334.46,143.35 335.38,143.20 336.30,143.04 337.21,141.33 338.13,141.47 339.05,140.68 339.96,141.38 340.88,140.59 341.80,141.01 342.71,139.37 343.63,138.54 344.55,136.49 345.46,136.51 346.38,135.98 347.30,136.43 348.21,136.71 349.13,136.82 350.05,136.17 350.96,135.69 351.88,135.18 352.80,135.57 353.71,134.64 354.63,134.58 355.55,134.29 356.46,134.13 357.38,133.50 358.30,133.54 359.21,132.80 360.13,133.25 361.05,133.12 361.96,134.09 362.88,132.42 363.79,131.59 364.71,131.07 365.63,131.99 366.54,131.14 367.46,130.82 368.38,130.53 369.29,130.03 370.21,129.75 371.13,128.77 372.04,128.79 372.96,127.93 373.88,127.38 374.79,126.12 375.71,125.79 376.63,126.20 377.54,127.93 378.46,127.35 379.38,126.37 380.29,124.58 381.21,124.37 382.13,124.08 383.04,124.38 383.96,124.04 384.88,123.23 385.79,122.73 386.71,122.02 387.63,120.51 388.54,119.63 389.46,120.55 390.38,120.39 391.29,120.21 392.21,119.48 393.13,119.81 394.04,119.78 394.96,119.27 395.88,120.04 396.79,120.44 397.71,119.59 398.63,117.96 399.54,117.10 400.46,116.45 401.38,115.47 402.29,115.79 403.21,115.55 404.13,116.88 405.04,116.40 405.96,117.11 406.88,116.59 407.79,115.11 408.71,114.42 409.62,114.06 410.54,113.52 411.46,112.55 412.37,111.59 413.29,111.49 414.21,111.03 415.12,110.04 416.04,109.69 416.96,109.78 417.87,110.49 418.79,111.56 419.71,111.74 420.62,111.47 421.54,110.11 422.46,108.47 423.37,109.04 424.29,110.71 425.21,110.31 426.12,109.16 427.04,108.58 427.96,108.81 428.87,109.50 428.87,115.80 427.96,116.19 427.04,117.27 426.12,117.42 425.21,117.49 424.29,117.08 423.37,116.62 422.46,115.98 421.54,116.64 420.62,116.51 419.71,117.55 418.79,118.60 417.87,120.03 416.96,120.71 416.04,119.07 415.12,118.35 414.21,117.76 413.29,117.71 412.37,118.35 411.46,118.87 410.54,118.91 409.62,118.69 408.71,118.57 407.79,119.72 406.88,119.44 405.96,118.87 405.04,119.21 404.13,120.80 403.21,121.47 402.29,122.74 401.38,122.77 400.46,124.45 399.54,123.85 398.63,123.81 397.71,123.82 396.79,124.24 395.88,124.88 394.96,125.01 394.04,125.22 393.13,125.11 392.21,126.16 391.29,126.22 390.38,127.40 389.46,126.58 388.54,126.91 387.63,126.53 386.71,126.66 385.79,127.16 384.88,127.84 383.96,128.72 383.04,128.78 382.13,128.57 381.21,128.84 380.29,129.37 379.38,129.68 378.46,130.44 377.54,130.87 376.63,132.32 375.71,132.70 374.79,133.71 373.88,134.18 372.96,134.25 372.04,134.23 371.13,133.51 370.21,134.24 369.29,133.32 368.38,133.77 367.46,133.74 366.54,135.51 365.63,136.98 364.71,137.96 363.79,137.96 362.88,137.83 361.96,137.03 361.05,137.37 360.13,136.62 359.21,137.85 358.30,138.12 357.38,138.38 356.46,138.75 355.55,139.34 354.63,140.00 353.71,140.24 352.80,140.17 351.88,140.97 350.96,140.88 350.05,140.96 349.13,141.07 348.21,141.18 347.30,141.85 346.38,142.55 345.46,142.72 344.55,143.58 343.63,143.54 342.71,144.35 341.80,144.38 340.88,145.30 339.96,145.50 339.05,145.76 338.13,145.90 337.21,145.67 336.30,145.91 335.38,146.11 334.46,147.20 333.55,147.63 332.63,147.96 331.71,148.21 330.80,147.92 329.88,147.73 328.96,147.80 328.05,148.52 327.13,149.25 326.21,149.13 325.30,148.81 324.38,148.69 323.46,148.90 322.55,149.83 321.63,150.03 320.71,150.62 319.80,151.00 318.88,151.08 317.96,151.47 317.05,151.13 316.13,152.08 315.22,151.67 314.30,151.91 313.38,151.53 312.47,152.32 311.55,152.68 310.63,153.22 309.72,153.34 308.80,153.09 307.88,153.57 306.97,153.12 306.05,153.99 305.13,153.58 304.22,154.27 303.30,153.71 302.38,153.98 301.47,154.20 300.55,155.19 299.63,155.41 298.72,155.82 297.80,155.63 296.88,156.36 295.97,156.35 295.05,156.27 294.13,156.24 293.22,156.84 292.30,157.52" fill="#f4adab" fill-opacity="0.8" stroke="none"/>
<polygon points="292.30,155.97 293.22,155.98 294.13,156.18 295.05,156.34 295.97,156.49 296.88,156.12 297.80,155.47 298.72,155.24 299.63,155.38 300.55,155.57 301.47,155.22 302.38,154.91 303.30,155.29 304.22,155.34 305.13,155.07 306.05,155.13 306.97,155.13 307.88,155.85 308.80,155.69 309.72,156.02 310.63,155.33 311.55,155.18 312.47,154.34 313.38,154.06 314.30,153.56 315.22,154.37 316.13,154.36 317.05,154.07 317.96,152.91 318.88,153.01 319.80,152.92 320.71,153.01 321.63,152.45 322.55,151.59 323.46,151.22 324.38,150.63 325.30,150.35 326.21,149.88 327.13,149.52 328.05,149.44 328.96,148.80 329.88,148.86 330.80,148.50 331.71,147.59 332.63,147.34 333.55,146.62 334.46,146.76 335.38,146.04 336.30,145.27 337.21,144.70 338.13,144.65 339.05,145.23 339.96,145.05 340.88,144.32 341.80,143.77 342.71,143.79 343.63,143.12 344.55,142.49 345.46,142.49 346.38,142.43 347.30,141.98 348.21,141.25 349.13,141.58 350.05,141.29 350.96,141.12 351.88,139.74 352.80,138.53 353.71,138.76 354.63,139.28 355.55,139.20 356.46,139.21 357.38,138.70 358.30,138.76 359.21,136.70 360.13,135.74 361.05,135.55 361.96,136.12 362.88,136.32 363.79,135.00 364.71,134.72 365.63,134.41 366.54,134.71 367.46,134.18 368.38,133.76 369.29,134.20 370.21,133.73 371.13,133.47 372.04,131.73 372.96,130.92 373.88,130.25 374.79,130.13 375.71,130.49 376.63,129.60 377.54,129.77 378.46,128.84 379.38,129.93 380.29,129.35 381.21,130.42 382.13,130.54 383.04,130.61 383.96,129.77 384.88,128.01 385.79,126.10 386.71,125.80 387.63,126.05 388.54,127.12 389.46,125.99 390.38,125.44 391.29,125.45 392.21,125.05 393.13,124.33 394.04,124.62 394.96,124.89 395.88,124.88 396.79,124.55 397.71,123.97 398.63,124.25 399.54,122.49 400.46,122.19 401.38,121.18 402.29,121.93 403.21,121.81 404.13,122.96 405.04,123.01 405.96,122.38 406.88,122.20 407.79,120.47 408.71,121.73 409.62,119.32 410.54,120.29 411.46,118.12 412.37,118.30 413.29,118.52 414.21,117.88 415.12,116.70 416.04,115.39 416.96,116.35 417.87,117.33 418.79,117.46 419.71,115.82 420.62,115.55 421.54,111.27 422.46,109.35 423.37,105.95 424.29,104.61 425.21,100.19 426.12,103.86 427.04,106.36 427.96,109.17 428.87,110.77 428.87,115.58 427.96,117.51 427.04,117.40 426.12,118.08 425.21,119.12 424.29,119.39 423.37,119.55 422.46,120.26 421.54,120.36 420.62,120.98 419.71,121.65 418.79,122.33 417.87,122.56 416.96,123.69 416.04,124.92 415.12,124.72 414.21,125.05 413.29,125.54 412.37,126.16 411.46,126.34 410.54,127.08 409.62,127.36 408.71,128.28 407.79,129.57 406.88,128.33 405.96,127.42 405.04,127.82 404.13,128.65 403.21,129.22 402.29,129.64 401.38,129.99 400.46,130.46 399.54,130.75 398.63,130.71 397.71,130.46 396.79,129.88 395.88,130.32 394.96,132.31 394.04,133.30 393.13,132.80 392.21,133.87 391.29,134.33 390.38,133.66 389.46,134.13 388.54,135.14 387.63,133.83 386.71,133.23 385.79,134.14 384.88,134.08 383.96,134.21 383.04,134.74 382.13,135.04 381.21,135.49 380.29,136.38 379.38,136.53 378.46,135.48 377.54,135.75 376.63,136.09 375.71,135.55 374.79,136.08 373.88,137.08 372.96,137.18 372.04,137.28 371.13,137.86 370.21,138.58 369.29,139.30 368.38,138.72 367.46,138.99 366.54,140.36 365.63,140.09 364.71,140.05 363.79,140.98 362.88,141.58 361.96,141.63 361.05,141.95 360.13,142.47 359.21,142.62 358.30,143.01 357.38,143.56 356.46,144.05 355.55,143.95 354.63,143.96 353.71,144.97 352.80,145.19 351.88,145.32 350.96,145.43 350.05,145.19 349.13,145.84 348.21,145.94 347.30,146.10 346.38,146.76 345.46,146.88 344.55,147.07 343.63,147.92 342.71,148.46 341.80,148.24 340.88,148.10 339.96,148.02 339.05,147.94 338.13,148.85 337.21,149.25 336.30,148.86 335.38,149.14 334.46,149.12 333.55,149.29 332.63,150.09 331.71,150.60 330.80,150.36 329.88,150.80 328.96,151.61 328.05,151.55 327.13,152.04 326.21,152.55 325.30,152.81 324.38,152.77 323.46,152.92 322.55,153.20 321.63,153.35 320.71,153.71 319.80,153.90 318.88,153.94 317.96,154.45 317.05,154.86 316.13,155.28 315.22,155.91 314.30,155.61 313.38,155.38 312.47,155.73 311.55,156.05 310.63,155.72 309.72,155.67 308.80,155.71 307.88,155.57 306.97,155.80 306.05,156.29 305.13,156.52 304.22,156.63 303.30,156.97 302.38,156.83 301.47,156.57 300.55,156.60 299.63,156.48 298.72,156.46 297.80,156.55 296.88,156.54 295.97,156.88 295.05,157.62 294.13,157.31 293.22,156.68 292.30,157.08" fill="#9595ef" fill-opacity="0.72" stroke="none"/>
<polyline points="292.30,157.97 293.22,157.76 294.13,157.71 295.05,157.25 295.97,157.99 296.88,157.07 297.80,157.33 298.72,156.51 299.63,156.43 300.55,156.19 301.47,156.39 302.38,156.67 303.30,156.23 304.22,155.90 305.13,156.76 306.05,156.17 306.97,156.32 307.88,155.56 308.80,156.43 309.72,156.07 310.63,155.66 311.55,155.58 312.47,156.31 313.38,155.29 314.30,155.39 315.22,155.32 316.13,155.05 317.05,154.65 317.96,155.38 318.88,153.55 319.80,154.48 320.71,154.93 321.63,153.64 322.55,152.64 323.46,153.40 324.38,152.11 325.30,151.83 326.21,152.78 327.13,153.34 328.05,152.38 328.96,150.75 329.88,151.55 330.80,151.64 331.71,151.24 332.63,150.17 333.55,149.87 334.46,149.03 335.38,148.70 336.30,149.65 337.21,148.97 338.13,149.36 339.05,148.41 339.96,148.97 340.88,148.79 341.80,146.45 342.71,147.56 343.63,146.94 344.55,145.48 345.46,146.40 346.38,146.78 347.30,146.45 348.21,146.77 349.13,145.29 350.05,146.05 350.96,144.26 351.88,145.40 352.80,145.08 353.71,144.80 354.63,143.71 355.55,143.70 356.46,142.48 357.38,143.59 358.30,142.62 359.21,141.02 360.13,142.37 361.05,141.40 361.96,140.20 362.88,140.65 363.79,141.25 364.71,142.07 365.63,138.01 366.54,139.28 367.46,138.20 368.38,139.33 369.29,136.98 370.21,137.75 371.13,137.81 372.04,138.31 372.96,136.81 373.88,137.23 374.79,136.63 375.71,137.75 376.63,136.52 377.54,135.73 378.46,136.88 379.38,135.45 380.29,134.71 381.21,135.45 382.13,135.57 383.04,135.39 383.96,133.70 384.88,135.92 385.79,134.46 386.71,134.32 387.63,133.51 388.54,133.46 389.46,134.25 390.38,130.81 391.29,132.43 392.21,133.73 393.13,133.02 394.04,131.74 394.96,130.94 395.88,132.73 396.79,130.31 397.71,132.27 398.63,131.40 399.54,129.37 400.46,128.18 401.38,129.86 402.29,129.85 403.21,127.85 404.13,130.18 405.04,128.42 405.96,128.18 406.88,127.01 407.79,127.52 408.71,127.87 409.62,126.57 410.54,128.29 411.46,125.75 412.37,127.19 413.29,127.19 414.21,126.26 415.12,125.20 416.04,123.83 416.96,124.40 417.87,122.66 418.79,121.78 419.71,122.58 420.62,123.15 421.54,119.98 422.46,120.11 423.37,122.60 424.29,120.40 425.21,118.15 426.12,119.55 427.04,118.19 427.96,119.26 428.87,115.86" fill="none" stroke="#1212ee" stroke-width="1.2" stroke-linejoin="round" stroke-opacity="1.0"/>
<polyline points="292.30,156.16 293.22,155.41 294.13,155.94 295.05,154.62 295.97,154.10 296.88,154.51 297.80,153.80 298.72,153.68 299.63,153.78 300.55,153.80 301.47,154.16 302.38,152.31 303.30,152.81 304.22,151.35 305.13,151.98 306.05,152.05 306.97,152.30 307.88,151.06 308.80,151.81 309.72,150.53 310.63,151.33 311.55,150.81 312.47,151.50 313.38,149.24 314.30,150.33 315.22,150.27 316.13,149.38 317.05,150.07 317.96,148.91 318.88,149.75 319.80,148.54 320.71,149.23 321.63,149.48 322.55,148.57 323.46,148.86 324.38,147.48 325.30,147.58 326.21,147.07 327.13,147.09 328.05,147.14 328.96,146.69 329.88,145.84 330.80,146.38 331.71,146.52 332.63,146.43 333.55,145.75 334.46,145.86 335.38,143.93 336.30,145.60 337.21,145.26 338.13,144.47 339.05,143.56 339.96,143.88 340.88,144.00 341.80,143.55 342.71,142.90 343.63,141.64 344.55,142.65 345.46,141.68 346.38,141.71 347.30,140.69 348.21,140.29 349.13,141.31 350.05,138.11 350.96,139.40 351.88,139.58 352.80,139.54 353.71,138.72 354.63,138.15 355.55,137.37 356.46,137.49 357.38,136.76 358.30,138.10 359.21,137.08 360.13,136.95 361.05,135.68 361.96,135.13 362.88,136.43 363.79,135.03 364.71,133.97 365.63,133.47 366.54,134.85 367.46,133.04 368.38,132.88 369.29,133.20 370.21,130.71 371.13,133.11 372.04,132.00 372.96,130.97 373.88,130.81 374.79,130.83 375.71,129.03 376.63,128.59 377.54,128.73 378.46,128.28 379.38,128.93 380.29,129.65 381.21,126.03 382.13,128.75 383.04,125.24 383.96,127.22 384.88,126.50 385.79,126.64 386.71,125.24 387.63,126.47 388.54,123.80 389.46,124.89 390.38,125.00 391.29,125.51 392.21,124.37 393.13,124.41 394.04,122.13 394.96,122.89 395.88,125.21 396.79,121.54 397.71,125.41 398.63,120.81 399.54,124.22 400.46,121.80 401.38,120.55 402.29,121.12 403.21,122.00 404.13,119.02 405.04,122.09 405.96,121.45 406.88,117.89 407.79,120.19 408.71,118.62 409.62,117.67 410.54,118.45 411.46,117.70 412.37,117.60 413.29,117.19 414.21,115.74 415.12,115.84 416.04,116.39 416.96,115.48 417.87,117.05 418.79,117.13 419.71,117.24 420.62,114.86 421.54,113.77 422.46,115.60 423.37,118.07 424.29,116.21 425.21,114.95 426.12,114.93 427.04,114.95 427.96,113.61 428.87,113.46" fill="none" stroke="#b5103a" stroke-width="1.0" stroke-linejoin="round" stroke-opacity="1.0"/>
<polyline points="292.30,156.80 293.22,156.22 294.13,155.79 295.05,154.97 295.97,154.70 296.88,154.66 297.80,154.50 298.72,154.60 299.63,154.84 300.55,155.27 301.47,155.48 302.38,155.36 303.30,155.04 304.22,154.78 305.13,154.96 306.05,154.88 306.97,154.19 307.88,154.85 308.80,154.07 309.72,153.69 310.63,154.07 311.55,153.88 312.47,153.51 313.38,152.72 314.30,152.78 315.22,153.23 316.13,152.23 317.05,151.22 317.96,150.80 318.88,150.52 319.80,150.47 320.71,150.74 321.63,149.43 322.55,149.16 323.46,148.61 324.38,147.50 325.30,147.70 326.21,147.22 327.13,146.62 328.05,146.60 328.96,146.37 329.88,145.98 330.80,144.78 331.71,144.48 332.63,144.56 333.55,143.26 334.46,143.33 335.38,143.71 336.30,142.19 337.21,142.14 338.13,142.34 339.05,140.84 339.96,140.87 340.88,140.49 341.80,139.50 342.71,140.73 343.63,139.78 344.55,138.86 345.46,138.04 346.38,138.19 347.30,137.99 348.21,137.62 349.13,136.61 350.05,135.69 350.96,136.55 351.88,136.46 352.80,134.77 353.71,134.31 354.63,134.16 355.55,132.60 356.46,131.94 357.38,132.38 358.30,131.71 359.21,130.54 360.13,130.74 361.05,130.89 361.96,129.33 362.88,129.39 363.79,127.89 364.71,127.95 365.63,127.22 366.54,126.26 367.46,126.35 368.38,126.35 369.29,126.14 370.21,123.29 371.13,123.14 372.04,124.68 372.96,123.68 373.88,121.66 374.79,122.03 375.71,121.03 376.63,119.85 377.54,119.97 378.46,119.72 379.38,119.55 380.29,118.72 381.21,117.81 382.13,116.09 383.04,116.22 383.96,116.91 384.88,115.38 385.79,115.74 386.71,116.87 387.63,115.16 388.54,113.70 389.46,114.84 390.38,112.95 391.29,113.77 392.21,113.05 393.13,113.86 394.04,110.21 394.96,111.43 395.88,110.41 396.79,111.44 397.71,112.04 398.63,108.83 399.54,110.37 400.46,107.45 401.38,108.91 402.29,106.55 403.21,108.60 404.13,109.83 405.04,107.32 405.96,107.57 406.88,106.94 407.79,105.23 408.71,106.77 409.62,106.51 410.54,105.49 411.46,105.19 412.37,106.11 413.29,106.30 414.21,106.74 415.12,106.53 416.04,107.27 416.96,106.02 417.87,104.97 418.79,105.97 419.71,105.19 420.62,106.58 421.54,102.42 422.46,99.19 423.37,95.86 424.29,90.92 425.21,98.59 426.12,114.24 427.04,113.19 427.96,114.54 428.87,111.32" fill="none" stroke="#1b7d12" stroke-width="1.5" stroke-linejoin="round" stroke-opacity="1.0"/>
<polyline points="292.30,157.03 293.22,156.77 294.13,156.69 295.05,156.83 295.97,156.71 296.88,156.65 297.80,156.41 298.72,156.40 299.63,156.21 300.55,156.46 301.47,155.92 302.38,155.86 303.30,155.49 304.22,155.32 305.13,155.08 306.05,154.70 306.97,154.37 307.88,154.24 308.80,153.96 309.72,153.57 310.63,153.52 311.55,153.25 312.47,152.61 313.38,152.40 314.30,152.23 315.22,151.70 316.13,151.29 317.05,151.03 317.96,150.72 318.88,150.12 319.80,149.62 320.71,149.26 321.63,148.80 322.55,148.08 323.46,147.48 324.38,147.11 325.30,146.50 326.21,146.02 327.13,145.83 328.05,145.54 328.96,144.94 329.88,144.56 330.80,143.97 331.71,143.96 332.63,143.41 333.55,143.00 334.46,142.73 335.38,141.89 336.30,141.26 337.21,140.95 338.13,139.99 339.05,139.54 339.96,139.03 340.88,138.62 341.80,138.06 342.71,138.07 343.63,137.22 344.55,136.77 345.46,136.82 346.38,135.92 347.30,135.59 348.21,134.92 349.13,134.73 350.05,134.19 350.96,133.55 351.88,133.26 352.80,132.36 353.71,131.96 354.63,131.26 355.55,130.94 356.46,130.00 357.38,129.55 358.30,129.17 359.21,128.41 360.13,127.70 361.05,126.73 361.96,126.75 362.88,125.30 363.79,124.58 364.71,123.90 365.63,123.45 366.54,122.31 367.46,122.43 368.38,121.40 369.29,120.57 370.21,120.66 371.13,119.59 372.04,119.17 372.96,118.02 373.88,116.95 374.79,116.09 375.71,116.58 376.63,115.62 377.54,114.63 378.46,113.75 379.38,113.49 380.29,113.23 381.21,112.30 382.13,111.79 383.04,111.23 383.96,110.79 384.88,109.82 385.79,109.29 386.71,108.85 387.63,108.33 388.54,108.12 389.46,107.30 390.38,106.18 391.29,106.08 392.21,105.93 393.13,104.44 394.04,104.15 394.96,103.04 395.88,103.17 396.79,102.78 397.71,102.55 398.63,101.01 399.54,99.99 400.46,100.62 401.38,99.99 402.29,98.97 403.21,98.91 404.13,98.13 405.04,97.59 405.96,96.83 406.88,95.94 407.79,95.78 408.71,94.89 409.62,94.83 410.54,93.99 411.46,94.38 412.37,93.56 413.29,92.14 414.21,92.12 415.12,91.01 416.04,90.37 416.96,89.41 417.87,88.97 418.79,88.23 419.71,88.04 420.62,87.63 421.54,86.91 422.46,86.09 423.37,85.63 424.29,84.66 425.21,83.75 426.12,82.87 427.04,82.40 427.96,82.51 428.87,81.31" fill="none" stroke="#1a1a1a" stroke-width="1.1" stroke-linejoin="round" stroke-opacity="1.0"/>
<path d="M295.05 155.82 V146.73 M293.85 146.73 H296.25" stroke="#cccccc" stroke-width="0.6" fill="none"/>
<polygon points="292.30,322.86 293.21,322.51 294.11,322.39 295.02,321.67 295.93,319.90 296.83,322.02 297.74,319.86 298.65,319.41 299.55,320.45 300.46,320.52 301.37,319.40 302.27,318.60 303.18,317.65 304.09,318.44 304.99,317.67 305.90,319.11 306.81,319.25 307.71,319.73 308.62,319.07 309.53,318.22 310.43,317.56 311.34,318.61 312.25,316.63 313.15,317.19 314.06,317.44 314.97,317.34 315.87,314.77 316.78,316.14 317.68,316.85 318.59,316.70 319.50,314.08 320.40,315.86 321.31,314.00 322.22,313.47 323.12,316.49 324.03,312.89 324.94,313.98 325.84,314.46 326.75,313.66 327.66,312.33 328.56,312.18 329.47,311.82 330.38,312.55 331.28,310.28 332.19,309.68 333.10,308.98 334.00,309.40 334.91,308.14 335.82,307.56 336.72,308.55 337.63,308.00 338.54,307.92 339.44,307.57 340.35,306.87 341.26,309.15 342.16,307.35 343.07,306.13 343.98,308.49 344.88,307.42 345.79,303.82 346.70,306.29 347.60,305.27 348.51,303.99 349.42,304.55 350.32,304.53 351.23,303.63 352.14,303.01 353.04,302.66 353.95,301.26 354.86,299.07 355.76,300.00 356.67,297.97 357.58,298.49 358.48,297.84 359.39,297.60 360.30,298.16 361.20,296.74 362.11,296.36 363.01,297.61 363.92,294.74 364.83,294.42 365.73,294.16 366.64,294.84 367.55,297.03 368.45,291.12 369.36,292.63 370.27,294.90 371.17,290.53 372.08,291.78 372.99,289.30 373.89,289.81 374.80,287.50 375.71,288.18 376.61,287.54 377.52,287.14 378.43,285.00 379.33,288.01 380.24,283.64 381.15,283.60 382.05,284.72 382.96,283.15 383.87,283.08 384.77,281.56 385.68,279.44 386.59,281.24 387.49,278.24 388.40,277.17 389.31,276.90 390.21,274.63 391.12,276.61 392.03,274.67 392.93,270.99 393.84,274.44 394.75,274.05 395.65,273.14 396.56,271.47 397.47,272.89 398.37,271.58 399.28,273.59 400.19,271.68 401.09,270.98 402.00,270.65 402.91,268.77 403.81,266.10 404.72,267.49 405.62,268.65 406.53,265.15 407.44,264.70 408.34,267.08 409.25,263.56 410.16,265.31 411.06,263.88 411.97,263.51 412.88,259.92 413.78,262.57 414.69,261.02 415.60,259.47 416.50,257.20 417.41,256.33 418.32,260.19 419.22,255.16 420.13,256.39 421.04,253.99 421.94,253.70 422.85,256.43 423.76,254.72 424.66,254.89 425.57,252.96 426.48,249.72 427.38,252.57 427.38,279.60 426.48,280.52 425.57,281.35 424.66,280.22 423.76,278.26 422.85,279.20 421.94,278.94 421.04,281.11 420.13,279.71 419.22,280.79 418.32,282.61 417.41,280.18 416.50,284.21 415.60,286.29 414.69,284.34 413.78,286.07 412.88,284.52 411.97,286.51 411.06,287.18 410.16,286.82 409.25,288.35 408.34,289.41 407.44,285.09 406.53,286.28 405.62,286.61 404.72,286.10 403.81,287.83 402.91,289.97 402.00,290.24 401.09,289.56 400.19,289.92 399.28,291.59 398.37,291.77 397.47,289.15 396.56,291.22 395.65,291.87 394.75,291.97 393.84,291.13 392.93,293.73 392.03,292.49 391.12,291.09 390.21,292.67 389.31,293.74 388.40,296.36 387.49,298.83 386.59,296.94 385.68,294.27 384.77,296.73 383.87,297.53 382.96,299.87 382.05,296.83 381.15,298.86 380.24,299.15 379.33,301.21 378.43,299.56 377.52,299.29 376.61,301.70 375.71,301.51 374.80,300.39 373.89,303.78 372.99,302.56 372.08,302.05 371.17,301.82 370.27,302.55 369.36,303.85 368.45,303.27 367.55,303.33 366.64,303.27 365.73,305.88 364.83,305.07 363.92,306.02 363.01,306.20 362.11,304.72 361.20,305.97 360.30,306.63 359.39,307.33 358.48,307.66 357.58,307.30 356.67,309.40 355.76,309.25 354.86,309.58 353.95,309.53 353.04,309.88 352.14,310.34 351.23,309.76 350.32,310.41 349.42,312.01 348.51,312.37 347.60,311.95 346.70,313.01 345.79,313.62 344.88,312.86 343.98,313.43 343.07,314.25 342.16,315.45 341.26,313.16 340.35,315.60 339.44,313.55 338.54,313.89 337.63,315.57 336.72,315.77 335.82,315.79 334.91,316.21 334.00,317.55 333.10,316.89 332.19,317.78 331.28,316.46 330.38,317.72 329.47,316.89 328.56,317.81 327.66,318.73 326.75,318.31 325.84,319.32 324.94,318.72 324.03,319.43 323.12,319.16 322.22,319.05 321.31,321.03 320.40,321.04 319.50,320.26 318.59,320.52 317.68,321.71 316.78,320.17 315.87,321.51 314.97,321.18 314.06,322.20 313.15,322.33 312.25,322.90 311.34,322.65 310.43,322.59 309.53,322.35 308.62,322.90 307.71,322.88 306.81,322.39 305.90,322.90 304.99,322.90 304.09,322.90 303.18,322.90 302.27,322.90 301.37,322.90 300.46,322.90 299.55,322.90 298.65,322.90 297.74,322.90 296.83,322.90 295.93,322.90 295.02,322.90 294.11,322.90 293.21,322.90 292.30,322.90" fill="#a5d2a0" fill-opacity="0.85" stroke="none"/>
<polygon points="292.30,320.51 293.21,321.13 294.11,322.14 295.02,321.24 295.93,321.21 296.83,320.97 297.74,320.17 298.65,321.51 299.55,319.57 300.46,321.10 301.37,320.19 302.27,319.17 303.18,319.20 304.09,320.16 304.99,317.97 305.90,318.98 306.81,319.87 307.71,318.83 308.62,319.36 309.53,318.07 310.43,319.39 311.34,317.60 312.25,319.36 313.15,316.63 314.06,317.15 314.97,315.96 315.87,317.61 316.78,318.66 317.68,317.80 318.59,316.56 319.50,314.31 320.40,315.38 321.31,314.47 322.22,316.32 323.12,315.79 324.03,315.39 324.94,313.73 325.84,315.20 326.75,314.72 327.66,312.63 328.56,314.88 329.47,313.84 330.38,314.90 331.28,313.50 332.19,312.12 333.10,311.45 334.00,313.83 334.91,314.73 335.82,311.23 336.72,309.73 337.63,311.96 338.54,310.63 339.44,310.59 340.35,312.68 341.26,312.94 342.16,309.72 343.07,308.76 343.98,310.70 344.88,309.02 345.79,309.23 346.70,309.10 347.60,309.16 348.51,305.91 349.42,306.96 350.32,306.98 351.23,307.09 352.14,305.83 353.04,306.72 353.95,305.71 354.86,306.66 355.76,305.07 356.67,305.69 357.58,304.40 358.48,306.90 359.39,305.73 360.30,306.06 361.20,302.16 362.11,304.68 363.01,303.67 363.92,305.55 364.83,304.25 365.73,304.97 366.64,302.55 367.55,303.41 368.45,299.72 369.36,302.71 370.27,299.81 371.17,301.06 372.08,299.81 372.99,301.50 373.89,299.94 374.80,299.77 375.71,300.35 376.61,298.08 377.52,300.73 378.43,298.48 379.33,298.12 380.24,297.20 381.15,298.59 382.05,295.36 382.96,297.27 383.87,296.34 384.77,296.43 385.68,295.06 386.59,293.36 387.49,288.80 388.40,297.30 389.31,291.01 390.21,290.57 391.12,289.10 392.03,290.64 392.93,289.81 393.84,287.05 394.75,289.45 395.65,288.83 396.56,288.68 397.47,287.40 398.37,284.56 399.28,288.84 400.19,284.64 401.09,290.52 402.00,285.01 402.91,286.22 403.81,282.63 404.72,283.07 405.62,282.68 406.53,282.66 407.44,282.68 408.34,286.81 409.25,281.90 410.16,284.71 411.06,279.57 411.97,282.54 412.88,280.65 413.78,280.98 414.69,279.14 415.60,278.21 416.50,276.85 417.41,279.84 418.32,273.25 419.22,276.84 420.13,272.84 421.04,276.63 421.94,271.37 422.85,271.52 423.76,270.28 424.66,271.11 425.57,270.48 426.48,272.40 427.38,271.12 427.38,276.81 426.48,277.48 425.57,275.36 424.66,278.13 423.76,280.51 422.85,276.10 421.94,276.96 421.04,278.06 420.13,278.14 419.22,279.84 418.32,282.90 417.41,284.47 416.50,283.04 415.60,282.79 414.69,283.43 413.78,285.54 412.88,286.26 411.97,286.52 411.06,286.78 410.16,286.48 409.25,286.07 408.34,287.49 407.44,289.63 406.53,287.94 405.62,289.94 404.72,288.25 403.81,290.65 402.91,291.20 402.00,289.60 401.09,289.34 400.19,291.73 399.28,292.76 398.37,292.09 397.47,292.53 396.56,291.42 395.65,293.68 394.75,292.34 393.84,295.12 392.93,296.81 392.03,297.03 391.12,295.99 390.21,296.97 389.31,296.29 388.40,297.84 387.49,297.98 386.59,298.17 385.68,298.99 384.77,298.11 383.87,300.96 382.96,300.67 382.05,300.10 381.15,301.26 380.24,302.55 379.33,302.39 378.43,302.92 377.52,302.76 376.61,302.89 375.71,304.22 374.80,302.93 373.89,302.85 372.99,304.41 372.08,302.76 371.17,303.90 370.27,303.35 369.36,305.80 368.45,304.31 367.55,305.89 366.64,305.93 365.73,307.38 364.83,305.90 363.92,306.64 363.01,307.14 362.11,307.34 361.20,307.78 360.30,307.13 359.39,309.76 358.48,308.64 357.58,307.79 356.67,309.30 355.76,311.35 354.86,309.74 353.95,309.27 353.04,309.12 352.14,307.54 351.23,308.65 350.32,308.68 349.42,310.47 348.51,310.15 347.60,309.85 346.70,310.74 345.79,310.59 344.88,311.21 343.98,310.96 343.07,312.28 342.16,312.01 341.26,313.63 340.35,313.62 339.44,314.14 338.54,313.21 337.63,313.87 336.72,314.72 335.82,313.49 334.91,314.57 334.00,315.38 333.10,314.21 332.19,314.06 331.28,315.41 330.38,315.54 329.47,316.45 328.56,315.52 327.66,317.44 326.75,316.83 325.84,316.66 324.94,316.52 324.03,317.72 323.12,316.06 322.22,316.37 321.31,317.81 320.40,318.65 319.50,318.48 318.59,316.57 317.68,318.32 316.78,318.89 315.87,317.95 314.97,318.81 314.06,319.73 313.15,319.15 312.25,319.70 311.34,319.74 310.43,319.89 309.53,319.79 308.62,320.25 307.71,320.54 306.81,320.82 305.90,320.75 304.99,321.05 304.09,320.14 303.18,321.15 302.27,321.38 301.37,321.10 300.46,320.96 299.55,321.09 298.65,321.32 297.74,321.29 296.83,322.85 295.93,321.76 295.02,322.90 294.11,322.23 293.21,322.23 292.30,322.19" fill="#8c8cf0" fill-opacity="0.7" stroke="none"/>
<polygon points="292.30,322.90 293.21,322.90 294.11,320.58 295.02,320.13 295.93,320.18 296.83,321.41 297.74,321.01 298.65,321.05 299.55,319.61 300.46,319.87 301.37,320.38 302.27,319.73 303.18,319.08 304.09,319.74 304.99,320.79 305.90,319.84 306.81,319.99 307.71,320.80 308.62,321.04 309.53,319.07 310.43,319.92 311.34,318.55 312.25,319.43 313.15,317.92 314.06,317.70 314.97,317.98 315.87,319.20 316.78,319.79 317.68,315.99 318.59,317.76 319.50,315.76 320.40,317.63 321.31,318.32 322.22,317.11 323.12,318.07 324.03,316.76 324.94,315.15 325.84,315.68 326.75,313.50 327.66,315.85 328.56,315.72 329.47,316.73 330.38,316.56 331.28,315.18 332.19,316.04 333.10,315.24 334.00,314.99 334.91,315.57 335.82,311.89 336.72,315.87 337.63,313.54 338.54,312.44 339.44,312.04 340.35,313.40 341.26,313.86 342.16,310.08 343.07,310.16 343.98,312.10 344.88,312.07 345.79,311.81 346.70,312.95 347.60,311.62 348.51,310.22 349.42,310.42 350.32,312.08 351.23,309.99 352.14,311.56 353.04,312.26 353.95,309.83 354.86,309.29 355.76,308.15 356.67,310.59 357.58,308.20 358.48,308.58 359.39,308.71 360.30,309.28 361.20,308.83 362.11,307.70 363.01,307.65 363.92,309.25 364.83,308.28 365.73,307.43 366.64,305.88 367.55,306.26 368.45,306.63 369.36,306.67 370.27,304.09 371.17,306.40 372.08,306.53 372.99,305.85 373.89,304.53 374.80,304.71 375.71,305.16 376.61,304.78 377.52,303.18 378.43,302.97 379.33,302.88 380.24,304.26 381.15,302.65 382.05,300.67 382.96,303.02 383.87,299.33 384.77,301.04 385.68,299.70 386.59,302.16 387.49,298.41 388.40,299.95 389.31,299.12 390.21,298.35 391.12,296.71 392.03,298.96 392.93,297.45 393.84,297.74 394.75,299.99 395.65,299.14 396.56,299.20 397.47,296.95 398.37,296.04 399.28,295.29 400.19,294.20 401.09,295.01 402.00,297.09 402.91,291.98 403.81,294.19 404.72,295.11 405.62,296.42 406.53,292.57 407.44,295.68 408.34,290.89 409.25,292.16 410.16,295.19 411.06,292.66 411.97,288.52 412.88,294.54 413.78,291.93 414.69,294.38 415.60,290.23 416.50,286.96 417.41,289.94 418.32,289.81 419.22,289.85 420.13,289.47 421.04,289.31 421.94,287.15 422.85,286.16 423.76,292.06 424.66,292.30 425.57,285.30 426.48,284.98 427.38,289.28 427.38,296.41 426.48,294.72 425.57,296.12 424.66,296.94 423.76,294.55 422.85,297.82 421.94,297.98 421.04,296.14 420.13,298.06 419.22,298.42 418.32,297.63 417.41,298.53 416.50,297.79 415.60,297.68 414.69,298.96 413.78,297.75 412.88,299.83 411.97,297.55 411.06,301.64 410.16,300.40 409.25,301.26 408.34,301.98 407.44,299.65 406.53,301.18 405.62,302.07 404.72,301.54 403.81,302.95 402.91,301.72 402.00,302.26 401.09,302.61 400.19,302.90 399.28,303.18 398.37,303.33 397.47,303.08 396.56,304.21 395.65,304.29 394.75,304.36 393.84,304.18 392.93,304.17 392.03,305.43 391.12,305.56 390.21,305.17 389.31,305.31 388.40,306.15 387.49,306.04 386.59,306.46 385.68,305.86 384.77,306.56 383.87,306.17 382.96,307.36 382.05,307.35 381.15,308.22 380.24,307.06 379.33,308.78 378.43,308.44 377.52,309.50 376.61,308.94 375.71,309.19 374.80,309.39 373.89,309.85 372.99,310.41 372.08,309.42 371.17,310.81 370.27,312.24 369.36,310.43 368.45,311.25 367.55,311.56 366.64,311.34 365.73,312.27 364.83,312.65 363.92,311.58 363.01,311.98 362.11,311.71 361.20,312.73 360.30,311.66 359.39,313.82 358.48,313.49 357.58,313.18 356.67,314.25 355.76,314.49 354.86,314.53 353.95,314.28 353.04,315.44 352.14,315.32 351.23,314.70 350.32,315.67 349.42,315.64 348.51,316.23 347.60,315.33 346.70,316.03 345.79,315.67 344.88,315.23 343.98,316.39 343.07,315.66 342.16,316.24 341.26,316.93 340.35,316.27 339.44,316.06 338.54,316.75 337.63,316.55 336.72,316.54 335.82,317.48 334.91,317.74 334.00,318.43 333.10,317.69 332.19,318.55 331.28,318.57 330.38,319.16 329.47,319.35 328.56,319.16 327.66,319.84 326.75,318.97 325.84,319.99 324.94,319.50 324.03,319.81 323.12,320.09 322.22,320.16 321.31,320.33 320.40,319.88 319.50,320.99 318.59,320.62 317.68,321.16 316.78,321.56 315.87,321.90 314.97,321.24 314.06,321.34 313.15,321.18 312.25,321.76 311.34,321.70 310.43,321.85 309.53,322.18 308.62,322.26 307.71,322.41 306.81,321.88 305.90,322.00 304.99,322.47 304.09,322.75 303.18,322.41 302.27,322.90 301.37,322.90 300.46,322.35 299.55,322.35 298.65,322.90 297.74,322.90 296.83,322.90 295.93,322.90 295.02,322.90 294.11,322.90 293.21,322.90 292.30,322.90" fill="#f08c8c" fill-opacity="0.75" stroke="none"/>
<polyline points="292.30,321.96 293.21,322.01 294.11,321.75 295.02,322.53 295.93,321.44 296.83,321.76 297.74,321.60 298.65,320.80 299.55,321.38 300.46,321.63 301.37,321.06 302.27,321.25 303.18,321.41 304.09,320.39 304.99,319.94 305.90,321.08 306.81,319.79 307.71,319.50 308.62,319.37 309.53,319.95 310.43,319.28 311.34,319.05 312.25,318.54 313.15,319.30 314.06,318.23 314.97,317.72 315.87,319.35 316.78,317.80 317.68,318.60 318.59,317.67 319.50,317.79 320.40,316.52 321.31,317.03 322.22,316.44 323.12,317.33 324.03,316.29 324.94,315.55 325.84,316.62 326.75,315.65 327.66,315.58 328.56,315.74 329.47,316.28 330.38,315.19 331.28,315.35 332.19,314.65 333.10,314.37 334.00,313.73 334.91,315.02 335.82,313.79 336.72,313.72 337.63,313.94 338.54,313.43 339.44,313.56 340.35,313.04 341.26,313.05 342.16,313.50 343.07,312.89 343.98,312.28 344.88,313.03 345.79,312.48 346.70,311.09 347.60,311.50 348.51,311.89 349.42,311.61 350.32,310.00 351.23,310.40 352.14,311.80 353.04,309.86 353.95,310.61 354.86,309.81 355.76,310.63 356.67,309.44 357.58,309.54 358.48,309.62 359.39,307.82 360.30,306.40 361.20,307.58 362.11,307.60 363.01,308.44 363.92,307.45 364.83,307.52 365.73,308.21 366.64,306.08 367.55,306.31 368.45,306.59 369.36,306.96 370.27,305.17 371.17,304.19 372.08,304.95 372.99,305.19 373.89,304.03 374.80,305.09 375.71,305.84 376.61,302.36 377.52,302.12 378.43,303.54 379.33,302.98 380.24,301.37 381.15,303.49 382.05,302.19 382.96,301.30 383.87,300.28 384.77,302.26 385.68,302.03 386.59,300.89 387.49,301.33 388.40,299.17 389.31,300.99 390.21,299.73 391.12,299.34 392.03,299.34 392.93,300.25 393.84,297.02 394.75,297.67 395.65,296.79 396.56,296.47 397.47,297.18 398.37,296.65 399.28,296.25 400.19,294.25 401.09,295.53 402.00,296.88 402.91,294.51 403.81,294.72 404.72,292.40 405.62,293.65 406.53,292.13 407.44,292.20 408.34,291.55 409.25,292.30 410.16,291.43 411.06,290.59 411.97,289.61 412.88,289.26 413.78,290.61 414.69,289.25 415.60,287.38 416.50,287.27 417.41,288.30 418.32,287.84 419.22,285.02 420.13,285.59 421.04,288.05 421.94,283.11 422.85,284.37 423.76,284.46 424.66,284.98 425.57,285.32 426.48,284.36 427.38,284.14" fill="none" stroke="#e4e4e4" stroke-width="1.0" stroke-linejoin="round" stroke-opacity="1.0"/>
<polygon points="292.30,321.76 293.21,321.26 294.11,321.13 295.02,320.87 295.93,320.49 296.83,320.39 297.74,319.84 298.65,319.78 299.55,319.17 300.46,319.62 301.37,319.19 302.27,319.23 303.18,319.45 304.09,319.53 304.99,317.93 305.90,318.20 306.81,317.90 307.71,317.54 308.62,316.69 309.53,316.34 310.43,316.01 311.34,315.61 312.25,314.09 313.15,315.48 314.06,315.31 314.97,316.50 315.87,315.94 316.78,313.26 317.68,312.65 318.59,313.84 319.50,313.92 320.40,313.08 321.31,314.31 322.22,312.91 323.12,312.40 324.03,310.57 324.94,311.92 325.84,310.60 326.75,309.93 327.66,309.25 328.56,309.83 329.47,309.58 330.38,310.20 331.28,307.55 332.19,307.15 333.10,307.94 334.00,307.07 334.91,307.84 335.82,306.64 336.72,305.61 337.63,306.10 338.54,305.34 339.44,304.22 340.35,304.15 341.26,304.54 342.16,302.41 343.07,301.79 343.98,301.86 344.88,301.67 345.79,301.09 346.70,300.46 347.60,301.61 348.51,299.32 349.42,300.31 350.32,298.94 351.23,298.56 352.14,297.49 353.04,295.85 353.95,296.21 354.86,296.12 355.76,294.86 356.67,294.69 357.58,295.54 358.48,295.07 359.39,293.39 360.30,290.62 361.20,291.89 362.11,290.43 363.01,289.22 363.92,290.84 364.83,287.83 365.73,287.61 366.64,287.23 367.55,286.18 368.45,288.27 369.36,285.59 370.27,286.41 371.17,283.81 372.08,283.43 372.99,282.82 373.89,280.99 374.80,282.40 375.71,279.75 376.61,276.82 377.52,277.07 378.43,278.20 379.33,275.95 380.24,275.82 381.15,274.39 382.05,275.38 382.96,272.93 383.87,272.68 384.77,273.18 385.68,270.47 386.59,269.01 387.49,268.50 388.40,271.85 389.31,267.88 390.21,267.12 391.12,266.89 392.03,265.90 392.93,264.26 393.84,263.01 394.75,263.64 395.65,261.59 396.56,261.15 397.47,260.79 398.37,258.50 399.28,258.66 400.19,259.13 401.09,256.69 402.00,257.48 402.91,253.46 403.81,254.20 404.72,251.88 405.62,254.93 406.53,249.63 407.44,250.32 408.34,251.65 409.25,246.84 410.16,249.66 411.06,249.49 411.97,247.36 412.88,245.64 413.78,244.04 414.69,241.10 415.60,244.39 416.50,244.70 417.41,240.86 418.32,242.05 419.22,241.18 420.13,238.42 421.04,235.50 421.94,237.59 422.85,236.59 423.76,235.12 424.66,234.55 425.57,231.70 426.48,232.54 427.38,234.65 427.38,240.79 426.48,242.40 425.57,241.27 424.66,241.18 423.76,243.81 422.85,245.24 421.94,245.75 421.04,246.43 420.13,247.75 419.22,248.46 418.32,249.20 417.41,250.76 416.50,250.83 415.60,252.02 414.69,252.08 413.78,254.27 412.88,254.52 411.97,255.91 411.06,254.91 410.16,256.83 409.25,257.06 408.34,258.00 407.44,258.89 406.53,259.53 405.62,260.66 404.72,261.13 403.81,262.45 402.91,262.28 402.00,262.74 401.09,264.16 400.19,265.31 399.28,267.06 398.37,265.66 397.47,267.12 396.56,265.56 395.65,267.63 394.75,267.64 393.84,267.86 392.93,269.84 392.03,269.91 391.12,271.43 390.21,269.62 389.31,271.52 388.40,272.76 387.49,273.38 386.59,273.35 385.68,274.76 384.77,275.18 383.87,275.87 382.96,276.64 382.05,277.42 381.15,277.68 380.24,278.79 379.33,279.08 378.43,281.17 377.52,281.76 376.61,281.74 375.71,283.30 374.80,284.31 373.89,285.96 372.99,286.14 372.08,286.60 371.17,288.04 370.27,289.01 369.36,288.99 368.45,290.42 367.55,290.55 366.64,291.08 365.73,292.13 364.83,292.88 363.92,293.17 363.01,294.15 362.11,294.80 361.20,295.97 360.30,296.13 359.39,296.50 358.48,297.45 357.58,297.80 356.67,298.85 355.76,299.24 354.86,299.80 353.95,300.27 353.04,301.04 352.14,301.28 351.23,302.03 350.32,302.80 349.42,302.89 348.51,303.47 347.60,303.20 346.70,304.78 345.79,305.25 344.88,305.70 343.98,305.90 343.07,306.14 342.16,306.30 341.26,307.82 340.35,308.52 339.44,308.47 338.54,308.95 337.63,309.73 336.72,309.15 335.82,310.08 334.91,309.81 334.00,310.95 333.10,310.34 332.19,310.94 331.28,311.20 330.38,312.07 329.47,312.80 328.56,312.50 327.66,313.12 326.75,313.12 325.84,313.55 324.94,313.90 324.03,314.16 323.12,314.61 322.22,315.27 321.31,315.65 320.40,316.07 319.50,316.01 318.59,315.97 317.68,316.30 316.78,317.04 315.87,317.71 314.97,316.96 314.06,317.55 313.15,318.11 312.25,318.02 311.34,319.22 310.43,318.77 309.53,319.12 308.62,318.70 307.71,319.55 306.81,320.08 305.90,320.42 304.99,319.85 304.09,320.82 303.18,320.44 302.27,320.89 301.37,320.66 300.46,321.22 299.55,321.13 298.65,321.72 297.74,321.55 296.83,321.44 295.93,321.77 295.02,322.14 294.11,322.21 293.21,322.26 292.30,322.78" fill="#a2a2a2" fill-opacity="1.0" stroke="none"/>
<polyline points="292.30,322.05 293.21,322.25 294.11,322.78 295.02,322.40 295.93,322.33 296.83,321.23 297.74,322.37 298.65,321.39 299.55,321.76 300.46,321.31 301.37,321.61 302.27,321.35 303.18,321.21 304.09,321.25 304.99,320.94 305.90,320.95 306.81,320.48 307.71,320.12 308.62,320.77 309.53,320.69 310.43,320.32 311.34,321.05 312.25,320.12 313.15,320.35 314.06,320.35 314.97,320.55 315.87,319.86 316.78,319.43 317.68,319.75 318.59,319.80 319.50,319.53 320.40,319.23 321.31,319.54 322.22,319.14 323.12,319.26 324.03,318.71 324.94,317.75 325.84,318.33 326.75,317.38 327.66,318.47 328.56,318.55 329.47,318.03 330.38,317.69 331.28,317.33 332.19,317.10 333.10,317.22 334.00,316.41 334.91,316.66 335.82,316.05 336.72,315.95 337.63,315.83 338.54,315.62 339.44,315.88 340.35,315.05 341.26,314.89 342.16,315.30 343.07,313.59 343.98,314.69 344.88,315.31 345.79,315.33 346.70,314.81 347.60,315.39 348.51,313.86 349.42,314.51 350.32,313.57 351.23,314.36 352.14,313.31 353.04,312.66 353.95,312.76 354.86,313.89 355.76,312.71 356.67,312.78 357.58,311.73 358.48,311.99 359.39,310.96 360.30,311.74 361.20,312.26 362.11,311.94 363.01,310.49 363.92,311.57 364.83,310.68 365.73,309.25 366.64,310.34 367.55,310.67 368.45,309.37 369.36,309.46 370.27,310.22 371.17,308.74 372.08,308.86 372.99,308.28 373.89,308.91 374.80,307.50 375.71,308.34 376.61,306.93 377.52,308.26 378.43,307.07 379.33,306.77 380.24,307.60 381.15,307.74 382.05,306.62 382.96,306.40 383.87,306.02 384.77,305.37 385.68,303.37 386.59,304.55 387.49,303.20 388.40,303.83 389.31,302.98 390.21,303.15 391.12,303.30 392.03,302.75 392.93,301.23 393.84,303.92 394.75,302.24 395.65,301.72 396.56,302.93 397.47,301.33 398.37,301.39 399.28,300.32 400.19,300.58 401.09,300.87 402.00,300.40 402.91,302.16 403.81,298.54 404.72,299.76 405.62,300.88 406.53,300.32 407.44,299.47 408.34,299.55 409.25,298.70 410.16,299.20 411.06,297.96 411.97,298.57 412.88,298.03 413.78,298.96 414.69,298.21 415.60,297.47 416.50,297.98 417.41,297.17 418.32,297.03 419.22,297.94 420.13,295.38 421.04,297.37 421.94,294.40 422.85,294.80 423.76,295.00 424.66,295.34 425.57,295.88 426.48,293.38 427.38,292.80" fill="none" stroke="#e01818" stroke-width="1.1" stroke-linejoin="round" stroke-opacity="1.0"/>
<polyline points="292.30,322.59 293.21,322.23 294.11,321.98 295.02,322.45 295.93,321.67 296.83,321.75 297.74,321.42 298.65,321.50 299.55,321.03 300.46,321.73 301.37,320.54 302.27,320.65 303.18,321.24 304.09,320.62 304.99,320.58 305.90,321.35 306.81,320.22 307.71,320.52 308.62,320.20 309.53,320.17 310.43,319.92 311.34,319.53 312.25,319.33 313.15,319.87 314.06,319.13 314.97,319.43 315.87,319.22 316.78,318.63 317.68,317.90 318.59,317.82 319.50,318.21 320.40,318.08 321.31,317.96 322.22,317.32 323.12,316.76 324.03,317.02 324.94,316.51 325.84,316.51 326.75,315.75 327.66,317.29 328.56,317.18 329.47,316.04 330.38,315.40 331.28,315.67 332.19,314.98 333.10,315.54 334.00,315.33 334.91,314.79 335.82,313.69 336.72,313.50 337.63,314.01 338.54,313.26 339.44,313.45 340.35,312.80 341.26,313.14 342.16,312.23 343.07,312.33 343.98,311.62 344.88,311.68 345.79,311.48 346.70,310.61 347.60,310.58 348.51,310.06 349.42,310.03 350.32,309.15 351.23,309.88 352.14,308.70 353.04,308.16 353.95,309.02 354.86,307.54 355.76,307.18 356.67,308.04 357.58,309.04 358.48,309.05 359.39,307.92 360.30,306.40 361.20,306.94 362.11,306.55 363.01,306.97 363.92,307.05 364.83,306.02 365.73,306.79 366.64,305.89 367.55,305.12 368.45,305.20 369.36,304.58 370.27,305.01 371.17,303.96 372.08,303.81 372.99,305.04 373.89,304.31 374.80,303.79 375.71,302.45 376.61,302.43 377.52,302.15 378.43,301.95 379.33,301.22 380.24,300.53 381.15,301.28 382.05,301.69 382.96,299.41 383.87,299.69 384.77,299.04 385.68,298.79 386.59,299.15 387.49,299.06 388.40,296.48 389.31,295.92 390.21,295.62 391.12,295.83 392.03,295.34 392.93,295.54 393.84,294.66 394.75,294.67 395.65,294.38 396.56,293.24 397.47,291.37 398.37,294.39 399.28,291.55 400.19,291.04 401.09,292.48 402.00,290.58 402.91,290.41 403.81,290.60 404.72,290.25 405.62,290.81 406.53,287.20 407.44,286.14 408.34,286.54 409.25,288.14 410.16,287.14 411.06,286.66 411.97,287.56 412.88,286.45 413.78,284.92 414.69,285.33 415.60,286.20 416.50,285.01 417.41,282.60 418.32,282.64 419.22,280.59 420.13,276.50 421.04,276.08 421.94,278.77 422.85,279.61 423.76,276.19 424.66,279.63 425.57,275.29 426.48,275.06 427.38,276.45" fill="none" stroke="#1010e8" stroke-width="1.3" stroke-linejoin="round" stroke-opacity="1.0"/>
<polyline points="292.30,321.84 293.21,321.76 294.11,321.92 295.02,321.53 295.93,321.89 296.83,322.21 297.74,320.74 298.65,321.07 299.55,321.92 300.46,321.40 301.37,321.10 302.27,320.58 303.18,320.06 304.09,320.33 304.99,320.50 305.90,320.00 306.81,320.04 307.71,319.63 308.62,319.74 309.53,319.73 310.43,318.45 311.34,318.88 312.25,318.45 313.15,318.52 314.06,318.26 314.97,317.94 315.87,317.25 316.78,316.76 317.68,316.81 318.59,317.07 319.50,315.30 320.40,315.92 321.31,315.60 322.22,316.03 323.12,315.62 324.03,314.95 324.94,315.81 325.84,315.08 326.75,314.24 327.66,312.98 328.56,313.69 329.47,314.16 330.38,313.99 331.28,312.61 332.19,313.26 333.10,312.76 334.00,311.30 334.91,312.03 335.82,311.98 336.72,311.95 337.63,310.56 338.54,310.29 339.44,311.11 340.35,311.23 341.26,310.21 342.16,309.06 343.07,309.26 343.98,309.90 344.88,308.70 345.79,308.14 346.70,308.29 347.60,307.86 348.51,307.65 349.42,307.63 350.32,307.38 351.23,307.43 352.14,306.95 353.04,306.90 353.95,305.17 354.86,304.76 355.76,304.64 356.67,304.01 357.58,303.87 358.48,304.02 359.39,303.01 360.30,303.01 361.20,302.62 362.11,303.58 363.01,302.22 363.92,301.27 364.83,301.48 365.73,301.52 366.64,301.75 367.55,300.78 368.45,299.00 369.36,300.13 370.27,298.59 371.17,299.31 372.08,297.81 372.99,298.59 373.89,297.54 374.80,296.96 375.71,296.60 376.61,297.39 377.52,296.55 378.43,296.58 379.33,295.58 380.24,295.23 381.15,294.68 382.05,293.50 382.96,294.33 383.87,293.64 384.77,292.97 385.68,292.20 386.59,292.17 387.49,290.58 388.40,291.43 389.31,288.51 390.21,289.62 391.12,288.29 392.03,289.89 392.93,288.87 393.84,288.12 394.75,286.31 395.65,287.42 396.56,285.82 397.47,287.44 398.37,285.07 399.28,286.70 400.19,287.36 401.09,287.20 402.00,284.82 402.91,284.84 403.81,284.04 404.72,283.97 405.62,283.07 406.53,281.61 407.44,282.99 408.34,282.16 409.25,282.44 410.16,283.38 411.06,281.59 411.97,279.46 412.88,281.33 413.78,277.73 414.69,278.99 415.60,278.61 416.50,277.63 417.41,278.10 418.32,277.59 419.22,275.76 420.13,277.44 421.04,276.35 421.94,276.99 422.85,275.28 423.76,271.95 424.66,273.78 425.57,275.91 426.48,276.65 427.38,273.96" fill="none" stroke="#1e7d1e" stroke-width="1.1" stroke-linejoin="round" stroke-opacity="1.0"/>
<polyline points="292.30,322.34 293.21,322.45 294.11,321.98 295.02,321.98 295.93,322.28 296.83,321.42 297.74,321.57 298.65,321.22 299.55,320.73 300.46,321.02 301.37,321.25 302.27,320.99 303.18,320.35 304.09,320.91 304.99,320.26 305.90,320.08 306.81,320.25 307.71,319.60 308.62,319.21 309.53,319.33 310.43,318.98 311.34,318.40 312.25,318.68 313.15,318.29 314.06,317.46 314.97,317.45 315.87,317.64 316.78,316.93 317.68,316.07 318.59,316.86 319.50,315.87 320.40,315.52 321.31,315.46 322.22,314.85 323.12,314.89 324.03,313.82 324.94,313.40 325.84,313.88 326.75,313.30 327.66,312.83 328.56,312.72 329.47,312.03 330.38,312.15 331.28,311.25 332.19,311.21 333.10,310.78 334.00,310.25 334.91,309.75 335.82,310.07 336.72,309.10 337.63,308.72 338.54,308.73 339.44,307.79 340.35,308.21 341.26,307.66 342.16,306.84 343.07,306.76 343.98,305.51 344.88,305.48 345.79,304.43 346.70,305.00 347.60,304.49 348.51,303.13 349.42,303.58 350.32,302.22 351.23,302.39 352.14,301.39 353.04,300.45 353.95,300.37 354.86,300.24 355.76,299.40 356.67,298.15 357.58,297.96 358.48,297.17 359.39,296.86 360.30,296.15 361.20,295.70 362.11,295.41 363.01,294.07 363.92,293.57 364.83,293.89 365.73,292.33 366.64,291.23 367.55,290.13 368.45,291.00 369.36,289.65 370.27,288.65 371.17,287.63 372.08,287.42 372.99,285.90 373.89,285.44 374.80,284.34 375.71,283.66 376.61,282.31 377.52,281.75 378.43,280.47 379.33,279.76 380.24,278.47 381.15,277.30 382.05,277.50 382.96,277.11 383.87,276.08 384.77,275.50 385.68,275.38 386.59,273.68 387.49,273.23 388.40,271.68 389.31,271.52 390.21,270.15 391.12,269.53 392.03,269.61 392.93,268.84 393.84,268.30 394.75,267.59 395.65,266.15 396.56,266.30 397.47,266.69 398.37,267.37 399.28,266.49 400.19,265.89 401.09,264.09 402.00,263.76 402.91,262.29 403.81,262.16 404.72,261.32 405.62,261.43 406.53,260.41 407.44,258.44 408.34,257.28 409.25,258.11 410.16,256.12 411.06,255.32 411.97,252.61 412.88,254.61 413.78,253.64 414.69,253.16 415.60,251.10 416.50,250.19 417.41,250.36 418.32,248.34 419.22,247.16 420.13,248.25 421.04,246.76 421.94,246.54 422.85,245.34 423.76,242.91 424.66,240.42 425.57,242.72 426.48,242.11 427.38,240.54" fill="none" stroke="#111" stroke-width="1.2" stroke-linejoin="round" stroke-opacity="1.0"/>
<polygon points="292.30,490.46 293.21,491.60 294.13,489.65 295.04,489.27 295.95,491.97 296.86,491.15 297.78,489.53 298.69,489.79 299.60,489.31 300.51,489.97 301.43,488.03 302.34,487.94 303.25,488.49 304.16,487.21 305.08,487.71 305.99,488.90 306.90,487.44 307.81,488.61 308.73,486.43 309.64,487.16 310.55,487.06 311.46,487.34 312.38,485.05 313.29,486.28 314.20,486.33 315.12,486.00 316.03,484.79 316.94,484.72 317.85,484.42 318.77,484.15 319.68,482.00 320.59,484.58 321.50,484.45 322.42,484.55 323.33,482.52 324.24,481.41 325.15,482.32 326.07,482.65 326.98,482.12 327.89,479.87 328.80,479.23 329.72,478.95 330.63,479.90 331.54,478.29 332.45,477.91 333.37,477.27 334.28,475.93 335.19,476.22 336.10,475.12 337.02,475.39 337.93,474.58 338.84,473.62 339.76,475.85 340.67,473.73 341.58,473.32 342.49,472.93 343.41,471.82 344.32,468.76 345.23,471.41 346.14,468.22 347.06,471.35 347.97,468.82 348.88,467.49 349.79,466.25 350.71,465.39 351.62,464.60 352.53,465.64 353.44,465.15 354.36,462.48 355.27,463.42 356.18,464.44 357.09,463.58 358.01,462.59 358.92,459.69 359.83,459.59 360.75,458.04 361.66,459.19 362.57,457.57 363.48,456.14 364.40,457.03 365.31,455.08 366.22,456.31 367.13,455.15 368.05,454.52 368.96,455.28 369.87,451.69 370.78,452.64 371.70,451.06 372.61,449.50 373.52,448.82 374.43,447.69 375.35,448.35 376.26,448.23 377.17,446.86 378.08,449.16 379.00,448.00 379.91,446.91 380.82,445.44 381.73,441.86 382.65,443.54 383.56,441.64 384.47,437.42 385.39,439.86 386.30,436.77 387.21,439.31 388.12,436.95 389.04,437.63 389.95,435.49 390.86,432.18 391.77,436.89 392.69,431.51 393.60,431.17 394.51,432.22 395.42,433.34 396.34,429.25 397.25,429.83 398.16,427.37 399.07,427.09 399.99,422.74 400.90,426.17 401.81,427.22 402.72,423.69 403.64,422.83 404.55,419.40 405.46,419.86 406.38,420.22 407.29,416.81 408.20,422.42 409.11,420.36 410.03,420.31 410.94,418.26 411.85,419.94 412.76,414.22 413.68,415.60 414.59,417.98 415.50,416.10 416.41,411.99 417.33,409.89 418.24,406.14 419.15,402.98 420.06,408.69 420.98,411.64 421.89,413.86 422.80,406.73 423.71,408.17 424.63,405.03 425.54,403.50 426.45,401.06 427.36,397.52 428.28,399.87 428.28,426.56 427.36,433.66 426.45,429.93 425.54,428.49 424.63,436.15 423.71,433.26 422.80,434.32 421.89,439.83 420.98,430.86 420.06,433.48 419.15,433.32 418.24,435.12 417.33,434.10 416.41,435.44 415.50,436.96 414.59,436.99 413.68,442.41 412.76,436.52 411.85,441.65 410.94,443.09 410.03,443.96 409.11,441.24 408.20,445.01 407.29,446.01 406.38,441.58 405.46,440.03 404.55,445.63 403.64,443.59 402.72,439.79 401.81,445.31 400.90,446.59 399.99,442.04 399.07,443.00 398.16,445.27 397.25,447.01 396.34,450.41 395.42,446.97 394.51,450.56 393.60,448.13 392.69,451.88 391.77,450.85 390.86,452.69 389.95,453.59 389.04,453.47 388.12,454.06 387.21,454.95 386.30,453.00 385.39,459.55 384.47,458.77 383.56,459.80 382.65,461.08 381.73,462.01 380.82,461.84 379.91,462.11 379.00,465.14 378.08,462.97 377.17,464.44 376.26,462.74 375.35,468.92 374.43,467.10 373.52,469.01 372.61,466.09 371.70,468.06 370.78,469.66 369.87,473.01 368.96,470.86 368.05,472.46 367.13,472.65 366.22,472.26 365.31,474.46 364.40,474.43 363.48,475.62 362.57,474.07 361.66,475.15 360.75,473.92 359.83,474.71 358.92,476.39 358.01,477.03 357.09,478.30 356.18,478.44 355.27,479.02 354.36,478.62 353.44,478.19 352.53,478.17 351.62,479.31 350.71,479.44 349.79,481.69 348.88,481.78 347.97,481.34 347.06,481.74 346.14,483.20 345.23,482.63 344.32,482.38 343.41,485.44 342.49,485.51 341.58,484.83 340.67,484.62 339.76,485.50 338.84,486.59 337.93,486.09 337.02,485.28 336.10,485.18 335.19,486.37 334.28,486.68 333.37,486.93 332.45,488.36 331.54,486.30 330.63,488.04 329.72,486.84 328.80,488.44 327.89,490.04 326.98,490.03 326.07,489.04 325.15,490.28 324.24,488.39 323.33,488.29 322.42,490.28 321.50,490.63 320.59,489.94 319.68,490.48 318.77,490.85 317.85,489.24 316.94,491.25 316.03,491.77 315.12,490.80 314.20,491.17 313.29,491.52 312.38,492.22 311.46,491.49 310.55,492.26 309.64,492.90 308.73,492.87 307.81,493.56 306.90,492.42 305.99,491.80 305.08,493.84 304.16,493.99 303.25,493.06 302.34,493.00 301.43,494.40 300.51,494.40 299.60,494.40 298.69,494.40 297.78,494.40 296.86,493.99 295.95,494.40 295.04,494.40 294.13,494.40 293.21,494.40 292.30,494.40" fill="#a6d6a0" fill-opacity="0.85" stroke="none"/>
<polygon points="292.30,492.00 293.21,491.78 294.13,492.04 295.04,491.44 295.95,491.05 296.86,491.09 297.78,491.40 298.69,491.86 299.60,491.37 300.51,490.98 301.43,490.61 302.34,490.13 303.25,490.60 304.16,490.39 305.08,489.60 305.99,489.45 306.90,489.90 307.81,489.64 308.73,488.92 309.64,488.43 310.55,488.02 311.46,488.51 312.38,488.79 313.29,487.89 314.20,488.16 315.12,487.84 316.03,487.22 316.94,487.50 317.85,486.24 318.77,485.84 319.68,486.36 320.59,485.96 321.50,485.62 322.42,485.77 323.33,485.28 324.24,483.58 325.15,482.83 326.07,483.16 326.98,483.03 327.89,482.42 328.80,481.80 329.72,482.14 330.63,481.83 331.54,481.10 332.45,480.23 333.37,480.05 334.28,479.98 335.19,480.14 336.10,480.31 337.02,479.79 337.93,480.09 338.84,479.02 339.76,478.74 340.67,478.71 341.58,478.08 342.49,477.32 343.41,476.32 344.32,477.15 345.23,476.44 346.14,475.14 347.06,473.96 347.97,472.67 348.88,472.73 349.79,473.96 350.71,472.88 351.62,470.91 352.53,471.92 353.44,471.12 354.36,469.01 355.27,469.40 356.18,468.87 357.09,467.50 358.01,467.77 358.92,467.17 359.83,466.66 360.75,465.62 361.66,464.26 362.57,463.04 363.48,461.62 364.40,461.70 365.31,461.16 366.22,460.94 367.13,460.48 368.05,459.72 368.96,459.74 369.87,457.95 370.78,457.29 371.70,456.59 372.61,456.28 373.52,456.29 374.43,454.23 375.35,452.00 376.26,452.34 377.17,451.51 378.08,449.78 379.00,448.53 379.91,447.87 380.82,448.74 381.73,447.27 382.65,446.65 383.56,445.76 384.47,444.00 385.39,442.09 386.30,440.75 387.21,441.62 388.12,441.83 389.04,440.59 389.95,440.14 390.86,440.07 391.77,435.87 392.69,433.86 393.60,433.53 394.51,432.47 395.42,433.00 396.34,433.12 397.25,431.09 398.16,429.33 399.07,428.32 399.99,427.89 400.90,427.53 401.81,425.01 402.72,426.68 403.64,426.88 404.55,425.81 405.46,426.40 406.38,424.61 407.29,422.10 408.20,420.21 409.11,420.42 410.03,419.94 410.94,418.32 411.85,418.42 412.76,418.99 413.68,418.15 414.59,413.23 415.50,413.31 416.41,415.94 417.33,415.10 418.24,412.84 419.15,409.46 420.06,408.67 420.98,407.68 421.89,408.23 422.80,407.71 423.71,406.98 424.63,405.00 425.54,400.55 426.45,401.62 427.36,401.99 428.28,402.28 428.28,412.59 427.36,412.76 426.45,413.53 425.54,413.47 424.63,416.44 423.71,416.65 422.80,418.71 421.89,421.18 420.98,421.60 420.06,421.78 419.15,422.23 418.24,423.60 417.33,423.76 416.41,424.69 415.50,426.87 414.59,426.21 413.68,427.47 412.76,428.46 411.85,427.91 410.94,429.73 410.03,431.23 409.11,431.39 408.20,433.89 407.29,432.65 406.38,434.53 405.46,434.91 404.55,436.21 403.64,437.10 402.72,437.99 401.81,437.76 400.90,438.90 399.99,440.06 399.07,440.57 398.16,439.93 397.25,441.54 396.34,441.91 395.42,442.53 394.51,444.42 393.60,444.31 392.69,444.68 391.77,444.53 390.86,446.40 389.95,447.40 389.04,447.20 388.12,449.12 387.21,449.78 386.30,449.81 385.39,450.59 384.47,452.51 383.56,452.92 382.65,453.19 381.73,454.67 380.82,456.42 379.91,456.01 379.00,457.13 378.08,457.33 377.17,458.76 376.26,459.82 375.35,459.96 374.43,459.58 373.52,460.82 372.61,463.00 371.70,462.87 370.78,462.24 369.87,463.86 368.96,464.45 368.05,465.52 367.13,465.58 366.22,466.38 365.31,466.00 364.40,467.89 363.48,469.53 362.57,468.62 361.66,470.06 360.75,470.42 359.83,470.32 358.92,471.48 358.01,471.80 357.09,472.71 356.18,473.85 355.27,473.08 354.36,474.10 353.44,475.09 352.53,475.58 351.62,475.97 350.71,476.83 349.79,477.53 348.88,478.13 347.97,478.77 347.06,478.32 346.14,479.20 345.23,479.57 344.32,480.55 343.41,480.17 342.49,481.37 341.58,481.42 340.67,481.70 339.76,482.46 338.84,482.30 337.93,482.97 337.02,483.26 336.10,483.12 335.19,483.45 334.28,483.82 333.37,483.68 332.45,484.82 331.54,484.99 330.63,484.68 329.72,485.57 328.80,485.83 327.89,485.99 326.98,486.44 326.07,486.96 325.15,487.95 324.24,488.32 323.33,488.59 322.42,487.94 321.50,489.11 320.59,488.85 319.68,489.03 318.77,490.04 317.85,489.65 316.94,489.85 316.03,489.80 315.12,490.24 314.20,491.16 313.29,490.66 312.38,491.45 311.46,491.43 310.55,490.99 309.64,491.77 308.73,491.99 307.81,491.95 306.90,492.48 305.99,492.46 305.08,492.85 304.16,492.88 303.25,493.10 302.34,493.14 301.43,493.00 300.51,493.08 299.60,493.80 298.69,493.68 297.78,493.89 296.86,493.79 295.95,494.40 295.04,494.40 294.13,494.40 293.21,494.40 292.30,494.40" fill="#929292" fill-opacity="0.9" stroke="none"/>
<polyline points="292.30,493.30 293.21,493.29 294.13,492.73 295.04,492.20 295.95,492.68 296.86,492.33 297.78,492.05 298.69,491.84 299.60,492.70 300.51,491.75 301.43,491.94 302.34,492.20 303.25,492.14 304.16,491.74 305.08,492.12 305.99,492.31 306.90,491.23 307.81,490.65 308.73,491.17 309.64,490.40 310.55,491.01 311.46,491.27 312.38,491.49 313.29,490.89 314.20,489.24 315.12,490.23 316.03,491.18 316.94,489.81 317.85,489.94 318.77,489.87 319.68,489.85 320.59,489.87 321.50,489.40 322.42,490.29 323.33,489.66 324.24,488.88 325.15,487.89 326.07,487.92 326.98,486.69 327.89,486.96 328.80,489.05 329.72,487.07 330.63,486.52 331.54,486.90 332.45,488.31 333.37,486.96 334.28,487.12 335.19,485.99 336.10,485.17 337.02,485.37 337.93,486.53 338.84,484.86 339.76,485.29 340.67,484.23 341.58,485.06 342.49,484.39 343.41,484.37 344.32,484.26 345.23,482.52 346.14,482.80 347.06,482.96 347.97,484.31 348.88,483.46 349.79,482.58 350.71,481.71 351.62,483.47 352.53,480.76 353.44,482.25 354.36,481.99 355.27,479.47 356.18,480.72 357.09,479.45 358.01,478.43 358.92,478.47 359.83,479.84 360.75,479.16 361.66,479.01 362.57,477.80 363.48,477.67 364.40,476.68 365.31,477.12 366.22,476.46 367.13,477.49 368.05,477.44 368.96,478.57 369.87,477.45 370.78,478.38 371.70,477.26 372.61,474.51 373.52,475.69 374.43,475.70 375.35,475.69 376.26,475.94 377.17,475.27 378.08,473.83 379.00,476.00 379.91,475.43 380.82,475.64 381.73,474.87 382.65,471.34 383.56,472.07 384.47,471.83 385.39,475.54 386.30,475.55 387.21,472.69 388.12,474.77 389.04,473.20 389.95,475.09 390.86,472.00 391.77,473.38 392.69,473.59 393.60,469.62 394.51,472.68 395.42,474.08 396.34,473.80 397.25,471.10 398.16,473.57 399.07,470.35 399.99,473.56 400.90,471.68 401.81,473.23 402.72,470.30 403.64,469.94 404.55,470.67 405.46,471.43 406.38,471.73 407.29,471.01 408.20,472.23 409.11,471.42 410.03,468.57 410.94,470.69 411.85,469.88 412.76,467.87 413.68,469.08 414.59,469.31 415.50,467.78 416.41,468.40 417.33,468.34 418.24,468.43 419.15,466.61 420.06,466.12 420.98,471.41 421.89,465.42 422.80,466.82 423.71,468.17 424.63,466.37 425.54,469.41 426.45,466.84 427.36,465.29 428.28,466.91" fill="none" stroke="#dcdcdc" stroke-width="1.0" stroke-linejoin="round" stroke-opacity="1.0"/>
<path d="M301.43 490.76 V485.30 M300.23 485.30 H302.63" stroke="#d8d8d8" stroke-width="0.6" fill="none"/>
<path d="M319.68 488.03 V483.48 M318.48 483.48 H320.88" stroke="#d8d8d8" stroke-width="0.6" fill="none"/>
<path d="M347.06 482.57 V478.02 M345.86 478.02 H348.26" stroke="#d8d8d8" stroke-width="0.6" fill="none"/>
<path d="M360.75 478.93 V474.38 M359.55 474.38 H361.94" stroke="#d8d8d8" stroke-width="0.6" fill="none"/>
<path d="M367.59 477.11 V471.65 M366.39 471.65 H368.79" stroke="#d8d8d8" stroke-width="0.6" fill="none"/>
<path d="M374.43 476.20 V473.47 M373.23 473.47 H375.63" stroke="#d8d8d8" stroke-width="0.6" fill="none"/>
<path d="M388.12 473.47 V469.83 M386.92 469.83 H389.32" stroke="#d8d8d8" stroke-width="0.6" fill="none"/>
<path d="M401.81 470.74 V468.01 M400.61 468.01 H403.01" stroke="#d8d8d8" stroke-width="0.6" fill="none"/>
<polygon points="292.30,493.60 293.21,493.10 294.13,494.20 295.04,494.17 295.95,493.80 296.86,493.38 297.78,493.27 298.69,493.05 299.60,492.83 300.51,493.17 301.43,492.59 302.34,492.17 303.25,492.30 304.16,491.87 305.08,491.22 305.99,492.66 306.90,491.23 307.81,492.78 308.73,492.06 309.64,491.29 310.55,490.96 311.46,491.28 312.38,491.16 313.29,490.66 314.20,491.33 315.12,490.85 316.03,491.63 316.94,492.08 317.85,492.37 318.77,489.88 319.68,490.34 320.59,491.01 321.50,490.99 322.42,490.84 323.33,491.15 324.24,490.80 325.15,490.37 326.07,489.22 326.98,489.58 327.89,490.73 328.80,488.72 329.72,488.77 330.63,489.11 331.54,489.02 332.45,488.53 333.37,488.60 334.28,489.08 335.19,487.02 336.10,487.53 337.02,487.73 337.93,488.45 338.84,488.50 339.76,486.80 340.67,487.07 341.58,486.71 342.49,487.70 343.41,486.67 344.32,487.46 345.23,486.64 346.14,486.15 347.06,484.81 347.97,486.31 348.88,486.43 349.79,484.86 350.71,484.47 351.62,486.09 352.53,484.11 353.44,483.42 354.36,484.40 355.27,483.73 356.18,482.92 357.09,482.80 358.01,483.25 358.92,483.17 359.83,482.46 360.75,481.96 361.66,482.41 362.57,482.62 363.48,481.11 364.40,480.67 365.31,480.23 366.22,481.26 367.13,479.13 368.05,478.10 368.96,480.83 369.87,479.54 370.78,479.00 371.70,481.31 372.61,479.48 373.52,480.07 374.43,479.14 375.35,479.73 376.26,478.68 377.17,478.06 378.08,478.01 379.00,476.19 379.91,477.31 380.82,476.22 381.73,476.17 382.65,476.53 383.56,476.33 384.47,475.00 385.39,474.91 386.30,474.10 387.21,476.05 388.12,474.46 389.04,474.78 389.95,474.29 390.86,473.30 391.77,472.05 392.69,475.37 393.60,474.37 394.51,472.01 395.42,472.43 396.34,470.74 397.25,471.36 398.16,471.87 399.07,471.11 399.99,468.88 400.90,471.63 401.81,470.76 402.72,472.27 403.64,470.65 404.55,469.56 405.46,469.78 406.38,468.90 407.29,470.62 408.20,468.98 409.11,468.27 410.03,467.93 410.94,465.60 411.85,469.66 412.76,465.70 413.68,465.78 414.59,469.00 415.50,467.52 416.41,465.13 417.33,463.18 418.24,466.36 419.15,465.27 420.06,464.46 420.98,465.94 421.89,463.48 422.80,461.65 423.71,464.15 424.63,465.05 425.54,462.42 426.45,462.54 427.36,464.95 428.28,460.22 428.28,468.72 427.36,468.42 426.45,468.56 425.54,470.86 424.63,469.08 423.71,470.24 422.80,470.27 421.89,467.73 420.98,470.19 420.06,471.45 419.15,470.07 418.24,470.07 417.33,469.96 416.41,470.29 415.50,472.09 414.59,471.81 413.68,471.78 412.76,471.74 411.85,472.70 410.94,472.66 410.03,473.34 409.11,473.34 408.20,474.17 407.29,474.00 406.38,474.23 405.46,474.63 404.55,474.60 403.64,474.02 402.72,475.10 401.81,476.27 400.90,476.71 399.99,476.20 399.07,477.07 398.16,477.39 397.25,476.48 396.34,476.64 395.42,477.95 394.51,478.25 393.60,478.23 392.69,478.11 391.77,478.79 390.86,478.45 389.95,478.73 389.04,478.19 388.12,479.69 387.21,479.02 386.30,478.72 385.39,479.40 384.47,479.98 383.56,479.66 382.65,481.25 381.73,480.75 380.82,481.11 379.91,480.92 379.00,480.83 378.08,481.97 377.17,480.57 376.26,481.19 375.35,482.80 374.43,482.19 373.52,482.29 372.61,482.13 371.70,482.31 370.78,482.44 369.87,482.95 368.96,483.09 368.05,482.77 367.13,484.24 366.22,483.76 365.31,483.96 364.40,484.07 363.48,485.01 362.57,485.78 361.66,484.50 360.75,485.03 359.83,486.17 358.92,485.47 358.01,486.22 357.09,485.89 356.18,486.36 355.27,486.05 354.36,486.42 353.44,487.21 352.53,487.23 351.62,488.17 350.71,488.20 349.79,487.77 348.88,487.93 347.97,487.25 347.06,487.87 346.14,488.52 345.23,488.33 344.32,489.15 343.41,489.41 342.49,489.25 341.58,489.41 340.67,490.21 339.76,489.91 338.84,489.99 337.93,489.98 337.02,490.85 336.10,489.71 335.19,490.29 334.28,490.10 333.37,491.09 332.45,490.42 331.54,490.76 330.63,491.18 329.72,490.99 328.80,491.11 327.89,491.47 326.98,491.33 326.07,492.05 325.15,491.29 324.24,491.85 323.33,492.17 322.42,492.20 321.50,492.38 320.59,492.02 319.68,492.75 318.77,492.12 317.85,491.97 316.94,492.49 316.03,492.85 315.12,493.42 314.20,492.63 313.29,492.80 312.38,493.04 311.46,493.50 310.55,493.15 309.64,493.05 308.73,493.42 307.81,493.80 306.90,493.51 305.99,493.05 305.08,493.52 304.16,493.93 303.25,493.93 302.34,493.81 301.43,493.65 300.51,493.63 299.60,493.79 298.69,493.98 297.78,493.90 296.86,494.34 295.95,494.30 295.04,493.81 294.13,494.13 293.21,493.75 292.30,494.27" fill="#8c8cf0" fill-opacity="0.7" stroke="none"/>
<polygon points="292.30,491.60 293.21,491.12 294.13,491.50 295.04,492.17 295.95,491.31 296.86,491.20 297.78,491.40 298.69,491.77 299.60,490.91 300.51,491.67 301.43,490.72 302.34,490.53 303.25,489.22 304.16,489.74 305.08,489.72 305.99,489.78 306.90,490.03 307.81,489.97 308.73,490.04 309.64,489.30 310.55,488.95 311.46,489.77 312.38,489.60 313.29,489.13 314.20,488.70 315.12,488.61 316.03,488.21 316.94,488.91 317.85,488.83 318.77,488.52 319.68,489.50 320.59,488.63 321.50,488.94 322.42,488.47 323.33,488.89 324.24,488.69 325.15,488.92 326.07,487.80 326.98,487.92 327.89,487.79 328.80,488.48 329.72,487.90 330.63,487.10 331.54,486.82 332.45,487.15 333.37,487.84 334.28,487.03 335.19,486.85 336.10,487.68 337.02,487.36 337.93,486.93 338.84,486.47 339.76,487.03 340.67,487.88 341.58,487.02 342.49,486.18 343.41,486.74 344.32,486.74 345.23,486.77 346.14,486.51 347.06,486.29 347.97,485.75 348.88,486.75 349.79,486.63 350.71,486.54 351.62,485.22 352.53,485.29 353.44,485.67 354.36,484.22 355.27,484.08 356.18,484.14 357.09,484.36 358.01,485.45 358.92,483.59 359.83,483.49 360.75,484.16 361.66,484.44 362.57,482.98 363.48,483.48 364.40,482.09 365.31,483.94 366.22,483.28 367.13,483.08 368.05,482.95 368.96,482.86 369.87,482.76 370.78,482.84 371.70,484.26 372.61,481.92 373.52,481.49 374.43,481.37 375.35,482.14 376.26,480.65 377.17,479.42 378.08,479.80 379.00,481.55 379.91,480.77 380.82,480.84 381.73,479.54 382.65,479.99 383.56,479.85 384.47,478.58 385.39,478.80 386.30,479.44 387.21,478.11 388.12,479.97 389.04,477.99 389.95,479.70 390.86,477.13 391.77,478.03 392.69,478.62 393.60,478.34 394.51,478.66 395.42,478.13 396.34,477.38 397.25,477.87 398.16,476.67 399.07,477.07 399.99,477.41 400.90,476.28 401.81,477.02 402.72,476.77 403.64,477.45 404.55,475.22 405.46,477.15 406.38,473.31 407.29,474.99 408.20,473.84 409.11,472.98 410.03,474.51 410.94,473.65 411.85,475.11 412.76,473.54 413.68,471.44 414.59,473.39 415.50,472.98 416.41,471.79 417.33,473.75 418.24,472.30 419.15,471.73 420.06,469.82 420.98,471.02 421.89,469.04 422.80,470.93 423.71,469.66 424.63,470.27 425.54,468.80 426.45,470.15 427.36,470.82 428.28,468.70 428.28,471.25 427.36,472.73 426.45,473.75 425.54,473.17 424.63,471.52 423.71,474.18 422.80,474.04 421.89,472.87 420.98,473.90 420.06,474.87 419.15,474.36 418.24,474.68 417.33,475.83 416.41,475.47 415.50,475.74 414.59,475.66 413.68,475.95 412.76,476.14 411.85,476.47 410.94,476.46 410.03,477.72 409.11,476.52 408.20,476.91 407.29,477.42 406.38,479.36 405.46,478.16 404.55,478.16 403.64,477.87 402.72,479.13 401.81,478.86 400.90,478.86 399.99,479.12 399.07,479.89 398.16,480.37 397.25,480.68 396.34,480.70 395.42,480.29 394.51,479.34 393.60,482.06 392.69,480.82 391.77,480.63 390.86,481.36 389.95,482.06 389.04,481.59 388.12,480.45 387.21,482.39 386.30,482.16 385.39,482.82 384.47,482.52 383.56,482.81 382.65,481.99 381.73,482.24 380.82,482.82 379.91,482.41 379.00,483.80 378.08,483.78 377.17,483.85 376.26,484.08 375.35,484.05 374.43,483.54 373.52,483.89 372.61,484.22 371.70,484.83 370.78,484.80 369.87,485.42 368.96,485.85 368.05,485.20 367.13,486.13 366.22,485.98 365.31,486.05 364.40,486.14 363.48,486.62 362.57,486.36 361.66,486.46 360.75,486.36 359.83,486.39 358.92,487.13 358.01,487.13 357.09,486.76 356.18,486.82 355.27,488.21 354.36,488.40 353.44,487.94 352.53,488.27 351.62,487.90 350.71,488.43 349.79,488.40 348.88,487.96 347.97,489.42 347.06,489.54 346.14,488.26 345.23,489.38 344.32,489.50 343.41,489.48 342.49,489.47 341.58,489.54 340.67,490.03 339.76,489.52 338.84,489.33 337.93,490.22 337.02,490.29 336.10,490.54 335.19,490.16 334.28,490.22 333.37,489.88 332.45,489.86 331.54,490.20 330.63,490.09 329.72,490.51 328.80,491.19 327.89,490.07 326.98,490.69 326.07,491.02 325.15,491.35 324.24,491.38 323.33,491.32 322.42,491.54 321.50,492.13 320.59,491.52 319.68,491.99 318.77,491.14 317.85,491.97 316.94,492.11 316.03,492.03 315.12,492.39 314.20,492.14 313.29,492.45 312.38,492.31 311.46,492.37 310.55,492.53 309.64,492.31 308.73,492.16 307.81,492.29 306.90,492.47 305.99,492.35 305.08,493.11 304.16,493.02 303.25,493.44 302.34,493.14 301.43,493.15 300.51,493.15 299.60,493.49 298.69,493.92 297.78,493.61 296.86,494.26 295.95,494.05 295.04,493.83 294.13,494.29 293.21,494.09 292.30,494.40" fill="#f09090" fill-opacity="0.7" stroke="none"/>
<polyline points="292.30,493.53 293.21,493.69 294.13,493.23 295.04,493.72 295.95,492.69 296.86,493.12 297.78,492.78 298.69,492.59 299.60,492.63 300.51,492.52 301.43,492.88 302.34,492.39 303.25,492.39 304.16,492.09 305.08,492.84 305.99,492.36 306.90,491.83 307.81,491.56 308.73,491.66 309.64,491.90 310.55,491.68 311.46,491.57 312.38,492.40 313.29,491.59 314.20,491.52 315.12,491.44 316.03,491.05 316.94,491.49 317.85,490.90 318.77,490.89 319.68,490.80 320.59,490.81 321.50,490.48 322.42,490.09 323.33,490.76 324.24,490.84 325.15,490.31 326.07,489.54 326.98,490.13 327.89,490.09 328.80,490.11 329.72,490.13 330.63,490.04 331.54,488.51 332.45,489.76 333.37,489.87 334.28,489.45 335.19,489.01 336.10,489.63 337.02,489.42 337.93,489.11 338.84,488.70 339.76,489.41 340.67,488.74 341.58,487.99 342.49,488.94 343.41,488.91 344.32,488.19 345.23,487.91 346.14,488.22 347.06,487.95 347.97,487.59 348.88,487.38 349.79,487.55 350.71,487.08 351.62,488.01 352.53,487.01 353.44,487.30 354.36,486.49 355.27,486.58 356.18,485.75 357.09,486.21 358.01,486.05 358.92,485.82 359.83,485.47 360.75,485.81 361.66,486.09 362.57,485.84 363.48,485.05 364.40,484.37 365.31,485.40 366.22,484.53 367.13,485.40 368.05,484.28 368.96,484.69 369.87,484.37 370.78,483.52 371.70,482.95 372.61,483.94 373.52,484.09 374.43,483.85 375.35,483.03 376.26,483.09 377.17,483.08 378.08,483.12 379.00,482.53 379.91,482.62 380.82,481.57 381.73,482.15 382.65,481.05 383.56,481.17 384.47,481.08 385.39,481.20 386.30,481.90 387.21,480.59 388.12,480.20 389.04,480.86 389.95,481.34 390.86,481.09 391.77,480.85 392.69,480.78 393.60,479.04 394.51,479.76 395.42,479.06 396.34,479.95 397.25,478.83 398.16,478.78 399.07,478.29 399.99,479.04 400.90,478.51 401.81,478.69 402.72,478.86 403.64,478.41 404.55,477.54 405.46,477.46 406.38,477.54 407.29,477.21 408.20,475.90 409.11,475.89 410.03,475.45 410.94,475.43 411.85,475.46 412.76,474.58 413.68,474.98 414.59,474.89 415.50,474.35 416.41,473.75 417.33,474.58 418.24,473.95 419.15,474.24 420.06,473.13 420.98,473.16 421.89,471.72 422.80,473.24 423.71,472.22 424.63,470.76 425.54,470.17 426.45,473.22 427.36,470.89 428.28,472.05" fill="none" stroke="#e01818" stroke-width="1.1" stroke-linejoin="round" stroke-opacity="1.0"/>
<polyline points="292.30,494.29 293.21,494.26 294.13,494.03 295.04,493.66 295.95,494.06 296.86,494.24 297.78,494.12 298.69,493.35 299.60,493.92 300.51,494.12 301.43,493.83 302.34,493.62 303.25,493.58 304.16,493.09 305.08,493.64 305.99,494.00 306.90,493.07 307.81,493.37 308.73,493.28 309.64,493.49 310.55,493.52 311.46,492.66 312.38,493.50 313.29,493.16 314.20,493.24 315.12,492.37 316.03,492.63 316.94,492.87 317.85,492.35 318.77,491.88 319.68,492.71 320.59,492.61 321.50,492.12 322.42,492.09 323.33,492.43 324.24,492.16 325.15,491.85 326.07,491.44 326.98,492.10 327.89,491.28 328.80,491.22 329.72,490.58 330.63,491.95 331.54,491.11 332.45,490.98 333.37,490.17 334.28,490.97 335.19,490.60 336.10,490.16 337.02,489.88 337.93,489.78 338.84,490.29 339.76,488.93 340.67,489.75 341.58,489.15 342.49,488.77 343.41,489.11 344.32,488.58 345.23,489.22 346.14,488.50 347.06,488.49 347.97,488.74 348.88,488.22 349.79,488.19 350.71,487.14 351.62,487.68 352.53,487.79 353.44,486.99 354.36,486.84 355.27,485.31 356.18,485.44 357.09,485.96 358.01,486.19 358.92,484.53 359.83,485.26 360.75,486.00 361.66,484.77 362.57,485.60 363.48,483.92 364.40,484.12 365.31,484.70 366.22,484.21 367.13,484.82 368.05,482.57 368.96,483.21 369.87,482.68 370.78,482.14 371.70,482.86 372.61,482.76 373.52,482.51 374.43,481.87 375.35,482.32 376.26,481.85 377.17,481.28 378.08,481.16 379.00,481.38 379.91,481.49 380.82,480.99 381.73,480.07 382.65,479.46 383.56,479.37 384.47,480.04 385.39,479.27 386.30,479.23 387.21,478.34 388.12,479.57 389.04,478.13 389.95,478.43 390.86,478.58 391.77,476.69 392.69,476.89 393.60,478.91 394.51,477.61 395.42,477.01 396.34,476.56 397.25,477.92 398.16,476.53 399.07,476.41 399.99,476.82 400.90,475.46 401.81,476.11 402.72,475.50 403.64,475.90 404.55,474.59 405.46,474.29 406.38,474.61 407.29,474.74 408.20,473.83 409.11,473.37 410.03,473.16 410.94,473.21 411.85,471.99 412.76,472.78 413.68,472.22 414.59,470.79 415.50,472.44 416.41,471.49 417.33,471.04 418.24,471.63 419.15,471.90 420.06,471.32 420.98,472.04 421.89,470.02 422.80,469.84 423.71,468.93 424.63,467.68 425.54,468.88 426.45,468.60 427.36,468.07 428.28,468.60" fill="none" stroke="#1010e8" stroke-width="1.3" stroke-linejoin="round" stroke-opacity="1.0"/>
<path d="M299.14 489.85 V484.39 M297.94 484.39 H300.34" stroke="#9ccd96" stroke-width="0.6" fill="none"/>
<path d="M310.55 488.03 V483.48 M309.35 483.48 H311.75" stroke="#9ccd96" stroke-width="0.6" fill="none"/>
<path d="M319.68 485.30 V479.84 M318.48 479.84 H320.88" stroke="#9ccd96" stroke-width="0.6" fill="none"/>
<path d="M337.93 478.02 V470.74 M336.73 470.74 H339.13" stroke="#9ccd96" stroke-width="0.6" fill="none"/>
<path d="M351.62 470.74 V464.37 M350.42 464.37 H352.82" stroke="#9ccd96" stroke-width="0.6" fill="none"/>
<path d="M358.46 465.28 V457.09 M357.26 457.09 H359.66" stroke="#9ccd96" stroke-width="0.6" fill="none"/>
<path d="M372.15 455.27 V447.99 M370.95 447.99 H373.35" stroke="#9ccd96" stroke-width="0.6" fill="none"/>
<path d="M385.84 441.62 V435.25 M384.64 435.25 H387.04" stroke="#9ccd96" stroke-width="0.6" fill="none"/>
<path d="M397.25 430.70 V422.51 M396.05 422.51 H398.45" stroke="#9ccd96" stroke-width="0.6" fill="none"/>
<path d="M406.38 422.51 V416.14 M405.18 416.14 H407.57" stroke="#9ccd96" stroke-width="0.6" fill="none"/>
<path d="M420.06 412.50 V407.04 M418.86 407.04 H421.26" stroke="#9ccd96" stroke-width="0.6" fill="none"/>
<polyline points="292.30,493.78 293.21,493.02 294.13,493.04 295.04,492.90 295.95,492.50 296.86,492.15 297.78,492.27 298.69,492.12 299.60,492.75 300.51,491.57 301.43,491.96 302.34,491.01 303.25,490.66 304.16,492.29 305.08,490.33 305.99,491.41 306.90,491.48 307.81,490.81 308.73,490.29 309.64,489.66 310.55,488.32 311.46,490.85 312.38,489.96 313.29,489.30 314.20,489.70 315.12,490.29 316.03,489.13 316.94,488.81 317.85,488.35 318.77,488.68 319.68,487.33 320.59,487.90 321.50,487.32 322.42,488.37 323.33,489.21 324.24,486.71 325.15,486.78 326.07,486.33 326.98,486.49 327.89,486.60 328.80,486.34 329.72,485.22 330.63,486.23 331.54,485.59 332.45,485.10 333.37,484.53 334.28,482.83 335.19,484.56 336.10,481.95 337.02,483.44 337.93,483.24 338.84,483.29 339.76,481.93 340.67,480.98 341.58,482.67 342.49,481.71 343.41,481.49 344.32,481.39 345.23,481.42 346.14,479.91 347.06,479.30 347.97,479.33 348.88,479.67 349.79,478.70 350.71,477.60 351.62,477.59 352.53,476.65 353.44,477.24 354.36,475.88 355.27,475.55 356.18,476.23 357.09,475.37 358.01,475.43 358.92,474.20 359.83,474.03 360.75,473.28 361.66,472.83 362.57,472.84 363.48,471.23 364.40,472.32 365.31,470.66 366.22,472.49 367.13,470.65 368.05,468.32 368.96,468.78 369.87,467.69 370.78,468.25 371.70,468.12 372.61,466.88 373.52,464.92 374.43,464.60 375.35,461.32 376.26,460.37 377.17,460.79 378.08,462.03 379.00,460.11 379.91,459.93 380.82,459.12 381.73,457.95 382.65,456.60 383.56,456.08 384.47,454.88 385.39,456.39 386.30,453.88 387.21,451.60 388.12,451.15 389.04,453.11 389.95,450.32 390.86,449.99 391.77,451.25 392.69,448.64 393.60,447.54 394.51,447.65 395.42,444.26 396.34,446.86 397.25,444.74 398.16,443.50 399.07,442.61 399.99,443.21 400.90,441.09 401.81,440.84 402.72,437.02 403.64,438.06 404.55,439.67 405.46,437.80 406.38,441.92 407.29,440.36 408.20,438.57 409.11,444.51 410.03,438.69 410.94,438.43 411.85,439.19 412.76,435.59 413.68,437.94 414.59,433.61 415.50,434.54 416.41,432.07 417.33,435.17 418.24,431.38 419.15,430.51 420.06,433.59 420.98,428.72 421.89,433.46 422.80,427.40 423.71,427.16 424.63,431.59 425.54,426.32 426.45,428.05 427.36,425.96 428.28,422.58" fill="none" stroke="#2a8a22" stroke-width="1.1" stroke-linejoin="round" stroke-opacity="1.0"/>
<polyline points="292.30,493.46 293.21,493.55 294.13,492.91 295.04,493.25 295.95,493.15 296.86,492.52 297.78,492.12 298.69,491.97 299.60,491.78 300.51,491.89 301.43,491.94 302.34,491.50 303.25,491.34 304.16,491.32 305.08,491.38 305.99,491.06 306.90,490.76 307.81,490.99 308.73,490.52 309.64,490.55 310.55,489.42 311.46,489.51 312.38,489.54 313.29,488.97 314.20,488.98 315.12,488.97 316.03,488.56 316.94,488.38 317.85,486.98 318.77,488.19 319.68,488.53 320.59,487.18 321.50,487.61 322.42,487.41 323.33,486.20 324.24,486.50 325.15,486.22 326.07,485.37 326.98,485.37 327.89,484.29 328.80,484.38 329.72,483.66 330.63,482.83 331.54,482.38 332.45,483.56 333.37,482.68 334.28,482.37 335.19,481.66 336.10,481.83 337.02,481.73 337.93,480.59 338.84,480.37 339.76,480.52 340.67,480.90 341.58,479.74 342.49,479.76 343.41,478.05 344.32,478.19 345.23,477.80 346.14,477.16 347.06,476.78 347.97,477.09 348.88,475.94 349.79,475.61 350.71,476.16 351.62,474.06 352.53,473.76 353.44,473.37 354.36,472.50 355.27,472.46 356.18,471.07 357.09,471.07 358.01,470.85 358.92,468.81 359.83,468.74 360.75,468.43 361.66,467.70 362.57,466.95 363.48,465.88 364.40,465.57 365.31,464.64 366.22,464.94 367.13,464.34 368.05,463.25 368.96,462.51 369.87,462.11 370.78,461.81 371.70,460.87 372.61,459.60 373.52,458.95 374.43,459.26 375.35,457.58 376.26,457.07 377.17,456.43 378.08,455.46 379.00,455.11 379.91,453.54 380.82,453.92 381.73,453.36 382.65,451.90 383.56,451.00 384.47,451.04 385.39,449.38 386.30,448.69 387.21,448.69 388.12,447.42 389.04,445.82 389.95,445.09 390.86,445.51 391.77,443.68 392.69,443.35 393.60,441.37 394.51,442.01 395.42,440.80 396.34,441.46 397.25,439.14 398.16,439.17 399.07,438.82 399.99,438.12 400.90,437.22 401.81,436.81 402.72,435.39 403.64,435.41 404.55,434.61 405.46,431.70 406.38,432.86 407.29,431.70 408.20,431.03 409.11,430.46 410.03,429.53 410.94,429.72 411.85,427.52 412.76,427.06 413.68,426.32 414.59,426.40 415.50,424.15 416.41,424.98 417.33,423.26 418.24,422.89 419.15,422.61 420.06,419.66 420.98,418.94 421.89,418.24 422.80,418.37 423.71,417.57 424.63,414.68 425.54,412.84 426.45,412.99 427.36,410.48 428.28,410.58" fill="none" stroke="#111" stroke-width="1.2" stroke-linejoin="round" stroke-opacity="1.0"/>
<path d="M292.30 65.15 V158.85 H432.59" fill="none" stroke="#111" stroke-width="1.2"/>
<line x1="289.10" y1="158.85" x2="292.30" y2="158.85" stroke="#111" stroke-width="1"/>
<text x="285.80" y="161.85" font-size="8.3" text-anchor="end" font-weight="normal" fill="#111" stroke="#111" stroke-width="0.18" >0</text>
<line x1="289.10" y1="128.55" x2="292.30" y2="128.55" stroke="#111" stroke-width="1"/>
<text x="285.80" y="131.55" font-size="8.3" text-anchor="end" font-weight="normal" fill="#111" stroke="#111" stroke-width="0.18" >5000</text>
<line x1="289.10" y1="98.25" x2="292.30" y2="98.25" stroke="#111" stroke-width="1"/>
<text x="285.80" y="101.25" font-size="8.3" text-anchor="end" font-weight="normal" fill="#111" stroke="#111" stroke-width="0.18" >10000</text>
<line x1="289.10" y1="67.95" x2="292.30" y2="67.95" stroke="#111" stroke-width="1"/>
<text x="285.80" y="70.95" font-size="8.3" text-anchor="end" font-weight="normal" fill="#111" stroke="#111" stroke-width="0.18" >15000</text>
<line x1="292.30" y1="158.85" x2="292.30" y2="161.85" stroke="#111" stroke-width="1"/>
<text x="292.30" y="173.05" font-size="8.3" text-anchor="middle" font-weight="normal" fill="#111" stroke="#111" stroke-width="0.18" >0</text>
<line x1="338.13" y1="158.85" x2="338.13" y2="161.85" stroke="#111" stroke-width="1"/>
<text x="338.13" y="173.05" font-size="8.3" text-anchor="middle" font-weight="normal" fill="#111" stroke="#111" stroke-width="0.18" >100</text>
<line x1="383.96" y1="158.85" x2="383.96" y2="161.85" stroke="#111" stroke-width="1"/>
<text x="383.96" y="173.05" font-size="8.3" text-anchor="middle" font-weight="normal" fill="#111" stroke="#111" stroke-width="0.18" >200</text>
<line x1="429.79" y1="158.85" x2="429.79" y2="161.85" stroke="#111" stroke-width="1"/>
<text x="429.79" y="173.05" font-size="8.3" text-anchor="middle" font-weight="normal" fill="#111" stroke="#111" stroke-width="0.18" >300</text>
<text x="0" y="0" font-size="9.6" fill="#111" stroke="#111" stroke-width="0.3" text-anchor="middle" transform="translate(362.1 186.25) scale(0.7 1)">Time (sec)</text>
<text x="0" y="0" font-size="10.2" font-weight="bold" fill="#111" text-anchor="middle" transform="translate(257 111.90) rotate(-90) scale(0.7 1)">MFI</text>
<text x="347.20" y="50.80" font-size="9.7" fill="#111" stroke="#111" stroke-width="0.15">DPA<tspan font-size="7.0" dx="0.7" dy="3.2">n-6</tspan></text>
<path d="M292.30 229.75 V322.90 H431.09" fill="none" stroke="#111" stroke-width="1.2"/>
<line x1="289.10" y1="322.90" x2="292.30" y2="322.90" stroke="#111" stroke-width="1"/>
<text x="285.80" y="325.90" font-size="8.3" text-anchor="end" font-weight="normal" fill="#111" stroke="#111" stroke-width="0.18" >0</text>
<line x1="289.10" y1="304.83" x2="292.30" y2="304.83" stroke="#111" stroke-width="1"/>
<text x="285.80" y="307.83" font-size="8.3" text-anchor="end" font-weight="normal" fill="#111" stroke="#111" stroke-width="0.18" >2000</text>
<line x1="289.10" y1="286.76" x2="292.30" y2="286.76" stroke="#111" stroke-width="1"/>
<text x="285.80" y="289.76" font-size="8.3" text-anchor="end" font-weight="normal" fill="#111" stroke="#111" stroke-width="0.18" >4000</text>
<line x1="289.10" y1="268.69" x2="292.30" y2="268.69" stroke="#111" stroke-width="1"/>
<text x="285.80" y="271.69" font-size="8.3" text-anchor="end" font-weight="normal" fill="#111" stroke="#111" stroke-width="0.18" >6000</text>
<line x1="289.10" y1="250.62" x2="292.30" y2="250.62" stroke="#111" stroke-width="1"/>
<text x="285.80" y="253.62" font-size="8.3" text-anchor="end" font-weight="normal" fill="#111" stroke="#111" stroke-width="0.18" >8000</text>
<line x1="289.10" y1="232.55" x2="292.30" y2="232.55" stroke="#111" stroke-width="1"/>
<text x="285.80" y="235.55" font-size="8.3" text-anchor="end" font-weight="normal" fill="#111" stroke="#111" stroke-width="0.18" >10000</text>
<line x1="292.30" y1="322.90" x2="292.30" y2="325.90" stroke="#111" stroke-width="1"/>
<text x="292.30" y="337.10" font-size="8.3" text-anchor="middle" font-weight="normal" fill="#111" stroke="#111" stroke-width="0.18" >0</text>
<line x1="337.63" y1="322.90" x2="337.63" y2="325.90" stroke="#111" stroke-width="1"/>
<text x="337.63" y="337.10" font-size="8.3" text-anchor="middle" font-weight="normal" fill="#111" stroke="#111" stroke-width="0.18" >100</text>
<line x1="382.96" y1="322.90" x2="382.96" y2="325.90" stroke="#111" stroke-width="1"/>
<text x="382.96" y="337.10" font-size="8.3" text-anchor="middle" font-weight="normal" fill="#111" stroke="#111" stroke-width="0.18" >200</text>
<line x1="428.29" y1="322.90" x2="428.29" y2="325.90" stroke="#111" stroke-width="1"/>
<text x="428.29" y="337.10" font-size="8.3" text-anchor="middle" font-weight="normal" fill="#111" stroke="#111" stroke-width="0.18" >300</text>
<text x="0" y="0" font-size="9.6" fill="#111" stroke="#111" stroke-width="0.3" text-anchor="middle" transform="translate(362.1 350.30) scale(0.7 1)">Time (sec)</text>
<text x="0" y="0" font-size="10.2" font-weight="bold" fill="#111" text-anchor="middle" transform="translate(257 276.00) rotate(-90) scale(0.7 1)">MFI</text>
<text x="333.60" y="217.70" font-size="9.8" fill="#111" stroke="#111" stroke-width="0.15">11-HpDPA<tspan font-size="7.4" dx="0.7" dy="3.2">n-6</tspan></text>
<path d="M292.30 400.60 V494.40 H431.99" fill="none" stroke="#111" stroke-width="1.2"/>
<line x1="289.10" y1="494.40" x2="292.30" y2="494.40" stroke="#111" stroke-width="1"/>
<text x="285.80" y="497.40" font-size="8.3" text-anchor="end" font-weight="normal" fill="#111" stroke="#111" stroke-width="0.18" >0</text>
<line x1="289.10" y1="476.20" x2="292.30" y2="476.20" stroke="#111" stroke-width="1"/>
<text x="285.80" y="479.20" font-size="8.3" text-anchor="end" font-weight="normal" fill="#111" stroke="#111" stroke-width="0.18" >2000</text>
<line x1="289.10" y1="458.00" x2="292.30" y2="458.00" stroke="#111" stroke-width="1"/>
<text x="285.80" y="461.00" font-size="8.3" text-anchor="end" font-weight="normal" fill="#111" stroke="#111" stroke-width="0.18" >4000</text>
<line x1="289.10" y1="439.80" x2="292.30" y2="439.80" stroke="#111" stroke-width="1"/>
<text x="285.80" y="442.80" font-size="8.3" text-anchor="end" font-weight="normal" fill="#111" stroke="#111" stroke-width="0.18" >6000</text>
<line x1="289.10" y1="421.60" x2="292.30" y2="421.60" stroke="#111" stroke-width="1"/>
<text x="285.80" y="424.60" font-size="8.3" text-anchor="end" font-weight="normal" fill="#111" stroke="#111" stroke-width="0.18" >8000</text>
<line x1="289.10" y1="403.40" x2="292.30" y2="403.40" stroke="#111" stroke-width="1"/>
<text x="285.80" y="406.40" font-size="8.3" text-anchor="end" font-weight="normal" fill="#111" stroke="#111" stroke-width="0.18" >10000</text>
<line x1="292.30" y1="494.40" x2="292.30" y2="497.40" stroke="#111" stroke-width="1"/>
<text x="292.30" y="508.60" font-size="8.3" text-anchor="middle" font-weight="normal" fill="#111" stroke="#111" stroke-width="0.18" >0</text>
<line x1="337.93" y1="494.40" x2="337.93" y2="497.40" stroke="#111" stroke-width="1"/>
<text x="337.93" y="508.60" font-size="8.3" text-anchor="middle" font-weight="normal" fill="#111" stroke="#111" stroke-width="0.18" >100</text>
<line x1="383.56" y1="494.40" x2="383.56" y2="497.40" stroke="#111" stroke-width="1"/>
<text x="383.56" y="508.60" font-size="8.3" text-anchor="middle" font-weight="normal" fill="#111" stroke="#111" stroke-width="0.18" >200</text>
<line x1="429.19" y1="494.40" x2="429.19" y2="497.40" stroke="#111" stroke-width="1"/>
<text x="429.19" y="508.60" font-size="8.3" text-anchor="middle" font-weight="normal" fill="#111" stroke="#111" stroke-width="0.18" >300</text>
<text x="0" y="0" font-size="9.6" fill="#111" stroke="#111" stroke-width="0.3" text-anchor="middle" transform="translate(362.1 521.80) scale(0.7 1)">Time (sec)</text>
<text x="0" y="0" font-size="10.2" font-weight="bold" fill="#111" text-anchor="middle" transform="translate(257 447.20) rotate(-90) scale(0.7 1)">MFI</text>
<text x="334.20" y="389.30" font-size="9.8" fill="#111" stroke="#111" stroke-width="0.15">14-HpDPA<tspan font-size="7.4" dx="0.7" dy="3.2">n-6</tspan></text>
<line x1="436" y1="79.90" x2="444" y2="79.90" stroke="#333" stroke-width="1.6"/>
<text x="447.3" y="82.60" font-size="7.6" letter-spacing="0.22" fill="#111" stroke="#111" stroke-width="0.15">DMSO</text>
<line x1="436" y1="97.70" x2="444" y2="97.70" stroke="#5ea560" stroke-width="1.6"/>
<text x="447.3" y="100.40" font-size="7.6" letter-spacing="0.22" fill="#111" stroke="#111" stroke-width="0.15">100 nM, <tspan font-style="italic">P</tspan>&lt;.0001</text>
<line x1="436" y1="106.90" x2="444" y2="106.90" stroke="#5a4fb0" stroke-width="1.6"/>
<text x="447.3" y="109.60" font-size="7.6" letter-spacing="0.22" fill="#111" stroke="#111" stroke-width="0.15">500 nM, <tspan font-style="italic">P</tspan>&lt;.0001</text>
<line x1="436" y1="116.20" x2="444" y2="116.20" stroke="#e0452a" stroke-width="1.6"/>
<text x="447.3" y="118.90" font-size="7.6" letter-spacing="0.22" fill="#111" stroke="#111" stroke-width="0.15">1 &#181;M, <tspan font-style="italic">P</tspan>&lt;.0001</text>
<line x1="436" y1="125.40" x2="444" y2="125.40" stroke="#b8b8b8" stroke-width="1.6"/>
<text x="447.3" y="128.10" font-size="7.6" letter-spacing="0.22" fill="#111" stroke="#111" stroke-width="0.15">5 &#181;M, <tspan font-style="italic">P</tspan>&lt;.0001</text>
<line x1="435.5" y1="247.50" x2="443" y2="247.50" stroke="#111" stroke-width="1.6"/>
<text x="446.4" y="250.20" font-size="7.6" letter-spacing="0.22" fill="#111" stroke="#111" stroke-width="0.15">DMSO</text>
<line x1="435.5" y1="265.30" x2="443" y2="265.30" stroke="#2e8b2e" stroke-width="1.6"/>
<text x="446.4" y="268.00" font-size="7.6" letter-spacing="0.22" fill="#111" stroke="#111" stroke-width="0.15">250 nM, <tspan font-style="italic">P</tspan>&lt;.0001</text>
<line x1="435.5" y1="274.40" x2="443" y2="274.40" stroke="#2b2b9c" stroke-width="1.6"/>
<text x="446.4" y="277.10" font-size="7.6" letter-spacing="0.22" fill="#111" stroke="#111" stroke-width="0.15">500 nM, <tspan font-style="italic">P</tspan>&lt;.0001</text>
<line x1="435.5" y1="283.80" x2="443" y2="283.80" stroke="#d43a2a" stroke-width="1.6"/>
<text x="446.4" y="286.50" font-size="7.6" letter-spacing="0.22" fill="#111" stroke="#111" stroke-width="0.15">1 &#181;M, <tspan font-style="italic">P</tspan>&lt;.0001</text>
<line x1="435.5" y1="292.60" x2="443" y2="292.60" stroke="#bbbbbb" stroke-width="1.6"/>
<text x="446.4" y="295.30" font-size="7.6" letter-spacing="0.22" fill="#111" stroke="#111" stroke-width="0.15">2.5 &#181;M, <tspan font-style="italic">P</tspan>&lt;.0001</text>
<line x1="438" y1="408.00" x2="446" y2="408.00" stroke="#222" stroke-width="1.6"/>
<text x="449.5" y="410.70" font-size="7.6" letter-spacing="0.22" fill="#111" stroke="#111" stroke-width="0.15">DMSO</text>
<line x1="438" y1="419.50" x2="446" y2="419.50" stroke="#3f9a3f" stroke-width="1.6"/>
<text x="449.5" y="422.20" font-size="7.6" letter-spacing="0.22" fill="#111" stroke="#111" stroke-width="0.15">250 nM, <tspan font-style="italic">P</tspan>&lt;.0001</text>
<line x1="438" y1="461.00" x2="446" y2="461.00" stroke="#3434a4" stroke-width="1.6"/>
<text x="449.5" y="463.70" font-size="7.6" letter-spacing="0.22" fill="#111" stroke="#111" stroke-width="0.15">500 nM, <tspan font-style="italic">P</tspan>&lt;.0001</text>
<line x1="438" y1="470.50" x2="446" y2="470.50" stroke="#d84030" stroke-width="1.6"/>
<text x="449.5" y="473.20" font-size="7.6" letter-spacing="0.22" fill="#111" stroke="#111" stroke-width="0.15">1 &#181;M, <tspan font-style="italic">P</tspan>&lt;.0001</text>
<line x1="438" y1="480.00" x2="446" y2="480.00" stroke="#bbbbbb" stroke-width="1.6"/>
<text x="449.5" y="482.70" font-size="7.6" letter-spacing="0.22" fill="#111" stroke="#111" stroke-width="0.15">2.5 &#181;M, <tspan font-style="italic">P</tspan>&lt;.0001</text>
<rect x="0.5" y="0.5" width="519" height="528" fill="none" stroke="#000" stroke-width="1"/>
</svg>
</body></html>
